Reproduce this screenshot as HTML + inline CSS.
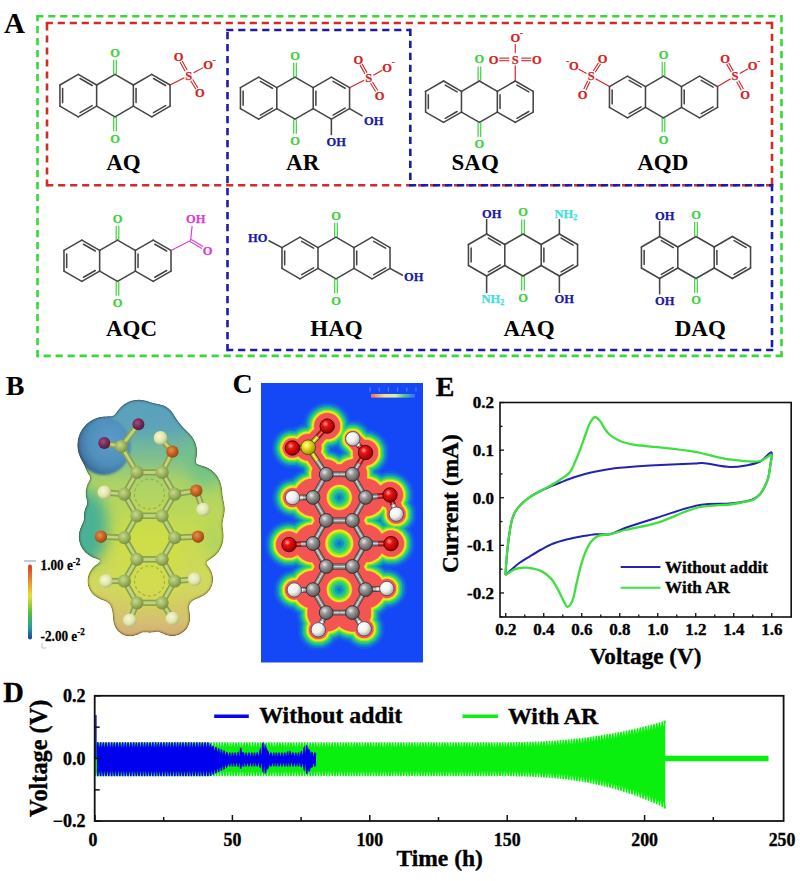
<!DOCTYPE html>
<html><head><meta charset="utf-8"><style>
html,body{margin:0;padding:0;background:#fff;width:800px;height:881px;overflow:hidden}
svg{display:block}
</style></head><body>
<svg width="800" height="881" viewBox="0 0 800 881">
<rect width="800" height="881" fill="#fff"/>
<g fill="none" stroke="#38d838" stroke-width="2.6" stroke-dasharray="7.2 4.8">
<path d="M36.20 16.30 L781.50 16.30"/>
<path d="M781.50 15.00 L781.50 355.90"/>
<path d="M782.80 355.90 L37.50 355.90"/>
<path d="M37.50 357.20 L37.50 16.30"/>
</g>
<g fill="none" stroke="#d42a2a" stroke-width="2.6" stroke-dasharray="7.2 4.8">
<path d="M45.70 23.00 L772.00 23.00"/>
<path d="M772.00 21.70 L772.00 185.30"/>
<path d="M773.30 185.30 L47.00 185.30"/>
<path d="M47.00 186.60 L47.00 23.00"/>
</g>
<g fill="none" stroke="#1c1ca8" stroke-width="2.6" stroke-dasharray="7.2 4.8">
<path d="M226.20 30.00 L410.30 30.00"/>
<path d="M410.30 28.70 L410.30 185.30"/>
<path d="M409.00 185.30 L772.00 185.30"/>
<path d="M772.00 184.00 L772.00 350.00"/>
<path d="M773.30 350.00 L227.50 350.00"/>
<path d="M227.50 351.30 L227.50 30.00"/>
</g>
<text transform="translate(14.50,32.80) scale(1,1.05)" font-family="Liberation Serif" font-weight="bold" font-size="29" fill="#000" stroke="#000" stroke-width="0" text-anchor="middle" >A</text>
<g stroke-linecap="round">
<line x1="78.28" y1="74.40" x2="96.64" y2="85.00" stroke="#454545" stroke-width="1.55"/>
<line x1="96.64" y1="85.00" x2="96.64" y2="106.20" stroke="#454545" stroke-width="1.55"/>
<line x1="96.64" y1="106.20" x2="78.28" y2="116.80" stroke="#454545" stroke-width="1.55"/>
<line x1="78.28" y1="116.80" x2="59.92" y2="106.20" stroke="#454545" stroke-width="1.55"/>
<line x1="59.92" y1="106.20" x2="59.92" y2="85.00" stroke="#454545" stroke-width="1.55"/>
<line x1="59.92" y1="85.00" x2="78.28" y2="74.40" stroke="#454545" stroke-width="1.55"/>
<line x1="115.00" y1="74.40" x2="133.36" y2="85.00" stroke="#454545" stroke-width="1.55"/>
<line x1="133.36" y1="85.00" x2="133.36" y2="106.20" stroke="#454545" stroke-width="1.55"/>
<line x1="133.36" y1="106.20" x2="115.00" y2="116.80" stroke="#454545" stroke-width="1.55"/>
<line x1="115.00" y1="116.80" x2="96.64" y2="106.20" stroke="#454545" stroke-width="1.55"/>
<line x1="96.64" y1="85.00" x2="115.00" y2="74.40" stroke="#454545" stroke-width="1.55"/>
<line x1="151.72" y1="74.40" x2="170.08" y2="85.00" stroke="#454545" stroke-width="1.55"/>
<line x1="170.08" y1="85.00" x2="170.08" y2="106.20" stroke="#454545" stroke-width="1.55"/>
<line x1="170.08" y1="106.20" x2="151.72" y2="116.80" stroke="#454545" stroke-width="1.55"/>
<line x1="151.72" y1="116.80" x2="133.36" y2="106.20" stroke="#454545" stroke-width="1.55"/>
<line x1="133.36" y1="85.00" x2="151.72" y2="74.40" stroke="#454545" stroke-width="1.55"/>
<line x1="80.05" y1="78.54" x2="92.17" y2="85.54" stroke="#454545" stroke-width="1.55"/>
<line x1="92.17" y1="105.66" x2="80.05" y2="112.66" stroke="#454545" stroke-width="1.55"/>
<line x1="62.62" y1="102.60" x2="62.62" y2="88.60" stroke="#454545" stroke-width="1.55"/>
<line x1="153.49" y1="78.54" x2="165.61" y2="85.54" stroke="#454545" stroke-width="1.55"/>
<line x1="165.61" y1="105.66" x2="153.49" y2="112.66" stroke="#454545" stroke-width="1.55"/>
<line x1="136.06" y1="102.60" x2="136.06" y2="88.60" stroke="#454545" stroke-width="1.55"/>
</g>
<line x1="116.30" y1="74.40" x2="116.30" y2="59.90" stroke="#3fd23f" stroke-width="1.2"/>
<line x1="113.70" y1="74.40" x2="113.70" y2="59.90" stroke="#3fd23f" stroke-width="1.2"/>
<line x1="113.70" y1="116.80" x2="113.70" y2="131.30" stroke="#3fd23f" stroke-width="1.2"/>
<line x1="116.30" y1="116.80" x2="116.30" y2="131.30" stroke="#3fd23f" stroke-width="1.2"/>
<text transform="translate(115.00,56.82) scale(1,1.0)" font-family="Liberation Serif" font-weight="bold" font-size="12.5" fill="#3fd23f" stroke="#3fd23f" stroke-width="0.25" text-anchor="middle" >O</text>
<text transform="translate(115.00,142.62) scale(1,1.0)" font-family="Liberation Serif" font-weight="bold" font-size="12.5" fill="#3fd23f" stroke="#3fd23f" stroke-width="0.25" text-anchor="middle" >O</text>
<line x1="170.08" y1="85.00" x2="184.35" y2="77.68" stroke="#d42424" stroke-width="1.2"/>
<line x1="187.19" y1="70.01" x2="182.21" y2="61.03" stroke="#d42424" stroke-width="1.1"/>
<line x1="185.09" y1="71.17" x2="180.11" y2="62.19" stroke="#d42424" stroke-width="1.1"/>
<line x1="190.66" y1="80.71" x2="195.90" y2="89.24" stroke="#d42424" stroke-width="1.1"/>
<line x1="192.70" y1="79.46" x2="197.94" y2="87.99" stroke="#d42424" stroke-width="1.1"/>
<line x1="193.64" y1="72.78" x2="203.16" y2="67.62" stroke="#d42424" stroke-width="1.1"/>
<text transform="translate(188.80,79.53) scale(1,1.0)" font-family="Liberation Serif" font-weight="bold" font-size="12.5" fill="#d42424" stroke="#d42424" stroke-width="0.25" text-anchor="middle" >S</text>
<text transform="translate(178.50,60.92) scale(1,1.0)" font-family="Liberation Serif" font-weight="bold" font-size="12.5" fill="#d42424" stroke="#d42424" stroke-width="0.25" text-anchor="middle" >O</text>
<text transform="translate(199.80,97.42) scale(1,1.0)" font-family="Liberation Serif" font-weight="bold" font-size="12.5" fill="#d42424" stroke="#d42424" stroke-width="0.25" text-anchor="middle" >O</text>
<text transform="translate(208.00,69.12) scale(1,1.0)" font-family="Liberation Serif" font-weight="bold" font-size="12.5" fill="#d42424" stroke="#d42424" stroke-width="0.25" text-anchor="middle" >O</text>
<text transform="translate(214.30,62.80) scale(1,1.0)" font-family="Liberation Serif" font-weight="bold" font-size="9" fill="#d42424" stroke="#d42424" stroke-width="0.25" text-anchor="middle" >-</text>
<text transform="translate(123.50,170.00) scale(1,1.03)" font-family="Liberation Serif" font-weight="bold" font-size="23" fill="#000" stroke="#000" stroke-width="0" text-anchor="middle" >AQ</text>
<g stroke-linecap="round">
<line x1="258.63" y1="77.20" x2="276.81" y2="87.70" stroke="#454545" stroke-width="1.55"/>
<line x1="276.81" y1="87.70" x2="276.81" y2="108.70" stroke="#454545" stroke-width="1.55"/>
<line x1="276.81" y1="108.70" x2="258.63" y2="119.20" stroke="#454545" stroke-width="1.55"/>
<line x1="258.63" y1="119.20" x2="240.44" y2="108.70" stroke="#454545" stroke-width="1.55"/>
<line x1="240.44" y1="108.70" x2="240.44" y2="87.70" stroke="#454545" stroke-width="1.55"/>
<line x1="240.44" y1="87.70" x2="258.63" y2="77.20" stroke="#454545" stroke-width="1.55"/>
<line x1="295.00" y1="77.20" x2="313.19" y2="87.70" stroke="#454545" stroke-width="1.55"/>
<line x1="313.19" y1="87.70" x2="313.19" y2="108.70" stroke="#454545" stroke-width="1.55"/>
<line x1="313.19" y1="108.70" x2="295.00" y2="119.20" stroke="#454545" stroke-width="1.55"/>
<line x1="295.00" y1="119.20" x2="276.81" y2="108.70" stroke="#454545" stroke-width="1.55"/>
<line x1="276.81" y1="87.70" x2="295.00" y2="77.20" stroke="#454545" stroke-width="1.55"/>
<line x1="331.37" y1="77.20" x2="349.56" y2="87.70" stroke="#454545" stroke-width="1.55"/>
<line x1="349.56" y1="87.70" x2="349.56" y2="108.70" stroke="#454545" stroke-width="1.55"/>
<line x1="349.56" y1="108.70" x2="331.37" y2="119.20" stroke="#454545" stroke-width="1.55"/>
<line x1="331.37" y1="119.20" x2="313.19" y2="108.70" stroke="#454545" stroke-width="1.55"/>
<line x1="313.19" y1="87.70" x2="331.37" y2="77.20" stroke="#454545" stroke-width="1.55"/>
<line x1="260.37" y1="81.32" x2="272.37" y2="88.25" stroke="#454545" stroke-width="1.55"/>
<line x1="272.37" y1="108.15" x2="260.37" y2="115.08" stroke="#454545" stroke-width="1.55"/>
<line x1="243.14" y1="105.13" x2="243.14" y2="91.27" stroke="#454545" stroke-width="1.55"/>
<line x1="333.11" y1="81.32" x2="345.12" y2="88.25" stroke="#454545" stroke-width="1.55"/>
<line x1="345.12" y1="108.15" x2="333.11" y2="115.08" stroke="#454545" stroke-width="1.55"/>
<line x1="315.89" y1="105.13" x2="315.89" y2="91.27" stroke="#454545" stroke-width="1.55"/>
</g>
<line x1="296.30" y1="77.20" x2="296.30" y2="62.70" stroke="#3fd23f" stroke-width="1.2"/>
<line x1="293.70" y1="77.20" x2="293.70" y2="62.70" stroke="#3fd23f" stroke-width="1.2"/>
<line x1="293.70" y1="119.20" x2="293.70" y2="133.70" stroke="#3fd23f" stroke-width="1.2"/>
<line x1="296.30" y1="119.20" x2="296.30" y2="133.70" stroke="#3fd23f" stroke-width="1.2"/>
<text transform="translate(295.00,59.62) scale(1,1.0)" font-family="Liberation Serif" font-weight="bold" font-size="12.5" fill="#3fd23f" stroke="#3fd23f" stroke-width="0.25" text-anchor="middle" >O</text>
<text transform="translate(295.00,145.03) scale(1,1.0)" font-family="Liberation Serif" font-weight="bold" font-size="12.5" fill="#3fd23f" stroke="#3fd23f" stroke-width="0.25" text-anchor="middle" >O</text>
<line x1="349.56" y1="87.70" x2="364.14" y2="80.27" stroke="#d42424" stroke-width="1.2"/>
<line x1="366.97" y1="72.61" x2="362.02" y2="63.72" stroke="#d42424" stroke-width="1.1"/>
<line x1="364.88" y1="73.78" x2="359.93" y2="64.89" stroke="#d42424" stroke-width="1.1"/>
<line x1="370.50" y1="83.30" x2="375.67" y2="91.57" stroke="#d42424" stroke-width="1.1"/>
<line x1="372.53" y1="82.03" x2="377.70" y2="90.30" stroke="#d42424" stroke-width="1.1"/>
<line x1="373.39" y1="75.29" x2="382.21" y2="70.31" stroke="#d42424" stroke-width="1.1"/>
<text transform="translate(368.60,82.12) scale(1,1.0)" font-family="Liberation Serif" font-weight="bold" font-size="12.5" fill="#d42424" stroke="#d42424" stroke-width="0.25" text-anchor="middle" >S</text>
<text transform="translate(358.30,63.62) scale(1,1.0)" font-family="Liberation Serif" font-weight="bold" font-size="12.5" fill="#d42424" stroke="#d42424" stroke-width="0.25" text-anchor="middle" >O</text>
<text transform="translate(379.60,99.72) scale(1,1.0)" font-family="Liberation Serif" font-weight="bold" font-size="12.5" fill="#d42424" stroke="#d42424" stroke-width="0.25" text-anchor="middle" >O</text>
<text transform="translate(387.00,71.72) scale(1,1.0)" font-family="Liberation Serif" font-weight="bold" font-size="12.5" fill="#d42424" stroke="#d42424" stroke-width="0.25" text-anchor="middle" >O</text>
<text transform="translate(393.30,65.40) scale(1,1.0)" font-family="Liberation Serif" font-weight="bold" font-size="9" fill="#d42424" stroke="#d42424" stroke-width="0.25" text-anchor="middle" >-</text>
<line x1="349.56" y1="108.70" x2="362.56" y2="116.20" stroke="#454545" stroke-width="1.55"/>
<text transform="translate(364.00,124.60) scale(1,1.0)" font-family="Liberation Serif" font-weight="bold" font-size="12.5" fill="#1a1aa6" stroke="#1a1aa6" stroke-width="0.25" text-anchor="start" >OH</text>
<line x1="331.37" y1="119.20" x2="331.37" y2="135.20" stroke="#454545" stroke-width="1.55"/>
<text transform="translate(326.57,146.20) scale(1,1.0)" font-family="Liberation Serif" font-weight="bold" font-size="12.5" fill="#1a1aa6" stroke="#1a1aa6" stroke-width="0.25" text-anchor="start" >OH</text>
<text transform="translate(302.70,170.00) scale(1,1.03)" font-family="Liberation Serif" font-weight="bold" font-size="23" fill="#000" stroke="#000" stroke-width="0" text-anchor="middle" >AR</text>
<g stroke-linecap="round">
<line x1="443.55" y1="81.00" x2="461.47" y2="91.35" stroke="#454545" stroke-width="1.55"/>
<line x1="461.47" y1="91.35" x2="461.47" y2="112.05" stroke="#454545" stroke-width="1.55"/>
<line x1="461.47" y1="112.05" x2="443.55" y2="122.40" stroke="#454545" stroke-width="1.55"/>
<line x1="443.55" y1="122.40" x2="425.62" y2="112.05" stroke="#454545" stroke-width="1.55"/>
<line x1="425.62" y1="112.05" x2="425.62" y2="91.35" stroke="#454545" stroke-width="1.55"/>
<line x1="425.62" y1="91.35" x2="443.55" y2="81.00" stroke="#454545" stroke-width="1.55"/>
<line x1="479.40" y1="81.00" x2="497.33" y2="91.35" stroke="#454545" stroke-width="1.55"/>
<line x1="497.33" y1="91.35" x2="497.33" y2="112.05" stroke="#454545" stroke-width="1.55"/>
<line x1="497.33" y1="112.05" x2="479.40" y2="122.40" stroke="#454545" stroke-width="1.55"/>
<line x1="479.40" y1="122.40" x2="461.47" y2="112.05" stroke="#454545" stroke-width="1.55"/>
<line x1="461.47" y1="91.35" x2="479.40" y2="81.00" stroke="#454545" stroke-width="1.55"/>
<line x1="515.25" y1="81.00" x2="533.18" y2="91.35" stroke="#454545" stroke-width="1.55"/>
<line x1="533.18" y1="91.35" x2="533.18" y2="112.05" stroke="#454545" stroke-width="1.55"/>
<line x1="533.18" y1="112.05" x2="515.25" y2="122.40" stroke="#454545" stroke-width="1.55"/>
<line x1="515.25" y1="122.40" x2="497.33" y2="112.05" stroke="#454545" stroke-width="1.55"/>
<line x1="497.33" y1="91.35" x2="515.25" y2="81.00" stroke="#454545" stroke-width="1.55"/>
<line x1="445.24" y1="85.10" x2="457.08" y2="91.93" stroke="#454545" stroke-width="1.55"/>
<line x1="457.08" y1="111.47" x2="445.24" y2="118.30" stroke="#454545" stroke-width="1.55"/>
<line x1="428.32" y1="108.53" x2="428.32" y2="94.87" stroke="#454545" stroke-width="1.55"/>
<line x1="516.95" y1="85.10" x2="528.78" y2="91.93" stroke="#454545" stroke-width="1.55"/>
<line x1="528.78" y1="111.47" x2="516.95" y2="118.30" stroke="#454545" stroke-width="1.55"/>
<line x1="500.03" y1="108.53" x2="500.03" y2="94.87" stroke="#454545" stroke-width="1.55"/>
</g>
<line x1="480.70" y1="81.00" x2="480.70" y2="66.50" stroke="#3fd23f" stroke-width="1.2"/>
<line x1="478.10" y1="81.00" x2="478.10" y2="66.50" stroke="#3fd23f" stroke-width="1.2"/>
<line x1="478.10" y1="122.40" x2="478.10" y2="136.90" stroke="#3fd23f" stroke-width="1.2"/>
<line x1="480.70" y1="122.40" x2="480.70" y2="136.90" stroke="#3fd23f" stroke-width="1.2"/>
<text transform="translate(479.40,63.42) scale(1,1.0)" font-family="Liberation Serif" font-weight="bold" font-size="12.5" fill="#3fd23f" stroke="#3fd23f" stroke-width="0.25" text-anchor="middle" >O</text>
<text transform="translate(479.40,148.22) scale(1,1.0)" font-family="Liberation Serif" font-weight="bold" font-size="12.5" fill="#3fd23f" stroke="#3fd23f" stroke-width="0.25" text-anchor="middle" >O</text>
<line x1="515.25" y1="81.00" x2="515.25" y2="65.40" stroke="#d42424" stroke-width="1.2"/>
<line x1="509.25" y1="58.10" x2="499.25" y2="58.10" stroke="#d42424" stroke-width="1.1"/>
<line x1="509.25" y1="60.70" x2="499.25" y2="60.70" stroke="#d42424" stroke-width="1.1"/>
<line x1="521.25" y1="60.70" x2="531.25" y2="60.70" stroke="#d42424" stroke-width="1.1"/>
<line x1="521.25" y1="58.10" x2="531.25" y2="58.10" stroke="#d42424" stroke-width="1.1"/>
<line x1="515.25" y1="52.90" x2="515.25" y2="43.90" stroke="#d42424" stroke-width="1.1"/>
<text transform="translate(515.25,63.52) scale(1,1.0)" font-family="Liberation Serif" font-weight="bold" font-size="12.5" fill="#d42424" stroke="#d42424" stroke-width="0.25" text-anchor="middle" >S</text>
<text transform="translate(493.65,63.52) scale(1,1.0)" font-family="Liberation Serif" font-weight="bold" font-size="12.5" fill="#d42424" stroke="#d42424" stroke-width="0.25" text-anchor="middle" >O</text>
<text transform="translate(536.85,63.52) scale(1,1.0)" font-family="Liberation Serif" font-weight="bold" font-size="12.5" fill="#d42424" stroke="#d42424" stroke-width="0.25" text-anchor="middle" >O</text>
<text transform="translate(515.25,41.92) scale(1,1.0)" font-family="Liberation Serif" font-weight="bold" font-size="12.5" fill="#d42424" stroke="#d42424" stroke-width="0.25" text-anchor="middle" >O</text>
<text transform="translate(521.45,35.50) scale(1,1.0)" font-family="Liberation Serif" font-weight="bold" font-size="9" fill="#d42424" stroke="#d42424" stroke-width="0.25" text-anchor="middle" >-</text>
<text transform="translate(475.20,170.00) scale(1,1.03)" font-family="Liberation Serif" font-weight="bold" font-size="23" fill="#000" stroke="#000" stroke-width="0" text-anchor="middle" >SAQ</text>
<g stroke-linecap="round">
<line x1="627.47" y1="76.20" x2="645.49" y2="86.60" stroke="#454545" stroke-width="1.55"/>
<line x1="645.49" y1="86.60" x2="645.49" y2="107.40" stroke="#454545" stroke-width="1.55"/>
<line x1="645.49" y1="107.40" x2="627.47" y2="117.80" stroke="#454545" stroke-width="1.55"/>
<line x1="627.47" y1="117.80" x2="609.46" y2="107.40" stroke="#454545" stroke-width="1.55"/>
<line x1="609.46" y1="107.40" x2="609.46" y2="86.60" stroke="#454545" stroke-width="1.55"/>
<line x1="609.46" y1="86.60" x2="627.47" y2="76.20" stroke="#454545" stroke-width="1.55"/>
<line x1="663.50" y1="76.20" x2="681.51" y2="86.60" stroke="#454545" stroke-width="1.55"/>
<line x1="681.51" y1="86.60" x2="681.51" y2="107.40" stroke="#454545" stroke-width="1.55"/>
<line x1="681.51" y1="107.40" x2="663.50" y2="117.80" stroke="#454545" stroke-width="1.55"/>
<line x1="663.50" y1="117.80" x2="645.49" y2="107.40" stroke="#454545" stroke-width="1.55"/>
<line x1="645.49" y1="86.60" x2="663.50" y2="76.20" stroke="#454545" stroke-width="1.55"/>
<line x1="699.53" y1="76.20" x2="717.54" y2="86.60" stroke="#454545" stroke-width="1.55"/>
<line x1="717.54" y1="86.60" x2="717.54" y2="107.40" stroke="#454545" stroke-width="1.55"/>
<line x1="717.54" y1="107.40" x2="699.53" y2="117.80" stroke="#454545" stroke-width="1.55"/>
<line x1="699.53" y1="117.80" x2="681.51" y2="107.40" stroke="#454545" stroke-width="1.55"/>
<line x1="681.51" y1="86.60" x2="699.53" y2="76.20" stroke="#454545" stroke-width="1.55"/>
<line x1="629.19" y1="80.31" x2="641.07" y2="87.17" stroke="#454545" stroke-width="1.55"/>
<line x1="641.07" y1="106.83" x2="629.19" y2="113.69" stroke="#454545" stroke-width="1.55"/>
<line x1="612.16" y1="103.86" x2="612.16" y2="90.14" stroke="#454545" stroke-width="1.55"/>
<line x1="701.24" y1="80.31" x2="713.13" y2="87.17" stroke="#454545" stroke-width="1.55"/>
<line x1="713.13" y1="106.83" x2="701.24" y2="113.69" stroke="#454545" stroke-width="1.55"/>
<line x1="684.21" y1="103.86" x2="684.21" y2="90.14" stroke="#454545" stroke-width="1.55"/>
</g>
<line x1="664.80" y1="76.20" x2="664.80" y2="61.70" stroke="#3fd23f" stroke-width="1.2"/>
<line x1="662.20" y1="76.20" x2="662.20" y2="61.70" stroke="#3fd23f" stroke-width="1.2"/>
<line x1="662.20" y1="117.80" x2="662.20" y2="132.30" stroke="#3fd23f" stroke-width="1.2"/>
<line x1="664.80" y1="117.80" x2="664.80" y2="132.30" stroke="#3fd23f" stroke-width="1.2"/>
<text transform="translate(663.50,58.62) scale(1,1.0)" font-family="Liberation Serif" font-weight="bold" font-size="12.5" fill="#3fd23f" stroke="#3fd23f" stroke-width="0.25" text-anchor="middle" >O</text>
<text transform="translate(663.50,143.62) scale(1,1.0)" font-family="Liberation Serif" font-weight="bold" font-size="12.5" fill="#3fd23f" stroke="#3fd23f" stroke-width="0.25" text-anchor="middle" >O</text>
<line x1="609.46" y1="86.60" x2="595.60" y2="78.72" stroke="#d42424" stroke-width="1.2"/>
<line x1="595.23" y1="72.27" x2="600.54" y2="64.03" stroke="#d42424" stroke-width="1.1"/>
<line x1="593.21" y1="70.97" x2="598.52" y2="62.73" stroke="#d42424" stroke-width="1.1"/>
<line x1="587.79" y1="80.69" x2="583.80" y2="89.02" stroke="#d42424" stroke-width="1.1"/>
<line x1="589.95" y1="81.73" x2="585.96" y2="90.06" stroke="#d42424" stroke-width="1.1"/>
<line x1="586.47" y1="73.52" x2="578.53" y2="68.98" stroke="#d42424" stroke-width="1.1"/>
<text transform="translate(591.25,80.38) scale(1,1.0)" font-family="Liberation Serif" font-weight="bold" font-size="12.5" fill="#d42424" stroke="#d42424" stroke-width="0.25" text-anchor="middle" >S</text>
<text transform="translate(602.50,62.88) scale(1,1.0)" font-family="Liberation Serif" font-weight="bold" font-size="12.5" fill="#d42424" stroke="#d42424" stroke-width="0.25" text-anchor="middle" >O</text>
<text transform="translate(582.50,98.62) scale(1,1.0)" font-family="Liberation Serif" font-weight="bold" font-size="12.5" fill="#d42424" stroke="#d42424" stroke-width="0.25" text-anchor="middle" >O</text>
<text transform="translate(573.75,70.38) scale(1,1.0)" font-family="Liberation Serif" font-weight="bold" font-size="12.5" fill="#d42424" stroke="#d42424" stroke-width="0.25" text-anchor="middle" >O</text>
<text transform="translate(567.45,64.05) scale(1,1.0)" font-family="Liberation Serif" font-weight="bold" font-size="9" fill="#d42424" stroke="#d42424" stroke-width="0.25" text-anchor="middle" >-</text>
<line x1="717.54" y1="86.60" x2="730.70" y2="78.80" stroke="#d42424" stroke-width="1.2"/>
<line x1="733.31" y1="70.88" x2="728.77" y2="62.93" stroke="#d42424" stroke-width="1.1"/>
<line x1="731.23" y1="72.07" x2="726.69" y2="64.12" stroke="#d42424" stroke-width="1.1"/>
<line x1="736.59" y1="81.65" x2="741.30" y2="90.25" stroke="#d42424" stroke-width="1.1"/>
<line x1="738.70" y1="80.50" x2="743.41" y2="89.10" stroke="#d42424" stroke-width="1.1"/>
<line x1="739.78" y1="73.52" x2="747.72" y2="68.98" stroke="#d42424" stroke-width="1.1"/>
<text transform="translate(735.00,80.38) scale(1,1.0)" font-family="Liberation Serif" font-weight="bold" font-size="12.5" fill="#d42424" stroke="#d42424" stroke-width="0.25" text-anchor="middle" >S</text>
<text transform="translate(725.00,62.88) scale(1,1.0)" font-family="Liberation Serif" font-weight="bold" font-size="12.5" fill="#d42424" stroke="#d42424" stroke-width="0.25" text-anchor="middle" >O</text>
<text transform="translate(745.00,98.62) scale(1,1.0)" font-family="Liberation Serif" font-weight="bold" font-size="12.5" fill="#d42424" stroke="#d42424" stroke-width="0.25" text-anchor="middle" >O</text>
<text transform="translate(752.50,70.38) scale(1,1.0)" font-family="Liberation Serif" font-weight="bold" font-size="12.5" fill="#d42424" stroke="#d42424" stroke-width="0.25" text-anchor="middle" >O</text>
<text transform="translate(758.80,64.05) scale(1,1.0)" font-family="Liberation Serif" font-weight="bold" font-size="9" fill="#d42424" stroke="#d42424" stroke-width="0.25" text-anchor="middle" >-</text>
<text transform="translate(662.70,170.00) scale(1,1.03)" font-family="Liberation Serif" font-weight="bold" font-size="23" fill="#000" stroke="#000" stroke-width="0" text-anchor="middle" >AQD</text>
<g stroke-linecap="round">
<line x1="81.82" y1="240.15" x2="99.66" y2="250.45" stroke="#454545" stroke-width="1.55"/>
<line x1="99.66" y1="250.45" x2="99.66" y2="271.05" stroke="#454545" stroke-width="1.55"/>
<line x1="99.66" y1="271.05" x2="81.82" y2="281.35" stroke="#454545" stroke-width="1.55"/>
<line x1="81.82" y1="281.35" x2="63.98" y2="271.05" stroke="#454545" stroke-width="1.55"/>
<line x1="63.98" y1="271.05" x2="63.98" y2="250.45" stroke="#454545" stroke-width="1.55"/>
<line x1="63.98" y1="250.45" x2="81.82" y2="240.15" stroke="#454545" stroke-width="1.55"/>
<line x1="117.50" y1="240.15" x2="135.34" y2="250.45" stroke="#454545" stroke-width="1.55"/>
<line x1="135.34" y1="250.45" x2="135.34" y2="271.05" stroke="#454545" stroke-width="1.55"/>
<line x1="135.34" y1="271.05" x2="117.50" y2="281.35" stroke="#454545" stroke-width="1.55"/>
<line x1="117.50" y1="281.35" x2="99.66" y2="271.05" stroke="#454545" stroke-width="1.55"/>
<line x1="99.66" y1="250.45" x2="117.50" y2="240.15" stroke="#454545" stroke-width="1.55"/>
<line x1="153.18" y1="240.15" x2="171.02" y2="250.45" stroke="#454545" stroke-width="1.55"/>
<line x1="171.02" y1="250.45" x2="171.02" y2="271.05" stroke="#454545" stroke-width="1.55"/>
<line x1="171.02" y1="271.05" x2="153.18" y2="281.35" stroke="#454545" stroke-width="1.55"/>
<line x1="153.18" y1="281.35" x2="135.34" y2="271.05" stroke="#454545" stroke-width="1.55"/>
<line x1="135.34" y1="250.45" x2="153.18" y2="240.15" stroke="#454545" stroke-width="1.55"/>
<line x1="83.50" y1="244.24" x2="95.28" y2="251.04" stroke="#454545" stroke-width="1.55"/>
<line x1="95.28" y1="270.46" x2="83.50" y2="277.26" stroke="#454545" stroke-width="1.55"/>
<line x1="66.68" y1="267.55" x2="66.68" y2="253.95" stroke="#454545" stroke-width="1.55"/>
<line x1="154.86" y1="244.24" x2="166.64" y2="251.04" stroke="#454545" stroke-width="1.55"/>
<line x1="166.64" y1="270.46" x2="154.86" y2="277.26" stroke="#454545" stroke-width="1.55"/>
<line x1="138.04" y1="267.55" x2="138.04" y2="253.95" stroke="#454545" stroke-width="1.55"/>
</g>
<line x1="118.80" y1="240.15" x2="118.80" y2="225.65" stroke="#3fd23f" stroke-width="1.2"/>
<line x1="116.20" y1="240.15" x2="116.20" y2="225.65" stroke="#3fd23f" stroke-width="1.2"/>
<line x1="116.20" y1="281.35" x2="116.20" y2="295.85" stroke="#3fd23f" stroke-width="1.2"/>
<line x1="118.80" y1="281.35" x2="118.80" y2="295.85" stroke="#3fd23f" stroke-width="1.2"/>
<text transform="translate(117.50,222.58) scale(1,1.0)" font-family="Liberation Serif" font-weight="bold" font-size="12.5" fill="#3fd23f" stroke="#3fd23f" stroke-width="0.25" text-anchor="middle" >O</text>
<text transform="translate(117.50,307.18) scale(1,1.0)" font-family="Liberation Serif" font-weight="bold" font-size="12.5" fill="#3fd23f" stroke="#3fd23f" stroke-width="0.25" text-anchor="middle" >O</text>
<line x1="171.02" y1="250.45" x2="190.60" y2="240.50" stroke="#d83fd8" stroke-width="1.2"/>
<line x1="190.60" y1="240.50" x2="192.10" y2="226.00" stroke="#d83fd8" stroke-width="1.2"/>
<line x1="189.99" y1="241.53" x2="201.89" y2="248.53" stroke="#d83fd8" stroke-width="1.1"/>
<line x1="191.21" y1="239.47" x2="203.11" y2="246.47" stroke="#d83fd8" stroke-width="1.1"/>
<text transform="translate(186.00,223.20) scale(1,1.0)" font-family="Liberation Serif" font-weight="bold" font-size="12.5" fill="#d83fd8" stroke="#d83fd8" stroke-width="0.25" text-anchor="start" >OH</text>
<text transform="translate(207.50,254.72) scale(1,1.0)" font-family="Liberation Serif" font-weight="bold" font-size="12.5" fill="#d83fd8" stroke="#d83fd8" stroke-width="0.25" text-anchor="middle" >O</text>
<text transform="translate(131.50,335.60) scale(1,1.03)" font-family="Liberation Serif" font-weight="bold" font-size="23" fill="#000" stroke="#000" stroke-width="0" text-anchor="middle" >AQC</text>
<g stroke-linecap="round">
<line x1="299.97" y1="237.20" x2="317.99" y2="247.60" stroke="#454545" stroke-width="1.55"/>
<line x1="317.99" y1="247.60" x2="317.99" y2="268.40" stroke="#454545" stroke-width="1.55"/>
<line x1="317.99" y1="268.40" x2="299.97" y2="278.80" stroke="#454545" stroke-width="1.55"/>
<line x1="299.97" y1="278.80" x2="281.96" y2="268.40" stroke="#454545" stroke-width="1.55"/>
<line x1="281.96" y1="268.40" x2="281.96" y2="247.60" stroke="#454545" stroke-width="1.55"/>
<line x1="281.96" y1="247.60" x2="299.97" y2="237.20" stroke="#454545" stroke-width="1.55"/>
<line x1="336.00" y1="237.20" x2="354.01" y2="247.60" stroke="#454545" stroke-width="1.55"/>
<line x1="354.01" y1="247.60" x2="354.01" y2="268.40" stroke="#454545" stroke-width="1.55"/>
<line x1="354.01" y1="268.40" x2="336.00" y2="278.80" stroke="#454545" stroke-width="1.55"/>
<line x1="336.00" y1="278.80" x2="317.99" y2="268.40" stroke="#454545" stroke-width="1.55"/>
<line x1="317.99" y1="247.60" x2="336.00" y2="237.20" stroke="#454545" stroke-width="1.55"/>
<line x1="372.03" y1="237.20" x2="390.04" y2="247.60" stroke="#454545" stroke-width="1.55"/>
<line x1="390.04" y1="247.60" x2="390.04" y2="268.40" stroke="#454545" stroke-width="1.55"/>
<line x1="390.04" y1="268.40" x2="372.03" y2="278.80" stroke="#454545" stroke-width="1.55"/>
<line x1="372.03" y1="278.80" x2="354.01" y2="268.40" stroke="#454545" stroke-width="1.55"/>
<line x1="354.01" y1="247.60" x2="372.03" y2="237.20" stroke="#454545" stroke-width="1.55"/>
<line x1="301.69" y1="241.31" x2="313.57" y2="248.17" stroke="#454545" stroke-width="1.55"/>
<line x1="313.57" y1="267.83" x2="301.69" y2="274.69" stroke="#454545" stroke-width="1.55"/>
<line x1="284.66" y1="264.86" x2="284.66" y2="251.14" stroke="#454545" stroke-width="1.55"/>
<line x1="373.74" y1="241.31" x2="385.63" y2="248.17" stroke="#454545" stroke-width="1.55"/>
<line x1="385.63" y1="267.83" x2="373.74" y2="274.69" stroke="#454545" stroke-width="1.55"/>
<line x1="356.71" y1="264.86" x2="356.71" y2="251.14" stroke="#454545" stroke-width="1.55"/>
</g>
<line x1="337.30" y1="237.20" x2="337.30" y2="222.70" stroke="#3fd23f" stroke-width="1.2"/>
<line x1="334.70" y1="237.20" x2="334.70" y2="222.70" stroke="#3fd23f" stroke-width="1.2"/>
<line x1="334.70" y1="278.80" x2="334.70" y2="293.30" stroke="#3fd23f" stroke-width="1.2"/>
<line x1="337.30" y1="278.80" x2="337.30" y2="293.30" stroke="#3fd23f" stroke-width="1.2"/>
<text transform="translate(336.00,219.62) scale(1,1.0)" font-family="Liberation Serif" font-weight="bold" font-size="12.5" fill="#3fd23f" stroke="#3fd23f" stroke-width="0.25" text-anchor="middle" >O</text>
<text transform="translate(336.00,304.62) scale(1,1.0)" font-family="Liberation Serif" font-weight="bold" font-size="12.5" fill="#3fd23f" stroke="#3fd23f" stroke-width="0.25" text-anchor="middle" >O</text>
<line x1="281.96" y1="247.60" x2="268.50" y2="240.50" stroke="#454545" stroke-width="1.55"/>
<text transform="translate(267.50,242.40) scale(1,1.0)" font-family="Liberation Serif" font-weight="bold" font-size="12.5" fill="#1a1aa6" stroke="#1a1aa6" stroke-width="0.25" text-anchor="end" >HO</text>
<line x1="390.04" y1="268.40" x2="403.00" y2="275.50" stroke="#454545" stroke-width="1.55"/>
<text transform="translate(404.00,281.20) scale(1,1.0)" font-family="Liberation Serif" font-weight="bold" font-size="12.5" fill="#1a1aa6" stroke="#1a1aa6" stroke-width="0.25" text-anchor="start" >OH</text>
<text transform="translate(336.50,335.60) scale(1,1.03)" font-family="Liberation Serif" font-weight="bold" font-size="23" fill="#000" stroke="#000" stroke-width="0" text-anchor="middle" >HAQ</text>
<g stroke-linecap="round">
<line x1="486.63" y1="234.00" x2="504.81" y2="244.50" stroke="#454545" stroke-width="1.55"/>
<line x1="504.81" y1="244.50" x2="504.81" y2="265.50" stroke="#454545" stroke-width="1.55"/>
<line x1="504.81" y1="265.50" x2="486.63" y2="276.00" stroke="#454545" stroke-width="1.55"/>
<line x1="486.63" y1="276.00" x2="468.44" y2="265.50" stroke="#454545" stroke-width="1.55"/>
<line x1="468.44" y1="265.50" x2="468.44" y2="244.50" stroke="#454545" stroke-width="1.55"/>
<line x1="468.44" y1="244.50" x2="486.63" y2="234.00" stroke="#454545" stroke-width="1.55"/>
<line x1="523.00" y1="234.00" x2="541.19" y2="244.50" stroke="#454545" stroke-width="1.55"/>
<line x1="541.19" y1="244.50" x2="541.19" y2="265.50" stroke="#454545" stroke-width="1.55"/>
<line x1="541.19" y1="265.50" x2="523.00" y2="276.00" stroke="#454545" stroke-width="1.55"/>
<line x1="523.00" y1="276.00" x2="504.81" y2="265.50" stroke="#454545" stroke-width="1.55"/>
<line x1="504.81" y1="244.50" x2="523.00" y2="234.00" stroke="#454545" stroke-width="1.55"/>
<line x1="559.37" y1="234.00" x2="577.56" y2="244.50" stroke="#454545" stroke-width="1.55"/>
<line x1="577.56" y1="244.50" x2="577.56" y2="265.50" stroke="#454545" stroke-width="1.55"/>
<line x1="577.56" y1="265.50" x2="559.37" y2="276.00" stroke="#454545" stroke-width="1.55"/>
<line x1="559.37" y1="276.00" x2="541.19" y2="265.50" stroke="#454545" stroke-width="1.55"/>
<line x1="541.19" y1="244.50" x2="559.37" y2="234.00" stroke="#454545" stroke-width="1.55"/>
<line x1="488.37" y1="238.12" x2="500.37" y2="245.05" stroke="#454545" stroke-width="1.55"/>
<line x1="500.37" y1="264.95" x2="488.37" y2="271.88" stroke="#454545" stroke-width="1.55"/>
<line x1="471.14" y1="261.93" x2="471.14" y2="248.07" stroke="#454545" stroke-width="1.55"/>
<line x1="561.11" y1="238.12" x2="573.12" y2="245.05" stroke="#454545" stroke-width="1.55"/>
<line x1="573.12" y1="264.95" x2="561.11" y2="271.88" stroke="#454545" stroke-width="1.55"/>
<line x1="543.89" y1="261.93" x2="543.89" y2="248.07" stroke="#454545" stroke-width="1.55"/>
</g>
<line x1="524.30" y1="234.00" x2="524.30" y2="219.50" stroke="#3fd23f" stroke-width="1.2"/>
<line x1="521.70" y1="234.00" x2="521.70" y2="219.50" stroke="#3fd23f" stroke-width="1.2"/>
<line x1="521.70" y1="276.00" x2="521.70" y2="290.50" stroke="#3fd23f" stroke-width="1.2"/>
<line x1="524.30" y1="276.00" x2="524.30" y2="290.50" stroke="#3fd23f" stroke-width="1.2"/>
<text transform="translate(523.00,216.43) scale(1,1.0)" font-family="Liberation Serif" font-weight="bold" font-size="12.5" fill="#3fd23f" stroke="#3fd23f" stroke-width="0.25" text-anchor="middle" >O</text>
<text transform="translate(523.00,301.82) scale(1,1.0)" font-family="Liberation Serif" font-weight="bold" font-size="12.5" fill="#3fd23f" stroke="#3fd23f" stroke-width="0.25" text-anchor="middle" >O</text>
<line x1="486.63" y1="234.00" x2="486.63" y2="219.00" stroke="#454545" stroke-width="1.55"/>
<text transform="translate(482.03,217.60) scale(1,1.0)" font-family="Liberation Serif" font-weight="bold" font-size="12.5" fill="#1a1aa6" stroke="#1a1aa6" stroke-width="0.25" text-anchor="start" >OH</text>
<line x1="559.37" y1="234.00" x2="559.37" y2="219.00" stroke="#454545" stroke-width="1.55"/>
<text transform="translate(554.57,217.60) scale(1,1.0)" font-family="Liberation Serif" font-weight="bold" font-size="12.5" fill="#3fdede" stroke="#3fdede" stroke-width="0.25" text-anchor="start" >NH<tspan font-size="8" dy="2.5">2</tspan></text>
<line x1="486.63" y1="276.00" x2="486.63" y2="293.00" stroke="#454545" stroke-width="1.55"/>
<text transform="translate(481.43,302.90) scale(1,1.0)" font-family="Liberation Serif" font-weight="bold" font-size="12.5" fill="#3fdede" stroke="#3fdede" stroke-width="0.25" text-anchor="start" >NH<tspan font-size="8" dy="2.5">2</tspan></text>
<line x1="559.37" y1="276.00" x2="559.37" y2="293.00" stroke="#454545" stroke-width="1.55"/>
<text transform="translate(554.57,302.90) scale(1,1.0)" font-family="Liberation Serif" font-weight="bold" font-size="12.5" fill="#1a1aa6" stroke="#1a1aa6" stroke-width="0.25" text-anchor="start" >OH</text>
<text transform="translate(529.00,335.60) scale(1,1.03)" font-family="Liberation Serif" font-weight="bold" font-size="23" fill="#000" stroke="#000" stroke-width="0" text-anchor="middle" >AAQ</text>
<g stroke-linecap="round">
<line x1="659.63" y1="236.50" x2="677.81" y2="247.00" stroke="#454545" stroke-width="1.55"/>
<line x1="677.81" y1="247.00" x2="677.81" y2="268.00" stroke="#454545" stroke-width="1.55"/>
<line x1="677.81" y1="268.00" x2="659.63" y2="278.50" stroke="#454545" stroke-width="1.55"/>
<line x1="659.63" y1="278.50" x2="641.44" y2="268.00" stroke="#454545" stroke-width="1.55"/>
<line x1="641.44" y1="268.00" x2="641.44" y2="247.00" stroke="#454545" stroke-width="1.55"/>
<line x1="641.44" y1="247.00" x2="659.63" y2="236.50" stroke="#454545" stroke-width="1.55"/>
<line x1="696.00" y1="236.50" x2="714.19" y2="247.00" stroke="#454545" stroke-width="1.55"/>
<line x1="714.19" y1="247.00" x2="714.19" y2="268.00" stroke="#454545" stroke-width="1.55"/>
<line x1="714.19" y1="268.00" x2="696.00" y2="278.50" stroke="#454545" stroke-width="1.55"/>
<line x1="696.00" y1="278.50" x2="677.81" y2="268.00" stroke="#454545" stroke-width="1.55"/>
<line x1="677.81" y1="247.00" x2="696.00" y2="236.50" stroke="#454545" stroke-width="1.55"/>
<line x1="732.37" y1="236.50" x2="750.56" y2="247.00" stroke="#454545" stroke-width="1.55"/>
<line x1="750.56" y1="247.00" x2="750.56" y2="268.00" stroke="#454545" stroke-width="1.55"/>
<line x1="750.56" y1="268.00" x2="732.37" y2="278.50" stroke="#454545" stroke-width="1.55"/>
<line x1="732.37" y1="278.50" x2="714.19" y2="268.00" stroke="#454545" stroke-width="1.55"/>
<line x1="714.19" y1="247.00" x2="732.37" y2="236.50" stroke="#454545" stroke-width="1.55"/>
<line x1="661.37" y1="240.62" x2="673.37" y2="247.55" stroke="#454545" stroke-width="1.55"/>
<line x1="673.37" y1="267.45" x2="661.37" y2="274.38" stroke="#454545" stroke-width="1.55"/>
<line x1="644.14" y1="264.43" x2="644.14" y2="250.57" stroke="#454545" stroke-width="1.55"/>
<line x1="734.11" y1="240.62" x2="746.12" y2="247.55" stroke="#454545" stroke-width="1.55"/>
<line x1="746.12" y1="267.45" x2="734.11" y2="274.38" stroke="#454545" stroke-width="1.55"/>
<line x1="716.89" y1="264.43" x2="716.89" y2="250.57" stroke="#454545" stroke-width="1.55"/>
</g>
<line x1="697.30" y1="236.50" x2="697.30" y2="222.00" stroke="#3fd23f" stroke-width="1.2"/>
<line x1="694.70" y1="236.50" x2="694.70" y2="222.00" stroke="#3fd23f" stroke-width="1.2"/>
<line x1="694.70" y1="278.50" x2="694.70" y2="293.00" stroke="#3fd23f" stroke-width="1.2"/>
<line x1="697.30" y1="278.50" x2="697.30" y2="293.00" stroke="#3fd23f" stroke-width="1.2"/>
<text transform="translate(696.00,218.93) scale(1,1.0)" font-family="Liberation Serif" font-weight="bold" font-size="12.5" fill="#3fd23f" stroke="#3fd23f" stroke-width="0.25" text-anchor="middle" >O</text>
<text transform="translate(696.00,304.32) scale(1,1.0)" font-family="Liberation Serif" font-weight="bold" font-size="12.5" fill="#3fd23f" stroke="#3fd23f" stroke-width="0.25" text-anchor="middle" >O</text>
<line x1="659.63" y1="236.50" x2="659.63" y2="221.00" stroke="#454545" stroke-width="1.55"/>
<text transform="translate(655.03,219.50) scale(1,1.0)" font-family="Liberation Serif" font-weight="bold" font-size="12.5" fill="#1a1aa6" stroke="#1a1aa6" stroke-width="0.25" text-anchor="start" >OH</text>
<line x1="659.63" y1="278.50" x2="659.63" y2="294.50" stroke="#454545" stroke-width="1.55"/>
<text transform="translate(655.03,304.80) scale(1,1.0)" font-family="Liberation Serif" font-weight="bold" font-size="12.5" fill="#1a1aa6" stroke="#1a1aa6" stroke-width="0.25" text-anchor="start" >OH</text>
<text transform="translate(700.30,335.60) scale(1,1.03)" font-family="Liberation Serif" font-weight="bold" font-size="23" fill="#000" stroke="#000" stroke-width="0" text-anchor="middle" >DAQ</text>
<text x="15.00" y="394.50" font-family="Liberation Serif" font-weight="bold" font-size="28" fill="#000" text-anchor="middle" >B</text>
<defs><clipPath id="bclip"><path d="M174.0 636.0 L175.0 635.9 L176.5 635.6 L177.5 635.3 L178.5 635.0 L179.6 634.5 L180.6 634.0 L181.5 633.5 L182.5 632.8 L183.5 632.1 L184.2 631.5 L185.0 630.7 L185.7 630.0 L186.5 629.0 L187.0 628.3 L187.5 627.5 L188.0 626.5 L188.5 625.5 L189.0 624.3 L189.4 623.0 L189.7 622.0 L190.0 620.5 L190.1 619.5 L190.1 618.0 L190.1 616.5 L190.0 615.0 L189.9 614.0 L189.7 612.5 L189.5 611.4 L189.3 610.0 L189.1 608.5 L189.1 607.0 L189.3 605.5 L189.7 604.5 L190.1 603.5 L190.9 602.5 L191.5 601.8 L192.5 601.0 L193.3 600.5 L194.1 600.0 L195.1 599.5 L196.3 599.0 L197.5 598.5 L198.5 598.1 L199.5 597.7 L200.5 597.3 L201.5 596.8 L202.5 596.3 L203.5 595.8 L204.5 595.1 L205.4 594.5 L206.0 594.0 L207.0 593.2 L207.7 592.5 L208.5 591.6 L209.0 591.0 L209.8 590.0 L210.4 589.0 L211.0 588.0 L211.5 587.0 L211.9 586.0 L212.2 585.0 L212.5 584.0 L212.8 582.5 L213.0 581.4 L213.1 580.0 L213.1 578.5 L213.0 577.2 L212.8 576.0 L212.5 574.5 L212.2 573.5 L211.9 572.5 L211.4 571.5 L211.0 570.5 L210.4 569.5 L209.8 568.5 L209.2 567.5 L208.5 566.5 L208.0 565.8 L207.4 565.0 L206.9 564.0 L206.7 562.5 L207.4 561.5 L208.0 560.9 L209.0 560.2 L210.0 559.5 L210.8 559.0 L211.5 558.5 L212.5 557.8 L213.5 557.0 L214.1 556.5 L215.0 555.8 L215.8 555.0 L216.5 554.3 L217.2 553.5 L218.0 552.5 L218.5 551.9 L219.1 551.0 L219.8 550.0 L220.3 549.0 L220.9 548.0 L221.3 547.0 L221.8 546.0 L222.1 545.0 L222.5 543.8 L222.9 542.5 L223.1 541.5 L223.3 540.0 L223.5 538.6 L223.6 537.5 L223.6 536.0 L223.6 534.5 L223.5 533.2 L223.4 532.0 L223.2 530.5 L223.0 529.0 L222.9 528.0 L222.7 526.5 L222.6 525.0 L222.7 523.5 L222.8 522.0 L223.0 520.7 L223.3 519.5 L223.5 518.4 L223.8 517.0 L224.1 516.0 L224.3 514.5 L224.5 513.5 L224.7 512.0 L224.8 510.5 L224.8 509.0 L224.8 507.5 L224.6 506.0 L224.5 505.0 L224.2 503.5 L224.0 502.2 L223.7 501.0 L223.5 499.8 L223.2 498.5 L223.0 497.2 L222.8 496.0 L222.6 494.5 L222.5 493.3 L222.4 492.0 L222.2 490.5 L222.0 489.0 L221.9 488.0 L221.6 486.5 L221.4 485.5 L221.0 484.0 L220.7 483.0 L220.3 482.0 L219.9 481.0 L219.5 480.0 L219.0 479.0 L218.4 478.0 L217.8 477.0 L217.2 476.0 L216.5 475.1 L216.0 474.5 L215.1 473.5 L214.5 472.8 L213.6 472.0 L213.0 471.4 L212.0 470.6 L211.2 470.0 L210.5 469.5 L209.5 468.9 L208.5 468.3 L207.5 467.8 L206.5 467.3 L205.5 466.9 L204.5 466.5 L203.1 466.0 L202.0 465.7 L201.0 465.4 L199.6 465.0 L198.5 464.6 L197.5 464.2 L196.5 463.5 L196.0 462.6 L195.9 461.5 L196.0 460.0 L196.2 459.0 L196.4 457.5 L196.6 456.5 L196.8 455.0 L196.9 453.5 L196.9 452.0 L196.9 450.5 L196.8 449.0 L196.6 447.5 L196.4 446.5 L196.0 445.0 L195.7 444.0 L195.4 443.0 L195.0 442.0 L194.5 440.9 L194.0 439.9 L193.5 439.0 L192.9 438.0 L192.2 437.0 L191.5 436.0 L191.0 435.4 L190.3 434.5 L189.5 433.6 L188.9 433.0 L188.0 432.1 L187.4 431.5 L186.5 430.6 L185.8 430.0 L185.0 429.2 L184.3 428.5 L183.5 427.7 L182.8 427.0 L182.0 426.1 L181.5 425.5 L180.6 424.5 L180.0 423.8 L179.4 423.0 L178.6 422.0 L178.0 421.2 L177.5 420.5 L176.8 419.5 L176.1 418.5 L175.5 417.6 L175.0 416.8 L174.5 415.9 L173.9 415.0 L173.3 414.0 L172.6 413.0 L172.0 412.2 L171.5 411.5 L170.6 410.5 L170.0 409.9 L169.1 409.0 L168.5 408.5 L167.5 407.8 L166.5 407.1 L165.5 406.5 L164.5 406.0 L163.5 405.6 L162.5 405.2 L161.5 404.9 L160.0 404.5 L159.0 404.3 L157.7 404.0 L156.5 403.8 L155.2 403.5 L154.0 403.2 L153.0 403.0 L151.5 402.5 L150.5 402.2 L149.5 401.9 L148.4 401.5 L147.0 401.1 L146.0 400.8 L144.8 400.5 L143.5 400.2 L142.0 400.0 L141.0 399.9 L139.5 399.8 L138.0 399.8 L136.5 399.9 L135.2 400.0 L134.0 400.2 L132.6 400.5 L131.5 400.8 L130.5 401.1 L129.4 401.5 L128.2 402.0 L127.2 402.5 L126.3 403.0 L125.4 403.5 L124.5 404.1 L123.5 404.8 L122.7 405.5 L122.0 406.1 L121.0 407.0 L120.5 407.5 L119.6 408.5 L119.0 409.2 L118.3 410.0 L117.6 411.0 L117.0 411.8 L116.5 412.5 L115.7 413.5 L115.0 414.3 L114.2 415.0 L113.5 415.5 L112.2 416.0 L111.0 416.2 L109.5 416.3 L108.0 416.3 L106.5 416.4 L105.0 416.4 L104.0 416.5 L102.5 416.7 L101.0 416.9 L100.0 417.1 L98.5 417.5 L97.5 417.8 L96.5 418.1 L95.5 418.5 L94.3 419.0 L93.3 419.5 L92.3 420.0 L91.4 420.5 L90.5 421.1 L89.5 421.8 L88.5 422.5 L87.9 423.0 L87.0 423.8 L86.2 424.5 L85.5 425.2 L84.8 426.0 L84.0 426.9 L83.5 427.5 L82.8 428.5 L82.1 429.5 L81.5 430.4 L81.0 431.3 L80.5 432.3 L80.0 433.3 L79.5 434.5 L79.1 435.5 L78.8 436.5 L78.5 437.5 L78.1 439.0 L77.9 440.0 L77.7 441.5 L77.6 443.0 L77.5 444.5 L77.5 445.2 L77.5 446.5 L77.7 448.0 L77.9 449.5 L78.0 450.5 L78.4 452.0 L78.6 453.0 L79.0 454.2 L79.5 455.5 L79.9 456.5 L80.3 457.5 L80.8 458.5 L81.3 459.5 L81.8 460.5 L82.4 461.5 L82.9 462.5 L83.5 463.5 L84.0 464.5 L84.4 465.5 L84.8 466.5 L85.2 467.5 L85.6 468.5 L86.0 469.6 L86.5 470.8 L87.0 471.9 L87.5 472.8 L88.0 473.7 L88.5 474.5 L89.2 475.5 L89.8 476.5 L90.1 477.5 L90.0 478.9 L89.6 480.0 L89.1 481.0 L88.6 482.0 L88.1 483.0 L87.6 484.0 L87.2 485.0 L86.9 486.0 L86.5 487.1 L86.2 488.5 L86.0 489.5 L85.8 491.0 L85.7 492.5 L85.8 494.0 L85.9 495.5 L86.1 496.5 L86.4 498.0 L86.6 499.0 L86.9 500.5 L87.1 501.5 L87.1 503.0 L87.0 504.0 L86.6 505.5 L86.2 506.5 L85.7 507.5 L85.3 508.5 L85.0 509.5 L84.6 511.0 L84.4 512.0 L84.2 513.5 L84.1 515.0 L84.0 516.5 L84.0 518.0 L84.0 519.0 L83.7 520.5 L83.4 521.5 L83.0 522.6 L82.5 523.7 L82.0 524.8 L81.5 525.8 L81.0 527.0 L80.6 528.0 L80.2 529.0 L79.9 530.0 L79.5 531.4 L79.3 532.5 L79.0 534.0 L79.0 535.0 L78.9 536.5 L78.9 538.0 L79.0 539.0 L79.2 540.5 L79.5 541.8 L79.8 543.0 L80.1 544.0 L80.5 545.0 L81.0 546.1 L81.5 547.1 L82.0 548.0 L82.7 549.0 L83.4 550.0 L84.0 550.8 L84.6 551.5 L85.5 552.4 L86.1 553.0 L87.0 553.8 L87.9 554.5 L88.6 555.0 L89.5 555.6 L90.5 556.2 L91.5 556.7 L92.5 557.2 L93.5 557.7 L94.5 558.1 L95.6 558.5 L96.9 559.0 L98.0 559.4 L99.0 559.9 L99.7 560.5 L99.5 561.9 L98.9 562.5 L98.0 563.3 L97.1 564.0 L96.4 564.5 L95.5 565.2 L94.6 566.0 L94.0 566.6 L93.1 567.5 L92.5 568.1 L91.7 569.0 L91.0 570.0 L90.5 570.7 L90.0 571.6 L89.5 572.5 L89.0 573.6 L88.5 574.9 L88.1 576.0 L87.9 577.0 L87.6 578.5 L87.5 579.8 L87.5 581.0 L87.5 582.2 L87.6 583.5 L87.9 585.0 L88.1 586.0 L88.5 587.1 L89.0 588.4 L89.5 589.5 L90.0 590.4 L90.5 591.2 L91.0 592.0 L91.8 593.0 L92.5 593.8 L93.2 594.5 L94.0 595.3 L94.9 596.0 L95.6 596.5 L96.5 597.1 L97.5 597.7 L98.5 598.3 L99.5 598.8 L100.5 599.2 L101.5 599.7 L102.5 600.1 L103.6 600.5 L104.8 601.0 L105.9 601.5 L106.8 602.0 L107.6 602.5 L108.5 603.2 L109.3 604.0 L110.0 604.9 L110.5 605.8 L111.0 606.9 L111.4 608.0 L111.7 609.0 L112.0 610.2 L112.3 611.5 L112.5 613.0 L112.6 614.0 L112.8 615.5 L112.9 617.0 L113.0 618.5 L113.1 619.5 L113.3 621.0 L113.5 622.2 L113.8 623.5 L114.1 624.5 L114.5 625.6 L115.0 626.8 L115.5 627.7 L116.0 628.6 L116.6 629.5 L117.4 630.5 L118.0 631.2 L118.9 632.0 L119.5 632.6 L120.5 633.3 L121.5 634.0 L122.4 634.5 L123.5 635.0 L124.5 635.4 L125.5 635.7 L126.8 636.0 L128.0 636.2 L129.5 636.3 L131.0 636.3 L132.5 636.1 L133.5 636.0 L135.0 635.6 L136.0 635.3 L137.0 634.9 L138.0 634.5 L139.0 634.0 L140.1 633.5 L141.3 633.0 L142.5 632.6 L143.5 632.4 L145.0 632.4 L146.5 632.5 L147.5 632.6 L149.0 632.7 L150.5 632.7 L152.0 632.6 L153.0 632.4 L154.5 632.1 L155.5 631.9 L157.0 631.8 L158.5 632.0 L159.5 632.3 L160.5 632.7 L161.5 633.2 L162.5 633.6 L163.5 634.1 L164.5 634.5 L165.8 635.0 L167.0 635.4 L168.0 635.6 L169.5 635.9 L170.5 636.0 L172.0 636.1 L173.5 636.0Z"/></clipPath><linearGradient id="bgrad" gradientUnits="userSpaceOnUse" x1="0" y1="398" x2="0" y2="638"><stop offset="0" stop-color="#5a9cc0"/><stop offset="0.13" stop-color="#64acb0"/><stop offset="0.24" stop-color="#7cbe92"/><stop offset="0.35" stop-color="#acd268"/><stop offset="0.58" stop-color="#c8dc50"/><stop offset="0.8" stop-color="#d2d860"/><stop offset="0.93" stop-color="#d6c070"/><stop offset="1" stop-color="#d2aa78"/></linearGradient><radialGradient id="bsph" cx="0.6" cy="0.42" r="0.62" fx="0.62" fy="0.4"><stop offset="0" stop-color="#5a9cc8"/><stop offset="0.65" stop-color="#4f8fbc"/><stop offset="0.88" stop-color="#4278a6"/><stop offset="1" stop-color="#345f86"/></radialGradient><filter id="bb6" x="-50%" y="-50%" width="200%" height="200%"><feGaussianBlur stdDeviation="7"/></filter><filter id="bb3" x="-50%" y="-50%" width="200%" height="200%"><feGaussianBlur stdDeviation="1.2"/></filter><filter id="rim" x="-5%" y="-5%" width="110%" height="110%"><feGaussianBlur in="SourceAlpha" stdDeviation="1.8" result="b"/><feComposite in="SourceAlpha" in2="b" operator="arithmetic" k2="2.2" k3="-2.2" result="e"/><feFlood flood-color="#3c3c20" flood-opacity="0.85"/><feComposite in2="e" operator="in" result="sh"/><feMerge><feMergeNode in="SourceGraphic"/><feMergeNode in="sh"/></feMerge><feGaussianBlur stdDeviation="0.5"/></filter><radialGradient id="gball" cx="0.4" cy="0.38" r="0.65"><stop offset="0" stop-color="#c8d890"/><stop offset="0.5" stop-color="#a0b860"/><stop offset="1" stop-color="#788c46"/></radialGradient><radialGradient id="hgball" cx="0.4" cy="0.38" r="0.65"><stop offset="0" stop-color="#f6f8d8"/><stop offset="0.6" stop-color="#e0e6a8"/><stop offset="1" stop-color="#b0b480"/></radialGradient><radialGradient id="ogball" cx="0.4" cy="0.38" r="0.65"><stop offset="0" stop-color="#e89050"/><stop offset="0.5" stop-color="#c86420"/><stop offset="1" stop-color="#8a4818"/></radialGradient><radialGradient id="pball" cx="0.4" cy="0.38" r="0.65"><stop offset="0" stop-color="#a05080"/><stop offset="0.5" stop-color="#7a2c5a"/><stop offset="1" stop-color="#4a1c3c"/></radialGradient><linearGradient id="cb" x1="0" y1="0" x2="0" y2="1"><stop offset="0" stop-color="#d83a28"/><stop offset="0.25" stop-color="#e89a30"/><stop offset="0.42" stop-color="#e8e030"/><stop offset="0.65" stop-color="#50c040"/><stop offset="0.85" stop-color="#2898a0"/><stop offset="1" stop-color="#1a3cb0"/></linearGradient></defs>
<g filter="url(#rim)"><g clip-path="url(#bclip)">
<rect x="60" y="390" width="180" height="260" fill="url(#bgrad)"/>
<ellipse cx="86" cy="528" rx="22" ry="38" fill="#44ae98" filter="url(#bb6)" opacity="0.95"/>
<ellipse cx="206" cy="458" rx="20" ry="30" fill="#6cc28a" filter="url(#bb6)" opacity="0.8"/>
<ellipse cx="214" cy="540" rx="10" ry="16" fill="#98cc70" filter="url(#bb6)" opacity="0.5"/>
<ellipse cx="150" cy="416" rx="40" ry="18" fill="#5aa2bc" filter="url(#bb6)" opacity="0.85"/>
<ellipse cx="150" cy="560" rx="34" ry="48" fill="#d4e040" filter="url(#bb6)" opacity="0.45"/>
<ellipse cx="100" cy="612" rx="14" ry="16" fill="#d0c468" filter="url(#bb6)" opacity="0.6"/>
<ellipse cx="200" cy="612" rx="14" ry="16" fill="#d0c468" filter="url(#bb6)" opacity="0.6"/>
<ellipse cx="104" cy="446" rx="27" ry="29" fill="url(#bsph)" filter="url(#bb3)"/>
</g></g>
<circle cx="149.5" cy="494.1" r="15" fill="none" stroke="#90a850" stroke-width="1.1" stroke-dasharray="3 2.5" opacity="0.85"/>
<circle cx="149.5" cy="581.0" r="15" fill="none" stroke="#90a850" stroke-width="1.1" stroke-dasharray="3 2.5" opacity="0.85"/>
<line x1="136.9" y1="472.4" x2="162.1" y2="472.4" stroke="#8aa250" stroke-width="6.2"/>
<line x1="162.1" y1="472.4" x2="174.6" y2="494.1" stroke="#8aa250" stroke-width="6.2"/>
<line x1="174.6" y1="494.1" x2="162.1" y2="515.8" stroke="#8aa250" stroke-width="6.2"/>
<line x1="162.1" y1="515.8" x2="136.9" y2="515.8" stroke="#8aa250" stroke-width="6.2"/>
<line x1="136.9" y1="515.8" x2="124.4" y2="494.1" stroke="#8aa250" stroke-width="6.2"/>
<line x1="124.4" y1="494.1" x2="136.9" y2="472.4" stroke="#8aa250" stroke-width="6.2"/>
<line x1="136.9" y1="515.8" x2="162.1" y2="515.8" stroke="#8aa250" stroke-width="6.2"/>
<line x1="162.1" y1="515.8" x2="174.6" y2="537.6" stroke="#8aa250" stroke-width="6.2"/>
<line x1="174.6" y1="537.6" x2="162.1" y2="559.3" stroke="#8aa250" stroke-width="6.2"/>
<line x1="162.1" y1="559.3" x2="136.9" y2="559.3" stroke="#8aa250" stroke-width="6.2"/>
<line x1="136.9" y1="559.3" x2="124.4" y2="537.6" stroke="#8aa250" stroke-width="6.2"/>
<line x1="124.4" y1="537.6" x2="136.9" y2="515.8" stroke="#8aa250" stroke-width="6.2"/>
<line x1="136.9" y1="559.3" x2="162.1" y2="559.3" stroke="#8aa250" stroke-width="6.2"/>
<line x1="162.1" y1="559.3" x2="174.6" y2="581.0" stroke="#8aa250" stroke-width="6.2"/>
<line x1="174.6" y1="581.0" x2="162.1" y2="602.8" stroke="#8aa250" stroke-width="6.2"/>
<line x1="162.1" y1="602.8" x2="136.9" y2="602.8" stroke="#8aa250" stroke-width="6.2"/>
<line x1="136.9" y1="602.8" x2="124.4" y2="581.0" stroke="#8aa250" stroke-width="6.2"/>
<line x1="124.4" y1="581.0" x2="136.9" y2="559.3" stroke="#8aa250" stroke-width="6.2"/>
<line x1="136.9" y1="472.4" x2="121.3" y2="446.4" stroke="#8aa250" stroke-width="6.2"/>
<line x1="121.3" y1="446.4" x2="138.4" y2="424.3" stroke="#8aa250" stroke-width="6.2"/>
<line x1="121.3" y1="446.4" x2="104.3" y2="443.0" stroke="#8aa250" stroke-width="6.2"/>
<line x1="162.1" y1="472.4" x2="172.4" y2="451.6" stroke="#8aa250" stroke-width="6.2"/>
<line x1="172.4" y1="451.6" x2="160.5" y2="437.9" stroke="#8aa250" stroke-width="6.2"/>
<line x1="174.6" y1="494.1" x2="196.3" y2="490.7" stroke="#8aa250" stroke-width="6.2"/>
<line x1="196.3" y1="490.7" x2="203.1" y2="509.5" stroke="#8aa250" stroke-width="6.2"/>
<line x1="124.4" y1="494.1" x2="104.3" y2="492.4" stroke="#8aa250" stroke-width="6.2"/>
<line x1="124.4" y1="537.6" x2="100.9" y2="536.7" stroke="#8aa250" stroke-width="6.2"/>
<line x1="174.6" y1="537.6" x2="198.0" y2="536.7" stroke="#8aa250" stroke-width="6.2"/>
<line x1="124.4" y1="581.0" x2="106.0" y2="581.0" stroke="#8aa250" stroke-width="6.2"/>
<line x1="174.6" y1="581.0" x2="194.6" y2="579.3" stroke="#8aa250" stroke-width="6.2"/>
<line x1="136.9" y1="602.8" x2="129.8" y2="620.2" stroke="#8aa250" stroke-width="6.2"/>
<line x1="162.1" y1="602.8" x2="172.4" y2="618.5" stroke="#8aa250" stroke-width="6.2"/>
<line x1="136.9" y1="472.4" x2="162.1" y2="472.4" stroke="#c0d480" stroke-width="2.8"/>
<line x1="162.1" y1="472.4" x2="174.6" y2="494.1" stroke="#c0d480" stroke-width="2.8"/>
<line x1="174.6" y1="494.1" x2="162.1" y2="515.8" stroke="#c0d480" stroke-width="2.8"/>
<line x1="162.1" y1="515.8" x2="136.9" y2="515.8" stroke="#c0d480" stroke-width="2.8"/>
<line x1="136.9" y1="515.8" x2="124.4" y2="494.1" stroke="#c0d480" stroke-width="2.8"/>
<line x1="124.4" y1="494.1" x2="136.9" y2="472.4" stroke="#c0d480" stroke-width="2.8"/>
<line x1="136.9" y1="515.8" x2="162.1" y2="515.8" stroke="#c0d480" stroke-width="2.8"/>
<line x1="162.1" y1="515.8" x2="174.6" y2="537.6" stroke="#c0d480" stroke-width="2.8"/>
<line x1="174.6" y1="537.6" x2="162.1" y2="559.3" stroke="#c0d480" stroke-width="2.8"/>
<line x1="162.1" y1="559.3" x2="136.9" y2="559.3" stroke="#c0d480" stroke-width="2.8"/>
<line x1="136.9" y1="559.3" x2="124.4" y2="537.6" stroke="#c0d480" stroke-width="2.8"/>
<line x1="124.4" y1="537.6" x2="136.9" y2="515.8" stroke="#c0d480" stroke-width="2.8"/>
<line x1="136.9" y1="559.3" x2="162.1" y2="559.3" stroke="#c0d480" stroke-width="2.8"/>
<line x1="162.1" y1="559.3" x2="174.6" y2="581.0" stroke="#c0d480" stroke-width="2.8"/>
<line x1="174.6" y1="581.0" x2="162.1" y2="602.8" stroke="#c0d480" stroke-width="2.8"/>
<line x1="162.1" y1="602.8" x2="136.9" y2="602.8" stroke="#c0d480" stroke-width="2.8"/>
<line x1="136.9" y1="602.8" x2="124.4" y2="581.0" stroke="#c0d480" stroke-width="2.8"/>
<line x1="124.4" y1="581.0" x2="136.9" y2="559.3" stroke="#c0d480" stroke-width="2.8"/>
<line x1="136.9" y1="472.4" x2="121.3" y2="446.4" stroke="#c0d480" stroke-width="2.8"/>
<line x1="121.3" y1="446.4" x2="138.4" y2="424.3" stroke="#c0d480" stroke-width="2.8"/>
<line x1="121.3" y1="446.4" x2="104.3" y2="443.0" stroke="#c0d480" stroke-width="2.8"/>
<line x1="162.1" y1="472.4" x2="172.4" y2="451.6" stroke="#c0d480" stroke-width="2.8"/>
<line x1="172.4" y1="451.6" x2="160.5" y2="437.9" stroke="#c0d480" stroke-width="2.8"/>
<line x1="174.6" y1="494.1" x2="196.3" y2="490.7" stroke="#c0d480" stroke-width="2.8"/>
<line x1="196.3" y1="490.7" x2="203.1" y2="509.5" stroke="#c0d480" stroke-width="2.8"/>
<line x1="124.4" y1="494.1" x2="104.3" y2="492.4" stroke="#c0d480" stroke-width="2.8"/>
<line x1="124.4" y1="537.6" x2="100.9" y2="536.7" stroke="#c0d480" stroke-width="2.8"/>
<line x1="174.6" y1="537.6" x2="198.0" y2="536.7" stroke="#c0d480" stroke-width="2.8"/>
<line x1="124.4" y1="581.0" x2="106.0" y2="581.0" stroke="#c0d480" stroke-width="2.8"/>
<line x1="174.6" y1="581.0" x2="194.6" y2="579.3" stroke="#c0d480" stroke-width="2.8"/>
<line x1="136.9" y1="602.8" x2="129.8" y2="620.2" stroke="#c0d480" stroke-width="2.8"/>
<line x1="162.1" y1="602.8" x2="172.4" y2="618.5" stroke="#c0d480" stroke-width="2.8"/>
<circle cx="136.9" cy="472.4" r="6.6" fill="url(#gball)"/>
<circle cx="162.1" cy="472.4" r="6.6" fill="url(#gball)"/>
<circle cx="174.6" cy="494.1" r="6.6" fill="url(#gball)"/>
<circle cx="162.1" cy="515.8" r="6.6" fill="url(#gball)"/>
<circle cx="136.9" cy="515.8" r="6.6" fill="url(#gball)"/>
<circle cx="124.4" cy="494.1" r="6.6" fill="url(#gball)"/>
<circle cx="174.6" cy="537.6" r="6.6" fill="url(#gball)"/>
<circle cx="162.1" cy="559.3" r="6.6" fill="url(#gball)"/>
<circle cx="136.9" cy="559.3" r="6.6" fill="url(#gball)"/>
<circle cx="124.4" cy="537.6" r="6.6" fill="url(#gball)"/>
<circle cx="174.6" cy="581.0" r="6.6" fill="url(#gball)"/>
<circle cx="162.1" cy="602.8" r="6.6" fill="url(#gball)"/>
<circle cx="136.9" cy="602.8" r="6.6" fill="url(#gball)"/>
<circle cx="124.4" cy="581.0" r="6.6" fill="url(#gball)"/>
<circle cx="172.4" cy="451.6" r="6.2" fill="url(#ogball)"/>
<circle cx="196.3" cy="490.7" r="6.2" fill="url(#ogball)"/>
<circle cx="100.9" cy="536.7" r="6.2" fill="url(#ogball)"/>
<circle cx="198.0" cy="536.7" r="6.2" fill="url(#ogball)"/>
<circle cx="138.4" cy="424.3" r="6" fill="url(#pball)"/>
<circle cx="104.3" cy="443.0" r="6" fill="url(#pball)"/>
<circle cx="160.5" cy="437.9" r="6.8" fill="url(#hgball)"/>
<circle cx="203.1" cy="509.5" r="6.8" fill="url(#hgball)"/>
<circle cx="104.3" cy="492.4" r="6.8" fill="url(#hgball)"/>
<circle cx="106.0" cy="581.0" r="6.8" fill="url(#hgball)"/>
<circle cx="194.6" cy="579.3" r="6.8" fill="url(#hgball)"/>
<circle cx="129.8" cy="620.2" r="6.8" fill="url(#hgball)"/>
<circle cx="172.4" cy="618.5" r="6.8" fill="url(#hgball)"/>
<circle cx="121.3" cy="446.4" r="6.4" fill="url(#gball)"/>
<rect x="28" y="564.4" width="4" height="75" rx="2" fill="url(#cb)"/>
<rect x="24" y="560.3" width="12" height="1.4" fill="#6080c0" opacity="0.6"/>
<text transform="translate(40.6,570.2) scale(1,1.07)" font-family="Liberation Serif" font-weight="bold" font-size="13.2" stroke="#000" stroke-width="0.25">1.00 e<tspan font-size="9" dy="-5">-2</tspan></text>
<text transform="translate(40.6,640.6) scale(1,1.07)" font-family="Liberation Serif" font-weight="bold" font-size="13.2" stroke="#000" stroke-width="0.25">-2.00 e<tspan font-size="9" dy="-5">-2</tspan></text>
<path d="M42 643 V648 H46" stroke="#aaa" stroke-width="0.7" fill="none"/>
<text x="242.50" y="392.50" font-family="Liberation Serif" font-weight="bold" font-size="28" fill="#000" text-anchor="middle" >C</text>
<rect x="261" y="383" width="162" height="279.5" fill="#1448f6"/>
<defs><clipPath id="cclip"><rect x="261" y="383" width="162" height="279.5"/></clipPath><filter id="hb" x="0" y="0" width="100%" height="100%"><feGaussianBlur stdDeviation="0.7"/></filter></defs>
<g clip-path="url(#cclip)"><g filter="url(#hb)">
<path d="M321.0 650.0 L322.0 650.0 L323.0 649.8 L324.0 649.6 L324.5 649.5 L325.5 649.1 L326.0 648.9 L326.7 648.5 L327.5 648.1 L328.0 647.9 L328.7 647.5 L329.5 647.1 L330.0 646.8 L330.5 646.5 L331.2 646.0 L331.7 645.5 L332.3 645.0 L332.8 644.5 L333.3 644.0 L333.8 643.5 L334.2 643.0 L334.6 642.5 L335.0 642.0 L335.5 641.2 L336.0 641.0 L337.0 640.6 L337.5 640.4 L338.2 640.0 L339.0 639.6 L340.0 639.9 L340.5 640.1 L341.5 640.5 L342.0 640.6 L343.0 641.0 L343.5 641.1 L344.5 641.5 L345.0 641.6 L346.0 641.8 L347.0 642.0 L347.5 642.1 L348.5 642.3 L349.0 642.8 L349.5 643.3 L350.0 643.8 L350.5 644.3 L351.0 644.7 L351.5 645.1 L352.0 645.5 L352.8 646.0 L353.5 646.4 L354.0 646.6 L354.8 647.0 L355.5 647.4 L356.0 647.6 L356.8 648.0 L357.5 648.3 L358.2 648.5 L359.0 648.7 L360.0 648.9 L361.0 649.0 L362.0 649.0 L363.0 649.0 L364.0 649.0 L365.0 649.0 L366.0 649.0 L367.0 649.0 L368.0 649.0 L369.0 648.8 L370.0 648.6 L370.5 648.5 L371.5 648.1 L372.0 647.9 L372.7 647.5 L373.5 647.1 L374.0 646.9 L374.7 646.5 L375.5 646.0 L376.0 645.6 L376.5 645.3 L377.0 645.0 L377.7 644.5 L378.2 644.0 L378.8 643.5 L379.2 643.0 L379.6 642.5 L380.0 642.0 L380.5 641.3 L381.0 640.7 L381.5 640.0 L381.8 639.5 L382.1 639.0 L382.5 638.2 L382.9 637.5 L383.1 637.0 L383.5 636.0 L383.6 635.5 L384.0 634.5 L384.1 634.0 L384.3 633.0 L384.5 632.0 L384.5 631.0 L384.5 630.0 L384.5 629.0 L384.5 628.0 L384.5 627.0 L384.5 626.0 L384.4 625.0 L384.2 624.0 L384.0 623.2 L383.8 622.5 L383.5 621.7 L383.3 621.0 L383.0 620.3 L382.6 619.5 L382.4 619.0 L382.0 618.3 L382.0 617.5 L382.0 616.5 L382.0 615.5 L382.2 614.5 L383.0 614.0 L383.5 613.6 L384.0 613.2 L384.5 612.8 L385.0 612.3 L385.5 611.8 L386.0 611.3 L386.5 610.8 L387.0 610.3 L387.5 609.8 L388.0 609.3 L389.0 609.0 L390.0 608.9 L391.0 608.7 L391.8 608.5 L392.5 608.3 L393.3 608.0 L394.0 607.8 L394.7 607.5 L395.5 607.1 L396.0 606.9 L396.7 606.5 L397.5 606.1 L398.0 605.8 L398.5 605.5 L399.2 605.0 L399.7 604.5 L400.3 604.0 L400.8 603.5 L401.3 603.0 L401.8 602.5 L402.3 602.0 L402.7 601.5 L403.1 601.0 L403.5 600.5 L404.0 599.7 L404.5 599.0 L404.8 598.5 L405.1 598.0 L405.5 597.2 L405.8 596.5 L406.0 595.8 L406.3 595.0 L406.5 594.3 L406.7 593.5 L406.9 592.5 L407.0 591.5 L407.0 590.5 L407.0 589.5 L407.0 588.5 L407.0 587.5 L407.0 586.5 L407.0 585.5 L406.9 584.5 L406.7 583.5 L406.5 582.7 L406.3 582.0 L406.0 581.2 L405.8 580.5 L405.5 579.8 L405.1 579.0 L404.8 578.5 L404.5 578.0 L404.0 577.3 L403.5 576.5 L403.1 576.0 L402.7 575.5 L402.3 575.0 L401.8 574.5 L401.3 574.0 L400.8 573.5 L400.3 573.0 L399.7 572.5 L399.2 572.0 L398.5 571.5 L398.0 571.2 L397.5 570.9 L396.7 570.5 L396.0 570.1 L395.5 569.9 L394.7 569.5 L394.0 569.2 L393.3 569.0 L392.5 568.7 L391.8 568.5 L391.0 568.3 L390.0 568.1 L389.0 568.0 L389.0 567.5 L390.0 567.5 L391.0 567.5 L392.0 567.5 L393.0 567.5 L394.0 567.5 L395.0 567.5 L396.0 567.3 L397.0 567.1 L397.5 567.0 L398.5 566.6 L399.0 566.5 L400.0 566.1 L400.5 565.9 L401.2 565.5 L402.0 565.1 L402.5 564.9 L403.2 564.5 L404.0 564.0 L404.5 563.6 L405.0 563.3 L405.5 563.0 L406.2 562.5 L406.7 562.0 L407.3 561.5 L407.8 561.0 L408.3 560.5 L408.8 560.0 L409.3 559.5 L409.7 559.0 L410.1 558.5 L410.5 558.0 L411.0 557.2 L411.5 556.5 L411.8 556.0 L412.1 555.5 L412.5 554.7 L412.9 554.0 L413.1 553.5 L413.5 552.7 L413.8 552.0 L414.0 551.3 L414.2 550.5 L414.5 549.5 L414.6 549.0 L414.8 548.0 L415.0 547.0 L415.0 546.0 L415.0 545.0 L415.0 544.0 L415.0 543.0 L415.0 542.0 L415.0 541.0 L415.0 540.0 L414.8 539.0 L414.6 538.0 L414.5 537.5 L414.1 536.5 L414.0 536.0 L413.6 535.0 L413.5 534.5 L413.1 533.5 L412.9 533.0 L412.5 532.3 L412.0 531.5 L411.6 531.0 L411.3 530.5 L411.0 530.0 L410.7 529.0 L411.3 528.5 L411.7 528.0 L412.1 527.5 L412.5 527.0 L413.0 526.2 L413.5 525.5 L413.8 525.0 L414.1 524.5 L414.5 523.7 L414.9 523.0 L415.1 522.5 L415.5 521.7 L415.8 521.0 L416.0 520.3 L416.2 519.5 L416.4 518.5 L416.5 517.5 L416.5 516.5 L416.5 515.5 L416.5 514.5 L416.5 513.5 L416.5 512.5 L416.5 511.5 L416.5 510.5 L416.3 509.5 L416.1 508.5 L416.0 508.0 L415.6 507.0 L415.4 506.5 L415.0 505.8 L414.6 505.0 L414.4 504.5 L414.0 503.8 L413.6 503.0 L413.3 502.5 L413.3 501.5 L413.5 500.8 L413.7 500.0 L413.9 499.0 L414.0 498.0 L414.0 497.0 L414.0 496.0 L414.0 495.0 L414.0 494.0 L414.0 493.0 L414.0 492.0 L413.9 491.0 L413.7 490.0 L413.5 489.2 L413.3 488.5 L413.0 487.7 L412.8 487.0 L412.5 486.2 L412.3 485.5 L412.0 484.8 L411.6 484.0 L411.4 483.5 L411.0 482.8 L410.5 482.0 L410.1 481.5 L409.7 481.0 L409.3 480.5 L409.0 480.0 L408.5 479.3 L408.0 478.8 L407.5 478.2 L407.0 477.7 L406.5 477.2 L406.0 476.8 L405.5 476.4 L405.0 476.0 L404.3 475.5 L403.7 475.0 L403.0 474.5 L402.5 474.2 L402.0 473.9 L401.2 473.5 L400.5 473.1 L400.0 472.9 L399.0 472.5 L398.5 472.4 L397.5 472.0 L397.0 471.9 L396.0 471.5 L395.5 471.4 L394.5 471.2 L393.5 471.0 L392.5 471.0 L391.5 471.0 L390.5 471.0 L389.5 471.0 L388.5 471.0 L387.5 471.0 L386.5 471.0 L385.5 471.2 L384.5 471.4 L384.0 471.5 L383.0 471.9 L382.5 472.0 L381.5 472.0 L381.0 471.7 L380.7 471.0 L381.3 470.5 L381.8 470.0 L382.3 469.5 L382.8 469.0 L383.3 468.5 L383.8 468.0 L384.2 467.5 L384.6 467.0 L385.0 466.5 L385.5 465.7 L386.0 465.0 L386.3 464.5 L386.6 464.0 L387.0 463.2 L387.3 462.5 L387.5 461.8 L387.9 461.0 L388.1 460.5 L388.5 459.5 L388.6 459.0 L388.8 458.0 L389.0 457.0 L389.0 456.0 L389.0 455.0 L389.0 454.0 L389.0 453.0 L389.0 452.0 L389.0 451.0 L389.0 450.0 L389.0 449.0 L388.9 448.0 L388.7 447.0 L388.5 446.2 L388.3 445.5 L388.0 444.7 L387.8 444.0 L387.5 443.3 L387.1 442.5 L386.9 442.0 L386.5 441.3 L386.1 440.5 L385.8 440.0 L385.5 439.5 L385.0 438.8 L384.5 438.0 L384.1 437.5 L383.7 437.0 L383.3 436.5 L382.8 436.0 L382.3 435.5 L381.8 435.0 L381.2 434.5 L380.7 434.0 L380.0 433.5 L379.5 433.2 L379.0 432.9 L378.5 432.5 L377.7 432.0 L377.0 431.6 L376.5 431.4 L375.7 431.0 L375.0 430.6 L374.5 430.4 L373.5 430.0 L373.0 429.9 L372.0 429.5 L371.5 429.4 L370.5 429.2 L369.5 429.0 L369.0 428.7 L368.5 428.0 L368.1 427.5 L367.7 427.0 L367.3 426.5 L366.8 426.0 L366.3 425.5 L365.8 425.0 L365.2 424.5 L364.7 424.0 L364.0 423.5 L363.5 423.2 L363.0 422.9 L362.5 422.5 L361.7 422.0 L361.0 421.6 L360.5 421.4 L359.5 421.0 L359.0 420.9 L358.0 420.5 L357.5 420.4 L356.5 420.2 L355.5 420.0 L354.5 420.0 L353.5 420.0 L352.5 420.0 L351.5 420.0 L350.5 419.7 L350.3 419.0 L350.0 418.2 L349.8 417.5 L349.5 416.8 L349.1 416.0 L348.9 415.5 L348.5 414.8 L348.1 414.0 L347.8 413.5 L347.5 413.0 L347.0 412.3 L346.5 411.5 L346.1 411.0 L345.7 410.5 L345.3 410.0 L344.8 409.5 L344.3 409.0 L343.8 408.5 L343.3 408.0 L342.7 407.5 L342.2 407.0 L341.5 406.5 L341.0 406.2 L340.5 405.9 L340.0 405.5 L339.2 405.0 L338.5 404.6 L338.0 404.4 L337.2 404.0 L336.5 403.7 L335.8 403.5 L335.0 403.2 L334.3 403.0 L333.5 402.8 L332.5 402.5 L332.0 402.4 L331.0 402.2 L330.0 402.0 L329.0 402.0 L328.0 402.0 L327.0 402.0 L326.0 402.0 L325.0 402.0 L324.0 402.0 L323.0 402.2 L322.0 402.4 L321.5 402.5 L320.5 402.9 L320.0 403.0 L319.0 403.4 L318.5 403.5 L317.5 403.9 L317.0 404.1 L316.3 404.5 L315.5 404.9 L315.0 405.2 L314.5 405.5 L313.8 406.0 L313.0 406.5 L312.5 406.9 L312.0 407.3 L311.5 407.7 L311.0 408.2 L310.5 408.7 L310.0 409.2 L309.5 409.7 L309.0 410.2 L308.5 410.8 L308.0 411.3 L307.5 412.0 L307.2 412.5 L306.9 413.0 L306.5 413.5 L306.0 414.3 L305.6 415.0 L305.4 415.5 L305.0 416.3 L304.7 417.0 L304.5 417.7 L304.2 418.5 L304.0 419.2 L303.8 420.0 L303.6 421.0 L303.5 421.7 L303.3 422.5 L303.0 423.3 L302.5 423.5 L301.5 423.8 L300.7 424.0 L300.0 424.2 L299.3 424.5 L298.5 424.9 L298.0 425.1 L297.3 425.5 L296.5 425.9 L296.0 426.1 L295.3 426.5 L294.5 427.0 L294.0 427.4 L293.0 427.5 L292.0 427.5 L291.0 427.5 L290.0 427.5 L289.0 427.5 L288.0 427.6 L287.0 427.8 L286.2 428.0 L285.5 428.2 L284.8 428.5 L284.0 428.9 L283.5 429.1 L282.8 429.5 L282.0 429.9 L281.5 430.2 L281.0 430.5 L280.3 431.0 L279.5 431.5 L279.0 431.9 L278.5 432.3 L278.0 432.7 L277.5 433.2 L277.0 433.8 L276.5 434.3 L276.0 435.0 L275.7 435.5 L275.4 436.0 L275.0 436.5 L274.5 437.3 L274.1 438.0 L273.9 438.5 L273.5 439.3 L273.1 440.0 L272.9 440.5 L272.5 441.5 L272.4 442.0 L272.2 443.0 L272.0 443.7 L271.8 444.5 L271.6 445.5 L271.5 446.5 L271.5 447.5 L271.5 448.5 L271.5 449.5 L271.6 450.5 L271.8 451.5 L272.0 452.3 L272.2 453.0 L272.4 454.0 L272.5 454.5 L272.9 455.5 L273.1 456.0 L273.5 456.7 L273.9 457.5 L274.1 458.0 L274.5 458.7 L275.0 459.5 L275.4 460.0 L275.7 460.5 L276.0 461.0 L276.5 461.7 L277.0 462.2 L277.5 462.8 L278.0 463.3 L278.5 463.7 L279.0 464.1 L279.5 464.5 L280.3 465.0 L281.0 465.5 L281.5 465.8 L282.0 466.1 L282.8 466.5 L283.5 466.9 L284.0 467.1 L284.8 467.5 L285.5 467.8 L286.2 468.0 L287.0 468.2 L288.0 468.4 L289.0 468.5 L290.0 468.5 L291.0 468.5 L292.0 468.5 L293.0 468.5 L294.0 468.5 L295.0 468.5 L296.0 468.5 L296.5 468.6 L297.3 469.0 L298.0 469.4 L298.5 469.6 L299.3 470.0 L299.8 470.5 L299.0 470.9 L298.5 471.2 L298.0 471.5 L297.3 472.0 L296.5 472.5 L296.0 472.9 L295.5 473.2 L295.0 473.5 L294.3 474.0 L293.8 474.5 L293.2 475.0 L292.7 475.5 L292.2 476.0 L291.7 476.5 L291.0 477.0 L290.5 477.0 L289.5 477.2 L288.5 477.4 L288.0 477.5 L287.0 477.8 L286.2 478.0 L285.5 478.2 L284.8 478.5 L284.0 478.9 L283.5 479.1 L282.8 479.5 L282.0 479.9 L281.5 480.2 L281.0 480.5 L280.3 481.0 L279.8 481.5 L279.2 482.0 L278.7 482.5 L278.2 483.0 L277.7 483.5 L277.2 484.0 L276.7 484.5 L276.3 485.0 L275.9 485.5 L275.5 486.0 L275.0 486.8 L274.6 487.5 L274.4 488.0 L274.0 488.8 L273.6 489.5 L273.4 490.0 L273.0 491.0 L272.9 491.5 L272.7 492.5 L272.5 493.2 L272.3 494.0 L272.1 495.0 L272.0 496.0 L272.0 497.0 L272.0 498.0 L272.0 499.0 L272.1 500.0 L272.3 501.0 L272.5 501.8 L272.7 502.5 L272.9 503.5 L273.0 504.0 L273.4 505.0 L273.6 505.5 L274.0 506.2 L274.4 507.0 L274.6 507.5 L275.0 508.2 L275.5 509.0 L275.9 509.5 L276.2 510.0 L276.5 510.5 L277.0 511.2 L277.5 511.7 L278.0 512.3 L278.5 512.7 L279.0 513.1 L279.5 513.5 L280.2 514.0 L280.8 514.5 L281.5 515.0 L282.0 515.3 L282.5 515.6 L283.3 516.0 L284.0 516.4 L284.5 516.6 L285.5 517.0 L286.0 517.1 L287.0 517.5 L287.5 517.6 L288.5 517.8 L289.5 518.0 L290.5 518.0 L291.5 518.3 L292.0 518.8 L292.5 519.3 L293.0 519.7 L293.5 520.2 L293.5 520.7 L292.5 520.6 L291.5 520.5 L290.5 520.5 L289.5 520.5 L288.5 520.5 L287.5 520.5 L286.5 520.5 L285.5 520.6 L284.5 520.8 L283.7 521.0 L283.0 521.2 L282.0 521.4 L281.5 521.5 L280.5 521.9 L280.0 522.1 L279.3 522.5 L278.5 522.9 L278.0 523.1 L277.3 523.5 L276.5 523.9 L276.0 524.2 L275.5 524.5 L274.8 525.0 L274.2 525.5 L273.5 526.0 L273.0 526.4 L272.5 526.8 L272.0 527.2 L271.5 527.8 L271.0 528.3 L270.5 529.0 L270.2 529.5 L269.8 530.0 L269.4 530.5 L269.0 531.0 L268.5 531.8 L268.0 532.5 L267.7 533.0 L267.4 533.5 L267.0 534.3 L266.7 535.0 L266.5 535.7 L266.2 536.5 L266.0 537.2 L265.7 538.0 L265.5 538.7 L265.3 539.5 L265.1 540.5 L265.0 541.5 L265.0 542.5 L265.0 543.5 L265.0 544.5 L265.0 545.5 L265.0 546.5 L265.0 547.5 L265.1 548.5 L265.3 549.5 L265.5 550.3 L265.7 551.0 L265.9 552.0 L266.0 552.5 L266.4 553.5 L266.6 554.0 L267.0 554.7 L267.4 555.5 L267.6 556.0 L268.0 556.7 L268.5 557.5 L268.9 558.0 L269.2 558.5 L269.5 559.0 L270.0 559.7 L270.5 560.2 L271.0 560.8 L271.5 561.3 L272.0 561.8 L272.5 562.3 L273.0 562.8 L273.5 563.2 L274.0 563.6 L274.5 564.0 L275.3 564.5 L276.0 565.0 L276.5 565.3 L277.0 565.6 L277.8 566.0 L278.5 566.4 L279.0 566.6 L279.8 567.0 L280.5 567.3 L281.2 567.5 L282.0 567.8 L282.7 568.0 L283.5 568.2 L284.5 568.4 L285.5 568.5 L286.5 568.5 L287.5 568.5 L288.5 568.5 L289.5 568.5 L290.5 568.5 L291.2 569.0 L290.8 569.5 L290.0 569.8 L289.2 570.0 L288.5 570.2 L287.7 570.5 L287.0 570.7 L286.3 571.0 L285.5 571.4 L285.0 571.6 L284.3 572.0 L283.5 572.4 L283.0 572.7 L282.5 573.0 L281.8 573.5 L281.3 574.0 L280.7 574.5 L280.2 575.0 L279.7 575.5 L279.2 576.0 L278.7 576.5 L278.3 577.0 L277.9 577.5 L277.5 578.0 L277.0 578.8 L276.6 579.5 L276.4 580.0 L276.0 580.8 L275.6 581.5 L275.4 582.0 L275.0 582.8 L274.7 583.5 L274.5 584.2 L274.3 585.0 L274.1 586.0 L274.0 587.0 L274.0 588.0 L274.0 589.0 L274.0 590.0 L274.0 591.0 L274.0 592.0 L274.0 593.0 L274.1 594.0 L274.3 595.0 L274.5 595.8 L274.7 596.5 L275.0 597.2 L275.4 598.0 L275.6 598.5 L276.0 599.2 L276.4 600.0 L276.6 600.5 L277.0 601.2 L277.5 602.0 L277.9 602.5 L278.3 603.0 L278.7 603.5 L279.2 604.0 L279.7 604.5 L280.2 605.0 L280.7 605.5 L281.3 606.0 L281.8 606.5 L282.5 607.0 L283.0 607.3 L283.5 607.6 L284.3 608.0 L285.0 608.4 L285.5 608.6 L286.3 609.0 L287.0 609.3 L287.7 609.5 L288.5 609.8 L289.2 610.0 L290.0 610.2 L291.0 610.4 L291.6 610.5 L292.2 611.0 L292.7 611.5 L293.2 612.0 L293.8 612.5 L294.3 613.0 L295.0 613.5 L295.5 613.8 L296.0 614.1 L296.5 615.0 L296.5 616.0 L296.5 617.0 L296.7 618.0 L296.9 619.0 L297.0 619.5 L297.3 620.5 L297.5 621.3 L297.7 622.0 L298.0 622.8 L298.2 623.5 L298.4 624.5 L298.2 625.5 L298.0 626.5 L298.0 627.5 L298.0 628.5 L298.0 629.5 L298.0 630.5 L298.0 631.5 L298.0 632.5 L298.1 633.5 L298.3 634.5 L298.5 635.3 L298.7 636.0 L299.0 636.8 L299.2 637.5 L299.5 638.2 L299.9 639.0 L300.1 639.5 L300.5 640.2 L301.0 641.0 L301.4 641.5 L301.8 642.0 L302.2 642.5 L302.5 643.0 L303.0 643.7 L303.5 644.2 L304.0 644.8 L304.5 645.2 L305.0 645.6 L305.5 646.0 L306.3 646.5 L307.0 647.0 L307.5 647.3 L308.0 647.6 L308.8 648.0 L309.5 648.4 L310.0 648.6 L310.8 649.0 L311.5 649.3 L312.2 649.5 L313.0 649.7 L314.0 649.9 L315.0 650.0 L316.0 650.0 L317.0 650.0 L318.0 650.0 L319.0 650.0 L320.0 650.0 L321.0 650.0Z M338.0 451.4 L337.2 451.0 L336.5 450.6 L336.0 450.4 L335.0 450.0 L334.5 449.9 L333.5 449.5 L333.5 449.5 L334.5 449.1 L335.0 449.0 L336.0 448.6 L336.5 448.5 L336.9 449.0 L337.2 449.5 L337.5 450.0 L338.0 450.7 L338.0 451.4Z M338.5 451.6 L338.5 451.3 L338.5 451.6Z M387.5 568.0 L386.5 568.0 L385.8 567.5 L386.5 567.4 L387.5 567.5 L387.5 568.0Z" fill="#1656ee" fill-rule="evenodd"/>
<path d="M322.4 648.0 L323.0 647.9 L324.0 647.6 L324.5 647.4 L325.5 647.0 L326.0 646.7 L326.5 646.5 L327.5 646.0 L328.0 645.7 L328.5 645.5 L329.3 645.0 L330.0 644.5 L330.5 644.1 L331.0 643.6 L331.5 643.1 L332.0 642.6 L332.5 642.1 L333.0 641.5 L333.4 641.0 L333.7 640.5 L334.0 640.0 L334.5 639.4 L335.5 639.1 L336.0 638.9 L337.0 638.5 L337.5 638.2 L338.0 638.0 L339.0 637.5 L339.5 637.5 L340.0 637.7 L340.5 638.0 L341.5 638.4 L342.0 638.6 L343.0 638.9 L343.5 639.1 L344.5 639.4 L345.0 639.6 L346.0 639.9 L346.6 640.0 L347.5 640.1 L348.5 640.4 L349.1 640.5 L349.9 641.0 L350.4 641.5 L350.9 642.0 L351.4 642.5 L351.9 643.0 L352.5 643.5 L353.0 643.9 L353.5 644.2 L354.0 644.5 L355.0 645.0 L355.5 645.2 L356.0 645.5 L357.0 646.0 L357.5 646.2 L358.2 646.5 L359.0 646.8 L360.0 647.0 L360.5 647.0 L361.5 647.1 L362.5 647.1 L363.5 647.1 L364.5 647.1 L365.5 647.1 L366.5 647.1 L367.5 647.1 L368.4 647.0 L369.0 646.9 L370.0 646.6 L370.5 646.4 L371.5 646.0 L372.0 645.7 L372.5 645.5 L373.5 645.0 L374.0 644.7 L374.5 644.4 L375.0 644.0 L375.8 643.5 L376.5 643.0 L377.0 642.6 L377.5 642.1 L378.0 641.5 L378.4 641.0 L378.7 640.5 L379.1 640.0 L379.5 639.5 L380.0 638.8 L380.5 638.0 L380.7 637.5 L381.0 637.0 L381.4 636.0 L381.6 635.5 L381.9 634.5 L382.1 634.0 L382.4 633.0 L382.5 632.4 L382.6 631.5 L382.6 630.5 L382.6 629.5 L382.6 628.5 L382.6 627.5 L382.6 626.5 L382.5 625.5 L382.5 625.0 L382.3 624.0 L382.0 623.2 L381.8 622.5 L381.5 621.7 L381.2 621.0 L381.0 620.5 L380.5 619.5 L380.2 619.0 L379.9 618.5 L380.0 617.9 L380.1 617.0 L380.1 616.0 L380.1 615.0 L380.1 614.0 L380.5 613.4 L381.0 613.0 L381.8 612.5 L382.5 612.0 L383.0 611.6 L383.5 611.1 L384.0 610.6 L384.5 610.1 L385.0 609.6 L385.5 609.1 L386.0 608.6 L386.5 608.1 L387.0 607.6 L387.5 607.1 L388.5 607.1 L389.5 607.0 L390.0 607.0 L391.0 606.8 L391.8 606.5 L392.5 606.3 L393.3 606.0 L394.0 605.7 L394.5 605.5 L395.5 605.0 L396.0 604.7 L396.5 604.5 L397.3 604.0 L398.0 603.5 L398.5 603.1 L399.0 602.6 L399.5 602.1 L400.0 601.6 L400.5 601.1 L401.0 600.6 L401.5 600.0 L401.9 599.5 L402.2 599.0 L402.5 598.5 L403.0 597.8 L403.5 597.0 L403.7 596.5 L404.0 595.8 L404.3 595.0 L404.5 594.3 L404.8 593.5 L405.0 592.5 L405.0 592.0 L405.1 591.0 L405.1 590.0 L405.1 589.0 L405.1 588.0 L405.1 587.0 L405.1 586.0 L405.0 585.0 L405.0 584.5 L404.8 583.5 L404.5 582.7 L404.3 582.0 L404.0 581.2 L403.7 580.5 L403.5 580.0 L403.0 579.2 L402.5 578.5 L402.2 578.0 L401.9 577.5 L401.5 577.0 L401.0 576.4 L400.5 575.9 L400.0 575.4 L399.5 574.9 L399.0 574.4 L398.5 573.9 L398.0 573.5 L397.3 573.0 L396.5 572.5 L396.0 572.3 L395.5 572.0 L394.5 571.5 L394.0 571.3 L393.3 571.0 L392.5 570.7 L391.8 570.5 L391.0 570.2 L390.0 570.0 L389.5 570.0 L388.5 569.9 L387.5 569.9 L386.5 569.9 L385.5 569.9 L385.0 569.4 L384.5 568.9 L384.0 568.4 L383.5 568.0 L382.8 567.5 L382.1 567.0 L381.5 566.5 L381.5 566.5 L382.3 566.0 L383.0 565.5 L383.5 565.1 L384.0 564.8 L384.7 565.0 L385.5 565.3 L386.5 565.5 L387.0 565.5 L388.0 565.6 L389.0 565.6 L390.0 565.6 L391.0 565.6 L392.0 565.6 L393.0 565.6 L394.0 565.6 L395.0 565.5 L395.5 565.5 L396.5 565.3 L397.3 565.0 L398.0 564.8 L398.8 564.5 L399.5 564.2 L400.0 564.0 L401.0 563.5 L401.5 563.2 L402.0 563.0 L402.8 562.5 L403.5 562.0 L404.0 561.7 L404.5 561.4 L405.0 561.0 L405.6 560.5 L406.1 560.0 L406.6 559.5 L407.1 559.0 L407.6 558.5 L408.1 558.0 L408.5 557.5 L409.0 556.8 L409.5 556.0 L409.9 555.5 L410.2 555.0 L410.5 554.5 L411.0 553.5 L411.2 553.0 L411.5 552.5 L411.9 551.5 L412.1 551.0 L412.4 550.0 L412.5 549.4 L412.8 548.5 L413.0 547.5 L413.0 547.0 L413.1 546.0 L413.1 545.0 L413.1 544.0 L413.1 543.0 L413.1 542.0 L413.1 541.0 L413.0 540.0 L413.0 539.5 L412.8 538.5 L412.5 537.7 L412.3 537.0 L412.0 536.2 L411.8 535.5 L411.5 534.7 L411.2 534.0 L411.0 533.5 L410.5 532.7 L410.0 532.0 L409.7 531.5 L409.4 531.0 L409.0 530.5 L408.5 529.9 L408.0 529.2 L408.0 528.8 L408.5 528.4 L409.0 528.0 L409.6 527.5 L410.1 527.0 L410.5 526.5 L411.0 525.8 L411.5 525.0 L411.9 524.5 L412.2 524.0 L412.5 523.5 L413.0 522.5 L413.2 522.0 L413.5 521.5 L413.9 520.5 L414.1 520.0 L414.4 519.0 L414.5 518.4 L414.6 517.5 L414.6 516.5 L414.6 515.5 L414.6 514.5 L414.6 513.5 L414.6 512.5 L414.6 511.5 L414.5 510.5 L414.5 510.0 L414.3 509.0 L414.0 508.2 L413.7 507.5 L413.5 507.0 L413.0 506.0 L412.7 505.5 L412.5 505.0 L412.0 504.0 L411.7 503.5 L411.4 503.0 L411.0 502.5 L411.1 502.0 L411.4 501.0 L411.6 500.5 L411.9 499.5 L412.0 498.9 L412.1 498.0 L412.1 497.0 L412.1 496.0 L412.1 495.0 L412.1 494.0 L412.1 493.0 L412.1 492.0 L412.0 491.1 L411.9 490.5 L411.6 489.5 L411.4 489.0 L411.1 488.0 L410.9 487.5 L410.6 486.5 L410.4 486.0 L410.0 485.0 L409.7 484.5 L409.5 484.0 L409.0 483.2 L408.5 482.5 L408.1 482.0 L407.7 481.5 L407.4 481.0 L407.0 480.5 L406.5 479.9 L406.0 479.4 L405.5 478.9 L405.0 478.4 L404.5 478.0 L403.8 477.5 L403.1 477.0 L402.5 476.5 L402.0 476.1 L401.5 475.8 L401.0 475.5 L400.0 475.0 L399.5 474.8 L398.8 474.5 L398.0 474.2 L397.3 474.0 L396.5 473.7 L395.8 473.5 L395.0 473.2 L394.0 473.0 L393.5 473.0 L392.5 472.9 L391.5 472.9 L390.5 472.9 L389.5 472.9 L388.5 472.9 L387.5 472.9 L386.5 473.0 L386.0 473.0 L385.0 473.2 L384.2 473.5 L383.5 473.7 L382.7 474.0 L382.0 474.2 L381.0 474.0 L380.5 473.6 L380.0 473.3 L379.5 473.0 L378.5 472.5 L378.0 472.3 L377.5 472.0 L376.8 471.5 L377.5 471.0 L378.0 470.7 L378.5 470.4 L379.0 470.0 L379.6 469.5 L380.1 469.0 L380.6 468.5 L381.1 468.0 L381.6 467.5 L382.1 467.0 L382.6 466.5 L383.0 466.0 L383.5 465.3 L384.0 464.5 L384.4 464.0 L384.7 463.5 L385.0 463.0 L385.4 462.0 L385.6 461.5 L386.0 460.5 L386.2 460.0 L386.5 459.3 L386.8 458.5 L387.0 457.5 L387.0 457.0 L387.1 456.0 L387.1 455.0 L387.1 454.0 L387.1 453.0 L387.1 452.0 L387.1 451.0 L387.1 450.0 L387.1 449.0 L387.0 448.1 L386.9 447.5 L386.6 446.5 L386.4 446.0 L386.1 445.0 L385.9 444.5 L385.5 443.5 L385.2 443.0 L385.0 442.5 L384.5 441.5 L384.2 441.0 L383.9 440.5 L383.5 440.0 L383.0 439.2 L382.5 438.5 L382.1 438.0 L381.6 437.5 L381.1 437.0 L380.6 436.5 L380.1 436.0 L379.5 435.5 L379.0 435.1 L378.5 434.8 L378.0 434.5 L377.3 434.0 L376.5 433.5 L376.0 433.3 L375.5 433.0 L374.5 432.5 L374.0 432.3 L373.3 432.0 L372.5 431.7 L371.8 431.5 L371.0 431.2 L370.0 431.0 L369.5 431.0 L368.5 430.9 L368.0 430.4 L367.5 429.9 L367.0 429.2 L366.5 428.5 L366.1 428.0 L365.6 427.5 L365.1 427.0 L364.6 426.5 L364.1 426.0 L363.5 425.5 L363.0 425.1 L362.5 424.8 L362.0 424.5 L361.3 424.0 L360.5 423.5 L360.0 423.3 L359.3 423.0 L358.5 422.7 L357.8 422.5 L357.0 422.2 L356.0 422.0 L355.5 422.0 L354.5 421.9 L353.5 421.9 L352.5 421.9 L351.5 421.9 L350.5 421.9 L349.6 422.0 L349.4 422.0 L349.0 421.5 L348.8 420.5 L348.5 419.7 L348.3 419.0 L348.0 418.2 L347.7 417.5 L347.5 417.0 L347.0 416.0 L346.7 415.5 L346.5 415.0 L346.0 414.2 L345.5 413.5 L345.2 413.0 L344.9 412.5 L344.5 412.0 L344.0 411.4 L343.5 410.9 L343.0 410.4 L342.5 409.9 L342.0 409.4 L341.5 408.9 L341.0 408.5 L340.3 408.0 L339.5 407.5 L339.0 407.1 L338.5 406.8 L338.0 406.5 L337.0 406.0 L336.5 405.8 L335.8 405.5 L335.0 405.2 L334.3 405.0 L333.5 404.7 L332.5 404.5 L332.0 404.4 L331.0 404.1 L330.4 404.0 L329.5 403.9 L328.5 403.9 L327.5 403.9 L326.5 403.9 L325.5 403.9 L324.5 403.9 L323.6 404.0 L323.0 404.1 L322.0 404.4 L321.5 404.6 L320.5 404.9 L320.0 405.1 L319.0 405.4 L318.5 405.6 L317.5 406.0 L317.0 406.3 L316.5 406.5 L315.7 407.0 L315.0 407.5 L314.5 407.8 L314.0 408.1 L313.5 408.5 L312.9 409.0 L312.4 409.5 L311.9 410.0 L311.4 410.5 L310.9 411.0 L310.4 411.5 L309.9 412.0 L309.5 412.5 L309.0 413.2 L308.5 414.0 L308.1 414.5 L307.8 415.0 L307.5 415.5 L307.0 416.5 L306.8 417.0 L306.5 417.7 L306.2 418.5 L306.0 419.2 L305.7 420.0 L305.5 421.0 L305.5 421.5 L305.2 422.5 L305.0 423.5 L305.0 424.0 L304.6 425.0 L304.0 425.1 L303.0 425.4 L302.5 425.5 L301.5 425.7 L300.7 426.0 L300.0 426.3 L299.5 426.5 L298.5 427.0 L298.0 427.3 L297.5 427.5 L296.5 428.0 L296.0 428.3 L295.5 428.6 L295.0 429.0 L294.0 429.4 L293.0 429.4 L292.0 429.4 L291.0 429.4 L290.0 429.4 L289.0 429.4 L288.1 429.5 L287.5 429.6 L286.5 429.9 L286.0 430.1 L285.0 430.5 L284.5 430.8 L284.0 431.0 L283.0 431.5 L282.5 431.8 L282.0 432.1 L281.5 432.5 L280.7 433.0 L280.0 433.5 L279.5 433.9 L279.0 434.4 L278.5 434.9 L278.0 435.5 L277.6 436.0 L277.3 436.5 L277.0 437.0 L276.5 437.7 L276.0 438.5 L275.8 439.0 L275.5 439.5 L275.0 440.5 L274.8 441.0 L274.5 441.7 L274.2 442.5 L274.0 443.5 L273.9 444.0 L273.6 445.0 L273.5 445.6 L273.4 446.5 L273.4 447.5 L273.4 448.5 L273.4 449.5 L273.5 450.4 L273.6 451.0 L273.9 452.0 L274.0 452.5 L274.2 453.5 L274.5 454.3 L274.8 455.0 L275.0 455.5 L275.5 456.5 L275.8 457.0 L276.0 457.5 L276.5 458.3 L277.0 459.0 L277.3 459.5 L277.6 460.0 L278.0 460.5 L278.5 461.1 L279.0 461.6 L279.5 462.1 L280.0 462.5 L280.7 463.0 L281.5 463.5 L282.0 463.9 L282.5 464.2 L283.0 464.5 L284.0 465.0 L284.5 465.2 L285.0 465.5 L286.0 465.9 L286.5 466.1 L287.5 466.4 L288.1 466.5 L289.0 466.6 L290.0 466.6 L291.0 466.6 L292.0 466.6 L293.0 466.6 L294.0 466.6 L295.0 466.6 L296.0 466.5 L296.5 466.5 L297.0 466.7 L297.5 467.0 L298.5 467.5 L299.0 467.7 L299.5 468.0 L300.5 468.4 L301.0 468.6 L302.0 468.9 L302.5 469.5 L302.5 470.0 L302.5 470.5 L302.2 471.5 L301.5 471.8 L301.0 472.0 L300.0 472.5 L299.5 472.8 L299.0 473.1 L298.5 473.5 L297.7 474.0 L297.0 474.5 L296.5 474.8 L296.0 475.1 L295.5 475.5 L294.9 476.0 L294.4 476.5 L293.9 477.0 L293.4 477.5 L292.9 478.0 L292.4 478.5 L291.5 478.9 L290.5 479.0 L290.0 479.0 L289.0 479.2 L288.1 479.5 L287.5 479.6 L286.5 479.9 L286.0 480.1 L285.0 480.5 L284.5 480.8 L284.0 481.0 L283.0 481.5 L282.5 481.8 L282.0 482.1 L281.5 482.5 L280.9 483.0 L280.4 483.5 L279.9 484.0 L279.4 484.5 L278.9 485.0 L278.4 485.5 L277.9 486.0 L277.5 486.5 L277.0 487.2 L276.5 488.0 L276.3 488.5 L276.0 489.0 L275.5 490.0 L275.3 490.5 L275.0 491.2 L274.7 492.0 L274.5 493.0 L274.4 493.5 L274.1 494.5 L274.0 495.1 L273.9 496.0 L273.9 497.0 L273.9 498.0 L273.9 499.0 L274.0 499.9 L274.1 500.5 L274.4 501.5 L274.5 502.0 L274.7 503.0 L275.0 503.8 L275.3 504.5 L275.5 505.0 L276.0 506.0 L276.3 506.5 L276.5 507.0 L277.0 507.8 L277.5 508.5 L277.8 509.0 L278.1 509.5 L278.5 510.0 L279.0 510.6 L279.5 511.1 L280.0 511.5 L280.7 512.0 L281.4 512.5 L282.0 513.0 L282.5 513.4 L283.0 513.7 L283.5 514.0 L284.5 514.5 L285.0 514.7 L285.7 515.0 L286.5 515.3 L287.2 515.5 L288.0 515.8 L289.0 516.0 L289.5 516.0 L290.5 516.1 L291.5 516.1 L292.4 516.5 L292.9 517.0 L293.4 517.5 L293.9 518.0 L294.5 518.5 L295.0 518.9 L295.5 519.2 L296.0 519.6 L296.5 520.0 L297.0 520.5 L296.5 520.9 L296.0 521.3 L295.5 521.6 L295.0 522.0 L294.4 522.5 L293.5 522.7 L292.5 522.5 L292.0 522.5 L291.0 522.4 L290.0 522.4 L289.0 522.4 L288.0 522.4 L287.0 522.4 L286.0 522.5 L285.5 522.5 L284.5 522.7 L283.6 523.0 L283.0 523.1 L282.0 523.4 L281.5 523.6 L280.5 524.0 L280.0 524.3 L279.5 524.5 L278.5 525.0 L278.0 525.3 L277.5 525.5 L276.7 526.0 L276.0 526.5 L275.5 526.9 L275.0 527.3 L274.5 527.6 L274.0 528.0 L273.4 528.5 L272.9 529.0 L272.5 529.5 L272.0 530.2 L271.5 530.9 L271.0 531.5 L270.6 532.0 L270.3 532.5 L270.0 533.0 L269.5 533.7 L269.0 534.5 L268.8 535.0 L268.5 535.7 L268.2 536.5 L268.0 537.2 L267.7 538.0 L267.5 538.7 L267.2 539.5 L267.0 540.5 L267.0 541.0 L266.9 542.0 L266.9 543.0 L266.9 544.0 L266.9 545.0 L266.9 546.0 L266.9 547.0 L267.0 548.0 L267.0 548.5 L267.2 549.5 L267.5 550.4 L267.6 551.0 L267.9 552.0 L268.1 552.5 L268.5 553.5 L268.8 554.0 L269.0 554.5 L269.5 555.5 L269.8 556.0 L270.1 556.5 L270.5 557.0 L271.0 557.8 L271.5 558.5 L271.9 559.0 L272.4 559.5 L272.9 560.0 L273.4 560.5 L273.9 561.0 L274.4 561.5 L275.0 562.0 L275.5 562.4 L276.0 562.7 L276.5 563.0 L277.2 563.5 L278.0 564.0 L278.5 564.2 L279.0 564.5 L280.0 565.0 L280.5 565.2 L281.2 565.5 L282.0 565.8 L282.7 566.0 L283.5 566.3 L284.5 566.5 L285.0 566.5 L286.0 566.6 L287.0 566.6 L288.0 566.6 L289.0 566.6 L290.0 566.6 L291.0 566.6 L292.0 566.6 L293.0 566.5 L293.5 566.5 L294.5 566.3 L295.3 566.0 L296.0 565.8 L296.5 566.1 L297.0 566.5 L296.5 567.0 L296.0 567.4 L295.5 567.8 L295.0 568.1 L294.5 568.5 L293.9 569.0 L293.4 569.5 L292.9 570.0 L292.4 570.5 L292.0 571.0 L291.1 571.5 L290.5 571.6 L289.5 571.9 L289.0 572.1 L288.0 572.4 L287.5 572.6 L286.5 573.0 L286.0 573.3 L285.5 573.5 L284.5 574.0 L284.0 574.3 L283.5 574.6 L283.0 575.0 L282.4 575.5 L281.9 576.0 L281.4 576.5 L280.9 577.0 L280.4 577.5 L279.9 578.0 L279.5 578.5 L279.0 579.2 L278.5 580.0 L278.3 580.5 L278.0 581.0 L277.5 582.0 L277.3 582.5 L277.0 583.0 L276.6 584.0 L276.4 584.5 L276.1 585.5 L276.0 586.1 L275.9 587.0 L275.9 588.0 L275.9 589.0 L275.9 590.0 L275.9 591.0 L275.9 592.0 L275.9 593.0 L276.0 593.9 L276.1 594.5 L276.4 595.5 L276.6 596.0 L277.0 597.0 L277.3 597.5 L277.5 598.0 L278.0 599.0 L278.3 599.5 L278.5 600.0 L279.0 600.8 L279.5 601.5 L279.9 602.0 L280.4 602.5 L280.9 603.0 L281.4 603.5 L281.9 604.0 L282.4 604.5 L283.0 605.0 L283.5 605.4 L284.0 605.7 L284.5 606.0 L285.5 606.5 L286.0 606.7 L286.5 607.0 L287.5 607.4 L288.0 607.6 L289.0 607.9 L289.5 608.1 L290.5 608.4 L291.1 608.5 L292.0 608.6 L292.9 609.0 L293.4 609.5 L293.9 610.0 L294.4 610.5 L294.9 611.0 L295.5 611.5 L296.0 611.9 L296.5 612.2 L297.0 612.5 L297.7 613.0 L298.4 613.5 L298.4 614.5 L298.4 615.5 L298.4 616.5 L298.5 617.4 L298.6 618.0 L298.9 619.0 L299.0 619.5 L299.2 620.5 L299.5 621.3 L299.7 622.0 L300.0 622.8 L300.3 623.5 L300.5 624.0 L300.4 624.5 L300.1 625.5 L300.0 626.1 L299.9 627.0 L299.9 628.0 L299.9 629.0 L299.9 630.0 L299.9 631.0 L299.9 632.0 L300.0 633.0 L300.0 633.5 L300.2 634.5 L300.5 635.3 L300.7 636.0 L301.0 636.8 L301.3 637.5 L301.5 638.0 L302.0 639.0 L302.3 639.5 L302.6 640.0 L303.0 640.5 L303.5 641.1 L304.0 641.8 L304.5 642.5 L304.9 643.0 L305.4 643.5 L306.0 644.0 L306.5 644.4 L307.0 644.7 L307.5 645.0 L308.2 645.5 L309.0 646.0 L309.5 646.2 L310.0 646.5 L311.0 647.0 L311.5 647.2 L312.2 647.5 L313.0 647.8 L314.0 648.0 L314.5 648.0 L315.5 648.1 L316.5 648.1 L317.5 648.1 L318.5 648.1 L319.5 648.1 L320.5 648.1 L321.5 648.1 L322.4 648.0Z M339.5 454.1 L339.0 454.0 L338.0 453.5 L337.5 453.3 L337.0 453.0 L336.0 452.5 L335.5 452.3 L334.8 452.0 L334.0 451.7 L333.3 451.5 L332.5 451.2 L331.5 451.0 L331.0 450.8 L330.6 450.0 L330.6 449.0 L331.0 448.1 L331.5 448.0 L332.5 447.8 L333.3 447.5 L334.0 447.3 L334.8 447.0 L335.5 446.8 L336.3 446.5 L337.0 446.2 L337.5 446.5 L338.0 447.3 L338.5 448.0 L338.8 448.5 L339.1 449.0 L339.5 449.5 L340.0 450.1 L340.5 450.6 L341.0 451.1 L341.5 451.6 L342.0 452.1 L342.0 452.8 L341.5 453.0 L340.5 453.5 L340.0 453.8 L339.5 454.1Z" fill="#1472d8" fill-rule="evenodd"/>
<path d="M323.5 646.0 L324.0 645.8 L324.7 645.5 L325.5 645.1 L326.0 644.8 L326.7 644.5 L327.5 644.1 L328.0 643.8 L328.5 643.5 L329.1 643.0 L329.7 642.5 L330.2 642.0 L330.7 641.5 L331.2 641.0 L331.6 640.5 L332.0 640.0 L332.5 639.2 L332.8 638.5 L333.5 638.0 L334.0 637.8 L335.0 637.5 L335.5 637.3 L336.2 637.0 L337.0 636.6 L337.5 636.3 L338.2 636.0 L339.0 635.6 L340.0 635.8 L340.5 636.1 L341.3 636.5 L342.0 636.8 L342.5 637.0 L343.5 637.3 L344.0 637.5 L345.0 637.8 L345.5 638.0 L346.5 638.3 L347.5 638.4 L348.0 638.5 L349.0 638.8 L350.0 638.9 L350.5 639.0 L351.0 639.6 L351.5 640.2 L352.0 640.7 L352.5 641.2 L353.0 641.7 L353.5 642.1 L354.0 642.5 L354.8 643.0 L355.5 643.3 L356.0 643.6 L356.8 644.0 L357.5 644.3 L358.0 644.6 L359.0 645.0 L359.5 645.1 L360.5 645.3 L361.5 645.4 L362.5 645.4 L363.5 645.4 L364.5 645.4 L365.5 645.4 L366.5 645.4 L367.5 645.4 L368.5 645.3 L369.5 645.0 L370.0 644.8 L370.7 644.5 L371.5 644.1 L372.0 643.8 L372.7 643.5 L373.5 643.0 L374.0 642.6 L374.5 642.3 L375.0 642.0 L375.6 641.5 L376.2 641.0 L376.6 640.5 L377.0 640.0 L377.5 639.2 L378.0 638.6 L378.5 638.0 L378.8 637.5 L379.1 637.0 L379.5 636.2 L379.8 635.5 L380.0 635.0 L380.3 634.0 L380.5 633.5 L380.8 632.5 L380.9 631.5 L380.9 630.5 L380.9 629.5 L380.9 628.5 L380.9 627.5 L380.9 626.5 L380.8 625.5 L380.6 624.5 L380.5 624.0 L380.1 623.0 L380.0 622.5 L379.6 621.5 L379.3 621.0 L379.0 620.3 L378.5 619.5 L378.1 619.0 L378.3 618.0 L378.4 617.0 L378.4 616.0 L378.4 615.0 L378.4 614.0 L378.4 613.0 L378.7 612.5 L379.5 612.0 L380.0 611.6 L380.5 611.3 L381.0 611.0 L381.6 610.5 L382.2 610.0 L382.7 609.5 L383.2 609.0 L383.7 608.5 L384.2 608.0 L384.7 607.5 L385.2 607.0 L385.7 606.5 L386.2 606.0 L386.7 605.5 L387.5 605.4 L388.5 605.4 L389.5 605.3 L390.5 605.1 L391.0 605.0 L392.0 604.6 L392.5 604.5 L393.5 604.1 L394.0 603.8 L394.7 603.5 L395.5 603.1 L396.0 602.8 L396.5 602.5 L397.1 602.0 L397.7 601.5 L398.2 601.0 L398.7 600.5 L399.2 600.0 L399.7 599.5 L400.1 599.0 L400.5 598.5 L401.0 597.7 L401.5 597.0 L401.8 596.5 L402.1 596.0 L402.5 595.0 L402.6 594.5 L403.0 593.5 L403.1 593.0 L403.3 592.0 L403.4 591.0 L403.4 590.0 L403.4 589.0 L403.4 588.0 L403.4 587.0 L403.4 586.0 L403.3 585.0 L403.1 584.0 L403.0 583.5 L402.6 582.5 L402.5 582.0 L402.1 581.0 L401.8 580.5 L401.5 580.0 L401.0 579.3 L400.5 578.5 L400.1 578.0 L399.7 577.5 L399.2 577.0 L398.7 576.5 L398.2 576.0 L397.7 575.5 L397.1 575.0 L396.5 574.5 L396.0 574.2 L395.5 573.9 L394.7 573.5 L394.0 573.2 L393.5 572.9 L392.5 572.5 L392.0 572.4 L391.0 572.0 L390.5 571.9 L389.5 571.7 L388.5 571.6 L387.5 571.6 L386.5 571.6 L385.5 571.6 L384.8 571.5 L384.2 571.0 L383.7 570.5 L383.2 570.0 L382.6 569.5 L382.0 569.0 L381.5 568.7 L381.0 568.3 L380.5 567.9 L380.0 567.5 L379.2 567.0 L378.5 566.7 L378.5 566.3 L379.2 566.0 L380.0 565.5 L380.5 565.1 L381.0 564.8 L381.5 564.5 L382.1 564.0 L382.7 563.5 L383.2 563.0 L384.0 563.0 L384.5 563.1 L385.5 563.5 L386.0 563.6 L387.0 563.8 L388.0 563.9 L389.0 563.9 L390.0 563.9 L391.0 563.9 L392.0 563.9 L393.0 563.9 L394.0 563.9 L395.0 563.8 L396.0 563.6 L396.5 563.5 L397.5 563.1 L398.0 563.0 L399.0 562.6 L399.5 562.3 L400.2 562.0 L401.0 561.6 L401.5 561.3 L402.0 561.0 L402.7 560.5 L403.5 560.0 L404.0 559.6 L404.5 559.2 L405.0 558.7 L405.5 558.2 L406.0 557.7 L406.5 557.2 L407.0 556.6 L407.5 556.0 L407.8 555.5 L408.1 555.0 L408.5 554.5 L409.0 553.7 L409.3 553.0 L409.6 552.5 L410.0 551.7 L410.3 551.0 L410.5 550.5 L410.8 549.5 L411.0 548.5 L411.1 548.0 L411.3 547.0 L411.4 546.0 L411.4 545.0 L411.4 544.0 L411.4 543.0 L411.4 542.0 L411.4 541.0 L411.3 540.0 L411.1 539.0 L411.0 538.5 L410.6 537.5 L410.5 537.0 L410.1 536.0 L410.0 535.5 L409.6 534.5 L409.3 534.0 L409.0 533.5 L408.5 532.8 L408.0 532.0 L407.6 531.5 L407.2 531.0 L406.8 530.5 L406.5 530.0 L406.0 529.4 L405.5 528.5 L405.5 528.5 L406.1 528.0 L406.7 527.5 L407.5 527.0 L408.0 526.6 L408.5 526.2 L409.0 525.6 L409.5 525.0 L409.8 524.5 L410.1 524.0 L410.5 523.5 L411.0 522.7 L411.3 522.0 L411.6 521.5 L412.0 520.7 L412.3 520.0 L412.5 519.5 L412.8 518.5 L412.9 517.5 L412.9 516.5 L412.9 515.5 L412.9 514.5 L412.9 513.5 L412.9 512.5 L412.9 511.5 L412.8 510.5 L412.6 509.5 L412.5 509.0 L412.1 508.0 L411.8 507.5 L411.5 506.8 L411.1 506.0 L410.8 505.5 L410.5 504.8 L410.0 504.0 L409.6 503.5 L409.2 503.0 L409.3 502.0 L409.5 501.5 L409.8 500.5 L410.0 500.0 L410.3 499.0 L410.4 498.0 L410.4 497.0 L410.4 496.0 L410.4 495.0 L410.4 494.0 L410.4 493.0 L410.4 492.0 L410.3 491.0 L410.0 490.0 L409.8 489.5 L409.5 488.5 L409.3 488.0 L409.0 487.0 L408.8 486.5 L408.5 485.8 L408.1 485.0 L407.8 484.5 L407.5 484.0 L407.0 483.4 L406.5 482.8 L406.0 482.0 L405.6 481.5 L405.2 481.0 L404.7 480.5 L404.2 480.0 L403.6 479.5 L403.0 479.0 L402.5 478.7 L402.0 478.3 L401.5 477.9 L401.0 477.5 L400.2 477.0 L399.5 476.7 L399.0 476.4 L398.0 476.0 L397.5 475.9 L396.5 475.5 L396.0 475.4 L395.0 475.0 L394.5 474.9 L393.5 474.7 L392.5 474.6 L391.5 474.6 L390.5 474.6 L389.5 474.6 L388.5 474.6 L387.5 474.6 L386.5 474.7 L385.5 474.9 L385.0 475.0 L384.0 475.4 L383.5 475.5 L382.5 475.9 L382.0 476.0 L381.0 476.0 L380.5 475.7 L380.0 475.4 L379.5 475.0 L378.7 474.5 L378.0 474.2 L377.5 473.9 L376.7 473.5 L376.0 473.2 L375.5 473.0 L374.5 472.6 L374.4 472.0 L374.4 471.0 L375.0 470.6 L375.5 470.3 L376.0 470.0 L376.7 469.5 L377.5 469.0 L378.0 468.6 L378.5 468.2 L379.0 467.7 L379.5 467.2 L380.0 466.7 L380.5 466.2 L381.0 465.7 L381.5 465.1 L382.0 464.5 L382.3 464.0 L382.6 463.5 L383.0 463.0 L383.5 462.2 L383.8 461.5 L384.0 461.0 L384.3 460.0 L384.6 459.5 L385.0 458.5 L385.1 458.0 L385.3 457.0 L385.4 456.0 L385.4 455.0 L385.4 454.0 L385.4 453.0 L385.4 452.0 L385.4 451.0 L385.4 450.0 L385.4 449.0 L385.3 448.0 L385.0 447.0 L384.8 446.5 L384.5 445.5 L384.3 445.0 L384.0 444.3 L383.6 443.5 L383.3 443.0 L383.0 442.3 L382.5 441.5 L382.1 441.0 L381.8 440.5 L381.5 440.0 L381.0 439.4 L380.5 438.8 L380.0 438.3 L379.5 437.8 L379.0 437.3 L378.5 436.9 L378.0 436.5 L377.2 436.0 L376.5 435.5 L376.0 435.2 L375.5 434.9 L374.7 434.5 L374.0 434.2 L373.5 433.9 L372.5 433.5 L372.0 433.4 L371.0 433.0 L370.5 432.9 L369.5 432.7 L368.5 432.6 L367.8 432.5 L367.2 432.0 L366.7 431.5 L366.2 431.0 L365.8 430.5 L365.5 430.0 L365.0 429.4 L364.5 428.8 L364.0 428.3 L363.5 427.8 L363.0 427.3 L362.5 426.9 L362.0 426.5 L361.2 426.0 L360.5 425.5 L360.0 425.2 L359.5 424.9 L358.5 424.5 L358.0 424.4 L357.0 424.0 L356.5 423.9 L355.5 423.7 L354.5 423.6 L353.5 423.6 L352.5 423.6 L351.5 423.6 L350.5 423.6 L349.5 423.7 L348.5 424.0 L348.0 424.2 L347.4 424.0 L347.4 423.0 L347.3 422.0 L347.1 421.0 L347.0 420.5 L346.6 419.5 L346.5 419.0 L346.1 418.0 L345.8 417.5 L345.5 416.8 L345.1 416.0 L344.8 415.5 L344.5 415.0 L344.0 414.3 L343.5 413.5 L343.1 413.0 L342.7 412.5 L342.2 412.0 L341.7 411.5 L341.2 411.0 L340.7 410.5 L340.1 410.0 L339.5 409.5 L339.0 409.2 L338.5 408.9 L338.0 408.5 L337.2 408.0 L336.5 407.7 L336.0 407.4 L335.0 407.0 L334.5 406.9 L333.5 406.5 L333.0 406.4 L332.0 406.2 L331.5 406.0 L330.5 405.7 L329.5 405.6 L328.5 405.6 L327.5 405.6 L326.5 405.6 L325.5 405.6 L324.5 405.6 L323.5 405.7 L322.5 406.0 L322.0 406.2 L321.0 406.5 L320.5 406.7 L319.5 407.0 L319.0 407.2 L318.3 407.5 L317.5 407.9 L317.0 408.2 L316.5 408.5 L315.8 409.0 L315.0 409.5 L314.5 409.9 L314.0 410.3 L313.5 410.8 L313.0 411.3 L312.5 411.8 L312.0 412.3 L311.5 412.8 L311.0 413.4 L310.5 414.0 L310.2 414.5 L309.9 415.0 L309.5 415.5 L309.0 416.3 L308.7 417.0 L308.4 417.5 L308.0 418.5 L307.9 419.0 L307.5 420.0 L307.4 420.5 L307.2 421.5 L307.0 422.5 L306.9 423.0 L306.7 424.0 L306.6 425.0 L306.6 426.0 L306.2 426.5 L305.5 426.6 L304.5 426.7 L303.5 427.0 L303.0 427.2 L302.0 427.4 L301.5 427.5 L300.5 427.9 L300.0 428.2 L299.3 428.5 L298.5 428.9 L298.0 429.2 L297.3 429.5 L296.5 430.0 L296.0 430.4 L295.5 430.8 L295.0 431.1 L294.0 431.1 L293.0 431.1 L292.0 431.1 L291.0 431.1 L290.0 431.1 L289.0 431.1 L288.0 431.2 L287.0 431.5 L286.5 431.7 L285.8 432.0 L285.0 432.4 L284.5 432.7 L283.8 433.0 L283.0 433.5 L282.5 433.9 L282.0 434.2 L281.5 434.5 L280.9 435.0 L280.3 435.5 L279.8 436.0 L279.4 436.5 L279.0 437.0 L278.5 437.8 L278.0 438.5 L277.7 439.0 L277.4 439.5 L277.0 440.3 L276.7 441.0 L276.4 441.5 L276.0 442.5 L275.9 443.0 L275.7 444.0 L275.5 444.5 L275.2 445.5 L275.1 446.5 L275.1 447.5 L275.1 448.5 L275.1 449.5 L275.2 450.5 L275.5 451.5 L275.7 452.0 L275.9 453.0 L276.0 453.5 L276.4 454.5 L276.7 455.0 L277.0 455.7 L277.4 456.5 L277.7 457.0 L278.0 457.5 L278.5 458.2 L279.0 459.0 L279.4 459.5 L279.8 460.0 L280.3 460.5 L280.9 461.0 L281.5 461.5 L282.0 461.8 L282.5 462.1 L283.0 462.5 L283.8 463.0 L284.5 463.3 L285.0 463.6 L285.8 464.0 L286.5 464.3 L287.0 464.5 L288.0 464.8 L289.0 464.9 L290.0 464.9 L291.0 464.9 L292.0 464.9 L293.0 464.9 L294.0 464.9 L295.0 464.9 L296.0 464.8 L297.0 464.8 L297.5 465.1 L298.3 465.5 L299.0 465.8 L299.5 466.1 L300.3 466.5 L301.0 466.8 L301.5 467.0 L302.5 467.3 L303.0 467.5 L303.5 468.0 L304.0 468.7 L304.4 469.5 L304.2 470.5 L304.1 471.5 L304.1 472.5 L303.5 472.9 L303.0 473.0 L302.0 473.4 L301.5 473.7 L300.8 474.0 L300.0 474.5 L299.5 474.9 L299.0 475.2 L298.5 475.5 L297.8 476.0 L297.0 476.5 L296.5 476.9 L296.0 477.3 L295.5 477.8 L295.0 478.3 L294.5 478.8 L294.0 479.3 L293.5 479.8 L293.0 480.3 L292.5 480.6 L291.5 480.6 L290.5 480.7 L289.5 480.9 L289.0 481.0 L288.0 481.2 L287.0 481.5 L286.5 481.7 L285.8 482.0 L285.0 482.4 L284.5 482.7 L283.8 483.0 L283.0 483.5 L282.5 483.9 L282.0 484.3 L281.5 484.8 L281.0 485.3 L280.5 485.8 L280.0 486.3 L279.5 486.8 L279.0 487.4 L278.5 488.0 L278.2 488.5 L277.9 489.0 L277.5 489.8 L277.2 490.5 L276.9 491.0 L276.5 492.0 L276.4 492.5 L276.2 493.5 L276.0 494.0 L275.7 495.0 L275.6 496.0 L275.6 497.0 L275.6 498.0 L275.6 499.0 L275.7 500.0 L276.0 501.0 L276.2 501.5 L276.4 502.5 L276.5 503.0 L276.9 504.0 L277.2 504.5 L277.5 505.2 L277.9 506.0 L278.2 506.5 L278.5 507.0 L279.0 507.7 L279.5 508.5 L279.9 509.0 L280.3 509.5 L280.9 510.0 L281.5 510.5 L282.0 510.8 L282.5 511.2 L283.0 511.6 L283.5 512.0 L284.3 512.5 L285.0 512.8 L285.5 513.1 L286.5 513.5 L287.0 513.6 L288.0 514.0 L288.5 514.1 L289.5 514.3 L290.5 514.4 L291.5 514.4 L292.5 514.4 L293.0 514.5 L293.5 515.1 L294.0 515.7 L294.5 516.2 L295.0 516.7 L295.5 517.1 L296.0 517.5 L296.8 518.0 L297.4 518.5 L298.0 519.0 L298.5 519.3 L299.0 519.6 L299.5 520.0 L300.3 520.5 L299.5 520.9 L299.0 521.2 L298.5 521.5 L297.9 522.0 L297.3 522.5 L296.5 523.0 L296.0 523.4 L295.5 523.8 L295.0 524.3 L294.5 524.7 L293.5 524.5 L293.0 524.4 L292.0 524.2 L291.0 524.1 L290.0 524.1 L289.0 524.1 L288.0 524.1 L287.0 524.1 L286.0 524.2 L285.0 524.4 L284.5 524.5 L283.5 524.7 L282.5 525.0 L282.0 525.2 L281.3 525.5 L280.5 525.9 L280.0 526.2 L279.3 526.5 L278.5 526.9 L278.0 527.2 L277.5 527.5 L276.9 528.0 L276.3 528.5 L275.5 529.0 L275.0 529.4 L274.5 529.8 L274.0 530.4 L273.5 531.0 L273.2 531.5 L272.8 532.0 L272.4 532.5 L272.0 533.0 L271.5 533.8 L271.0 534.5 L270.7 535.0 L270.4 535.5 L270.0 536.5 L269.9 537.0 L269.5 538.0 L269.4 538.5 L269.0 539.5 L268.9 540.0 L268.7 541.0 L268.6 542.0 L268.6 543.0 L268.6 544.0 L268.6 545.0 L268.6 546.0 L268.6 547.0 L268.7 548.0 L268.9 549.0 L269.0 549.5 L269.2 550.5 L269.5 551.5 L269.7 552.0 L270.0 552.7 L270.4 553.5 L270.7 554.0 L271.0 554.7 L271.5 555.5 L271.9 556.0 L272.2 556.5 L272.5 557.0 L273.0 557.6 L273.5 558.2 L274.0 558.7 L274.5 559.2 L275.0 559.7 L275.5 560.2 L276.0 560.6 L276.5 561.0 L277.3 561.5 L278.0 562.0 L278.5 562.3 L279.0 562.6 L279.8 563.0 L280.5 563.3 L281.0 563.6 L282.0 564.0 L282.5 564.1 L283.5 564.5 L284.0 564.6 L285.0 564.8 L286.0 564.9 L287.0 564.9 L288.0 564.9 L289.0 564.9 L290.0 564.9 L291.0 564.9 L292.0 564.9 L293.0 564.8 L294.0 564.6 L294.5 564.5 L295.5 564.1 L296.0 564.0 L296.5 564.0 L297.3 564.5 L297.9 565.0 L298.5 565.5 L299.0 565.8 L299.5 566.1 L300.3 566.5 L299.5 567.0 L299.0 567.4 L298.5 567.7 L298.0 568.0 L297.4 568.5 L296.8 569.0 L296.0 569.5 L295.5 569.9 L295.0 570.3 L294.5 570.8 L294.0 571.3 L293.5 571.9 L293.0 572.5 L292.6 573.0 L292.0 573.1 L291.0 573.2 L290.0 573.5 L289.5 573.7 L288.5 574.0 L288.0 574.2 L287.3 574.5 L286.5 574.9 L286.0 575.2 L285.3 575.5 L284.5 576.0 L284.0 576.4 L283.5 576.8 L283.0 577.3 L282.5 577.8 L282.0 578.3 L281.5 578.8 L281.0 579.4 L280.5 580.0 L280.2 580.5 L279.9 581.0 L279.5 581.8 L279.2 582.5 L278.9 583.0 L278.5 583.8 L278.2 584.5 L278.0 585.0 L277.7 586.0 L277.6 587.0 L277.6 588.0 L277.6 589.0 L277.6 590.0 L277.6 591.0 L277.6 592.0 L277.6 593.0 L277.7 594.0 L278.0 595.0 L278.2 595.5 L278.5 596.2 L278.9 597.0 L279.2 597.5 L279.5 598.2 L279.9 599.0 L280.2 599.5 L280.5 600.0 L281.0 600.6 L281.5 601.2 L282.0 601.7 L282.5 602.2 L283.0 602.7 L283.5 603.2 L284.0 603.6 L284.5 604.0 L285.3 604.5 L286.0 604.8 L286.5 605.1 L287.3 605.5 L288.0 605.8 L288.5 606.0 L289.5 606.3 L290.0 606.5 L291.0 606.8 L292.0 606.9 L293.0 606.9 L293.5 607.2 L294.0 607.7 L294.5 608.2 L295.0 608.7 L295.5 609.2 L296.0 609.7 L296.5 610.1 L297.0 610.5 L297.8 611.0 L298.5 611.5 L299.0 611.8 L299.5 612.1 L300.0 612.5 L300.1 613.5 L300.1 614.5 L300.1 615.5 L300.1 616.5 L300.2 617.5 L300.5 618.5 L300.7 619.0 L300.9 620.0 L301.0 620.5 L301.4 621.5 L301.5 622.0 L301.9 623.0 L302.2 623.5 L302.2 624.5 L302.0 625.0 L301.7 626.0 L301.6 627.0 L301.6 628.0 L301.6 629.0 L301.6 630.0 L301.6 631.0 L301.6 632.0 L301.7 633.0 L301.9 634.0 L302.0 634.5 L302.4 635.5 L302.5 636.0 L302.9 637.0 L303.2 637.5 L303.5 638.2 L304.0 639.0 L304.4 639.5 L304.8 640.0 L305.2 640.5 L305.5 641.0 L306.0 641.6 L306.5 642.2 L307.0 642.6 L307.5 643.0 L308.3 643.5 L309.0 644.0 L309.5 644.3 L310.0 644.6 L310.8 645.0 L311.5 645.3 L312.0 645.6 L313.0 646.0 L313.5 646.1 L314.5 646.3 L315.5 646.4 L316.5 646.4 L317.5 646.4 L318.5 646.4 L319.5 646.4 L320.5 646.4 L321.5 646.4 L322.5 646.3 L323.5 646.0Z M339.5 456.2 L339.0 456.0 L338.2 455.5 L337.5 455.2 L337.0 454.9 L336.2 454.5 L335.5 454.2 L335.0 453.9 L334.0 453.5 L333.5 453.4 L332.5 453.0 L332.0 452.9 L331.0 452.7 L330.5 452.5 L329.6 452.0 L329.3 451.5 L329.0 451.0 L328.9 450.0 L328.9 449.0 L328.9 448.0 L329.0 447.2 L329.5 446.5 L330.0 446.4 L331.0 446.3 L332.0 446.1 L332.5 446.0 L333.5 445.6 L334.0 445.5 L335.0 445.1 L335.5 445.0 L336.5 444.6 L337.0 444.3 L337.5 444.0 L338.3 444.0 L338.5 444.5 L338.9 445.5 L339.2 446.0 L339.5 446.5 L340.0 447.2 L340.5 448.0 L340.9 448.5 L341.3 449.0 L341.8 449.5 L342.3 450.0 L342.8 450.5 L343.3 451.0 L343.8 451.5 L344.3 452.0 L344.8 452.5 L345.2 453.0 L344.5 453.5 L344.0 453.7 L343.3 454.0 L342.5 454.4 L342.0 454.7 L341.3 455.0 L340.5 455.5 L340.0 455.9 L339.5 456.2Z M340.5 499.0 L339.5 499.4 L338.5 499.3 L338.0 498.9 L337.5 498.3 L337.3 497.5 L337.5 496.5 L337.8 496.0 L338.5 495.5 L339.0 495.4 L340.0 495.5 L340.5 495.8 L341.0 496.3 L341.3 497.0 L341.2 498.0 L341.0 498.5 L340.5 499.0Z M380.5 521.9 L380.0 521.5 L379.2 521.0 L378.5 520.7 L378.5 520.3 L379.2 520.0 L380.0 519.5 L380.0 519.5 L380.5 520.5 L380.7 521.0 L380.5 521.9Z M381.0 522.2 L381.0 521.7 L381.0 522.2Z M340.0 545.6 L339.0 545.7 L338.3 545.5 L337.6 545.0 L337.3 544.5 L337.1 543.5 L337.3 542.5 L337.6 542.0 L338.3 541.5 L339.0 541.3 L340.0 541.4 L340.5 541.6 L341.0 542.0 L341.5 543.0 L341.6 543.5 L341.5 544.0 L341.0 545.0 L340.5 545.4 L340.0 545.6Z M340.0 591.5 L339.0 591.6 L338.5 591.5 L337.8 591.0 L337.5 590.5 L337.3 589.5 L337.5 588.7 L338.0 588.1 L338.5 587.7 L339.5 587.6 L340.5 588.0 L341.0 588.5 L341.2 589.0 L341.3 590.0 L341.0 590.7 L340.5 591.2 L340.0 591.5Z" fill="#109cb8" fill-rule="evenodd"/>
<path d="M323.2 644.5 L324.0 644.2 L324.5 643.9 L325.3 643.5 L326.0 643.2 L326.5 642.9 L327.3 642.5 L328.0 642.0 L328.5 641.5 L329.0 641.0 L329.5 640.5 L330.0 640.0 L330.5 639.5 L330.9 639.0 L331.2 638.5 L331.5 637.8 L331.9 637.0 L332.5 636.7 L333.2 636.5 L334.0 636.2 L334.7 636.0 L335.5 635.7 L336.0 635.4 L336.8 635.0 L337.5 634.7 L338.0 634.4 L338.8 634.0 L339.5 633.9 L340.0 634.2 L340.7 634.5 L341.5 634.9 L342.0 635.2 L342.8 635.5 L343.5 635.7 L344.3 636.0 L345.0 636.2 L345.8 636.5 L346.5 636.7 L347.5 636.9 L348.3 637.0 L349.0 637.2 L350.0 637.4 L351.0 637.4 L351.5 637.8 L352.0 638.5 L352.5 639.0 L353.0 639.5 L353.5 640.0 L354.0 640.5 L354.5 641.0 L355.0 641.4 L355.5 641.7 L356.2 642.0 L357.0 642.4 L357.5 642.7 L358.2 643.0 L359.0 643.4 L359.5 643.6 L360.5 643.8 L361.5 643.9 L362.5 643.9 L363.5 643.9 L364.5 643.9 L365.5 643.9 L366.5 643.9 L367.5 643.9 L368.5 643.7 L369.2 643.5 L370.0 643.2 L370.5 642.9 L371.3 642.5 L372.0 642.2 L372.5 641.9 L373.0 641.5 L373.8 641.0 L374.5 640.5 L375.0 640.0 L375.5 639.5 L375.9 639.0 L376.2 638.5 L376.5 638.0 L377.0 637.5 L377.5 636.8 L377.9 636.0 L378.2 635.5 L378.5 634.7 L378.7 634.0 L379.0 633.2 L379.2 632.5 L379.4 631.5 L379.4 630.5 L379.4 629.5 L379.4 628.5 L379.4 627.5 L379.4 626.5 L379.3 625.5 L379.1 624.5 L378.9 624.0 L378.6 623.0 L378.4 622.5 L378.0 621.7 L377.7 621.0 L377.4 620.5 L377.0 620.0 L376.5 619.4 L376.5 618.7 L376.7 618.0 L376.9 617.0 L376.9 616.0 L376.9 615.0 L376.9 614.0 L376.9 613.0 L376.9 612.0 L377.3 611.5 L378.0 611.2 L378.5 610.9 L379.0 610.5 L379.8 610.0 L380.5 609.5 L381.0 609.0 L381.5 608.5 L382.0 608.0 L382.5 607.5 L383.0 607.0 L383.5 606.5 L384.0 606.0 L384.5 605.5 L385.0 605.0 L385.5 604.5 L385.9 604.0 L386.5 603.9 L387.5 603.9 L388.5 603.9 L389.5 603.8 L390.5 603.6 L391.0 603.4 L392.0 603.1 L392.5 602.9 L393.3 602.5 L394.0 602.2 L394.5 601.9 L395.3 601.5 L396.0 601.0 L396.5 600.5 L397.0 600.0 L397.5 599.5 L398.0 599.0 L398.5 598.5 L399.0 598.0 L399.4 597.5 L399.7 597.0 L400.0 596.5 L400.5 595.8 L400.9 595.0 L401.1 594.5 L401.4 593.5 L401.6 593.0 L401.8 592.0 L401.9 591.0 L401.9 590.0 L401.9 589.0 L401.9 588.0 L401.9 587.0 L401.9 586.0 L401.8 585.0 L401.6 584.0 L401.4 583.5 L401.1 582.5 L400.9 582.0 L400.5 581.2 L400.0 580.5 L399.7 580.0 L399.4 579.5 L399.0 579.0 L398.5 578.5 L398.0 578.0 L397.5 577.5 L397.0 577.0 L396.5 576.5 L396.0 576.0 L395.3 575.5 L394.5 575.1 L394.0 574.8 L393.3 574.5 L392.5 574.1 L392.0 573.9 L391.0 573.6 L390.5 573.4 L389.5 573.2 L388.5 573.1 L387.5 573.1 L386.5 573.1 L385.5 573.1 L384.5 573.1 L384.0 573.0 L383.5 572.5 L383.0 572.0 L382.5 571.5 L382.0 571.0 L381.5 570.5 L380.8 570.0 L380.1 569.5 L379.5 569.0 L379.0 568.6 L378.5 568.3 L377.8 568.0 L377.0 567.6 L376.5 567.3 L375.8 567.0 L375.0 566.6 L375.0 566.4 L375.8 566.0 L376.5 565.7 L377.0 565.4 L377.8 565.0 L378.5 564.7 L379.0 564.4 L379.5 564.0 L380.3 563.5 L381.0 563.0 L381.5 562.5 L382.0 562.0 L382.5 561.5 L383.0 561.0 L384.0 561.4 L384.5 561.6 L385.5 561.9 L386.0 562.1 L387.0 562.3 L388.0 562.4 L389.0 562.4 L390.0 562.4 L391.0 562.4 L392.0 562.4 L393.0 562.4 L394.0 562.4 L395.0 562.3 L396.0 562.1 L396.5 561.9 L397.5 561.6 L398.0 561.4 L398.8 561.0 L399.5 560.7 L400.0 560.4 L400.8 560.0 L401.5 559.5 L402.0 559.2 L402.5 558.9 L403.0 558.5 L403.5 558.0 L404.0 557.5 L404.5 557.0 L405.0 556.5 L405.5 556.0 L406.0 555.5 L406.5 554.8 L407.0 554.0 L407.4 553.5 L407.7 553.0 L408.0 552.3 L408.4 551.5 L408.7 551.0 L409.0 550.2 L409.2 549.5 L409.4 548.5 L409.6 548.0 L409.8 547.0 L409.9 546.0 L409.9 545.0 L409.9 544.0 L409.9 543.0 L409.9 542.0 L409.9 541.0 L409.8 540.0 L409.6 539.0 L409.4 538.5 L409.1 537.5 L408.9 537.0 L408.6 536.0 L408.4 535.5 L408.0 534.7 L407.5 534.0 L407.2 533.5 L406.9 533.0 L406.5 532.5 L406.0 531.9 L405.5 531.2 L405.0 530.5 L404.5 530.0 L404.0 529.5 L403.5 529.1 L403.0 528.8 L403.0 528.2 L403.5 527.9 L404.3 527.5 L405.0 527.0 L405.5 526.5 L406.0 526.2 L406.5 525.9 L407.0 525.5 L407.5 525.0 L408.0 524.5 L408.5 523.8 L409.0 523.0 L409.4 522.5 L409.7 522.0 L410.0 521.3 L410.4 520.5 L410.7 520.0 L411.0 519.2 L411.2 518.5 L411.4 517.5 L411.4 516.5 L411.4 515.5 L411.4 514.5 L411.4 513.5 L411.4 512.5 L411.4 511.5 L411.3 510.5 L411.1 509.5 L410.9 509.0 L410.5 508.2 L410.2 507.5 L409.9 507.0 L409.5 506.2 L409.2 505.5 L408.9 505.0 L408.5 504.5 L408.0 504.0 L407.5 503.4 L407.5 502.7 L407.7 502.0 L408.0 501.2 L408.2 500.5 L408.5 499.7 L408.7 499.0 L408.9 498.0 L408.9 497.0 L408.9 496.0 L408.9 495.0 L408.9 494.0 L408.9 493.0 L408.9 492.0 L408.7 491.0 L408.5 490.3 L408.2 489.5 L408.0 488.8 L407.7 488.0 L407.5 487.3 L407.2 486.5 L406.9 486.0 L406.5 485.2 L406.0 484.5 L405.5 484.0 L405.2 483.5 L404.9 483.0 L404.5 482.5 L404.0 482.0 L403.5 481.5 L403.0 481.0 L402.5 480.5 L401.8 480.0 L401.1 479.5 L400.5 479.0 L400.0 478.6 L399.5 478.3 L398.8 478.0 L398.0 477.6 L397.5 477.4 L396.5 477.1 L396.0 476.9 L395.0 476.6 L394.5 476.4 L393.5 476.2 L392.5 476.1 L391.5 476.1 L390.5 476.1 L389.5 476.1 L388.5 476.1 L387.5 476.1 L386.5 476.2 L385.5 476.4 L385.0 476.6 L384.0 476.9 L383.5 477.1 L382.5 477.4 L382.0 477.6 L381.0 478.0 L380.5 477.5 L379.8 477.0 L379.0 476.5 L378.5 476.1 L378.0 475.8 L377.3 475.5 L376.5 475.1 L376.0 474.8 L375.2 474.5 L374.5 474.3 L373.7 474.0 L373.0 473.7 L372.9 473.0 L372.9 472.0 L372.9 471.0 L372.9 470.0 L373.5 469.7 L374.0 469.4 L374.8 469.0 L375.5 468.5 L376.0 468.2 L376.5 467.9 L377.0 467.5 L377.5 467.0 L378.0 466.5 L378.5 466.0 L379.0 465.5 L379.5 465.0 L380.0 464.5 L380.5 464.0 L381.0 463.3 L381.5 462.5 L381.9 462.0 L382.2 461.5 L382.5 460.7 L382.7 460.0 L383.0 459.3 L383.4 458.5 L383.6 458.0 L383.8 457.0 L383.9 456.0 L383.9 455.0 L383.9 454.0 L383.9 453.0 L383.9 452.0 L383.9 451.0 L383.9 450.0 L383.9 449.0 L383.7 448.0 L383.5 447.3 L383.2 446.5 L383.0 445.8 L382.7 445.0 L382.4 444.5 L382.0 443.7 L381.7 443.0 L381.4 442.5 L381.0 442.0 L380.5 441.2 L380.0 440.5 L379.5 440.0 L379.0 439.5 L378.5 439.0 L378.0 438.5 L377.5 438.0 L377.0 437.6 L376.5 437.3 L376.0 437.0 L375.3 436.5 L374.5 436.1 L374.0 435.8 L373.3 435.5 L372.5 435.1 L372.0 434.9 L371.0 434.6 L370.5 434.4 L369.5 434.2 L368.5 434.1 L367.5 434.1 L367.0 434.0 L366.5 433.5 L366.0 433.0 L365.5 432.5 L365.0 431.9 L364.5 431.2 L364.0 430.5 L363.5 430.0 L363.0 429.5 L362.5 429.0 L362.0 428.5 L361.5 428.0 L361.0 427.6 L360.5 427.3 L360.0 427.0 L359.3 426.5 L358.5 426.1 L358.0 425.9 L357.0 425.6 L356.5 425.4 L355.5 425.2 L354.5 425.1 L353.5 425.1 L352.5 425.1 L351.5 425.1 L350.5 425.1 L349.5 425.3 L348.8 425.5 L348.0 425.8 L347.3 426.0 L346.5 426.3 L346.0 426.6 L345.9 426.0 L345.9 425.0 L345.9 424.0 L345.9 423.0 L345.8 422.0 L345.6 421.0 L345.4 420.5 L345.1 419.5 L344.9 419.0 L344.5 418.2 L344.2 417.5 L343.9 417.0 L343.5 416.2 L343.0 415.5 L342.7 415.0 L342.4 414.5 L342.0 414.0 L341.5 413.5 L341.0 413.0 L340.5 412.5 L340.0 412.0 L339.5 411.5 L339.0 411.0 L338.3 410.5 L337.5 410.0 L337.0 409.6 L336.5 409.3 L335.8 409.0 L335.0 408.6 L334.5 408.4 L333.5 408.1 L333.0 407.9 L332.0 407.7 L331.2 407.5 L330.5 407.3 L329.5 407.1 L328.5 407.1 L327.5 407.1 L326.5 407.1 L325.5 407.1 L324.5 407.1 L323.5 407.3 L322.8 407.5 L322.0 407.8 L321.3 408.0 L320.5 408.3 L319.8 408.5 L319.0 408.8 L318.5 409.1 L317.7 409.5 L317.0 410.0 L316.5 410.3 L316.0 410.6 L315.5 411.0 L315.0 411.5 L314.5 412.0 L314.0 412.5 L313.5 413.0 L313.0 413.5 L312.5 414.0 L312.0 414.5 L311.5 415.2 L311.0 416.0 L310.6 416.5 L310.3 417.0 L310.0 417.7 L309.6 418.5 L309.4 419.0 L309.1 420.0 L308.9 420.5 L308.7 421.5 L308.6 422.5 L308.4 423.0 L308.2 424.0 L308.1 425.0 L308.1 426.0 L308.0 426.9 L307.5 427.5 L307.0 428.0 L306.5 428.1 L305.5 428.1 L304.5 428.3 L303.8 428.5 L303.0 428.7 L302.0 428.9 L301.5 429.1 L300.7 429.5 L300.0 429.8 L299.5 430.1 L298.7 430.5 L298.0 430.8 L297.5 431.1 L297.0 431.5 L296.5 432.0 L295.9 432.5 L295.0 432.6 L294.0 432.6 L293.0 432.6 L292.0 432.6 L291.0 432.6 L290.0 432.6 L289.0 432.6 L288.0 432.8 L287.3 433.0 L286.5 433.3 L286.0 433.6 L285.2 434.0 L284.5 434.3 L284.0 434.6 L283.5 435.0 L282.7 435.5 L282.0 436.0 L281.5 436.5 L281.0 437.0 L280.5 437.5 L280.1 438.0 L279.8 438.5 L279.5 439.0 L279.0 439.7 L278.6 440.5 L278.3 441.0 L278.0 441.7 L277.6 442.5 L277.4 443.0 L277.2 444.0 L277.0 444.8 L276.8 445.5 L276.6 446.5 L276.6 447.5 L276.6 448.5 L276.6 449.5 L276.8 450.5 L277.0 451.2 L277.2 452.0 L277.4 453.0 L277.6 453.5 L278.0 454.3 L278.3 455.0 L278.6 455.5 L279.0 456.3 L279.5 457.0 L279.8 457.5 L280.1 458.0 L280.5 458.5 L281.0 459.0 L281.5 459.5 L282.0 460.0 L282.7 460.5 L283.5 461.0 L284.0 461.4 L284.5 461.7 L285.2 462.0 L286.0 462.4 L286.5 462.7 L287.3 463.0 L288.0 463.2 L289.0 463.4 L290.0 463.4 L291.0 463.4 L292.0 463.4 L293.0 463.4 L294.0 463.4 L295.0 463.4 L296.0 463.3 L297.0 463.1 L297.7 463.5 L298.5 463.9 L299.0 464.2 L299.7 464.5 L300.5 464.9 L301.0 465.2 L301.8 465.5 L302.5 465.7 L303.3 466.0 L304.0 466.2 L304.5 466.8 L305.0 467.5 L305.3 468.0 L305.6 468.5 L306.0 469.0 L305.9 469.5 L305.7 470.5 L305.6 471.5 L305.6 472.5 L305.6 473.5 L305.0 473.9 L304.5 474.1 L303.5 474.4 L303.0 474.6 L302.2 475.0 L301.5 475.3 L301.0 475.6 L300.5 476.0 L299.7 476.5 L299.0 477.0 L298.5 477.3 L298.0 477.6 L297.5 478.0 L297.0 478.5 L296.5 479.0 L296.0 479.5 L295.5 480.0 L295.0 480.5 L294.5 481.0 L294.0 481.5 L293.5 482.0 L292.5 482.1 L291.5 482.1 L290.5 482.2 L289.5 482.4 L289.0 482.6 L288.0 482.8 L287.3 483.0 L286.5 483.3 L286.0 483.6 L285.2 484.0 L284.5 484.3 L284.0 484.6 L283.5 485.0 L283.0 485.5 L282.5 486.0 L282.0 486.5 L281.5 487.0 L281.0 487.5 L280.5 488.0 L280.0 488.5 L279.5 489.2 L279.1 490.0 L278.8 490.5 L278.5 491.2 L278.1 492.0 L277.9 492.5 L277.7 493.5 L277.5 494.3 L277.3 495.0 L277.1 496.0 L277.1 497.0 L277.1 498.0 L277.1 499.0 L277.3 500.0 L277.5 500.7 L277.7 501.5 L277.9 502.5 L278.1 503.0 L278.5 503.8 L278.8 504.5 L279.1 505.0 L279.5 505.8 L280.0 506.5 L280.3 507.0 L280.6 507.5 L281.0 508.0 L281.5 508.5 L282.0 509.0 L282.7 509.5 L283.4 510.0 L284.0 510.5 L284.5 510.9 L285.0 511.2 L285.7 511.5 L286.5 511.9 L287.0 512.1 L288.0 512.4 L288.5 512.6 L289.5 512.8 L290.5 512.9 L291.5 512.9 L292.5 512.9 L293.5 512.9 L294.0 513.3 L294.5 514.0 L295.0 514.5 L295.5 515.0 L296.0 515.5 L296.5 516.0 L297.0 516.4 L297.5 516.7 L298.0 517.0 L298.5 517.5 L299.2 518.0 L300.0 518.5 L300.5 518.9 L301.0 519.2 L301.7 519.5 L302.5 519.9 L303.0 520.2 L303.7 520.5 L303.0 520.8 L302.5 521.1 L301.7 521.5 L301.0 521.8 L300.5 522.1 L299.7 522.5 L299.0 523.0 L298.5 523.5 L298.0 523.8 L297.5 524.1 L297.0 524.5 L296.5 525.0 L296.0 525.5 L295.5 526.0 L294.5 526.3 L293.5 526.1 L293.0 525.9 L292.0 525.7 L291.0 525.6 L290.0 525.6 L289.0 525.6 L288.0 525.6 L287.0 525.6 L286.0 525.7 L285.0 525.9 L284.5 526.1 L283.5 526.3 L282.8 526.5 L282.0 526.8 L281.5 527.1 L280.7 527.5 L280.0 527.8 L279.5 528.1 L278.7 528.5 L278.0 529.0 L277.5 529.5 L277.0 529.8 L276.5 530.1 L276.0 530.5 L275.5 531.0 L275.0 531.5 L274.5 532.2 L274.0 532.9 L273.5 533.5 L273.1 534.0 L272.8 534.5 L272.5 535.0 L272.0 535.7 L271.6 536.5 L271.4 537.0 L271.1 538.0 L270.9 538.5 L270.6 539.5 L270.4 540.0 L270.2 541.0 L270.1 542.0 L270.1 543.0 L270.1 544.0 L270.1 545.0 L270.1 546.0 L270.1 547.0 L270.2 548.0 L270.4 549.0 L270.6 549.5 L270.8 550.5 L271.0 551.2 L271.3 552.0 L271.6 552.5 L272.0 553.3 L272.3 554.0 L272.6 554.5 L273.0 555.0 L273.5 555.8 L274.0 556.5 L274.5 557.0 L275.0 557.5 L275.5 558.0 L276.0 558.5 L276.5 559.0 L277.0 559.5 L277.5 559.9 L278.0 560.2 L278.5 560.5 L279.2 561.0 L280.0 561.4 L280.5 561.7 L281.2 562.0 L282.0 562.4 L282.5 562.6 L283.5 562.9 L284.0 563.1 L285.0 563.3 L286.0 563.4 L287.0 563.4 L288.0 563.4 L289.0 563.4 L290.0 563.4 L291.0 563.4 L292.0 563.4 L293.0 563.3 L294.0 563.1 L294.5 562.9 L295.5 562.6 L296.0 562.4 L297.0 562.5 L297.5 562.9 L298.0 563.2 L298.5 563.5 L299.0 564.0 L299.7 564.5 L300.5 564.9 L301.0 565.2 L301.7 565.5 L302.5 565.9 L303.0 566.2 L303.7 566.5 L303.0 566.8 L302.5 567.1 L301.7 567.5 L301.0 567.8 L300.5 568.1 L300.0 568.5 L299.2 569.0 L298.5 569.5 L298.0 570.0 L297.5 570.3 L297.0 570.6 L296.5 571.0 L296.0 571.5 L295.5 572.0 L295.0 572.5 L294.5 573.0 L294.0 573.7 L293.5 574.4 L293.0 574.6 L292.0 574.6 L291.0 574.8 L290.3 575.0 L289.5 575.3 L288.8 575.5 L288.0 575.8 L287.5 576.1 L286.7 576.5 L286.0 576.8 L285.5 577.1 L285.0 577.5 L284.5 578.0 L284.0 578.5 L283.5 579.0 L283.0 579.5 L282.5 580.0 L282.0 580.5 L281.5 581.2 L281.1 582.0 L280.8 582.5 L280.5 583.2 L280.1 584.0 L279.8 584.5 L279.5 585.3 L279.3 586.0 L279.1 587.0 L279.1 588.0 L279.1 589.0 L279.1 590.0 L279.1 591.0 L279.1 592.0 L279.1 593.0 L279.3 594.0 L279.5 594.7 L279.8 595.5 L280.1 596.0 L280.5 596.8 L280.8 597.5 L281.1 598.0 L281.5 598.8 L282.0 599.5 L282.5 600.0 L283.0 600.5 L283.5 601.0 L284.0 601.5 L284.5 602.0 L285.0 602.5 L285.5 602.9 L286.0 603.2 L286.7 603.5 L287.5 603.9 L288.0 604.2 L288.8 604.5 L289.5 604.7 L290.3 605.0 L291.0 605.2 L292.0 605.4 L293.0 605.4 L293.9 605.5 L294.5 606.0 L295.0 606.5 L295.5 607.0 L296.0 607.5 L296.5 608.0 L297.0 608.5 L297.5 609.0 L298.0 609.4 L298.5 609.7 L299.0 610.0 L299.7 610.5 L300.5 611.0 L301.0 611.4 L301.5 611.8 L301.6 612.5 L301.6 613.5 L301.6 614.5 L301.6 615.5 L301.6 616.5 L301.8 617.5 L302.0 618.2 L302.2 619.0 L302.4 620.0 L302.6 620.5 L302.9 621.5 L303.1 622.0 L303.5 622.8 L303.8 623.5 L303.8 624.5 L303.5 625.3 L303.3 626.0 L303.1 627.0 L303.1 628.0 L303.1 629.0 L303.1 630.0 L303.1 631.0 L303.1 632.0 L303.2 633.0 L303.4 634.0 L303.6 634.5 L303.9 635.5 L304.1 636.0 L304.5 636.8 L304.8 637.5 L305.1 638.0 L305.5 638.5 L306.0 639.1 L306.5 639.8 L307.0 640.5 L307.5 641.0 L308.0 641.5 L308.5 641.9 L309.0 642.2 L309.5 642.5 L310.2 643.0 L311.0 643.4 L311.5 643.7 L312.2 644.0 L313.0 644.4 L313.5 644.6 L314.5 644.8 L315.5 644.9 L316.5 644.9 L317.5 644.9 L318.5 644.9 L319.5 644.9 L320.5 644.9 L321.5 644.9 L322.5 644.7 L323.2 644.5Z M339.5 458.0 L339.0 458.0 L338.5 457.5 L337.8 457.0 L337.0 456.6 L336.5 456.3 L335.8 456.0 L335.0 455.6 L334.5 455.3 L333.7 455.0 L333.0 454.8 L332.2 454.5 L331.5 454.3 L330.5 454.1 L330.0 453.9 L329.0 453.6 L328.5 453.0 L328.2 452.5 L327.9 452.0 L327.5 451.5 L327.3 450.5 L327.4 449.5 L327.4 448.5 L327.4 447.5 L327.5 446.6 L328.0 446.0 L328.4 445.5 L328.8 445.0 L329.5 444.9 L330.5 444.9 L331.5 444.7 L332.2 444.5 L333.0 444.2 L333.7 444.0 L334.5 443.7 L335.2 443.5 L336.0 443.2 L336.5 442.9 L337.0 442.5 L337.8 442.0 L338.5 441.5 L339.0 441.1 L339.3 442.0 L339.5 442.7 L339.8 443.5 L340.0 444.2 L340.3 445.0 L340.6 445.5 L341.0 446.0 L341.5 446.8 L342.0 447.5 L342.5 448.0 L343.0 448.5 L343.5 449.0 L344.0 449.5 L344.5 450.0 L345.0 450.5 L345.5 451.0 L346.0 451.5 L346.3 452.0 L346.6 452.5 L347.0 453.0 L347.1 454.0 L346.5 454.4 L346.0 454.6 L345.0 454.9 L344.5 455.1 L343.7 455.5 L343.0 455.8 L342.5 456.1 L341.7 456.5 L341.0 457.0 L340.5 457.3 L340.0 457.6 L339.5 458.0Z M340.5 501.7 L339.5 501.8 L338.5 501.7 L337.7 501.5 L337.0 501.2 L336.5 500.8 L336.0 500.3 L335.5 499.6 L335.2 499.0 L335.0 498.4 L334.9 497.5 L335.0 496.5 L335.1 496.0 L335.5 495.2 L336.0 494.5 L336.5 494.0 L337.0 493.6 L337.5 493.4 L338.5 493.1 L339.0 493.0 L339.6 493.0 L340.5 493.1 L341.4 493.5 L342.0 493.9 L342.5 494.4 L343.0 495.0 L343.3 495.5 L343.5 496.0 L343.7 497.0 L343.7 498.0 L343.5 498.8 L343.2 499.5 L342.9 500.0 L342.4 500.5 L341.9 501.0 L341.0 501.5 L340.5 501.7Z M383.5 526.1 L383.0 526.0 L382.5 525.5 L382.0 525.0 L381.5 524.5 L381.0 524.0 L380.3 523.5 L379.5 523.0 L379.0 522.6 L378.5 522.3 L377.8 522.0 L377.0 521.6 L376.5 521.3 L375.8 521.0 L375.0 520.6 L375.0 520.4 L375.8 520.0 L376.5 519.7 L377.0 519.4 L377.8 519.0 L378.5 518.7 L379.0 518.4 L379.5 518.0 L380.1 517.5 L380.8 517.0 L381.1 517.0 L381.3 518.0 L381.5 518.7 L381.8 519.5 L382.0 520.2 L382.3 521.0 L382.6 521.5 L383.0 522.3 L383.5 523.0 L384.0 523.5 L384.5 524.0 L385.0 524.5 L385.5 525.0 L384.8 525.5 L384.0 525.8 L383.5 526.1Z M341.0 548.1 L340.0 548.4 L339.0 548.4 L338.0 548.2 L337.3 548.0 L336.5 547.5 L336.0 547.1 L335.5 546.6 L335.1 546.0 L334.8 545.5 L334.5 544.5 L334.4 544.0 L334.4 543.0 L334.5 542.5 L334.8 541.5 L335.1 541.0 L335.5 540.4 L336.0 539.9 L336.5 539.5 L337.3 539.0 L338.0 538.8 L339.0 538.6 L340.0 538.6 L341.0 538.9 L341.5 539.1 L342.1 539.5 L342.7 540.0 L343.2 540.5 L343.5 541.0 L344.0 542.0 L344.1 542.5 L344.2 543.5 L344.1 544.5 L344.0 545.0 L343.5 546.0 L343.2 546.5 L342.7 547.0 L342.1 547.5 L341.5 547.9 L341.0 548.1Z M339.5 594.0 L338.9 594.0 L338.0 593.8 L337.2 593.5 L336.5 593.0 L336.0 592.5 L335.6 592.0 L335.3 591.5 L335.0 590.6 L334.9 590.0 L334.9 589.0 L335.0 588.5 L335.4 587.5 L335.7 587.0 L336.2 586.5 L336.7 586.0 L337.5 585.6 L338.0 585.4 L339.0 585.2 L340.0 585.2 L340.9 585.5 L341.5 585.8 L342.0 586.1 L342.5 586.6 L343.0 587.2 L343.4 588.0 L343.6 588.5 L343.7 589.5 L343.6 590.5 L343.5 591.0 L343.0 592.0 L342.6 592.5 L342.1 593.0 L341.5 593.4 L341.0 593.7 L340.0 594.0 L339.5 594.0Z" fill="#20bc98" fill-rule="evenodd"/>
<path d="M321.0 643.5 L322.0 643.4 L323.0 643.1 L323.5 642.8 L324.2 642.5 L325.0 642.1 L325.5 641.8 L326.2 641.5 L327.0 641.0 L327.6 640.5 L328.1 640.0 L328.6 639.5 L329.1 639.0 L329.8 638.0 L330.1 637.5 L330.5 636.7 L330.8 636.0 L331.4 635.5 L332.0 635.4 L333.0 635.1 L333.5 634.9 L334.5 634.6 L335.0 634.3 L335.7 634.0 L336.5 633.6 L337.0 633.3 L337.7 633.0 L338.5 632.5 L339.5 632.1 L340.5 632.8 L341.0 633.1 L341.8 633.5 L342.5 633.8 L343.0 634.1 L344.0 634.4 L344.5 634.6 L345.5 634.9 L346.0 635.1 L347.0 635.4 L348.0 635.5 L349.0 635.8 L350.0 636.0 L351.0 636.0 L352.0 636.0 L352.5 636.7 L353.0 637.5 L353.5 638.1 L354.0 638.6 L354.5 639.1 L355.0 639.6 L356.0 640.3 L356.5 640.6 L357.3 641.0 L358.0 641.3 L358.5 641.6 L359.3 642.0 L360.0 642.3 L361.0 642.5 L362.0 642.5 L363.0 642.5 L364.0 642.5 L365.0 642.5 L366.0 642.5 L367.0 642.5 L368.0 642.4 L369.0 642.1 L369.5 641.8 L370.2 641.5 L371.0 641.1 L371.5 640.8 L372.5 640.1 L373.0 639.8 L374.0 639.1 L374.5 638.5 L375.0 637.7 L375.5 637.1 L376.0 636.5 L376.5 635.7 L376.8 635.0 L377.1 634.5 L377.4 633.5 L377.6 633.0 L377.9 632.0 L378.0 631.0 L378.0 630.0 L378.0 629.0 L378.0 628.0 L378.0 627.0 L378.0 626.0 L377.8 625.0 L377.5 624.3 L377.3 623.5 L377.0 622.8 L376.6 622.0 L376.3 621.5 L375.6 620.5 L375.1 620.0 L374.9 619.5 L375.0 618.9 L375.3 618.0 L375.5 617.0 L375.5 616.0 L375.5 615.0 L375.5 614.0 L375.5 613.0 L375.5 612.0 L375.5 611.0 L376.2 610.5 L377.0 610.1 L377.5 609.8 L378.5 609.1 L379.0 608.8 L380.0 608.1 L380.5 607.6 L381.0 607.1 L381.5 606.6 L382.0 606.1 L382.5 605.6 L383.0 605.1 L383.5 604.6 L384.0 604.1 L384.5 603.5 L385.0 602.7 L386.0 602.5 L387.0 602.5 L388.0 602.5 L389.0 602.5 L390.0 602.3 L390.7 602.0 L391.5 601.8 L392.2 601.5 L393.0 601.1 L393.5 600.8 L394.2 600.5 L395.0 600.0 L395.6 599.5 L396.1 599.0 L396.6 598.5 L397.1 598.0 L397.6 597.5 L398.3 596.5 L398.6 596.0 L399.3 595.0 L399.6 594.5 L399.9 593.5 L400.1 593.0 L400.4 592.0 L400.5 591.0 L400.5 590.0 L400.5 589.0 L400.5 588.0 L400.5 587.0 L400.5 586.0 L400.4 585.0 L400.1 584.0 L399.9 583.5 L399.6 582.5 L399.3 582.0 L398.6 581.0 L398.3 580.5 L397.6 579.5 L397.1 579.0 L396.6 578.5 L396.1 578.0 L395.6 577.5 L395.0 577.0 L394.2 576.5 L393.5 576.2 L393.0 575.9 L392.2 575.5 L391.5 575.2 L390.7 575.0 L390.0 574.7 L389.0 574.5 L388.0 574.5 L387.0 574.5 L386.0 574.5 L385.0 574.5 L384.0 574.6 L383.5 574.4 L383.0 573.9 L382.5 573.4 L382.0 572.9 L381.5 572.4 L381.0 571.9 L380.0 571.2 L379.5 570.9 L379.0 570.4 L378.0 569.7 L377.5 569.4 L376.7 569.0 L376.0 568.7 L375.5 568.4 L374.7 568.0 L374.0 567.7 L373.2 567.5 L372.5 567.2 L371.5 567.0 L371.0 566.9 L370.0 566.5 L370.0 566.5 L371.0 566.3 L371.9 566.0 L372.5 565.9 L373.5 565.6 L374.0 565.3 L374.7 565.0 L375.5 564.6 L376.0 564.3 L376.7 564.0 L377.5 563.6 L378.0 563.3 L379.0 562.6 L379.5 562.3 L380.5 561.6 L381.0 561.1 L381.5 560.6 L382.0 560.1 L382.5 559.6 L383.0 559.3 L383.5 559.6 L384.3 560.0 L385.0 560.3 L385.8 560.5 L386.5 560.8 L387.5 561.0 L388.5 561.0 L389.5 561.0 L390.5 561.0 L391.5 561.0 L392.5 561.0 L393.5 561.0 L394.5 561.0 L395.5 560.8 L396.2 560.5 L397.0 560.3 L397.7 560.0 L398.5 559.6 L399.0 559.3 L399.7 559.0 L400.5 558.5 L401.2 558.0 L402.0 557.5 L402.6 557.0 L403.1 556.5 L403.6 556.0 L404.1 555.5 L404.6 555.0 L405.3 554.0 L405.6 553.5 L406.3 552.5 L406.6 552.0 L407.0 551.2 L407.3 550.5 L407.6 550.0 L407.9 549.0 L408.0 548.4 L408.3 547.5 L408.5 546.5 L408.5 545.5 L408.5 544.5 L408.5 543.5 L408.5 542.5 L408.5 541.5 L408.5 540.5 L408.3 539.5 L408.0 538.8 L407.8 538.0 L407.5 537.3 L407.3 536.5 L407.0 535.8 L406.5 535.0 L406.0 534.3 L405.5 533.5 L405.0 532.9 L404.5 532.3 L404.0 531.5 L403.5 530.9 L402.5 530.2 L402.0 529.9 L401.5 529.4 L400.5 528.7 L400.0 528.4 L399.2 528.0 L400.0 527.8 L400.7 527.5 L401.5 527.3 L402.2 527.0 L403.0 526.6 L403.5 526.3 L404.5 525.6 L405.0 525.1 L405.5 524.8 L406.5 524.1 L407.0 523.5 L407.5 522.7 L408.0 522.0 L408.5 521.2 L408.8 520.5 L409.1 520.0 L409.5 519.2 L409.8 518.5 L410.0 517.5 L410.0 516.5 L410.0 515.5 L410.0 514.5 L410.0 513.5 L410.0 512.5 L410.0 511.5 L409.9 510.5 L409.6 509.5 L409.3 509.0 L409.0 508.3 L408.6 507.5 L408.3 507.0 L408.0 506.3 L407.5 505.5 L407.0 504.9 L406.5 504.4 L406.0 503.8 L405.8 503.0 L406.1 502.5 L406.4 501.5 L406.6 501.0 L406.9 500.0 L407.1 499.5 L407.4 498.5 L407.5 497.5 L407.5 496.5 L407.5 495.5 L407.5 494.5 L407.5 493.5 L407.5 492.5 L407.4 491.5 L407.1 490.5 L406.9 490.0 L406.6 489.0 L406.4 488.5 L406.1 487.5 L405.8 487.0 L405.5 486.3 L405.0 485.5 L404.5 484.9 L404.0 484.3 L403.5 483.5 L403.0 482.9 L402.5 482.4 L402.0 481.9 L401.0 481.2 L400.5 480.9 L400.0 480.4 L399.0 479.7 L398.5 479.4 L397.7 479.0 L397.0 478.7 L396.2 478.5 L395.5 478.2 L394.7 478.0 L394.0 477.7 L393.0 477.5 L392.0 477.5 L391.0 477.5 L390.0 477.5 L389.0 477.5 L388.0 477.5 L387.0 477.5 L386.0 477.7 L385.3 478.0 L384.5 478.2 L383.8 478.5 L383.0 478.7 L382.3 479.0 L381.5 479.4 L381.0 479.7 L380.5 479.4 L380.0 478.9 L379.0 478.2 L378.5 477.9 L377.5 477.2 L377.0 476.9 L376.2 476.5 L375.5 476.2 L375.0 475.9 L374.0 475.6 L373.5 475.4 L372.5 475.1 L372.0 474.9 L371.5 474.0 L371.5 473.0 L371.5 472.0 L371.5 471.0 L371.4 470.0 L371.2 469.0 L372.0 468.8 L372.7 468.5 L373.5 468.1 L374.0 467.8 L375.0 467.1 L375.5 466.8 L376.5 466.1 L377.0 465.6 L377.5 465.1 L378.0 464.6 L378.5 464.1 L379.0 463.6 L379.5 463.0 L380.0 462.2 L380.5 461.5 L381.0 460.7 L381.3 460.0 L381.5 459.2 L381.8 458.5 L382.1 458.0 L382.4 457.0 L382.5 456.0 L382.5 455.0 L382.5 454.0 L382.5 453.0 L382.5 452.0 L382.5 451.0 L382.5 450.0 L382.5 449.0 L382.3 448.0 L382.0 447.3 L381.8 446.5 L381.5 445.8 L381.1 445.0 L380.8 444.5 L380.5 443.8 L380.0 443.0 L379.5 442.3 L379.0 441.5 L378.5 440.9 L378.0 440.4 L377.5 439.9 L377.0 439.4 L376.0 438.7 L375.5 438.4 L374.5 437.7 L374.0 437.4 L373.2 437.0 L372.5 436.7 L372.0 436.4 L371.0 436.1 L370.5 435.9 L369.5 435.6 L368.5 435.5 L367.5 435.5 L366.5 435.4 L366.0 434.9 L365.5 434.4 L365.0 433.9 L364.5 433.4 L364.0 432.9 L363.5 432.3 L363.0 431.5 L362.5 430.9 L362.0 430.4 L361.5 429.9 L361.0 429.4 L360.0 428.7 L359.5 428.4 L358.5 427.7 L358.0 427.4 L357.0 427.1 L356.5 426.9 L355.5 426.6 L354.5 426.5 L353.5 426.5 L352.5 426.5 L351.5 426.5 L350.5 426.5 L349.5 426.7 L348.8 427.0 L348.0 427.2 L347.3 427.5 L346.5 428.0 L345.8 428.5 L345.0 429.0 L344.5 428.0 L344.5 427.0 L344.5 426.0 L344.5 425.0 L344.5 424.0 L344.5 423.0 L344.4 422.0 L344.1 421.0 L343.9 420.5 L343.6 419.5 L343.3 419.0 L343.0 418.3 L342.6 417.5 L342.3 417.0 L341.6 416.0 L341.3 415.5 L340.6 414.5 L340.1 414.0 L339.6 413.5 L339.1 413.0 L338.6 412.5 L338.0 412.0 L337.2 411.5 L336.5 411.0 L335.7 410.5 L335.0 410.2 L334.5 409.9 L333.5 409.6 L333.0 409.4 L332.0 409.1 L331.4 409.0 L330.5 408.7 L329.5 408.5 L328.5 408.5 L327.5 408.5 L326.5 408.5 L325.5 408.5 L324.5 408.5 L323.5 408.7 L322.8 409.0 L322.0 409.2 L321.3 409.5 L320.5 409.7 L319.8 410.0 L319.0 410.4 L318.5 410.7 L317.5 411.4 L317.0 411.7 L316.0 412.4 L315.5 412.9 L315.0 413.4 L314.5 413.9 L314.0 414.4 L313.5 414.9 L313.0 415.5 L312.5 416.3 L312.0 417.0 L311.5 417.8 L311.2 418.5 L310.9 419.0 L310.6 420.0 L310.4 420.5 L310.1 421.5 L310.0 422.5 L309.7 423.5 L309.5 424.5 L309.5 425.5 L309.5 426.5 L309.4 427.5 L308.9 428.0 L308.4 428.5 L307.9 429.0 L307.0 429.5 L306.0 429.5 L305.0 429.6 L304.0 429.9 L303.5 430.0 L302.5 430.2 L301.8 430.5 L301.0 430.9 L300.5 431.2 L299.8 431.5 L299.0 431.9 L298.5 432.2 L297.5 432.9 L297.0 433.4 L296.5 433.9 L296.0 434.1 L295.0 434.0 L294.0 434.0 L293.0 434.0 L292.0 434.0 L291.0 434.0 L290.0 434.0 L289.0 434.0 L288.0 434.2 L287.3 434.5 L286.5 434.9 L286.0 435.2 L285.3 435.5 L284.5 436.0 L283.8 436.5 L283.0 437.0 L282.4 437.5 L281.9 438.0 L281.2 439.0 L280.9 439.5 L280.2 440.5 L279.9 441.0 L279.5 441.8 L279.2 442.5 L278.9 443.0 L278.6 444.0 L278.5 444.6 L278.2 445.5 L278.0 446.5 L278.0 447.5 L278.0 448.5 L278.0 449.5 L278.2 450.5 L278.5 451.4 L278.6 452.0 L278.9 453.0 L279.2 453.5 L279.5 454.2 L279.9 455.0 L280.2 455.5 L280.9 456.5 L281.2 457.0 L281.9 458.0 L282.4 458.5 L283.0 459.0 L283.8 459.5 L284.5 460.0 L285.3 460.5 L286.0 460.8 L286.5 461.1 L287.3 461.5 L288.0 461.8 L289.0 462.0 L290.0 462.0 L291.0 462.0 L292.0 462.0 L293.0 462.0 L294.0 462.0 L295.0 462.0 L296.0 461.9 L297.0 461.6 L298.0 462.0 L298.8 462.5 L299.5 462.8 L300.0 463.1 L300.8 463.5 L301.5 463.8 L302.0 464.1 L303.0 464.4 L303.5 464.6 L304.5 464.9 L305.4 465.5 L305.7 466.0 L306.4 467.0 L306.7 467.5 L307.4 468.5 L307.5 469.0 L307.4 469.5 L307.1 470.5 L307.0 471.5 L307.0 472.5 L307.0 473.5 L307.0 474.5 L306.3 475.0 L305.5 475.2 L304.8 475.5 L304.0 475.7 L303.3 476.0 L302.5 476.4 L302.0 476.7 L301.0 477.4 L300.5 477.7 L299.5 478.4 L299.0 478.7 L298.0 479.4 L297.5 479.9 L297.0 480.4 L296.5 480.9 L296.0 481.4 L295.5 481.9 L295.0 482.4 L294.5 483.0 L294.0 483.5 L293.0 483.5 L292.0 483.5 L291.0 483.5 L290.0 483.7 L289.1 484.0 L288.5 484.1 L287.5 484.4 L287.0 484.7 L286.3 485.0 L285.5 485.4 L285.0 485.7 L284.0 486.4 L283.5 486.9 L283.0 487.4 L282.5 487.9 L282.0 488.4 L281.5 488.9 L281.0 489.5 L280.5 490.3 L280.2 491.0 L279.9 491.5 L279.5 492.3 L279.2 493.0 L279.0 494.0 L278.9 494.5 L278.6 495.5 L278.5 496.5 L278.5 497.5 L278.5 498.5 L278.6 499.5 L278.9 500.5 L279.0 501.0 L279.2 502.0 L279.5 502.7 L279.9 503.5 L280.2 504.0 L280.5 504.7 L281.0 505.5 L281.5 506.2 L282.0 507.0 L282.5 507.6 L283.5 508.3 L284.0 508.6 L284.5 509.1 L285.5 509.8 L286.0 510.1 L286.8 510.5 L287.5 510.8 L288.3 511.0 L289.0 511.3 L290.0 511.5 L291.0 511.5 L292.0 511.5 L293.0 511.5 L294.0 511.5 L294.9 512.0 L295.2 512.5 L295.9 513.5 L296.4 514.0 L296.9 514.5 L297.5 515.0 L298.3 515.5 L298.9 516.0 L299.5 516.5 L300.3 517.0 L301.0 517.5 L301.8 518.0 L302.5 518.3 L303.0 518.6 L303.8 519.0 L304.5 519.3 L305.3 519.5 L306.0 519.8 L307.0 520.0 L307.5 520.1 L308.5 520.5 L308.5 520.5 L307.5 520.7 L306.6 521.0 L306.0 521.1 L305.0 521.4 L304.5 521.7 L303.8 522.0 L303.0 522.4 L302.5 522.7 L301.8 523.0 L301.0 523.4 L300.5 523.7 L299.5 524.4 L299.0 524.9 L298.5 525.2 L297.5 525.9 L297.0 526.4 L296.5 526.9 L296.0 527.4 L295.5 527.9 L294.5 527.7 L293.5 527.5 L293.0 527.4 L292.0 527.1 L291.0 527.0 L290.0 527.0 L289.0 527.0 L288.0 527.0 L287.0 527.0 L286.0 527.1 L285.0 527.4 L284.5 527.5 L283.5 527.7 L282.8 528.0 L282.0 528.4 L281.5 528.7 L280.8 529.0 L280.0 529.4 L279.5 529.7 L278.5 530.4 L278.0 530.9 L277.5 531.2 L276.5 531.9 L276.0 532.5 L275.5 533.3 L275.0 533.9 L274.5 534.5 L274.0 535.3 L273.5 536.0 L273.0 536.8 L272.7 537.5 L272.5 538.3 L272.2 539.0 L272.0 539.8 L271.7 540.5 L271.5 541.5 L271.5 542.5 L271.5 543.5 L271.5 544.5 L271.5 545.5 L271.5 546.5 L271.5 547.5 L271.7 548.5 L272.0 549.4 L272.1 550.0 L272.4 551.0 L272.7 551.5 L273.0 552.2 L273.4 553.0 L273.7 553.5 L274.4 554.5 L274.7 555.0 L275.4 556.0 L275.9 556.5 L276.4 557.0 L276.9 557.5 L277.4 558.0 L278.0 558.5 L278.8 559.0 L279.5 559.5 L280.3 560.0 L281.0 560.3 L281.5 560.6 L282.3 561.0 L283.0 561.3 L283.8 561.5 L284.5 561.8 L285.5 562.0 L286.5 562.0 L287.5 562.0 L288.5 562.0 L289.5 562.0 L290.5 562.0 L291.5 562.0 L292.5 562.0 L293.5 561.8 L294.2 561.5 L295.0 561.3 L295.7 561.0 L296.5 560.6 L297.4 561.0 L298.0 561.5 L298.8 562.0 L299.4 562.5 L300.0 563.0 L300.8 563.5 L301.5 563.8 L302.0 564.1 L302.8 564.5 L303.5 564.8 L304.0 565.1 L304.8 565.5 L305.5 565.8 L306.5 566.0 L307.0 566.1 L308.0 566.4 L309.0 566.5 L308.0 566.6 L307.1 567.0 L306.5 567.1 L305.5 567.4 L305.0 567.6 L304.0 567.9 L303.5 568.2 L302.8 568.5 L302.0 568.9 L301.5 569.2 L300.5 569.9 L300.0 570.2 L299.0 570.9 L298.5 571.4 L298.0 571.7 L297.0 572.4 L296.5 572.9 L296.0 573.4 L295.5 574.0 L295.0 574.8 L294.5 575.4 L294.0 576.0 L293.0 576.0 L292.0 576.0 L291.0 576.2 L290.3 576.5 L289.5 576.7 L288.8 577.0 L288.0 577.4 L287.5 577.7 L286.8 578.0 L286.0 578.5 L285.4 579.0 L284.9 579.5 L284.4 580.0 L283.9 580.5 L283.4 581.0 L282.7 582.0 L282.4 582.5 L282.0 583.3 L281.7 584.0 L281.4 584.5 L281.0 585.3 L280.7 586.0 L280.5 587.0 L280.5 588.0 L280.5 589.0 L280.5 590.0 L280.5 591.0 L280.5 592.0 L280.5 593.0 L280.7 594.0 L281.0 594.7 L281.4 595.5 L281.7 596.0 L282.0 596.7 L282.4 597.5 L282.7 598.0 L283.4 599.0 L283.9 599.5 L284.4 600.0 L284.9 600.5 L285.4 601.0 L286.0 601.5 L286.8 602.0 L287.5 602.3 L288.0 602.6 L288.8 603.0 L289.5 603.3 L290.3 603.5 L291.0 603.8 L292.0 604.0 L293.0 604.0 L294.0 604.0 L294.9 604.5 L295.4 605.0 L295.9 605.5 L296.4 606.0 L296.9 606.5 L297.4 607.0 L297.9 607.5 L298.5 608.0 L299.3 608.5 L300.0 609.0 L300.8 609.5 L301.5 610.0 L302.3 610.5 L303.0 611.0 L303.0 612.0 L303.0 613.0 L303.0 614.0 L303.0 615.0 L303.0 616.0 L303.1 617.0 L303.4 618.0 L303.5 618.5 L303.7 619.5 L304.0 620.2 L304.2 621.0 L304.5 621.7 L304.9 622.5 L305.2 623.0 L305.4 624.0 L305.1 625.0 L304.9 625.5 L304.6 626.5 L304.5 627.5 L304.5 628.5 L304.5 629.5 L304.5 630.5 L304.5 631.5 L304.5 632.5 L304.7 633.5 L305.0 634.2 L305.2 635.0 L305.5 635.7 L305.9 636.5 L306.2 637.0 L306.9 638.0 L307.4 638.5 L307.7 639.0 L308.4 640.0 L309.0 640.5 L309.8 641.0 L310.5 641.5 L311.3 642.0 L312.0 642.3 L312.5 642.6 L313.3 643.0 L314.0 643.3 L315.0 643.5 L316.0 643.5 L317.0 643.5 L318.0 643.5 L319.0 643.5 L320.0 643.5 L321.0 643.5Z M339.5 459.9 L338.6 459.5 L338.1 459.0 L337.5 458.5 L336.7 458.0 L336.0 457.7 L335.5 457.4 L334.7 457.0 L334.0 456.7 L333.5 456.4 L332.5 456.1 L332.0 455.9 L331.0 455.6 L330.4 455.5 L329.5 455.2 L328.5 455.0 L328.0 454.8 L327.5 454.0 L327.0 453.3 L326.5 452.5 L326.0 451.8 L325.8 451.0 L326.0 450.0 L326.0 449.0 L326.0 448.0 L326.0 447.0 L326.1 446.0 L326.6 445.5 L327.3 444.5 L327.6 444.0 L328.5 443.5 L329.5 443.5 L330.5 443.5 L331.5 443.3 L332.2 443.0 L333.0 442.8 L333.7 442.5 L334.5 442.3 L335.2 442.0 L336.0 441.5 L336.7 441.0 L337.5 440.5 L338.1 440.0 L338.6 439.5 L339.1 439.0 L339.6 438.5 L340.5 438.5 L340.5 439.5 L340.5 440.5 L340.6 441.5 L340.9 442.5 L341.1 443.0 L341.4 444.0 L341.7 444.5 L342.4 445.5 L342.7 446.0 L343.4 447.0 L343.9 447.5 L344.4 448.0 L344.9 448.5 L345.4 449.0 L345.9 449.5 L346.4 450.0 L346.9 450.5 L347.4 451.0 L347.7 451.5 L348.4 452.5 L348.5 453.5 L348.5 454.5 L348.1 455.5 L347.5 455.6 L346.5 455.9 L346.0 456.1 L345.0 456.4 L344.5 456.7 L343.8 457.0 L343.0 457.4 L342.5 457.7 L341.5 458.4 L341.0 458.7 L340.0 459.4 L339.5 459.9Z M341.5 503.6 L340.5 503.8 L339.5 503.9 L338.5 503.9 L337.5 503.7 L336.9 503.5 L336.0 503.1 L335.5 502.7 L335.0 502.3 L334.5 501.9 L334.0 501.2 L333.5 500.5 L333.3 500.0 L333.0 499.2 L332.8 498.5 L332.8 497.5 L332.8 496.5 L333.0 495.6 L333.2 495.0 L333.5 494.4 L334.0 493.6 L334.4 493.0 L335.0 492.5 L335.5 492.1 L336.0 491.7 L336.5 491.5 L337.5 491.1 L338.0 491.0 L339.0 490.9 L340.0 490.9 L340.7 491.0 L341.5 491.2 L342.1 491.5 L343.0 492.0 L343.5 492.4 L344.0 492.8 L344.5 493.4 L344.9 494.0 L345.2 494.5 L345.5 495.3 L345.7 496.0 L345.8 497.0 L345.8 498.0 L345.7 499.0 L345.5 499.5 L345.1 500.5 L344.8 501.0 L344.4 501.5 L344.0 502.0 L343.4 502.5 L342.7 503.0 L342.0 503.4 L341.5 503.6Z M383.5 527.7 L382.6 527.5 L382.1 527.0 L381.6 526.5 L381.1 526.0 L380.6 525.5 L380.0 525.0 L379.2 524.5 L378.5 524.0 L377.7 523.5 L377.0 523.2 L376.5 522.9 L375.7 522.5 L375.0 522.2 L374.5 521.9 L373.7 521.5 L373.0 521.2 L372.0 521.0 L371.5 520.9 L370.5 520.6 L369.5 520.5 L370.5 520.4 L371.4 520.0 L372.0 519.9 L373.0 519.6 L373.5 519.4 L374.5 519.1 L375.0 518.8 L375.7 518.5 L376.5 518.1 L377.0 517.8 L377.7 517.5 L378.5 517.0 L379.1 516.5 L379.7 516.0 L380.5 515.5 L381.1 515.0 L381.6 514.5 L382.5 514.5 L382.5 515.5 L382.5 516.5 L382.6 517.5 L382.9 518.5 L383.1 519.0 L383.4 520.0 L383.7 520.5 L384.0 521.2 L384.5 522.0 L385.0 522.6 L385.5 523.1 L386.0 523.6 L386.5 524.1 L387.0 524.6 L387.5 525.1 L388.0 525.7 L388.0 526.1 L387.0 526.4 L386.5 526.5 L385.5 526.7 L384.8 527.0 L384.0 527.4 L383.5 527.7Z M341.0 550.6 L340.0 550.7 L339.0 550.8 L338.0 550.7 L337.3 550.5 L336.5 550.2 L336.0 550.0 L335.2 549.5 L334.5 549.0 L334.0 548.5 L333.6 548.0 L333.2 547.5 L332.9 547.0 L332.5 546.1 L332.3 545.5 L332.1 544.5 L332.0 543.5 L332.1 542.5 L332.3 541.5 L332.5 540.9 L332.9 540.0 L333.2 539.5 L333.6 539.0 L334.0 538.5 L334.5 538.0 L335.2 537.5 L336.0 537.0 L336.5 536.8 L337.3 536.5 L338.0 536.3 L339.0 536.2 L340.0 536.3 L341.0 536.4 L341.5 536.6 L342.5 537.0 L343.0 537.2 L343.5 537.6 L344.1 538.0 L344.6 538.5 L345.0 539.0 L345.5 539.7 L345.9 540.5 L346.1 541.0 L346.4 542.0 L346.5 542.5 L346.6 543.5 L346.5 544.5 L346.4 545.0 L346.1 546.0 L345.9 546.5 L345.5 547.3 L345.0 548.0 L344.6 548.5 L344.1 549.0 L343.5 549.4 L343.0 549.8 L342.5 550.0 L341.5 550.4 L341.0 550.6Z M340.5 596.0 L339.5 596.1 L338.5 596.1 L337.9 596.0 L337.0 595.7 L336.5 595.5 L335.6 595.0 L335.0 594.5 L334.5 594.1 L334.0 593.5 L333.7 593.0 L333.4 592.5 L333.0 591.5 L332.9 591.0 L332.8 590.0 L332.8 589.0 L332.9 588.0 L333.1 587.5 L333.5 586.6 L333.8 586.0 L334.2 585.5 L334.6 585.0 L335.2 584.5 L335.9 584.0 L336.5 583.7 L337.0 583.5 L338.0 583.2 L339.0 583.1 L340.0 583.1 L341.0 583.3 L341.7 583.5 L342.5 583.9 L343.0 584.2 L343.5 584.6 L344.0 585.0 L344.5 585.6 L345.0 586.4 L345.3 587.0 L345.5 587.5 L345.8 588.5 L345.8 589.5 L345.8 590.5 L345.6 591.5 L345.4 592.0 L345.0 592.8 L344.6 593.5 L344.1 594.0 L343.6 594.5 L343.0 595.0 L342.5 595.3 L342.0 595.6 L341.0 595.9 L340.5 596.0Z" fill="#3cd460" fill-rule="evenodd"/>
<path d="M322.5 642.0 L323.0 641.7 L323.5 641.5 L324.5 641.0 L325.0 640.7 L325.5 640.5 L326.3 640.0 L326.9 639.5 L327.4 639.0 L327.9 638.5 L328.4 638.0 L328.7 637.5 L329.0 637.0 L329.5 636.0 L329.7 635.5 L330.0 635.0 L330.5 634.3 L331.5 634.3 L332.5 634.0 L333.0 633.8 L334.0 633.5 L334.5 633.2 L335.0 633.0 L336.0 632.5 L336.5 632.2 L337.0 632.0 L337.8 631.5 L338.5 631.0 L339.0 630.7 L340.0 631.0 L340.5 631.4 L341.0 631.7 L341.5 632.0 L342.5 632.5 L343.0 632.7 L343.5 633.0 L344.5 633.3 L345.0 633.5 L346.0 633.8 L346.5 634.0 L347.5 634.3 L348.5 634.3 L349.0 634.5 L350.0 634.8 L351.0 634.8 L352.0 634.8 L353.0 635.0 L353.3 635.5 L353.5 636.0 L354.0 636.8 L354.5 637.4 L355.0 637.9 L355.5 638.4 L356.0 638.9 L356.5 639.2 L357.0 639.5 L358.0 640.0 L358.5 640.2 L359.0 640.5 L360.0 641.0 L360.5 641.2 L361.5 641.3 L362.5 641.3 L363.5 641.3 L364.5 641.3 L365.5 641.3 L366.5 641.3 L367.5 641.3 L368.5 641.0 L369.0 640.7 L369.5 640.5 L370.5 640.0 L371.0 639.7 L371.5 639.4 L372.0 639.0 L372.8 638.5 L373.4 638.0 L373.7 637.5 L374.0 637.0 L374.5 636.4 L375.0 635.8 L375.5 635.0 L375.7 634.5 L376.0 634.0 L376.3 633.0 L376.5 632.5 L376.8 631.5 L376.8 630.5 L376.8 629.5 L376.8 628.5 L376.8 627.5 L376.8 626.5 L376.7 625.5 L376.5 625.0 L376.2 624.0 L376.0 623.5 L375.5 622.5 L375.2 622.0 L374.9 621.5 L374.4 621.0 L373.9 620.5 L373.5 620.0 L373.7 619.5 L373.8 618.5 L374.0 618.0 L374.3 617.0 L374.3 616.0 L374.3 615.0 L374.3 614.0 L374.3 613.0 L374.3 612.0 L374.3 611.0 L374.5 610.0 L375.0 609.7 L375.5 609.5 L376.5 609.0 L377.0 608.7 L377.5 608.4 L378.0 608.0 L378.8 607.5 L379.4 607.0 L379.9 606.5 L380.4 606.0 L380.9 605.5 L381.4 605.0 L381.9 604.5 L382.4 604.0 L382.9 603.5 L383.4 603.0 L383.7 602.5 L384.0 602.0 L384.5 601.4 L385.5 601.3 L386.5 601.3 L387.5 601.3 L388.5 601.3 L389.5 601.2 L390.0 601.0 L391.0 600.7 L391.5 600.5 L392.5 600.0 L393.0 599.7 L393.5 599.5 L394.3 599.0 L394.9 598.5 L395.4 598.0 L395.9 597.5 L396.4 597.0 L396.9 596.5 L397.2 596.0 L397.5 595.5 L398.0 594.8 L398.5 594.0 L398.7 593.5 L399.0 592.5 L399.2 592.0 L399.3 591.0 L399.3 590.0 L399.3 589.0 L399.3 588.0 L399.3 587.0 L399.3 586.0 L399.2 585.0 L399.0 584.5 L398.7 583.5 L398.5 583.0 L398.0 582.2 L397.5 581.5 L397.2 581.0 L396.9 580.5 L396.4 580.0 L395.9 579.5 L395.4 579.0 L394.9 578.5 L394.3 578.0 L393.5 577.5 L393.0 577.3 L392.5 577.0 L391.5 576.5 L391.0 576.3 L390.0 576.0 L389.5 575.8 L388.5 575.7 L387.5 575.7 L386.5 575.7 L385.5 575.7 L384.5 575.7 L383.5 576.0 L383.5 576.0 L382.9 575.5 L382.4 575.0 L381.9 574.5 L381.4 574.0 L380.9 573.5 L380.4 573.0 L379.8 572.5 L379.0 572.0 L378.5 571.6 L378.0 571.1 L377.5 570.8 L377.0 570.5 L376.0 570.0 L375.5 569.8 L375.0 569.5 L374.0 569.0 L373.5 568.8 L372.5 568.5 L372.0 568.3 L371.0 568.2 L370.5 568.0 L369.5 567.7 L368.5 567.7 L368.0 567.2 L367.7 566.5 L368.0 566.0 L368.5 565.3 L369.5 565.3 L370.5 565.2 L371.0 565.0 L372.0 564.8 L373.0 564.5 L373.5 564.2 L374.0 564.0 L375.0 563.5 L375.5 563.2 L376.0 563.0 L377.0 562.5 L377.5 562.2 L378.0 561.9 L378.5 561.5 L379.3 561.0 L379.9 560.5 L380.4 560.0 L380.9 559.5 L381.4 559.0 L381.9 558.5 L382.4 558.0 L383.0 558.0 L383.5 558.2 L384.0 558.5 L385.0 559.0 L385.5 559.2 L386.5 559.5 L387.0 559.7 L388.0 559.8 L389.0 559.8 L390.0 559.8 L391.0 559.8 L392.0 559.8 L393.0 559.8 L394.0 559.8 L395.0 559.7 L395.5 559.5 L396.5 559.2 L397.0 559.0 L398.0 558.5 L398.5 558.2 L399.0 558.0 L399.8 557.5 L400.5 557.0 L401.0 556.7 L401.5 556.4 L402.0 555.9 L402.5 555.4 L403.0 554.9 L403.5 554.4 L404.0 553.8 L404.5 553.0 L404.9 552.5 L405.2 552.0 L405.5 551.5 L406.0 550.5 L406.2 550.0 L406.5 549.5 L406.8 548.5 L407.0 547.5 L407.2 547.0 L407.3 546.0 L407.3 545.0 L407.3 544.0 L407.3 543.0 L407.3 542.0 L407.3 541.0 L407.2 540.0 L407.0 539.5 L406.7 538.5 L406.5 538.0 L406.2 537.0 L406.0 536.5 L405.5 535.7 L405.0 535.0 L404.7 534.5 L404.4 534.0 L403.9 533.5 L403.5 533.0 L403.0 532.2 L402.5 531.6 L402.0 531.3 L401.5 531.0 L400.9 530.5 L400.3 530.0 L399.5 529.5 L399.0 529.3 L398.5 529.0 L397.5 528.5 L397.0 528.3 L396.5 528.0 L395.5 527.7 L394.5 527.5 L394.0 527.3 L393.0 527.2 L392.0 527.2 L391.0 527.2 L390.0 527.2 L389.0 527.2 L388.0 527.3 L387.5 527.5 L386.5 527.7 L385.5 528.0 L385.0 528.3 L384.5 528.5 L383.5 529.0 L383.0 529.3 L382.4 529.0 L381.9 528.5 L381.4 528.0 L380.9 527.5 L380.4 527.0 L379.9 526.5 L379.3 526.0 L378.5 525.5 L378.0 525.1 L377.5 524.8 L377.0 524.5 L376.0 524.0 L375.5 523.8 L375.0 523.5 L374.0 523.0 L373.5 522.8 L373.0 522.5 L372.0 522.2 L371.0 522.0 L370.5 521.8 L369.5 521.7 L368.5 521.7 L368.0 521.0 L367.7 520.5 L368.0 519.8 L368.5 519.3 L369.5 519.3 L370.5 519.0 L371.0 518.8 L372.0 518.7 L372.5 518.5 L373.5 518.2 L374.0 518.0 L375.0 517.5 L375.5 517.2 L376.0 517.0 L377.0 516.5 L377.5 516.2 L378.0 515.9 L378.5 515.4 L379.0 515.0 L379.8 514.5 L380.4 514.0 L380.9 513.5 L381.4 513.0 L381.9 512.5 L382.4 512.0 L382.9 511.5 L383.5 511.0 L383.5 511.0 L383.7 512.0 L383.7 513.0 L383.7 514.0 L383.7 515.0 L383.7 516.0 L383.7 517.0 L384.0 518.0 L384.2 518.5 L384.5 519.5 L384.8 520.0 L385.0 520.5 L385.5 521.3 L386.0 521.9 L386.5 522.4 L387.0 522.9 L387.5 523.4 L388.0 523.9 L388.5 524.4 L389.0 524.9 L389.5 525.2 L390.0 525.5 L391.0 526.0 L391.5 526.2 L392.5 526.5 L393.0 526.7 L394.0 526.8 L395.0 526.8 L396.0 526.8 L397.0 526.8 L398.0 526.8 L399.0 526.8 L400.0 526.5 L400.5 526.3 L401.5 526.0 L402.0 525.7 L402.5 525.5 L403.3 525.0 L403.9 524.5 L404.5 524.0 L405.0 523.7 L405.5 523.4 L406.0 522.8 L406.5 522.0 L406.9 521.5 L407.2 521.0 L407.5 520.5 L408.0 519.5 L408.2 519.0 L408.5 518.5 L408.8 517.5 L408.8 516.5 L408.8 515.5 L408.8 514.5 L408.8 513.5 L408.8 512.5 L408.8 511.5 L408.7 510.5 L408.5 510.0 L408.0 509.0 L407.7 508.5 L407.5 508.0 L407.0 507.0 L406.7 506.5 L406.4 506.0 L405.9 505.5 L405.4 505.0 L405.0 504.5 L404.7 503.5 L404.5 503.0 L404.7 502.5 L405.0 502.0 L405.3 501.0 L405.5 500.5 L405.8 499.5 L406.0 499.0 L406.3 498.0 L406.3 497.0 L406.3 496.0 L406.3 495.0 L406.3 494.0 L406.3 493.0 L406.3 492.0 L406.0 491.0 L405.8 490.5 L405.5 489.5 L405.3 489.0 L405.0 488.0 L404.7 487.5 L404.5 487.0 L404.0 486.2 L403.5 485.6 L403.0 485.0 L402.7 484.5 L402.4 484.0 L401.9 483.5 L401.4 483.0 L400.8 482.5 L400.0 482.0 L399.5 481.6 L399.0 481.1 L398.5 480.8 L398.0 480.5 L397.0 480.0 L396.5 479.8 L395.5 479.5 L395.0 479.3 L394.0 479.0 L393.5 478.8 L392.5 478.7 L391.5 478.7 L390.5 478.7 L389.5 478.7 L388.5 478.7 L387.5 478.7 L386.5 478.8 L386.0 479.0 L385.0 479.3 L384.5 479.5 L383.5 479.8 L383.0 480.0 L382.0 480.5 L381.5 480.8 L381.0 481.1 L380.4 481.0 L379.9 480.5 L379.4 480.0 L378.8 479.5 L378.0 479.0 L377.5 478.6 L377.0 478.3 L376.5 478.0 L375.5 477.5 L375.0 477.3 L374.5 477.0 L373.5 476.7 L373.0 476.5 L372.0 476.2 L371.5 476.0 L370.5 475.7 L370.3 475.0 L370.3 474.0 L370.3 473.0 L370.3 472.0 L370.3 471.0 L370.2 470.0 L370.0 469.5 L369.7 468.5 L370.5 468.0 L371.0 467.8 L372.0 467.5 L372.5 467.2 L373.0 467.0 L373.8 466.5 L374.5 466.0 L375.0 465.7 L375.5 465.4 L376.0 464.9 L376.5 464.4 L377.0 463.9 L377.5 463.4 L378.0 462.9 L378.5 462.3 L379.0 461.5 L379.4 461.0 L379.7 460.5 L380.0 460.0 L380.3 459.0 L380.5 458.5 L381.0 457.5 L381.2 457.0 L381.3 456.0 L381.3 455.0 L381.3 454.0 L381.3 453.0 L381.3 452.0 L381.3 451.0 L381.3 450.0 L381.3 449.0 L381.0 448.0 L380.8 447.5 L380.5 446.5 L380.2 446.0 L380.0 445.5 L379.5 444.5 L379.2 444.0 L378.9 443.5 L378.5 443.0 L378.0 442.2 L377.5 441.6 L377.0 441.1 L376.5 440.6 L376.0 440.1 L375.5 439.8 L375.0 439.5 L374.3 439.0 L373.5 438.5 L373.0 438.3 L372.5 438.0 L371.5 437.5 L371.0 437.3 L370.0 437.0 L369.5 436.8 L368.5 436.7 L367.5 436.7 L366.5 436.7 L365.9 436.5 L365.4 436.0 L364.9 435.5 L364.4 435.0 L363.9 434.5 L363.4 434.0 L362.9 433.5 L362.5 433.0 L362.0 432.2 L361.5 431.6 L361.0 431.1 L360.5 430.6 L360.0 430.1 L359.5 429.8 L359.0 429.5 L358.3 429.0 L357.5 428.5 L357.0 428.3 L356.0 428.0 L355.5 427.8 L354.5 427.7 L353.5 427.7 L352.5 427.7 L351.5 427.7 L350.5 427.7 L349.5 428.0 L349.0 428.2 L348.0 428.5 L347.5 428.8 L347.0 429.1 L346.5 429.5 L345.7 430.0 L345.1 430.5 L344.6 431.0 L344.1 431.5 L343.8 432.0 L343.5 432.5 L343.0 433.2 L342.5 434.0 L342.3 434.5 L342.0 435.5 L341.8 436.0 L341.7 437.0 L341.7 438.0 L341.7 439.0 L341.7 440.0 L341.7 441.0 L342.0 442.0 L342.2 442.5 L342.5 443.5 L342.8 444.0 L343.1 444.5 L343.5 445.0 L344.0 445.8 L344.5 446.4 L345.0 446.9 L345.5 447.4 L346.0 447.9 L346.5 448.4 L347.0 448.9 L347.5 449.4 L348.0 449.9 L348.5 450.5 L348.8 451.0 L349.1 451.5 L349.6 452.0 L349.7 453.0 L349.7 454.0 L349.7 455.0 L349.7 456.0 L349.0 456.5 L348.5 456.7 L347.5 456.8 L347.0 457.0 L346.0 457.3 L345.5 457.5 L344.5 458.0 L344.0 458.3 L343.5 458.5 L342.7 459.0 L342.0 459.5 L341.5 459.8 L341.0 460.1 L340.5 460.6 L340.0 461.1 L339.0 461.2 L338.4 461.0 L337.9 460.5 L337.4 460.0 L336.8 459.5 L336.0 459.0 L335.5 458.8 L335.0 458.5 L334.0 458.0 L333.5 457.8 L333.0 457.5 L332.0 457.2 L331.5 457.0 L330.5 456.7 L329.5 456.5 L329.0 456.3 L328.0 456.2 L327.4 456.0 L327.0 455.5 L326.5 454.7 L326.0 454.0 L325.7 453.5 L325.4 453.0 L325.0 452.5 L324.5 451.7 L324.5 451.0 L324.7 450.5 L324.8 449.5 L324.8 448.5 L324.8 447.5 L324.8 446.5 L324.9 445.5 L325.4 445.0 L325.9 444.5 L326.2 444.0 L326.5 443.5 L327.0 442.9 L327.5 442.4 L328.5 442.3 L329.5 442.3 L330.5 442.3 L331.5 442.0 L332.0 441.8 L333.0 441.5 L333.5 441.3 L334.5 441.0 L335.0 440.7 L335.5 440.4 L336.0 440.0 L336.8 439.5 L337.4 439.0 L337.9 438.5 L338.4 438.0 L338.9 437.5 L339.4 437.0 L339.9 436.5 L340.4 436.0 L340.7 435.5 L341.0 435.0 L341.5 434.3 L342.0 433.5 L342.2 433.0 L342.5 432.5 L342.8 431.5 L343.0 431.0 L343.3 430.0 L343.3 429.0 L343.3 428.0 L343.3 427.0 L343.3 426.0 L343.3 425.0 L343.3 424.0 L343.3 423.0 L343.2 422.0 L343.0 421.5 L342.7 420.5 L342.5 420.0 L342.0 419.0 L341.7 418.5 L341.5 418.0 L341.0 417.2 L340.5 416.5 L340.2 416.0 L339.9 415.5 L339.4 415.0 L338.9 414.5 L338.4 414.0 L337.9 413.5 L337.3 413.0 L336.5 412.5 L336.0 412.1 L335.5 411.8 L335.0 411.5 L334.0 411.0 L333.5 410.8 L332.5 410.5 L332.0 410.3 L331.0 410.2 L330.5 410.0 L329.5 409.7 L328.5 409.7 L327.5 409.7 L326.5 409.7 L325.5 409.7 L324.5 409.7 L323.5 410.0 L323.0 410.2 L322.0 410.5 L321.5 410.7 L320.5 411.0 L320.0 411.3 L319.5 411.5 L318.7 412.0 L318.0 412.5 L317.5 412.8 L317.0 413.1 L316.5 413.6 L316.0 414.1 L315.5 414.6 L315.0 415.1 L314.5 415.6 L314.0 416.2 L313.5 417.0 L313.1 417.5 L312.8 418.0 L312.5 418.5 L312.0 419.5 L311.8 420.0 L311.5 421.0 L311.3 421.5 L311.2 422.5 L311.0 423.5 L310.8 424.0 L310.7 425.0 L310.7 426.0 L310.7 427.0 L310.6 428.0 L310.1 428.5 L309.6 429.0 L309.1 429.5 L308.6 430.0 L308.1 430.5 L307.5 430.7 L306.5 430.7 L305.5 430.7 L304.5 431.0 L304.0 431.2 L303.0 431.3 L302.5 431.5 L301.5 432.0 L301.0 432.3 L300.5 432.5 L299.5 433.0 L299.0 433.3 L298.5 433.6 L298.0 434.1 L297.5 434.6 L297.0 435.1 L296.5 435.5 L296.0 435.3 L295.0 435.2 L294.0 435.2 L293.0 435.2 L292.0 435.2 L291.0 435.2 L290.0 435.2 L289.0 435.2 L288.0 435.5 L287.5 435.8 L287.0 436.0 L286.0 436.5 L285.5 436.8 L285.0 437.1 L284.5 437.5 L283.7 438.0 L283.1 438.5 L282.6 439.0 L282.3 439.5 L282.0 440.0 L281.5 440.7 L281.0 441.5 L280.8 442.0 L280.5 442.5 L280.0 443.5 L279.8 444.0 L279.7 445.0 L279.5 445.5 L279.2 446.5 L279.2 447.5 L279.2 448.5 L279.2 449.5 L279.5 450.5 L279.7 451.0 L279.8 452.0 L280.0 452.5 L280.5 453.5 L280.8 454.0 L281.0 454.5 L281.5 455.3 L282.0 456.0 L282.3 456.5 L282.6 457.0 L283.1 457.5 L283.7 458.0 L284.5 458.5 L285.0 458.9 L285.5 459.2 L286.0 459.5 L287.0 460.0 L287.5 460.2 L288.0 460.5 L289.0 460.8 L290.0 460.8 L291.0 460.8 L292.0 460.8 L293.0 460.8 L294.0 460.8 L295.0 460.8 L296.0 460.7 L296.5 460.5 L297.5 460.2 L298.1 460.5 L298.7 461.0 L299.5 461.5 L300.0 461.7 L300.5 462.0 L301.5 462.5 L302.0 462.7 L302.5 463.0 L303.5 463.3 L304.0 463.5 L305.0 463.8 L305.8 464.0 L306.1 464.5 L306.5 465.0 L307.0 465.8 L307.5 466.5 L307.8 467.0 L308.1 467.5 L308.5 468.0 L308.7 469.0 L308.5 470.0 L308.3 470.5 L308.2 471.5 L308.2 472.5 L308.2 473.5 L308.2 474.5 L308.2 475.5 L307.5 475.8 L307.0 476.0 L306.0 476.3 L305.5 476.5 L304.5 476.8 L304.0 477.0 L303.0 477.5 L302.5 477.8 L302.0 478.1 L301.5 478.5 L300.7 479.0 L300.0 479.5 L299.5 479.8 L299.0 480.1 L298.5 480.6 L298.0 481.1 L297.5 481.6 L297.0 482.1 L296.5 482.6 L296.0 483.1 L295.5 483.7 L295.0 484.5 L294.5 484.8 L293.5 484.7 L292.5 484.7 L291.5 484.7 L290.5 484.8 L290.0 485.0 L289.0 485.2 L288.0 485.5 L287.5 485.8 L287.0 486.0 L286.0 486.5 L285.5 486.8 L285.0 487.1 L284.5 487.6 L284.0 488.1 L283.5 488.6 L283.0 489.1 L282.5 489.6 L282.0 490.2 L281.5 491.0 L281.3 491.5 L281.0 492.0 L280.5 493.0 L280.3 493.5 L280.2 494.5 L280.0 495.0 L279.7 496.0 L279.7 497.0 L279.7 498.0 L279.7 499.0 L280.0 500.0 L280.2 500.5 L280.3 501.5 L280.5 502.0 L281.0 503.0 L281.3 503.5 L281.5 504.0 L282.0 504.8 L282.5 505.5 L282.8 506.0 L283.1 506.5 L283.7 507.0 L284.5 507.5 L285.0 507.9 L285.5 508.4 L286.0 508.7 L286.5 509.0 L287.5 509.5 L288.0 509.7 L289.0 510.0 L289.5 510.2 L290.5 510.3 L291.5 510.3 L292.5 510.3 L293.5 510.3 L294.5 510.3 L295.1 510.5 L295.6 511.0 L296.0 511.5 L296.5 512.3 L297.0 512.9 L297.5 513.4 L298.0 513.9 L298.5 514.2 L299.0 514.5 L299.6 515.0 L300.2 515.5 L301.0 516.0 L301.5 516.4 L302.0 516.7 L302.5 517.0 L303.5 517.5 L304.0 517.7 L304.5 518.0 L305.5 518.3 L306.0 518.5 L307.0 518.8 L308.0 519.0 L308.5 519.2 L309.5 519.3 L310.5 519.5 L310.8 520.0 L311.0 520.5 L310.6 521.0 L310.3 521.5 L309.5 521.7 L308.5 521.7 L307.5 522.0 L307.0 522.2 L306.0 522.3 L305.5 522.5 L304.5 523.0 L304.0 523.3 L303.5 523.5 L302.5 524.0 L302.0 524.3 L301.5 524.5 L300.7 525.0 L300.1 525.5 L299.5 526.0 L299.0 526.3 L298.5 526.6 L298.0 527.1 L297.5 527.6 L297.0 528.1 L296.5 528.6 L296.0 529.2 L295.5 529.5 L295.0 529.3 L294.5 529.0 L293.5 528.7 L292.5 528.5 L292.0 528.3 L291.0 528.2 L290.0 528.2 L289.0 528.2 L288.0 528.2 L287.0 528.2 L286.0 528.3 L285.5 528.5 L284.5 528.7 L283.5 529.0 L283.0 529.3 L282.5 529.5 L281.5 530.0 L281.0 530.3 L280.5 530.5 L279.7 531.0 L279.1 531.5 L278.5 532.0 L278.0 532.3 L277.5 532.6 L277.0 533.2 L276.5 534.0 L276.1 534.5 L275.6 535.0 L275.3 535.5 L275.0 536.0 L274.5 536.7 L274.0 537.5 L273.8 538.0 L273.5 539.0 L273.3 539.5 L273.0 540.5 L272.8 541.0 L272.7 542.0 L272.7 543.0 L272.7 544.0 L272.7 545.0 L272.7 546.0 L272.7 547.0 L272.8 548.0 L273.0 548.5 L273.2 549.5 L273.5 550.5 L273.8 551.0 L274.0 551.5 L274.5 552.5 L274.8 553.0 L275.1 553.5 L275.5 554.0 L276.0 554.8 L276.5 555.4 L277.0 555.9 L277.5 556.4 L278.0 556.9 L278.5 557.4 L279.0 557.7 L279.5 558.0 L280.2 558.5 L281.0 559.0 L281.5 559.2 L282.0 559.5 L283.0 560.0 L283.5 560.2 L284.5 560.5 L285.0 560.7 L286.0 560.8 L287.0 560.8 L288.0 560.8 L289.0 560.8 L290.0 560.8 L291.0 560.8 L292.0 560.8 L293.0 560.7 L293.5 560.5 L294.5 560.2 L295.0 560.0 L296.0 559.5 L296.5 559.2 L297.0 559.0 L297.5 559.4 L298.0 559.9 L298.5 560.4 L299.0 560.7 L299.5 561.0 L300.1 561.5 L300.7 562.0 L301.5 562.5 L302.0 562.7 L302.5 563.0 L303.5 563.5 L304.0 563.7 L304.5 564.0 L305.5 564.5 L306.0 564.7 L307.0 564.8 L307.5 565.0 L308.5 565.3 L309.5 565.3 L310.3 565.5 L310.6 566.0 L311.0 566.5 L310.8 567.0 L310.5 567.5 L309.5 567.7 L308.5 567.8 L308.0 568.0 L307.0 568.2 L306.0 568.5 L305.5 568.7 L304.5 569.0 L304.0 569.3 L303.5 569.5 L302.5 570.0 L302.0 570.3 L301.5 570.6 L301.0 571.0 L300.2 571.5 L299.6 572.0 L299.0 572.5 L298.5 572.8 L298.0 573.1 L297.5 573.6 L297.0 574.1 L296.5 574.7 L296.0 575.5 L295.6 576.0 L295.1 576.5 L294.8 577.0 L294.0 577.2 L293.0 577.2 L292.0 577.2 L291.0 577.5 L290.5 577.7 L289.5 578.0 L289.0 578.3 L288.5 578.5 L287.5 579.0 L287.0 579.3 L286.5 579.6 L286.0 580.1 L285.5 580.6 L285.0 581.1 L284.5 581.6 L284.0 582.2 L283.5 583.0 L283.3 583.5 L283.0 584.0 L282.5 585.0 L282.3 585.5 L282.0 586.0 L281.7 587.0 L281.7 588.0 L281.7 589.0 L281.7 590.0 L281.7 591.0 L281.7 592.0 L281.7 593.0 L282.0 594.0 L282.3 594.5 L282.5 595.0 L283.0 596.0 L283.3 596.5 L283.5 597.0 L284.0 597.8 L284.5 598.4 L285.0 598.9 L285.5 599.4 L286.0 599.9 L286.5 600.4 L287.0 600.7 L287.5 601.0 L288.5 601.5 L289.0 601.7 L289.5 602.0 L290.5 602.3 L291.0 602.5 L292.0 602.8 L293.0 602.8 L294.0 602.8 L295.0 602.8 L295.5 603.3 L296.0 603.9 L296.5 604.4 L297.0 604.9 L297.5 605.4 L298.0 605.9 L298.5 606.4 L299.0 606.9 L299.5 607.2 L300.0 607.5 L300.7 608.0 L301.5 608.5 L302.0 608.9 L302.5 609.2 L303.0 609.5 L304.0 610.0 L304.2 610.5 L304.2 611.5 L304.2 612.5 L304.2 613.5 L304.2 614.5 L304.2 615.5 L304.2 616.5 L304.5 617.5 L304.7 618.0 L304.8 619.0 L305.0 619.5 L305.3 620.5 L305.5 621.0 L306.0 622.0 L306.3 622.5 L306.5 623.0 L306.8 624.0 L306.5 624.5 L306.2 625.5 L306.0 626.0 L305.7 627.0 L305.7 628.0 L305.7 629.0 L305.7 630.0 L305.7 631.0 L305.7 632.0 L305.8 633.0 L306.0 633.5 L306.3 634.5 L306.5 635.0 L307.0 636.0 L307.3 636.5 L307.6 637.0 L308.1 637.5 L308.5 638.0 L309.0 638.8 L309.5 639.4 L310.0 639.7 L310.5 640.0 L311.2 640.5 L312.0 641.0 L312.5 641.2 L313.0 641.5 L314.0 642.0 L314.5 642.2 L315.5 642.3 L316.5 642.3 L317.5 642.3 L318.5 642.3 L319.5 642.3 L320.5 642.3 L321.5 642.3 L322.5 642.0Z M340.0 506.0 L339.0 506.0 L338.4 506.0 L337.5 505.9 L336.5 505.6 L336.0 505.4 L335.2 505.0 L334.5 504.6 L334.0 504.2 L333.5 503.8 L333.0 503.3 L332.5 502.7 L332.0 502.0 L331.7 501.5 L331.4 501.0 L331.1 500.0 L330.9 499.5 L330.7 498.5 L330.7 497.5 L330.7 496.5 L330.9 495.5 L331.0 495.0 L331.3 494.0 L331.6 493.5 L332.0 492.8 L332.5 492.1 L333.0 491.5 L333.5 491.0 L334.0 490.6 L334.5 490.2 L335.0 489.9 L335.8 489.5 L336.5 489.2 L337.2 489.0 L338.0 488.8 L339.0 488.8 L340.0 488.8 L341.0 488.9 L341.5 489.0 L342.5 489.4 L343.0 489.6 L343.8 490.0 L344.5 490.5 L345.0 490.9 L345.5 491.4 L346.0 491.9 L346.4 492.5 L346.7 493.0 L347.0 493.5 L347.4 494.5 L347.6 495.0 L347.8 496.0 L347.9 497.0 L347.9 498.0 L347.8 499.0 L347.5 500.0 L347.4 500.5 L347.0 501.3 L346.6 502.0 L346.3 502.5 L345.9 503.0 L345.4 503.5 L344.9 504.0 L344.2 504.5 L343.5 505.0 L343.0 505.2 L342.3 505.5 L341.5 505.8 L340.5 506.0 L340.0 506.0Z M340.5 553.0 L339.5 553.1 L338.5 553.1 L337.9 553.0 L337.0 552.8 L336.0 552.5 L335.5 552.3 L334.8 552.0 L334.0 551.5 L333.5 551.2 L333.0 550.8 L332.5 550.3 L332.0 549.7 L331.5 549.1 L331.1 548.5 L330.8 548.0 L330.5 547.4 L330.2 546.5 L330.0 545.9 L329.8 545.0 L329.7 544.0 L329.7 543.0 L329.8 542.0 L330.0 541.1 L330.2 540.5 L330.5 539.6 L330.8 539.0 L331.1 538.5 L331.5 537.9 L332.0 537.3 L332.5 536.7 L333.0 536.2 L333.5 535.8 L334.0 535.5 L334.8 535.0 L335.5 534.7 L336.0 534.5 L337.0 534.2 L337.9 534.0 L338.5 533.9 L339.5 533.9 L340.5 534.0 L341.0 534.0 L342.0 534.3 L342.7 534.5 L343.5 534.9 L344.0 535.1 L344.6 535.5 L345.3 536.0 L345.9 536.5 L346.4 537.0 L346.8 537.5 L347.2 538.0 L347.5 538.5 L348.0 539.4 L348.3 540.0 L348.5 540.7 L348.7 541.5 L348.9 542.5 L348.9 543.5 L348.9 544.5 L348.7 545.5 L348.5 546.3 L348.3 547.0 L348.0 547.6 L347.5 548.5 L347.2 549.0 L346.8 549.5 L346.4 550.0 L345.9 550.5 L345.3 551.0 L344.6 551.5 L344.0 551.9 L343.5 552.1 L342.7 552.5 L342.0 552.7 L341.0 553.0 L340.5 553.0Z M341.0 598.1 L340.0 598.2 L339.0 598.2 L338.0 598.2 L337.2 598.0 L336.5 597.8 L335.8 597.5 L335.0 597.1 L334.5 596.8 L334.0 596.4 L333.5 596.0 L333.0 595.5 L332.5 594.9 L332.0 594.2 L331.6 593.5 L331.3 593.0 L331.0 592.0 L330.9 591.5 L330.7 590.5 L330.7 589.5 L330.7 588.5 L330.9 587.5 L331.1 587.0 L331.4 586.0 L331.7 585.5 L332.0 585.0 L332.5 584.3 L333.0 583.7 L333.5 583.2 L334.0 582.8 L334.5 582.4 L335.2 582.0 L336.0 581.6 L336.5 581.4 L337.5 581.1 L338.4 581.0 L339.0 581.0 L340.0 581.0 L340.5 581.0 L341.5 581.2 L342.3 581.5 L343.0 581.8 L343.5 582.0 L344.2 582.5 L344.9 583.0 L345.4 583.5 L345.9 584.0 L346.3 584.5 L346.6 585.0 L347.0 585.7 L347.4 586.5 L347.5 587.0 L347.8 588.0 L347.9 589.0 L347.9 590.0 L347.8 591.0 L347.6 592.0 L347.4 592.5 L347.0 593.5 L346.7 594.0 L346.4 594.5 L346.0 595.1 L345.5 595.6 L345.0 596.1 L344.5 596.5 L343.8 597.0 L343.0 597.4 L342.5 597.6 L341.5 598.0 L341.0 598.1Z" fill="#7ee430" fill-rule="evenodd"/>
<path d="M322.0 641.0 L323.0 640.5 L323.5 640.2 L324.0 640.0 L325.0 639.5 L325.5 639.2 L326.0 638.8 L326.5 638.3 L327.0 637.8 L327.5 637.3 L328.0 636.5 L328.2 636.0 L328.5 635.5 L329.0 634.5 L329.2 634.0 L329.5 633.5 L330.5 633.2 L331.5 633.2 L332.0 633.0 L333.0 632.7 L333.5 632.5 L334.5 632.0 L335.0 631.7 L335.5 631.5 L336.5 631.0 L337.0 630.7 L337.5 630.3 L338.0 630.0 L338.8 629.5 L339.5 629.3 L340.0 629.7 L340.5 630.0 L341.2 630.5 L342.0 631.0 L342.5 631.2 L343.0 631.5 L344.0 632.0 L344.5 632.2 L345.5 632.5 L346.0 632.7 L347.0 633.0 L347.5 633.2 L348.5 633.2 L349.5 633.5 L350.0 633.7 L351.0 633.7 L352.0 633.7 L353.0 633.7 L353.8 634.0 L354.0 634.5 L354.5 635.5 L354.8 636.0 L355.2 636.5 L355.7 637.0 L356.2 637.5 L356.7 638.0 L357.5 638.5 L358.0 638.7 L358.5 639.0 L359.5 639.5 L360.0 639.7 L360.5 640.0 L361.5 640.2 L362.5 640.2 L363.5 640.2 L364.5 640.2 L365.5 640.2 L366.5 640.2 L367.5 640.2 L368.0 640.0 L369.0 639.5 L369.5 639.2 L370.0 639.0 L370.8 638.5 L371.5 638.0 L372.0 637.7 L372.5 637.3 L373.0 636.5 L373.3 636.0 L373.8 635.5 L374.2 635.0 L374.5 634.5 L375.0 633.5 L375.2 633.0 L375.5 632.0 L375.7 631.5 L375.7 630.5 L375.7 629.5 L375.7 628.5 L375.7 627.5 L375.7 626.5 L375.5 625.5 L375.2 625.0 L375.0 624.0 L374.7 623.5 L374.5 623.0 L374.0 622.2 L373.5 621.7 L373.0 621.2 L372.5 620.7 L372.2 620.0 L372.5 619.5 L372.7 618.5 L373.0 617.5 L373.2 617.0 L373.2 616.0 L373.2 615.0 L373.2 614.0 L373.2 613.0 L373.2 612.0 L373.2 611.0 L373.2 610.0 L373.5 609.2 L374.0 609.0 L375.0 608.5 L375.5 608.2 L376.0 608.0 L376.8 607.5 L377.5 607.0 L378.0 606.7 L378.5 606.3 L379.0 605.8 L379.5 605.3 L380.0 604.8 L380.5 604.3 L381.0 603.8 L381.5 603.3 L382.0 602.8 L382.5 602.3 L383.0 601.5 L383.3 601.0 L383.7 600.5 L384.5 600.2 L385.5 600.2 L386.5 600.2 L387.5 600.2 L388.5 600.2 L389.5 600.0 L390.0 599.7 L391.0 599.5 L391.5 599.2 L392.0 599.0 L393.0 598.5 L393.5 598.2 L394.0 597.8 L394.5 597.3 L395.0 596.8 L395.5 596.3 L396.0 595.8 L396.5 595.0 L396.8 594.5 L397.2 594.0 L397.5 593.5 L397.7 592.5 L398.0 592.0 L398.2 591.0 L398.2 590.0 L398.2 589.0 L398.2 588.0 L398.2 587.0 L398.2 586.0 L398.0 585.0 L397.7 584.5 L397.5 583.5 L397.2 583.0 L396.8 582.5 L396.5 582.0 L396.0 581.2 L395.5 580.7 L395.0 580.2 L394.5 579.7 L394.0 579.2 L393.5 578.8 L393.0 578.5 L392.0 578.0 L391.5 577.8 L391.0 577.5 L390.0 577.3 L389.5 577.0 L388.5 576.8 L387.5 576.8 L386.5 576.8 L385.5 576.8 L384.5 576.8 L384.0 577.0 L383.0 577.3 L382.5 577.0 L382.0 576.2 L381.5 575.7 L381.0 575.2 L380.5 574.7 L380.0 574.2 L379.5 573.7 L379.0 573.3 L378.5 573.0 L377.8 572.5 L377.3 572.0 L376.5 571.5 L376.0 571.3 L375.5 571.0 L374.5 570.5 L374.0 570.3 L373.5 570.0 L372.5 569.8 L372.0 569.5 L371.0 569.3 L370.0 569.0 L369.5 568.8 L368.5 568.8 L367.5 568.5 L367.2 568.0 L366.8 567.5 L366.5 567.0 L366.5 566.3 L367.0 565.5 L367.2 565.0 L367.5 564.5 L368.5 564.2 L369.5 564.2 L370.5 564.0 L371.0 563.7 L372.0 563.7 L372.5 563.5 L373.5 563.0 L374.0 562.7 L374.5 562.5 L375.5 562.0 L376.0 561.7 L376.5 561.5 L377.3 561.0 L378.0 560.5 L378.5 560.2 L379.0 559.8 L379.5 559.3 L380.0 558.8 L380.5 558.3 L381.0 557.8 L381.5 557.3 L382.0 556.8 L382.5 556.3 L383.0 556.7 L383.5 557.0 L384.5 557.5 L385.0 557.7 L385.5 558.0 L386.5 558.2 L387.0 558.5 L388.0 558.7 L389.0 558.7 L390.0 558.7 L391.0 558.7 L392.0 558.7 L393.0 558.7 L394.0 558.7 L395.0 558.5 L395.5 558.2 L396.5 558.0 L397.0 557.7 L397.5 557.5 L398.5 557.0 L399.0 556.7 L399.5 556.3 L400.0 556.0 L400.8 555.5 L401.3 555.0 L401.8 554.5 L402.3 554.0 L402.8 553.5 L403.2 553.0 L403.5 552.5 L404.0 551.8 L404.5 551.0 L404.7 550.5 L405.0 550.0 L405.5 549.0 L405.7 548.5 L405.7 547.5 L406.0 547.0 L406.2 546.0 L406.2 545.0 L406.2 544.0 L406.2 543.0 L406.2 542.0 L406.2 541.0 L406.0 540.0 L405.7 539.5 L405.5 538.5 L405.2 538.0 L405.0 537.0 L404.7 536.5 L404.3 536.0 L404.0 535.5 L403.5 534.7 L403.0 534.2 L402.5 533.5 L402.2 533.0 L401.8 532.5 L401.0 532.0 L400.5 531.7 L400.0 531.2 L399.5 530.8 L399.0 530.5 L398.0 530.0 L397.5 529.8 L397.0 529.5 L396.0 529.0 L395.5 528.8 L394.5 528.8 L394.0 528.5 L393.0 528.3 L392.0 528.3 L391.0 528.3 L390.0 528.3 L389.0 528.3 L388.0 528.5 L387.5 528.8 L386.5 528.8 L386.0 529.0 L385.0 529.5 L384.5 529.8 L384.0 530.0 L383.0 530.5 L382.5 530.8 L382.0 530.2 L381.5 529.7 L381.0 529.2 L380.5 528.7 L380.0 528.2 L379.5 527.7 L379.0 527.2 L378.5 526.8 L378.0 526.5 L377.3 526.0 L376.5 525.5 L376.0 525.3 L375.5 525.0 L374.5 524.5 L374.0 524.3 L373.5 524.0 L372.5 523.5 L372.0 523.3 L371.0 523.3 L370.5 523.0 L369.5 522.8 L368.5 522.8 L367.5 522.5 L367.2 522.0 L367.0 521.5 L366.5 520.7 L366.5 520.0 L366.8 519.5 L367.2 519.0 L367.5 518.5 L368.5 518.2 L369.5 518.2 L370.0 518.0 L371.0 517.7 L372.0 517.5 L372.5 517.2 L373.5 517.0 L374.0 516.7 L374.5 516.5 L375.5 516.0 L376.0 515.7 L376.5 515.5 L377.3 515.0 L377.8 514.5 L378.5 514.0 L379.0 513.7 L379.5 513.3 L380.0 512.8 L380.5 512.3 L381.0 511.8 L381.5 511.3 L382.0 510.8 L382.5 510.0 L382.8 509.5 L383.5 509.0 L384.3 509.5 L384.5 510.5 L384.8 511.0 L384.8 512.0 L384.8 513.0 L384.8 514.0 L384.8 515.0 L384.8 516.0 L384.8 517.0 L385.0 517.5 L385.3 518.5 L385.5 519.0 L386.0 520.0 L386.3 520.5 L386.7 521.0 L387.2 521.5 L387.7 522.0 L388.2 522.5 L388.7 523.0 L389.2 523.5 L389.7 524.0 L390.5 524.5 L391.0 524.7 L391.5 525.0 L392.5 525.2 L393.0 525.5 L394.0 525.7 L395.0 525.7 L396.0 525.7 L397.0 525.7 L398.0 525.7 L399.0 525.7 L399.5 525.5 L400.5 525.2 L401.0 525.0 L402.0 524.5 L402.5 524.2 L403.0 523.8 L403.5 523.3 L404.0 523.0 L404.8 522.5 L405.2 522.0 L405.5 521.5 L406.0 520.8 L406.5 520.0 L406.7 519.5 L407.0 519.0 L407.5 518.0 L407.7 517.5 L407.7 516.5 L407.7 515.5 L407.7 514.5 L407.7 513.5 L407.7 512.5 L407.7 511.5 L407.5 510.5 L407.2 510.0 L407.0 509.5 L406.5 508.5 L406.2 508.0 L406.0 507.5 L405.5 506.7 L405.0 506.2 L404.5 505.7 L404.0 505.0 L403.7 504.5 L403.5 503.5 L403.2 503.0 L403.5 502.5 L404.0 501.5 L404.2 501.0 L404.5 500.0 L404.7 499.5 L405.0 498.5 L405.2 498.0 L405.2 497.0 L405.2 496.0 L405.2 495.0 L405.2 494.0 L405.2 493.0 L405.2 492.0 L405.0 491.5 L404.7 490.5 L404.5 490.0 L404.2 489.0 L404.0 488.5 L403.5 487.5 L403.2 487.0 L402.8 486.5 L402.3 486.0 L402.0 485.5 L401.5 484.7 L401.0 484.2 L400.5 483.7 L400.0 483.3 L399.5 483.0 L398.8 482.5 L398.3 482.0 L397.5 481.5 L397.0 481.3 L396.5 481.0 L395.5 480.8 L395.0 480.5 L394.0 480.3 L393.5 480.0 L392.5 479.8 L391.5 479.8 L390.5 479.8 L389.5 479.8 L388.5 479.8 L387.5 479.8 L386.5 480.0 L386.0 480.3 L385.0 480.5 L384.5 480.8 L383.5 481.0 L383.0 481.3 L382.5 481.5 L381.7 482.0 L381.2 482.5 L380.5 482.7 L380.0 482.2 L379.5 481.7 L379.0 481.2 L378.5 480.7 L378.0 480.3 L377.5 480.0 L376.8 479.5 L376.0 479.0 L375.5 478.8 L375.0 478.5 L374.0 478.0 L373.5 477.8 L372.5 477.5 L372.0 477.3 L371.0 477.0 L370.5 476.8 L369.5 476.8 L369.2 476.0 L369.2 475.0 L369.2 474.0 L369.2 473.0 L369.2 472.0 L369.2 471.0 L369.0 470.0 L368.7 469.5 L368.5 468.5 L368.2 468.0 L368.5 467.3 L369.5 467.2 L370.0 467.0 L371.0 466.7 L371.5 466.5 L372.5 466.0 L373.0 465.7 L373.5 465.3 L374.0 465.0 L374.8 464.5 L375.3 464.0 L375.8 463.5 L376.3 463.0 L376.8 462.5 L377.3 462.0 L377.7 461.5 L378.0 461.0 L378.5 460.3 L379.0 459.5 L379.2 459.0 L379.5 458.0 L379.7 457.5 L380.0 457.0 L380.2 456.0 L380.2 455.0 L380.2 454.0 L380.2 453.0 L380.2 452.0 L380.2 451.0 L380.2 450.0 L380.2 449.0 L380.0 448.5 L379.7 447.5 L379.5 447.0 L379.0 446.0 L378.7 445.5 L378.5 445.0 L378.0 444.2 L377.5 443.5 L377.2 443.0 L376.8 442.5 L376.3 442.0 L375.8 441.5 L375.3 441.0 L374.5 440.5 L374.0 440.2 L373.5 439.8 L373.0 439.5 L372.0 439.0 L371.5 438.8 L371.0 438.5 L370.0 438.3 L369.5 438.0 L368.5 437.8 L367.5 437.8 L366.5 437.8 L365.5 437.7 L365.0 437.2 L364.5 436.7 L364.0 436.2 L363.5 435.7 L363.0 435.2 L362.5 434.7 L362.0 434.2 L361.5 433.5 L361.2 433.0 L360.8 432.5 L360.3 432.0 L359.8 431.5 L359.3 431.0 L358.5 430.5 L358.0 430.2 L357.5 429.8 L357.0 429.5 L356.0 429.3 L355.5 429.0 L354.5 428.8 L353.5 428.8 L352.5 428.8 L351.5 428.8 L350.5 428.8 L350.0 429.0 L349.0 429.3 L348.5 429.5 L347.7 430.0 L347.0 430.5 L346.5 430.8 L346.0 431.2 L345.5 431.7 L345.0 432.2 L344.5 433.0 L344.2 433.5 L343.8 434.0 L343.5 434.5 L343.3 435.5 L343.0 436.0 L342.8 437.0 L342.8 438.0 L342.8 439.0 L342.8 440.0 L342.8 441.0 L343.0 441.5 L343.3 442.5 L343.5 443.0 L344.0 443.8 L344.5 444.5 L344.8 445.0 L345.2 445.5 L345.7 446.0 L346.2 446.5 L346.7 447.0 L347.2 447.5 L347.7 448.0 L348.2 448.5 L348.7 449.0 L349.2 449.5 L349.5 450.0 L350.0 450.8 L350.5 451.3 L350.8 452.0 L350.8 453.0 L350.8 454.0 L350.8 455.0 L350.8 456.0 L351.0 457.0 L350.0 457.3 L349.5 457.5 L348.5 457.8 L347.5 458.0 L347.0 458.3 L346.0 458.5 L345.5 458.8 L345.0 459.0 L344.0 459.5 L343.5 459.8 L343.0 460.2 L342.5 460.5 L341.7 461.0 L341.2 461.5 L340.7 462.0 L340.0 462.3 L339.0 462.3 L338.0 462.2 L337.5 461.7 L337.0 461.2 L336.5 460.7 L336.0 460.3 L335.5 460.0 L334.5 459.5 L334.0 459.3 L333.5 459.0 L332.5 458.5 L332.0 458.3 L331.0 458.0 L330.5 457.8 L329.5 457.8 L329.0 457.5 L328.0 457.3 L327.0 457.3 L326.5 456.7 L326.0 456.0 L325.7 455.5 L325.3 455.0 L325.0 454.5 L324.5 453.7 L324.0 453.0 L323.7 452.5 L323.3 452.0 L323.2 451.0 L323.5 450.5 L323.7 449.5 L323.7 448.5 L323.7 447.5 L323.7 446.5 L323.7 445.5 L324.0 444.8 L324.5 444.3 L325.0 443.8 L325.5 443.0 L325.8 442.5 L326.3 442.0 L326.8 441.5 L327.5 441.2 L328.5 441.2 L329.5 441.2 L330.5 441.2 L331.0 441.0 L332.0 440.7 L332.5 440.5 L333.5 440.2 L334.0 440.0 L334.8 439.5 L335.5 439.0 L336.0 438.7 L336.5 438.3 L337.0 437.8 L337.5 437.3 L338.0 436.8 L338.5 436.3 L339.0 435.8 L339.5 435.3 L340.0 434.5 L340.3 434.0 L340.7 433.5 L341.0 433.0 L341.5 432.0 L341.7 431.5 L342.0 430.5 L342.2 430.0 L342.2 429.0 L342.2 428.0 L342.2 427.0 L342.2 426.0 L342.2 425.0 L342.2 424.0 L342.2 423.0 L342.0 422.0 L341.7 421.5 L341.5 420.5 L341.2 420.0 L341.0 419.5 L340.5 418.5 L340.2 418.0 L339.8 417.5 L339.5 417.0 L339.0 416.2 L338.5 415.7 L338.0 415.2 L337.5 414.7 L337.0 414.2 L336.5 413.8 L336.0 413.5 L335.3 413.0 L334.5 412.5 L334.0 412.3 L333.5 412.0 L332.5 411.8 L332.0 411.5 L331.0 411.3 L330.0 411.0 L329.5 410.8 L328.5 410.8 L327.5 410.8 L326.5 410.8 L325.5 410.8 L324.5 410.8 L324.0 411.0 L323.0 411.3 L322.5 411.5 L321.5 411.8 L321.0 412.0 L320.0 412.5 L319.5 412.8 L319.0 413.2 L318.5 413.5 L317.7 414.0 L317.2 414.5 L316.7 415.0 L316.2 415.5 L315.7 416.0 L315.2 416.5 L314.8 417.0 L314.5 417.5 L314.0 418.2 L313.5 419.0 L313.3 419.5 L313.0 420.0 L312.8 421.0 L312.5 421.5 L312.3 422.5 L312.3 423.5 L312.0 424.0 L311.8 425.0 L311.8 426.0 L311.8 427.0 L311.8 428.0 L311.5 428.7 L311.0 429.2 L310.5 429.7 L310.0 430.2 L309.5 430.7 L309.0 431.2 L308.5 431.7 L307.5 431.8 L306.5 431.8 L305.5 431.8 L305.0 432.0 L304.0 432.3 L303.0 432.5 L302.5 432.8 L302.0 433.0 L301.0 433.5 L300.5 433.8 L300.0 434.0 L299.2 434.5 L298.7 435.0 L298.2 435.5 L297.7 436.0 L297.2 436.5 L296.5 436.8 L296.0 436.5 L295.0 436.3 L294.0 436.3 L293.0 436.3 L292.0 436.3 L291.0 436.3 L290.0 436.3 L289.0 436.3 L288.5 436.5 L287.5 437.0 L287.0 437.3 L286.5 437.5 L285.7 438.0 L285.0 438.5 L284.5 438.8 L284.0 439.2 L283.5 439.7 L283.0 440.5 L282.7 441.0 L282.3 441.5 L282.0 442.0 L281.5 443.0 L281.3 443.5 L281.0 444.0 L280.8 445.0 L280.5 446.0 L280.3 446.5 L280.3 447.5 L280.3 448.5 L280.3 449.5 L280.5 450.0 L280.8 451.0 L281.0 452.0 L281.3 452.5 L281.5 453.0 L282.0 454.0 L282.3 454.5 L282.7 455.0 L283.0 455.5 L283.5 456.3 L284.0 456.8 L284.5 457.2 L285.0 457.5 L285.7 458.0 L286.5 458.5 L287.0 458.7 L287.5 459.0 L288.5 459.5 L289.0 459.7 L290.0 459.7 L291.0 459.7 L292.0 459.7 L293.0 459.7 L294.0 459.7 L295.0 459.7 L296.0 459.5 L296.5 459.2 L297.5 459.0 L298.0 458.8 L298.5 459.3 L299.0 459.8 L299.5 460.2 L300.0 460.5 L301.0 461.0 L301.5 461.2 L302.0 461.5 L303.0 462.0 L303.5 462.2 L304.5 462.5 L305.0 462.7 L306.0 462.7 L306.5 463.0 L307.0 463.8 L307.5 464.5 L307.8 465.0 L308.2 465.5 L308.5 466.0 L309.0 466.8 L309.5 467.5 L309.8 468.0 L309.8 469.0 L309.8 470.0 L309.5 470.5 L309.3 471.5 L309.3 472.5 L309.3 473.5 L309.3 474.5 L309.3 475.5 L309.3 476.5 L308.5 476.8 L307.5 477.0 L307.0 477.3 L306.0 477.5 L305.5 477.8 L304.5 478.0 L304.0 478.3 L303.5 478.5 L302.7 479.0 L302.0 479.5 L301.5 479.8 L301.0 480.2 L300.5 480.5 L299.7 481.0 L299.2 481.5 L298.7 482.0 L298.2 482.5 L297.7 483.0 L297.2 483.5 L296.7 484.0 L296.3 484.5 L296.0 485.0 L295.5 485.7 L295.0 486.3 L294.5 486.0 L293.5 485.8 L292.5 485.8 L291.5 485.8 L290.5 486.0 L290.0 486.3 L289.0 486.3 L288.5 486.5 L287.5 487.0 L287.0 487.3 L286.5 487.5 L285.7 488.0 L285.2 488.5 L284.7 489.0 L284.2 489.5 L283.7 490.0 L283.2 490.5 L282.8 491.0 L282.5 491.5 L282.0 492.5 L281.8 493.0 L281.5 493.5 L281.3 494.5 L281.0 495.5 L280.8 496.0 L280.8 497.0 L280.8 498.0 L280.8 499.0 L281.0 499.5 L281.3 500.5 L281.5 501.5 L281.8 502.0 L282.0 502.5 L282.5 503.5 L282.8 504.0 L283.2 504.5 L283.5 505.0 L284.0 505.8 L284.5 506.2 L285.0 506.5 L285.7 507.0 L286.2 507.5 L287.0 508.0 L287.5 508.2 L288.0 508.5 L289.0 508.7 L289.5 509.0 L290.5 509.2 L291.5 509.2 L292.5 509.2 L293.5 509.2 L294.5 509.2 L295.5 509.0 L296.0 509.8 L296.5 510.3 L297.0 511.0 L297.3 511.5 L297.7 512.0 L298.2 512.5 L298.7 513.0 L299.5 513.5 L300.0 513.8 L300.5 514.3 L301.0 514.7 L301.5 515.0 L302.2 515.5 L303.0 516.0 L303.5 516.2 L304.0 516.5 L305.0 517.0 L305.5 517.2 L306.5 517.5 L307.0 517.7 L308.0 517.7 L308.5 518.0 L309.5 518.2 L310.5 518.2 L311.2 518.5 L311.5 519.0 L312.0 520.0 L312.3 520.5 L312.0 521.0 L311.5 521.7 L311.0 522.5 L310.5 522.8 L309.5 522.8 L308.5 522.8 L308.0 523.0 L307.0 523.3 L306.0 523.5 L305.5 523.8 L305.0 524.0 L304.0 524.5 L303.5 524.8 L303.0 525.0 L302.0 525.5 L301.5 525.8 L301.0 526.2 L300.5 526.7 L300.0 527.0 L299.2 527.5 L298.7 528.0 L298.2 528.5 L297.7 529.0 L297.2 529.5 L296.8 530.0 L296.5 530.5 L295.5 530.8 L295.0 530.5 L294.0 530.0 L293.5 529.8 L292.5 529.8 L292.0 529.5 L291.0 529.3 L290.0 529.3 L289.0 529.3 L288.0 529.3 L287.0 529.3 L286.0 529.5 L285.5 529.8 L284.5 529.8 L284.0 530.0 L283.0 530.5 L282.5 530.8 L282.0 531.0 L281.0 531.5 L280.5 531.8 L280.0 532.2 L279.5 532.7 L279.0 533.0 L278.2 533.5 L277.8 534.0 L277.5 534.5 L277.0 535.2 L276.5 535.7 L276.0 536.5 L275.7 537.0 L275.3 537.5 L275.0 538.0 L274.8 539.0 L274.5 539.5 L274.3 540.5 L274.0 541.0 L273.8 542.0 L273.8 543.0 L273.8 544.0 L273.8 545.0 L273.8 546.0 L273.8 547.0 L274.0 548.0 L274.3 548.5 L274.3 549.5 L274.5 550.0 L275.0 551.0 L275.3 551.5 L275.5 552.0 L276.0 552.8 L276.5 553.5 L276.8 554.0 L277.2 554.5 L277.7 555.0 L278.2 555.5 L278.7 556.0 L279.2 556.5 L280.0 557.0 L280.5 557.3 L281.0 557.7 L281.5 558.0 L282.5 558.5 L283.0 558.7 L283.5 559.0 L284.5 559.2 L285.0 559.5 L286.0 559.7 L287.0 559.7 L288.0 559.7 L289.0 559.7 L290.0 559.7 L291.0 559.7 L292.0 559.7 L293.0 559.5 L293.5 559.2 L294.5 559.0 L295.0 558.7 L295.5 558.5 L296.5 558.0 L297.0 557.7 L297.7 558.0 L298.2 558.5 L298.7 559.0 L299.2 559.5 L300.0 560.0 L300.5 560.3 L301.0 560.8 L301.5 561.2 L302.0 561.5 L303.0 562.0 L303.5 562.2 L304.0 562.5 L305.0 563.0 L305.5 563.2 L306.0 563.5 L307.0 563.7 L308.0 564.0 L308.5 564.2 L309.5 564.2 L310.5 564.2 L311.0 564.5 L311.5 565.3 L312.0 566.0 L312.3 566.5 L312.0 567.0 L311.5 568.0 L311.2 568.5 L310.5 568.8 L309.5 568.8 L308.5 569.0 L308.0 569.3 L307.0 569.3 L306.5 569.5 L305.5 569.8 L305.0 570.0 L304.0 570.5 L303.5 570.8 L303.0 571.0 L302.2 571.5 L301.5 572.0 L301.0 572.3 L300.5 572.7 L300.0 573.2 L299.5 573.5 L298.7 574.0 L298.2 574.5 L297.7 575.0 L297.3 575.5 L297.0 576.0 L296.5 576.7 L296.0 577.2 L295.5 578.0 L295.0 578.3 L294.0 578.3 L293.0 578.3 L292.0 578.3 L291.5 578.5 L290.5 578.8 L290.0 579.0 L289.0 579.5 L288.5 579.8 L288.0 580.0 L287.2 580.5 L286.7 581.0 L286.2 581.5 L285.7 582.0 L285.2 582.5 L284.8 583.0 L284.5 583.5 L284.0 584.5 L283.8 585.0 L283.5 585.5 L283.0 586.5 L282.8 587.0 L282.8 588.0 L282.8 589.0 L282.8 590.0 L282.8 591.0 L282.8 592.0 L282.8 593.0 L283.0 593.5 L283.5 594.5 L283.8 595.0 L284.0 595.5 L284.5 596.5 L284.8 597.0 L285.2 597.5 L285.7 598.0 L286.2 598.5 L286.7 599.0 L287.2 599.5 L288.0 600.0 L288.5 600.2 L289.0 600.5 L290.0 601.0 L290.5 601.2 L291.5 601.5 L292.0 601.7 L293.0 601.7 L294.0 601.7 L295.0 601.7 L296.0 602.0 L296.3 602.5 L296.7 603.0 L297.2 603.5 L297.7 604.0 L298.2 604.5 L298.7 605.0 L299.2 605.5 L299.7 606.0 L300.5 606.5 L301.0 606.8 L301.5 607.2 L302.0 607.5 L302.7 608.0 L303.5 608.5 L304.0 608.7 L304.5 609.0 L305.3 609.5 L305.3 610.5 L305.3 611.5 L305.3 612.5 L305.3 613.5 L305.3 614.5 L305.3 615.5 L305.3 616.5 L305.5 617.0 L305.8 618.0 L306.0 619.0 L306.3 619.5 L306.5 620.5 L306.8 621.0 L307.0 621.5 L307.5 622.5 L307.8 623.0 L308.0 624.0 L307.5 625.0 L307.3 625.5 L307.0 626.5 L306.8 627.0 L306.8 628.0 L306.8 629.0 L306.8 630.0 L306.8 631.0 L306.8 632.0 L307.0 633.0 L307.3 633.5 L307.5 634.5 L307.8 635.0 L308.0 635.5 L308.5 636.3 L309.0 636.8 L309.5 637.5 L309.8 638.0 L310.2 638.5 L311.0 639.0 L311.5 639.3 L312.0 639.7 L312.5 640.0 L313.5 640.5 L314.0 640.7 L314.5 641.0 L315.5 641.2 L316.5 641.2 L317.5 641.2 L318.5 641.2 L319.5 641.2 L320.5 641.2 L321.5 641.2 L322.0 641.0Z M341.0 507.6 L340.0 507.7 L339.0 507.7 L338.0 507.7 L337.1 507.5 L336.5 507.3 L335.5 507.0 L335.0 506.8 L334.4 506.5 L333.6 506.0 L333.0 505.6 L332.5 505.2 L332.0 504.7 L331.5 504.2 L331.0 503.6 L330.6 503.0 L330.3 502.5 L330.0 501.9 L329.6 501.0 L329.4 500.5 L329.2 499.5 L329.0 498.5 L329.0 498.0 L329.0 497.0 L329.0 496.5 L329.1 495.5 L329.4 494.5 L329.5 494.0 L329.9 493.0 L330.2 492.5 L330.5 492.0 L331.0 491.2 L331.5 490.6 L332.0 490.1 L332.5 489.6 L333.0 489.2 L333.5 488.8 L334.0 488.5 L335.0 488.0 L335.5 487.8 L336.3 487.5 L337.0 487.3 L338.0 487.1 L339.0 487.1 L340.0 487.1 L341.0 487.2 L342.0 487.4 L342.5 487.6 L343.5 488.0 L344.0 488.2 L344.6 488.5 L345.3 489.0 L346.0 489.5 L346.5 490.0 L347.0 490.5 L347.4 491.0 L347.8 491.5 L348.1 492.0 L348.5 492.7 L348.9 493.5 L349.1 494.0 L349.4 495.0 L349.5 495.8 L349.6 496.5 L349.6 497.5 L349.6 498.5 L349.5 499.1 L349.3 500.0 L349.0 501.0 L348.8 501.5 L348.5 502.1 L348.0 503.0 L347.6 503.5 L347.3 504.0 L346.8 504.5 L346.3 505.0 L345.7 505.5 L345.0 506.0 L344.5 506.3 L344.0 506.6 L343.1 507.0 L342.5 507.2 L341.5 507.5 L341.0 507.6Z M342.5 554.5 L341.5 554.8 L340.5 554.9 L339.5 555.0 L338.5 555.0 L337.5 554.8 L336.5 554.6 L336.0 554.5 L335.0 554.1 L334.5 553.9 L333.7 553.5 L333.0 553.1 L332.5 552.8 L332.0 552.4 L331.5 551.9 L331.0 551.4 L330.5 550.9 L330.0 550.2 L329.5 549.5 L329.2 549.0 L329.0 548.5 L328.5 547.5 L328.4 547.0 L328.1 546.0 L328.0 545.5 L327.9 544.5 L327.8 543.5 L327.9 542.5 L328.0 541.5 L328.1 541.0 L328.4 540.0 L328.5 539.5 L329.0 538.5 L329.2 538.0 L329.5 537.5 L330.0 536.8 L330.5 536.1 L331.0 535.6 L331.5 535.1 L332.0 534.6 L332.5 534.2 L333.0 533.9 L333.7 533.5 L334.5 533.1 L335.0 532.9 L336.0 532.5 L336.5 532.4 L337.5 532.2 L338.5 532.0 L339.5 532.0 L340.5 532.1 L341.5 532.2 L342.5 532.5 L343.0 532.6 L343.9 533.0 L344.5 533.3 L345.0 533.5 L345.7 534.0 L346.4 534.5 L347.0 535.0 L347.5 535.5 L348.0 536.0 L348.4 536.5 L348.8 537.0 L349.1 537.5 L349.5 538.2 L349.9 539.0 L350.1 539.5 L350.4 540.5 L350.5 541.0 L350.7 542.0 L350.8 543.0 L350.8 544.0 L350.7 545.0 L350.5 546.0 L350.4 546.5 L350.1 547.5 L349.9 548.0 L349.5 548.8 L349.1 549.5 L348.8 550.0 L348.4 550.5 L348.0 551.0 L347.5 551.5 L347.0 552.0 L346.4 552.5 L345.7 553.0 L345.0 553.5 L344.5 553.7 L343.9 554.0 L343.0 554.4 L342.5 554.5Z M342.0 599.6 L341.0 599.8 L340.0 599.9 L339.0 599.9 L338.0 599.9 L337.0 599.7 L336.3 599.5 L335.5 599.2 L335.0 599.0 L334.0 598.5 L333.5 598.2 L333.0 597.8 L332.5 597.4 L332.0 596.9 L331.5 596.4 L331.0 595.8 L330.5 595.0 L330.2 594.5 L329.9 594.0 L329.5 593.0 L329.4 592.5 L329.1 591.5 L329.0 590.5 L329.0 590.0 L329.0 589.0 L329.0 588.5 L329.2 587.5 L329.4 586.5 L329.6 586.0 L330.0 585.1 L330.3 584.5 L330.6 584.0 L331.0 583.4 L331.5 582.8 L332.0 582.3 L332.5 581.8 L333.0 581.4 L333.6 581.0 L334.4 580.5 L335.0 580.2 L335.5 580.0 L336.5 579.7 L337.1 579.5 L338.0 579.3 L339.0 579.3 L340.0 579.3 L341.0 579.4 L341.5 579.5 L342.5 579.8 L343.1 580.0 L344.0 580.4 L344.5 580.7 L345.0 581.0 L345.7 581.5 L346.3 582.0 L346.8 582.5 L347.3 583.0 L347.6 583.5 L348.0 584.0 L348.5 584.9 L348.8 585.5 L349.0 586.0 L349.3 587.0 L349.5 587.9 L349.6 588.5 L349.6 589.5 L349.6 590.5 L349.5 591.2 L349.4 592.0 L349.1 593.0 L348.9 593.5 L348.5 594.3 L348.1 595.0 L347.8 595.5 L347.4 596.0 L347.0 596.5 L346.5 597.0 L346.0 597.5 L345.3 598.0 L344.6 598.5 L344.0 598.8 L343.5 599.0 L342.5 599.4 L342.0 599.6Z" fill="#d8ee1c" fill-rule="evenodd"/>
<path d="M321.8 640.0 L322.5 639.6 L323.0 639.4 L323.8 639.0 L324.5 638.6 L325.0 638.4 L325.5 637.9 L326.0 637.4 L326.5 636.9 L327.0 636.3 L327.4 635.5 L327.6 635.0 L328.0 634.3 L328.4 633.5 L328.6 633.0 L329.3 632.5 L330.0 632.2 L331.0 632.2 L331.8 632.0 L332.5 631.7 L333.3 631.5 L334.0 631.1 L334.5 630.9 L335.3 630.5 L336.0 630.1 L336.5 629.9 L337.0 629.4 L337.8 629.0 L338.4 628.5 L338.9 628.0 L339.5 627.9 L340.0 628.4 L340.5 628.9 L341.0 629.1 L341.6 629.5 L342.2 630.0 L343.0 630.4 L343.5 630.6 L344.2 631.0 L345.0 631.2 L345.7 631.5 L346.5 631.7 L347.2 632.0 L348.0 632.2 L349.0 632.2 L349.7 632.5 L350.5 632.7 L351.5 632.7 L352.5 632.7 L353.5 632.7 L354.4 633.0 L354.6 633.5 L355.0 634.3 L355.4 635.0 L355.6 635.5 L356.1 636.0 L356.6 636.5 L357.1 637.0 L357.7 637.5 L358.5 637.9 L359.0 638.1 L359.7 638.5 L360.5 638.9 L361.0 639.1 L362.0 639.2 L363.0 639.2 L364.0 639.2 L365.0 639.2 L366.0 639.2 L367.0 639.2 L367.8 639.0 L368.5 638.6 L369.0 638.4 L369.8 638.0 L370.4 637.5 L371.0 637.1 L371.5 636.9 L372.0 636.3 L372.4 635.5 L372.9 635.0 L373.4 634.5 L373.6 634.0 L374.0 633.3 L374.2 632.5 L374.5 631.8 L374.7 631.0 L374.7 630.0 L374.7 629.0 L374.7 628.0 L374.7 627.0 L374.6 626.0 L374.4 625.5 L374.1 624.5 L373.9 624.0 L373.5 623.2 L373.0 622.6 L372.5 622.1 L372.0 621.6 L371.5 621.1 L371.0 620.6 L371.0 620.3 L371.4 619.5 L371.6 619.0 L371.7 618.0 L372.0 617.3 L372.2 616.5 L372.2 615.5 L372.2 614.5 L372.2 613.5 L372.2 612.5 L372.2 611.5 L372.2 610.5 L372.2 609.5 L372.3 608.5 L373.0 608.2 L373.8 608.0 L374.5 607.6 L375.0 607.4 L375.8 607.0 L376.4 606.5 L377.0 606.1 L377.5 605.9 L378.0 605.4 L378.5 604.9 L379.0 604.4 L379.5 603.9 L380.0 603.4 L380.5 602.9 L381.0 602.4 L381.5 601.9 L382.0 601.3 L382.4 600.5 L382.9 600.0 L383.1 599.5 L383.5 598.8 L384.2 599.0 L385.0 599.2 L386.0 599.2 L387.0 599.2 L388.0 599.2 L389.0 599.1 L389.5 598.9 L390.5 598.6 L391.0 598.4 L391.8 598.0 L392.5 597.6 L393.0 597.4 L393.5 596.9 L394.0 596.4 L394.5 595.9 L395.0 595.4 L395.5 594.8 L395.9 594.0 L396.4 593.5 L396.6 593.0 L396.9 592.0 L397.1 591.5 L397.2 590.5 L397.2 589.5 L397.2 588.5 L397.2 587.5 L397.2 586.5 L397.1 585.5 L396.9 585.0 L396.6 584.0 L396.4 583.5 L395.9 583.0 L395.5 582.2 L395.0 581.6 L394.5 581.1 L394.0 580.6 L393.5 580.1 L393.0 579.6 L392.5 579.4 L391.8 579.0 L391.0 578.6 L390.5 578.4 L389.5 578.1 L389.0 577.9 L388.0 577.8 L387.0 577.8 L386.0 577.8 L385.0 577.8 L384.2 578.0 L383.5 578.3 L382.7 578.5 L382.4 578.5 L381.9 578.0 L381.5 577.2 L381.0 576.6 L380.5 576.1 L380.0 575.6 L379.5 575.1 L379.0 574.6 L378.5 574.1 L378.0 573.9 L377.4 573.5 L376.9 573.0 L376.3 572.5 L375.5 572.1 L375.0 571.9 L374.3 571.5 L373.5 571.1 L373.0 570.9 L372.0 570.6 L371.5 570.4 L370.5 570.3 L369.8 570.0 L369.0 569.8 L368.0 569.8 L367.0 569.7 L366.6 569.0 L366.4 568.5 L365.9 568.0 L365.5 567.2 L365.1 566.5 L365.5 565.9 L366.0 565.3 L366.4 564.5 L366.6 564.0 L367.0 563.3 L368.0 563.2 L369.0 563.2 L370.0 563.1 L370.5 562.9 L371.5 562.7 L372.3 562.5 L373.0 562.1 L373.5 561.9 L374.3 561.5 L375.0 561.1 L375.5 560.9 L376.3 560.5 L376.9 560.0 L377.5 559.6 L378.0 559.4 L378.5 558.9 L379.0 558.4 L379.5 557.9 L380.0 557.4 L380.5 556.9 L381.0 556.4 L381.5 555.8 L381.9 555.0 L382.2 555.0 L383.0 555.4 L383.5 555.9 L384.0 556.1 L384.7 556.5 L385.5 556.9 L386.0 557.1 L387.0 557.4 L387.5 557.6 L388.5 557.7 L389.5 557.7 L390.5 557.7 L391.5 557.7 L392.5 557.7 L393.5 557.7 L394.5 557.6 L395.0 557.4 L396.0 557.1 L396.5 556.9 L397.3 556.5 L398.0 556.1 L398.5 555.9 L399.0 555.4 L399.8 555.0 L400.4 554.5 L400.9 554.0 L401.4 553.5 L401.9 553.0 L402.4 552.5 L402.6 552.0 L403.0 551.4 L403.5 550.8 L403.9 550.0 L404.1 549.5 L404.5 548.8 L404.7 548.0 L404.9 547.0 L405.1 546.5 L405.2 545.5 L405.2 544.5 L405.2 543.5 L405.2 542.5 L405.2 541.5 L405.1 540.5 L404.9 540.0 L404.6 539.0 L404.4 538.5 L404.1 537.5 L403.9 537.0 L403.4 536.5 L403.0 535.7 L402.5 535.1 L402.0 534.6 L401.6 534.0 L401.4 533.5 L400.8 533.0 L400.0 532.6 L399.5 532.1 L399.0 531.6 L398.5 531.4 L397.8 531.0 L397.0 530.6 L396.5 530.4 L395.8 530.0 L395.0 529.8 L394.0 529.6 L393.5 529.4 L392.5 529.3 L391.5 529.3 L390.5 529.3 L389.5 529.3 L388.5 529.4 L388.0 529.6 L387.0 529.8 L386.2 530.0 L385.5 530.4 L385.0 530.6 L384.2 531.0 L383.5 531.4 L383.0 531.6 L382.5 532.1 L381.9 532.0 L381.5 531.2 L381.0 530.6 L380.5 530.1 L380.0 529.6 L379.5 529.1 L379.0 528.6 L378.5 528.1 L378.0 527.6 L377.5 527.4 L376.9 527.0 L376.3 526.5 L375.5 526.1 L375.0 525.9 L374.3 525.5 L373.5 525.1 L373.0 524.9 L372.3 524.5 L371.5 524.3 L370.5 524.1 L370.0 523.9 L369.0 523.8 L368.0 523.8 L367.0 523.7 L366.6 523.0 L366.4 522.5 L366.0 521.7 L365.5 521.1 L365.1 520.5 L365.5 519.8 L365.9 519.0 L366.4 518.5 L366.6 518.0 L367.0 517.3 L368.0 517.2 L369.0 517.2 L369.8 517.0 L370.5 516.7 L371.5 516.6 L372.0 516.4 L373.0 516.1 L373.5 515.9 L374.3 515.5 L375.0 515.1 L375.5 514.9 L376.3 514.5 L376.9 514.0 L377.4 513.5 L378.0 513.1 L378.5 512.9 L379.0 512.4 L379.5 511.9 L380.0 511.4 L380.5 510.9 L381.0 510.4 L381.5 509.8 L381.9 509.0 L382.4 508.5 L382.6 508.0 L383.5 507.9 L384.0 508.1 L384.9 508.5 L385.1 509.0 L385.4 510.0 L385.6 510.5 L385.9 511.5 L385.8 512.5 L385.8 513.5 L385.8 514.5 L385.8 515.5 L385.8 516.5 L386.0 517.3 L386.3 518.0 L386.5 518.8 L386.9 519.5 L387.1 520.0 L387.6 520.5 L388.1 521.0 L388.6 521.5 L389.1 522.0 L389.6 522.5 L390.1 523.0 L390.7 523.5 L391.5 523.9 L392.0 524.1 L393.0 524.4 L393.5 524.6 L394.5 524.7 L395.5 524.7 L396.5 524.7 L397.5 524.7 L398.5 524.7 L399.3 524.5 L400.0 524.2 L400.8 524.0 L401.5 523.6 L402.0 523.4 L402.5 522.9 L403.0 522.4 L403.8 522.0 L404.4 521.5 L404.6 521.0 L405.0 520.4 L405.5 519.8 L405.9 519.0 L406.1 518.5 L406.5 517.8 L406.7 517.0 L406.7 516.0 L406.7 515.0 L406.7 514.0 L406.7 513.0 L406.7 512.0 L406.6 511.0 L406.4 510.5 L406.0 509.7 L405.6 509.0 L405.4 508.5 L405.0 507.7 L404.5 507.1 L404.0 506.6 L403.5 506.1 L403.1 505.5 L402.9 505.0 L402.6 504.0 L402.4 503.5 L402.4 502.5 L402.6 502.0 L403.0 501.3 L403.2 500.5 L403.5 499.8 L403.7 499.0 L404.0 498.3 L404.2 497.5 L404.2 496.5 L404.2 495.5 L404.2 494.5 L404.2 493.5 L404.2 492.5 L404.0 491.7 L403.7 491.0 L403.5 490.2 L403.2 489.5 L403.0 488.7 L402.6 488.0 L402.4 487.5 L401.9 487.0 L401.4 486.5 L401.0 485.7 L400.5 485.1 L400.0 484.6 L399.5 484.1 L399.0 483.9 L398.4 483.5 L397.9 483.0 L397.3 482.5 L396.5 482.1 L396.0 481.9 L395.0 481.6 L394.5 481.4 L393.5 481.1 L393.0 480.9 L392.0 480.8 L391.0 480.8 L390.0 480.8 L389.0 480.8 L388.0 480.8 L387.0 480.9 L386.5 481.1 L385.5 481.4 L385.0 481.6 L384.0 481.9 L383.5 482.1 L382.7 482.5 L382.1 483.0 L381.6 483.5 L381.0 483.9 L380.5 484.1 L380.0 483.6 L379.5 483.1 L379.0 482.6 L378.5 482.1 L378.0 481.6 L377.5 481.1 L377.0 480.9 L376.4 480.5 L375.8 480.0 L375.0 479.6 L374.5 479.4 L373.8 479.0 L373.0 478.8 L372.3 478.5 L371.5 478.3 L370.8 478.0 L370.0 477.8 L369.0 477.8 L368.3 477.5 L368.2 476.5 L368.2 475.5 L368.2 474.5 L368.2 473.5 L368.2 472.5 L368.2 471.5 L368.1 470.5 L367.9 470.0 L367.6 469.0 L367.4 468.5 L367.1 467.5 L367.5 466.9 L368.0 466.4 L369.0 466.2 L369.8 466.0 L370.5 465.7 L371.3 465.5 L372.0 465.1 L372.5 464.9 L373.0 464.4 L373.8 464.0 L374.4 463.5 L374.9 463.0 L375.4 462.5 L375.9 462.0 L376.4 461.5 L376.9 461.0 L377.1 460.5 L377.5 459.9 L378.0 459.3 L378.2 458.5 L378.5 457.8 L378.9 457.0 L379.1 456.5 L379.2 455.5 L379.2 454.5 L379.2 453.5 L379.2 452.5 L379.2 451.5 L379.2 450.5 L379.2 449.5 L379.0 448.7 L378.7 448.0 L378.5 447.2 L378.1 446.5 L377.9 446.0 L377.5 445.2 L377.0 444.6 L376.6 444.0 L376.4 443.5 L375.9 443.0 L375.4 442.5 L374.9 442.0 L374.3 441.5 L373.5 441.1 L373.0 440.6 L372.5 440.4 L371.8 440.0 L371.0 439.6 L370.5 439.4 L369.5 439.1 L369.0 438.9 L368.0 438.8 L367.0 438.8 L366.0 438.8 L365.0 438.6 L364.5 438.1 L364.0 437.6 L363.5 437.1 L363.0 436.6 L362.5 436.1 L362.0 435.6 L361.5 435.1 L361.0 434.6 L360.6 434.0 L360.4 433.5 L359.9 433.0 L359.4 432.5 L358.9 432.0 L358.3 431.5 L357.5 431.1 L357.0 430.6 L356.5 430.4 L355.5 430.1 L355.0 429.9 L354.0 429.8 L353.0 429.8 L352.0 429.8 L351.0 429.8 L350.2 430.0 L349.5 430.3 L348.7 430.5 L348.1 431.0 L347.5 431.4 L347.0 431.6 L346.5 432.1 L346.0 432.6 L345.5 433.2 L345.1 434.0 L344.6 434.5 L344.4 435.0 L344.1 436.0 L343.9 436.5 L343.8 437.5 L343.8 438.5 L343.8 439.5 L343.8 440.5 L344.0 441.3 L344.3 442.0 L344.5 442.8 L345.0 443.4 L345.4 444.0 L345.6 444.5 L346.1 445.0 L346.6 445.5 L347.1 446.0 L347.6 446.5 L348.1 447.0 L348.6 447.5 L349.1 448.0 L349.6 448.5 L350.1 449.0 L350.5 449.8 L351.0 450.4 L351.5 450.9 L351.8 451.5 L351.8 452.5 L351.8 453.5 L351.8 454.5 L351.8 455.5 L351.9 456.5 L352.1 457.0 L352.0 457.6 L351.5 458.2 L350.5 458.3 L349.7 458.5 L349.0 458.8 L348.0 458.9 L347.5 459.1 L346.5 459.4 L346.0 459.6 L345.2 460.0 L344.5 460.4 L344.0 460.6 L343.5 461.1 L342.7 461.5 L342.1 462.0 L341.6 462.5 L341.1 463.0 L340.5 463.3 L339.5 463.3 L338.5 463.3 L337.5 463.1 L337.0 462.6 L336.5 462.1 L336.0 461.6 L335.5 461.1 L335.0 460.9 L334.3 460.5 L333.5 460.1 L333.0 459.9 L332.3 459.5 L331.5 459.3 L330.8 459.0 L330.0 458.8 L329.0 458.6 L328.5 458.4 L327.5 458.3 L326.5 458.3 L326.0 457.7 L325.5 457.1 L325.1 456.5 L324.9 456.0 L324.4 455.5 L324.0 454.7 L323.5 454.1 L323.1 453.5 L322.9 453.0 L322.4 452.5 L322.2 451.5 L322.4 450.5 L322.6 450.0 L322.7 449.0 L322.7 448.0 L322.7 447.0 L322.7 446.0 L322.6 445.0 L323.0 444.4 L323.5 443.9 L324.0 443.4 L324.5 442.8 L324.9 442.0 L325.4 441.5 L325.9 441.0 L326.4 440.5 L327.0 440.2 L328.0 440.2 L329.0 440.2 L330.0 440.2 L330.8 440.0 L331.5 439.7 L332.3 439.5 L333.0 439.2 L333.8 439.0 L334.4 438.5 L335.0 438.1 L335.5 437.9 L336.0 437.4 L336.5 436.9 L337.0 436.4 L337.5 435.9 L338.0 435.4 L338.5 434.9 L339.0 434.3 L339.4 433.5 L339.9 433.0 L340.1 432.5 L340.5 431.8 L340.7 431.0 L341.0 430.3 L341.2 429.5 L341.2 428.5 L341.2 427.5 L341.2 426.5 L341.2 425.5 L341.2 424.5 L341.2 423.5 L341.1 422.5 L340.9 422.0 L340.6 421.0 L340.4 420.5 L340.0 419.7 L339.6 419.0 L339.4 418.5 L338.9 418.0 L338.5 417.2 L338.0 416.6 L337.5 416.1 L337.0 415.6 L336.5 415.1 L336.0 414.6 L335.5 414.4 L334.9 414.0 L334.3 413.5 L333.5 413.1 L333.0 412.9 L332.0 412.6 L331.5 412.4 L330.5 412.3 L329.8 412.0 L329.0 411.8 L328.0 411.8 L327.0 411.8 L326.0 411.8 L325.0 411.8 L324.2 412.0 L323.5 412.3 L322.7 412.5 L322.0 412.8 L321.2 413.0 L320.5 413.4 L320.0 413.6 L319.5 414.1 L318.7 414.5 L318.1 415.0 L317.6 415.5 L317.1 416.0 L316.6 416.5 L316.1 417.0 L315.6 417.5 L315.4 418.0 L315.0 418.6 L314.5 419.2 L314.1 420.0 L313.9 420.5 L313.6 421.5 L313.4 422.0 L313.3 423.0 L313.1 424.0 L312.9 424.5 L312.8 425.5 L312.8 426.5 L312.8 427.5 L313.0 428.3 L313.0 428.6 L312.5 429.1 L312.0 429.6 L311.5 430.1 L311.0 430.6 L310.5 431.1 L310.0 431.6 L309.5 432.1 L309.0 432.7 L308.0 432.8 L307.0 432.8 L306.0 432.8 L305.2 433.0 L304.5 433.3 L303.5 433.4 L303.0 433.6 L302.2 434.0 L301.5 434.4 L301.0 434.6 L300.2 435.0 L299.6 435.5 L299.1 436.0 L298.6 436.5 L298.1 437.0 L297.6 437.5 L297.0 437.9 L296.0 437.6 L295.5 437.4 L294.5 437.3 L293.5 437.3 L292.5 437.3 L291.5 437.3 L290.5 437.3 L289.5 437.3 L288.7 437.5 L288.0 437.9 L287.5 438.1 L286.7 438.5 L286.1 439.0 L285.5 439.4 L285.0 439.6 L284.5 440.1 L284.0 440.7 L283.6 441.5 L283.1 442.0 L282.9 442.5 L282.5 443.2 L282.1 444.0 L281.9 444.5 L281.8 445.5 L281.5 446.2 L281.3 447.0 L281.3 448.0 L281.3 449.0 L281.5 449.8 L281.8 450.5 L281.9 451.5 L282.1 452.0 L282.5 452.8 L282.9 453.5 L283.1 454.0 L283.6 454.5 L284.0 455.3 L284.5 455.9 L285.0 456.4 L285.5 456.6 L286.1 457.0 L286.7 457.5 L287.5 457.9 L288.0 458.1 L288.7 458.5 L289.5 458.7 L290.5 458.7 L291.5 458.7 L292.5 458.7 L293.5 458.7 L294.5 458.7 L295.5 458.6 L296.0 458.4 L297.0 458.1 L297.5 457.9 L298.5 457.9 L299.0 458.4 L299.5 458.9 L300.0 459.4 L300.5 459.6 L301.2 460.0 L302.0 460.4 L302.5 460.6 L303.2 461.0 L304.0 461.2 L304.7 461.5 L305.5 461.7 L306.5 461.7 L307.1 462.0 L307.5 462.8 L308.0 463.4 L308.4 464.0 L308.6 464.5 L309.1 465.0 L309.5 465.8 L310.0 466.4 L310.4 467.0 L310.6 467.5 L311.1 468.0 L311.0 468.7 L310.8 469.5 L310.6 470.5 L310.4 471.0 L310.3 472.0 L310.3 473.0 L310.3 474.0 L310.3 475.0 L310.3 476.0 L310.3 477.0 L310.0 477.8 L309.0 477.8 L308.0 477.9 L307.5 478.1 L306.5 478.4 L306.0 478.6 L305.0 478.9 L304.5 479.1 L303.7 479.5 L303.1 480.0 L302.5 480.4 L302.0 480.6 L301.5 481.1 L300.7 481.5 L300.1 482.0 L299.6 482.5 L299.1 483.0 L298.6 483.5 L298.1 484.0 L297.6 484.5 L297.1 485.0 L296.9 485.5 L296.5 486.1 L296.0 486.7 L295.5 487.3 L294.5 487.1 L294.0 486.9 L293.0 486.8 L292.0 486.8 L291.0 486.9 L290.5 487.1 L289.5 487.3 L288.7 487.5 L288.0 487.9 L287.5 488.1 L286.7 488.5 L286.1 489.0 L285.6 489.5 L285.1 490.0 L284.6 490.5 L284.1 491.0 L283.6 491.5 L283.4 492.0 L283.0 492.7 L282.6 493.5 L282.4 494.0 L282.3 495.0 L282.0 495.7 L281.8 496.5 L281.8 497.5 L281.8 498.5 L282.0 499.3 L282.3 500.0 L282.4 501.0 L282.6 501.5 L283.0 502.3 L283.4 503.0 L283.6 503.5 L284.1 504.0 L284.5 504.8 L285.0 505.4 L285.5 505.6 L286.1 506.0 L286.6 506.5 L287.2 507.0 L288.0 507.4 L288.5 507.6 L289.5 507.9 L290.0 508.1 L291.0 508.2 L292.0 508.2 L293.0 508.2 L294.0 508.2 L295.0 508.1 L295.5 507.9 L296.1 508.0 L296.5 508.8 L297.0 509.4 L297.5 509.9 L297.9 510.5 L298.1 511.0 L298.6 511.5 L299.1 512.0 L299.7 512.5 L300.5 512.9 L301.0 513.4 L301.5 513.9 L302.0 514.1 L302.6 514.5 L303.2 515.0 L304.0 515.4 L304.5 515.6 L305.2 516.0 L306.0 516.2 L306.7 516.5 L307.5 516.7 L308.5 516.9 L309.0 517.1 L310.0 517.2 L311.0 517.2 L311.6 517.5 L312.1 518.0 L312.5 518.8 L312.9 519.5 L313.1 520.0 L313.1 521.0 L312.9 521.5 L312.5 522.1 L312.0 522.7 L311.6 523.5 L311.0 523.8 L310.0 523.8 L309.0 523.8 L308.2 524.0 L307.5 524.3 L306.5 524.4 L306.0 524.6 L305.2 525.0 L304.5 525.4 L304.0 525.6 L303.2 526.0 L302.5 526.4 L302.0 526.6 L301.5 527.1 L301.0 527.6 L300.2 528.0 L299.6 528.5 L299.1 529.0 L298.6 529.5 L298.1 530.0 L297.6 530.5 L297.4 531.0 L297.0 531.6 L296.5 532.1 L295.8 532.0 L295.0 531.6 L294.5 531.4 L293.8 531.0 L293.0 530.8 L292.0 530.6 L291.5 530.4 L290.5 530.3 L289.5 530.3 L288.5 530.3 L287.5 530.3 L286.5 530.4 L286.0 530.6 L285.0 530.8 L284.2 531.0 L283.5 531.4 L283.0 531.6 L282.2 532.0 L281.5 532.4 L281.0 532.6 L280.5 533.1 L280.0 533.6 L279.2 534.0 L278.6 534.5 L278.4 535.0 L278.0 535.6 L277.5 536.1 L277.0 536.7 L276.6 537.5 L276.1 538.0 L275.9 538.5 L275.6 539.5 L275.4 540.0 L275.1 541.0 L274.9 541.5 L274.8 542.5 L274.8 543.5 L274.8 544.5 L274.8 545.5 L274.8 546.5 L274.9 547.5 L275.1 548.0 L275.3 549.0 L275.5 549.8 L275.9 550.5 L276.1 551.0 L276.5 551.8 L277.0 552.4 L277.4 553.0 L277.6 553.5 L278.1 554.0 L278.6 554.5 L279.1 555.0 L279.6 555.5 L280.2 556.0 L281.0 556.4 L281.5 556.9 L282.0 557.1 L282.7 557.5 L283.5 557.9 L284.0 558.1 L285.0 558.4 L285.5 558.6 L286.5 558.7 L287.5 558.7 L288.5 558.7 L289.5 558.7 L290.5 558.7 L291.5 558.7 L292.5 558.6 L293.0 558.4 L294.0 558.1 L294.5 557.9 L295.3 557.5 L296.0 557.1 L296.5 556.9 L297.0 556.4 L297.6 556.5 L298.1 557.0 L298.6 557.5 L299.1 558.0 L299.6 558.5 L300.2 559.0 L301.0 559.4 L301.5 559.9 L302.0 560.4 L302.5 560.6 L303.2 561.0 L304.0 561.4 L304.5 561.6 L305.2 562.0 L306.0 562.4 L306.5 562.6 L307.5 562.7 L308.2 563.0 L309.0 563.2 L310.0 563.2 L311.0 563.2 L311.6 563.5 L312.0 564.3 L312.5 564.9 L312.9 565.5 L313.1 566.0 L313.1 567.0 L312.9 567.5 L312.5 568.2 L312.1 569.0 L311.6 569.5 L311.0 569.8 L310.0 569.8 L309.0 569.9 L308.5 570.1 L307.5 570.3 L306.7 570.5 L306.0 570.8 L305.2 571.0 L304.5 571.4 L304.0 571.6 L303.2 572.0 L302.6 572.5 L302.0 572.9 L301.5 573.1 L301.0 573.6 L300.5 574.1 L299.7 574.5 L299.1 575.0 L298.6 575.5 L298.1 576.0 L297.9 576.5 L297.5 577.1 L297.0 577.6 L296.5 578.2 L296.1 579.0 L295.5 579.3 L294.5 579.3 L293.5 579.3 L292.5 579.3 L291.7 579.5 L291.0 579.8 L290.2 580.0 L289.5 580.4 L289.0 580.6 L288.2 581.0 L287.6 581.5 L287.1 582.0 L286.6 582.5 L286.1 583.0 L285.6 583.5 L285.4 584.0 L285.0 584.7 L284.6 585.5 L284.4 586.0 L284.0 586.7 L283.8 587.5 L283.8 588.5 L283.8 589.5 L283.8 590.5 L283.8 591.5 L283.8 592.5 L284.0 593.3 L284.4 594.0 L284.6 594.5 L285.0 595.3 L285.4 596.0 L285.6 596.5 L286.1 597.0 L286.6 597.5 L287.1 598.0 L287.6 598.5 L288.2 599.0 L289.0 599.4 L289.5 599.6 L290.2 600.0 L291.0 600.2 L291.7 600.5 L292.5 600.7 L293.5 600.7 L294.5 600.7 L295.5 600.7 L296.5 600.9 L296.9 601.5 L297.1 602.0 L297.6 602.5 L298.1 603.0 L298.6 603.5 L299.1 604.0 L299.6 604.5 L300.1 605.0 L300.7 605.5 L301.5 605.9 L302.0 606.4 L302.5 606.6 L303.1 607.0 L303.7 607.5 L304.5 607.9 L305.0 608.1 L306.0 608.4 L306.4 609.0 L306.3 610.0 L306.3 611.0 L306.3 612.0 L306.3 613.0 L306.3 614.0 L306.3 615.0 L306.3 616.0 L306.5 616.8 L306.8 617.5 L306.9 618.5 L307.1 619.0 L307.4 620.0 L307.6 620.5 L308.0 621.3 L308.4 622.0 L308.6 622.5 L309.0 623.3 L309.1 624.0 L308.9 624.5 L308.5 625.2 L308.3 626.0 L308.0 626.7 L307.8 627.5 L307.8 628.5 L307.8 629.5 L307.8 630.5 L307.8 631.5 L307.9 632.5 L308.1 633.0 L308.4 634.0 L308.6 634.5 L309.0 635.3 L309.5 635.9 L310.0 636.4 L310.4 637.0 L310.6 637.5 L311.2 638.0 L312.0 638.4 L312.5 638.9 L313.0 639.1 L313.7 639.5 L314.5 639.9 L315.0 640.1 L316.0 640.2 L317.0 640.2 L318.0 640.2 L319.0 640.2 L320.0 640.2 L321.0 640.2 L321.8 640.0Z M340.5 509.0 L339.5 509.1 L338.5 509.1 L337.8 509.0 L337.0 508.8 L336.0 508.6 L335.5 508.5 L334.5 508.1 L334.0 507.8 L333.4 507.5 L332.6 507.0 L332.0 506.5 L331.5 506.1 L331.0 505.6 L330.5 505.1 L330.0 504.5 L329.7 504.0 L329.3 503.5 L329.0 502.9 L328.6 502.0 L328.3 501.5 L328.0 500.5 L327.9 500.0 L327.7 499.0 L327.6 498.0 L327.6 497.0 L327.7 496.0 L327.8 495.0 L328.0 494.4 L328.3 493.5 L328.5 492.9 L328.9 492.0 L329.2 491.5 L329.5 491.0 L330.0 490.3 L330.5 489.7 L331.0 489.2 L331.5 488.7 L332.0 488.3 L332.5 487.9 L333.1 487.5 L333.9 487.0 L334.5 486.7 L335.1 486.5 L336.0 486.2 L336.7 486.0 L337.5 485.8 L338.5 485.7 L339.5 485.7 L340.5 485.8 L341.5 485.9 L342.0 486.0 L343.0 486.3 L343.5 486.5 L344.5 486.9 L345.0 487.2 L345.5 487.5 L346.3 488.0 L346.9 488.5 L347.4 489.0 L347.9 489.5 L348.3 490.0 L348.7 490.5 L349.1 491.0 L349.5 491.7 L349.9 492.5 L350.1 493.0 L350.5 494.0 L350.6 494.5 L350.8 495.5 L351.0 496.5 L351.0 497.5 L350.9 498.5 L350.8 499.5 L350.6 500.5 L350.4 501.0 L350.1 502.0 L349.8 502.5 L349.5 503.1 L349.0 503.9 L348.6 504.5 L348.2 505.0 L347.7 505.5 L347.2 506.0 L346.7 506.5 L346.0 507.0 L345.5 507.3 L345.0 507.6 L344.2 508.0 L343.5 508.3 L343.0 508.5 L342.0 508.8 L341.0 509.0 L340.5 509.0Z M342.5 556.1 L341.5 556.3 L340.5 556.4 L339.5 556.5 L338.5 556.5 L337.5 556.4 L336.5 556.2 L335.7 556.0 L335.0 555.8 L334.3 555.5 L333.5 555.1 L333.0 554.9 L332.4 554.5 L331.6 554.0 L331.0 553.5 L330.5 553.1 L330.0 552.6 L329.5 552.0 L329.1 551.5 L328.7 551.0 L328.3 550.5 L328.0 549.9 L327.5 549.0 L327.3 548.5 L327.0 547.7 L326.8 547.0 L326.6 546.0 L326.5 545.5 L326.3 544.5 L326.3 543.5 L326.3 542.5 L326.5 541.5 L326.6 541.0 L326.8 540.0 L327.0 539.3 L327.3 538.5 L327.5 538.0 L328.0 537.1 L328.3 536.5 L328.7 536.0 L329.1 535.5 L329.5 535.0 L330.0 534.4 L330.5 533.9 L331.0 533.5 L331.6 533.0 L332.4 532.5 L333.0 532.1 L333.5 531.9 L334.3 531.5 L335.0 531.2 L335.7 531.0 L336.5 530.8 L337.5 530.6 L338.5 530.5 L339.5 530.5 L340.5 530.6 L341.5 530.7 L342.5 530.9 L343.0 531.0 L344.0 531.4 L344.5 531.6 L345.4 532.0 L346.0 532.4 L346.5 532.7 L347.0 533.0 L347.6 533.5 L348.2 534.0 L348.7 534.5 L349.1 535.0 L349.5 535.5 L350.0 536.1 L350.5 536.9 L350.8 537.5 L351.1 538.0 L351.5 539.0 L351.7 539.5 L351.9 540.5 L352.1 541.0 L352.2 542.0 L352.3 543.0 L352.3 544.0 L352.2 545.0 L352.1 546.0 L351.9 546.5 L351.7 547.5 L351.5 548.0 L351.1 549.0 L350.8 549.5 L350.5 550.1 L350.0 550.9 L349.5 551.5 L349.1 552.0 L348.7 552.5 L348.2 553.0 L347.6 553.5 L347.0 554.0 L346.5 554.3 L346.0 554.6 L345.4 555.0 L344.5 555.4 L344.0 555.6 L343.0 556.0 L342.5 556.1Z M341.5 601.1 L340.5 601.2 L339.5 601.3 L338.5 601.3 L337.5 601.2 L336.7 601.0 L336.0 600.8 L335.1 600.5 L334.5 600.3 L333.9 600.0 L333.1 599.5 L332.5 599.1 L332.0 598.7 L331.5 598.3 L331.0 597.8 L330.5 597.3 L330.0 596.7 L329.5 596.0 L329.2 595.5 L328.9 595.0 L328.5 594.1 L328.3 593.5 L328.0 592.6 L327.8 592.0 L327.7 591.0 L327.6 590.0 L327.6 589.0 L327.7 588.0 L327.9 587.0 L328.0 586.5 L328.3 585.5 L328.6 585.0 L329.0 584.1 L329.3 583.5 L329.7 583.0 L330.0 582.5 L330.5 581.9 L331.0 581.4 L331.5 580.9 L332.0 580.5 L332.6 580.0 L333.4 579.5 L334.0 579.2 L334.5 578.9 L335.5 578.5 L336.0 578.4 L337.0 578.2 L337.8 578.0 L338.5 577.9 L339.5 577.9 L340.5 578.0 L341.0 578.0 L342.0 578.2 L343.0 578.5 L343.5 578.7 L344.2 579.0 L345.0 579.4 L345.5 579.7 L346.0 580.0 L346.7 580.5 L347.2 581.0 L347.7 581.5 L348.2 582.0 L348.6 582.5 L349.0 583.1 L349.5 583.9 L349.8 584.5 L350.1 585.0 L350.4 586.0 L350.6 586.5 L350.8 587.5 L350.9 588.5 L351.0 589.5 L351.0 590.5 L350.8 591.5 L350.6 592.5 L350.5 593.0 L350.1 594.0 L349.9 594.5 L349.5 595.3 L349.1 596.0 L348.7 596.5 L348.3 597.0 L347.9 597.5 L347.4 598.0 L346.9 598.5 L346.3 599.0 L345.5 599.5 L345.0 599.8 L344.5 600.1 L343.5 600.5 L343.0 600.7 L342.0 601.0 L341.5 601.1Z" fill="#f6e420" fill-rule="evenodd"/>
<path d="M321.8 639.0 L322.5 638.7 L323.0 638.4 L323.8 638.0 L324.5 637.7 L325.0 637.2 L325.5 636.7 L326.0 636.2 L326.4 635.5 L326.7 635.0 L327.0 634.3 L327.4 633.5 L327.7 633.0 L327.9 632.0 L328.5 631.9 L329.3 631.5 L330.0 631.4 L331.0 631.4 L331.8 631.0 L332.5 630.9 L333.3 630.5 L334.0 630.2 L334.5 629.9 L335.3 629.5 L336.0 629.2 L336.5 628.7 L337.0 628.4 L337.7 628.0 L338.2 627.5 L338.7 627.0 L339.5 626.7 L340.0 627.2 L340.5 627.7 L341.0 628.2 L341.7 628.5 L342.3 629.0 L343.0 629.4 L343.5 629.7 L344.2 630.0 L345.0 630.4 L345.7 630.5 L346.5 630.9 L347.2 631.0 L348.0 631.4 L349.0 631.4 L349.7 631.5 L350.5 631.9 L351.5 631.9 L352.5 631.9 L353.5 631.9 L354.5 631.9 L355.0 632.3 L355.3 633.0 L355.6 633.5 L356.0 634.3 L356.3 635.0 L356.8 635.5 L357.3 636.0 L357.8 636.5 L358.5 636.9 L359.0 637.2 L359.7 637.5 L360.5 637.9 L361.0 638.2 L362.0 638.4 L363.0 638.4 L364.0 638.4 L365.0 638.4 L366.0 638.4 L367.0 638.4 L367.8 638.0 L368.5 637.7 L369.0 637.4 L369.7 637.0 L370.3 636.5 L371.0 636.2 L371.4 635.5 L371.7 635.0 L372.2 634.5 L372.7 634.0 L373.0 633.3 L373.4 632.5 L373.5 631.8 L373.9 631.0 L373.9 630.0 L373.9 629.0 L373.9 628.0 L373.9 627.0 L373.7 626.0 L373.4 625.5 L373.2 624.5 L372.9 624.0 L372.5 623.3 L372.0 622.8 L371.5 622.3 L371.0 621.8 L370.5 621.3 L370.0 620.7 L370.0 620.3 L370.4 619.5 L370.7 619.0 L370.9 618.0 L371.0 617.3 L371.4 616.5 L371.4 615.5 L371.4 614.5 L371.4 613.5 L371.4 612.5 L371.4 611.5 L371.4 610.5 L371.4 609.5 L371.2 608.5 L370.9 608.0 L371.5 607.9 L372.3 607.5 L373.0 607.4 L373.8 607.0 L374.5 606.7 L375.0 606.4 L375.7 606.0 L376.3 605.5 L377.0 605.2 L377.5 604.7 L378.0 604.2 L378.5 603.7 L379.0 603.2 L379.5 602.7 L380.0 602.2 L380.5 601.7 L381.0 601.2 L381.4 600.5 L381.7 600.0 L382.2 599.5 L382.5 598.8 L382.9 598.0 L383.5 597.9 L384.2 598.0 L385.0 598.4 L386.0 598.4 L387.0 598.4 L388.0 598.4 L389.0 598.2 L389.5 597.9 L390.5 597.7 L391.0 597.4 L391.8 597.0 L392.5 596.7 L393.0 596.2 L393.5 595.7 L394.0 595.2 L394.5 594.7 L394.9 594.0 L395.2 593.5 L395.7 593.0 L395.9 592.0 L396.2 591.5 L396.4 590.5 L396.4 589.5 L396.4 588.5 L396.4 587.5 L396.4 586.5 L396.2 585.5 L395.9 585.0 L395.7 584.0 L395.2 583.5 L394.9 583.0 L394.5 582.3 L394.0 581.8 L393.5 581.3 L393.0 580.8 L392.5 580.3 L391.8 580.0 L391.0 579.6 L390.5 579.3 L389.5 579.1 L389.0 578.8 L388.0 578.6 L387.0 578.6 L386.0 578.6 L385.0 578.6 L384.2 579.0 L383.5 579.1 L382.7 579.5 L382.0 579.7 L381.7 579.0 L381.2 578.5 L380.9 578.0 L380.5 577.3 L380.0 576.8 L379.5 576.3 L379.0 575.8 L378.5 575.3 L378.0 574.8 L377.3 574.5 L376.7 574.0 L376.2 573.5 L375.5 573.1 L375.0 572.8 L374.3 572.5 L373.5 572.1 L373.0 571.8 L372.0 571.6 L371.5 571.3 L370.5 571.1 L369.8 571.0 L369.0 570.6 L368.0 570.6 L367.0 570.6 L366.4 570.5 L366.0 569.7 L365.7 569.0 L365.2 568.5 L364.9 568.0 L364.5 567.2 L364.2 566.5 L364.5 565.8 L365.0 565.2 L365.4 564.5 L365.7 564.0 L366.0 563.3 L366.4 562.5 L367.0 562.4 L368.0 562.4 L369.0 562.4 L370.0 562.2 L370.5 561.9 L371.5 561.9 L372.3 561.5 L373.0 561.2 L373.5 560.9 L374.3 560.5 L375.0 560.2 L375.5 559.9 L376.2 559.5 L376.8 559.0 L377.5 558.7 L378.0 558.2 L378.5 557.7 L379.0 557.2 L379.5 556.7 L380.0 556.2 L380.5 555.7 L380.9 555.0 L381.2 554.5 L381.7 554.0 L382.3 554.0 L383.0 554.4 L383.5 554.7 L384.0 555.2 L384.7 555.5 L385.5 555.9 L386.0 556.2 L387.0 556.4 L387.5 556.7 L388.5 556.9 L389.5 556.9 L390.5 556.9 L391.5 556.9 L392.5 556.9 L393.5 556.9 L394.5 556.7 L395.0 556.4 L396.0 556.2 L396.5 555.9 L397.3 555.5 L398.0 555.2 L398.5 554.7 L399.0 554.4 L399.7 554.0 L400.2 553.5 L400.7 553.0 L401.2 552.5 L401.7 552.0 L402.0 551.3 L402.5 550.7 L402.9 550.0 L403.2 549.5 L403.5 548.8 L403.9 548.0 L403.9 547.0 L404.2 546.5 L404.4 545.5 L404.4 544.5 L404.4 543.5 L404.4 542.5 L404.4 541.5 L404.2 540.5 L403.9 540.0 L403.7 539.0 L403.4 538.5 L403.2 537.5 L402.7 537.0 L402.4 536.5 L402.0 535.8 L401.5 535.3 L401.0 534.7 L400.7 534.0 L400.0 533.6 L399.5 533.3 L399.0 532.8 L398.5 532.3 L397.8 532.0 L397.0 531.6 L396.5 531.3 L395.8 531.0 L395.0 530.6 L394.0 530.6 L393.5 530.3 L392.5 530.1 L391.5 530.1 L390.5 530.1 L389.5 530.1 L388.5 530.3 L388.0 530.6 L387.0 530.6 L386.2 531.0 L385.5 531.3 L385.0 531.6 L384.2 532.0 L383.5 532.3 L383.0 532.8 L382.5 533.3 L382.0 533.6 L381.7 533.0 L381.2 532.5 L380.9 532.0 L380.5 531.3 L380.0 530.8 L379.5 530.3 L379.0 529.8 L378.5 529.3 L378.0 528.8 L377.5 528.3 L376.8 528.0 L376.2 527.5 L375.5 527.1 L375.0 526.8 L374.3 526.5 L373.5 526.1 L373.0 525.8 L372.3 525.5 L371.5 525.1 L370.5 525.1 L370.0 524.8 L369.0 524.6 L368.0 524.6 L367.0 524.6 L366.4 524.5 L366.0 523.7 L365.7 523.0 L365.4 522.5 L365.0 521.8 L364.5 521.2 L364.2 520.5 L364.5 519.8 L364.9 519.0 L365.2 518.5 L365.7 518.0 L366.0 517.3 L366.4 516.5 L367.0 516.4 L368.0 516.4 L369.0 516.4 L369.8 516.0 L370.5 515.9 L371.5 515.7 L372.0 515.4 L373.0 515.2 L373.5 514.9 L374.3 514.5 L375.0 514.2 L375.5 513.9 L376.2 513.5 L376.7 513.0 L377.3 512.5 L378.0 512.2 L378.5 511.7 L379.0 511.2 L379.5 510.7 L380.0 510.2 L380.5 509.7 L380.9 509.0 L381.2 508.5 L381.7 508.0 L382.0 507.3 L382.4 506.5 L382.7 506.5 L383.5 506.9 L384.0 507.2 L385.0 507.4 L385.5 507.8 L385.8 508.5 L386.1 509.0 L386.3 510.0 L386.6 510.5 L386.8 511.5 L386.6 512.5 L386.6 513.5 L386.6 514.5 L386.6 515.5 L386.6 516.5 L387.0 517.3 L387.1 518.0 L387.5 518.8 L387.8 519.5 L388.3 520.0 L388.8 520.5 L389.3 521.0 L389.8 521.5 L390.3 522.0 L390.8 522.5 L391.5 522.9 L392.0 523.2 L393.0 523.4 L393.5 523.7 L394.5 523.9 L395.5 523.9 L396.5 523.9 L397.5 523.9 L398.5 523.9 L399.3 523.5 L400.0 523.4 L400.8 523.0 L401.5 522.7 L402.0 522.2 L402.5 521.7 L403.0 521.4 L403.7 521.0 L404.0 520.3 L404.5 519.7 L404.9 519.0 L405.2 518.5 L405.5 517.8 L405.9 517.0 L405.9 516.0 L405.9 515.0 L405.9 514.0 L405.9 513.0 L405.9 512.0 L405.7 511.0 L405.4 510.5 L405.0 509.7 L404.7 509.0 L404.4 508.5 L404.0 507.8 L403.5 507.3 L403.0 506.8 L402.5 506.2 L402.2 505.5 L401.9 505.0 L401.7 504.0 L401.4 503.5 L401.2 502.5 L401.7 502.0 L402.0 501.3 L402.4 500.5 L402.5 499.8 L402.9 499.0 L403.0 498.3 L403.4 497.5 L403.4 496.5 L403.4 495.5 L403.4 494.5 L403.4 493.5 L403.4 492.5 L403.0 491.7 L402.9 491.0 L402.5 490.2 L402.4 489.5 L402.0 488.7 L401.7 488.0 L401.2 487.5 L400.7 487.0 L400.4 486.5 L400.0 485.8 L399.5 485.3 L399.0 484.8 L398.3 484.5 L397.7 484.0 L397.2 483.5 L396.5 483.1 L396.0 482.8 L395.0 482.6 L394.5 482.3 L393.5 482.1 L393.0 481.8 L392.0 481.6 L391.0 481.6 L390.0 481.6 L389.0 481.6 L388.0 481.6 L387.0 481.8 L386.5 482.1 L385.5 482.3 L385.0 482.6 L384.0 482.8 L383.5 483.1 L382.8 483.5 L382.3 484.0 L381.7 484.5 L381.0 484.8 L380.5 485.3 L380.0 484.8 L379.5 484.3 L379.0 483.8 L378.5 483.3 L378.0 482.8 L377.5 482.3 L377.0 481.8 L376.3 481.5 L375.7 481.0 L375.0 480.6 L374.5 480.3 L373.8 480.0 L373.0 479.6 L372.3 479.5 L371.5 479.1 L370.8 479.0 L370.0 478.6 L369.0 478.6 L368.3 478.5 L367.5 478.1 L367.4 477.5 L367.4 476.5 L367.4 475.5 L367.4 474.5 L367.4 473.5 L367.4 472.5 L367.4 471.5 L367.2 470.5 L366.9 470.0 L366.7 469.0 L366.4 468.5 L366.2 467.5 L366.5 466.8 L367.0 466.2 L367.5 465.7 L368.0 465.4 L369.0 465.4 L369.8 465.0 L370.5 464.9 L371.3 464.5 L372.0 464.2 L372.5 463.7 L373.0 463.4 L373.7 463.0 L374.2 462.5 L374.7 462.0 L375.2 461.5 L375.7 461.0 L376.2 460.5 L376.5 459.8 L377.0 459.2 L377.4 458.5 L377.5 457.8 L377.9 457.0 L378.2 456.5 L378.4 455.5 L378.4 454.5 L378.4 453.5 L378.4 452.5 L378.4 451.5 L378.4 450.5 L378.4 449.5 L378.0 448.7 L377.9 448.0 L377.5 447.2 L377.2 446.5 L376.9 446.0 L376.5 445.3 L376.0 444.7 L375.7 444.0 L375.2 443.5 L374.7 443.0 L374.2 442.5 L373.5 442.1 L373.0 441.8 L372.5 441.3 L371.8 441.0 L371.0 440.6 L370.5 440.3 L369.5 440.1 L369.0 439.8 L368.0 439.6 L367.0 439.6 L366.0 439.6 L365.0 439.6 L364.5 439.3 L364.0 438.8 L363.5 438.3 L363.0 437.8 L362.5 437.3 L362.0 436.8 L361.5 436.3 L361.0 435.8 L360.5 435.3 L360.0 434.7 L359.7 434.0 L359.2 433.5 L358.7 433.0 L358.2 432.5 L357.5 432.1 L357.0 431.8 L356.5 431.3 L355.5 431.1 L355.0 430.8 L354.0 430.6 L353.0 430.6 L352.0 430.6 L351.0 430.6 L350.2 431.0 L349.5 431.1 L348.8 431.5 L348.2 432.0 L347.5 432.3 L347.0 432.8 L346.5 433.3 L346.1 434.0 L345.8 434.5 L345.3 435.0 L345.1 436.0 L344.8 436.5 L344.6 437.5 L344.6 438.5 L344.6 439.5 L344.6 440.5 L345.0 441.3 L345.1 442.0 L345.5 442.7 L346.0 443.3 L346.3 444.0 L346.8 444.5 L347.3 445.0 L347.8 445.5 L348.3 446.0 L348.8 446.5 L349.3 447.0 L349.8 447.5 L350.3 448.0 L350.8 448.5 L351.1 449.0 L351.5 449.7 L352.0 450.2 L352.5 450.8 L352.6 451.5 L352.6 452.5 L352.6 453.5 L352.6 454.5 L352.6 455.5 L352.8 456.5 L353.1 457.0 L353.0 457.7 L352.5 458.3 L352.1 459.0 L351.5 459.1 L350.5 459.1 L349.7 459.5 L349.0 459.6 L348.0 459.8 L347.5 460.1 L346.5 460.3 L346.0 460.6 L345.2 461.0 L344.5 461.3 L344.0 461.8 L343.5 462.1 L342.8 462.5 L342.3 463.0 L341.8 463.5 L341.2 464.0 L340.5 464.1 L339.5 464.1 L338.5 464.1 L337.5 464.1 L337.0 463.8 L336.5 463.3 L336.0 462.8 L335.5 462.3 L335.0 461.8 L334.3 461.5 L333.5 461.1 L333.0 460.8 L332.3 460.5 L331.5 460.1 L330.8 460.0 L330.0 459.6 L329.0 459.6 L328.5 459.3 L327.5 459.1 L326.5 459.1 L325.8 459.0 L325.4 458.5 L325.0 457.8 L324.5 457.2 L324.2 456.5 L323.7 456.0 L323.4 455.5 L323.0 454.8 L322.5 454.2 L322.2 453.5 L321.7 453.0 L321.4 452.5 L321.4 451.5 L321.4 450.5 L321.7 450.0 L321.9 449.0 L321.9 448.0 L321.9 447.0 L321.9 446.0 L321.7 445.0 L322.0 444.2 L322.5 443.7 L323.0 443.2 L323.5 442.7 L323.9 442.0 L324.2 441.5 L324.7 441.0 L325.2 440.5 L325.7 440.0 L326.3 439.5 L327.0 439.4 L328.0 439.4 L329.0 439.4 L330.0 439.4 L330.8 439.0 L331.5 438.9 L332.3 438.5 L333.0 438.4 L333.7 438.0 L334.3 437.5 L335.0 437.2 L335.5 436.7 L336.0 436.2 L336.5 435.7 L337.0 435.2 L337.5 434.7 L338.0 434.2 L338.4 433.5 L338.7 433.0 L339.2 432.5 L339.5 431.8 L339.9 431.0 L340.0 430.3 L340.4 429.5 L340.4 428.5 L340.4 427.5 L340.4 426.5 L340.4 425.5 L340.4 424.5 L340.4 423.5 L340.2 422.5 L339.9 422.0 L339.7 421.0 L339.4 420.5 L339.0 419.7 L338.7 419.0 L338.2 418.5 L337.9 418.0 L337.5 417.3 L337.0 416.8 L336.5 416.3 L336.0 415.8 L335.5 415.3 L334.8 415.0 L334.2 414.5 L333.5 414.1 L333.0 413.8 L332.0 413.6 L331.5 413.3 L330.5 413.1 L329.8 413.0 L329.0 412.6 L328.0 412.6 L327.0 412.6 L326.0 412.6 L325.0 412.6 L324.2 413.0 L323.5 413.1 L322.7 413.5 L322.0 413.6 L321.2 414.0 L320.5 414.3 L320.0 414.8 L319.5 415.1 L318.8 415.5 L318.3 416.0 L317.8 416.5 L317.3 417.0 L316.8 417.5 L316.3 418.0 L316.0 418.7 L315.5 419.3 L315.1 420.0 L314.8 420.5 L314.6 421.5 L314.3 422.0 L314.1 423.0 L314.1 424.0 L313.8 424.5 L313.6 425.5 L313.6 426.5 L313.6 427.5 L314.0 428.3 L314.0 428.7 L313.5 429.3 L313.0 429.8 L312.5 430.3 L312.0 430.8 L311.5 431.3 L311.0 431.8 L310.5 432.3 L310.0 432.8 L309.6 433.5 L309.0 433.6 L308.0 433.6 L307.0 433.6 L306.0 433.6 L305.2 434.0 L304.5 434.1 L303.5 434.3 L303.0 434.6 L302.2 435.0 L301.5 435.3 L301.0 435.6 L300.3 436.0 L299.8 436.5 L299.3 437.0 L298.8 437.5 L298.3 438.0 L297.8 438.5 L297.0 438.8 L296.0 438.6 L295.5 438.3 L294.5 438.1 L293.5 438.1 L292.5 438.1 L291.5 438.1 L290.5 438.1 L289.5 438.1 L288.7 438.5 L288.0 438.8 L287.5 439.1 L286.8 439.5 L286.2 440.0 L285.5 440.3 L285.0 440.8 L284.6 441.5 L284.3 442.0 L283.8 442.5 L283.5 443.2 L283.1 444.0 L282.8 444.5 L282.6 445.5 L282.5 446.2 L282.1 447.0 L282.1 448.0 L282.1 449.0 L282.5 449.8 L282.6 450.5 L282.8 451.5 L283.1 452.0 L283.5 452.8 L283.8 453.5 L284.3 454.0 L284.6 454.5 L285.0 455.2 L285.5 455.7 L286.2 456.0 L286.8 456.5 L287.5 456.9 L288.0 457.2 L288.7 457.5 L289.5 457.9 L290.5 457.9 L291.5 457.9 L292.5 457.9 L293.5 457.9 L294.5 457.9 L295.5 457.7 L296.0 457.4 L297.0 457.2 L297.5 456.9 L298.5 456.7 L299.0 457.2 L299.5 457.7 L300.0 458.2 L300.5 458.7 L301.2 459.0 L302.0 459.4 L302.5 459.7 L303.2 460.0 L304.0 460.4 L304.7 460.5 L305.5 460.9 L306.5 460.9 L307.2 461.0 L307.8 461.5 L308.1 462.0 L308.5 462.7 L309.0 463.3 L309.3 464.0 L309.8 464.5 L310.1 465.0 L310.5 465.7 L311.0 466.3 L311.3 467.0 L311.8 467.5 L312.1 468.0 L312.0 468.7 L311.6 469.5 L311.6 470.5 L311.3 471.0 L311.1 472.0 L311.1 473.0 L311.1 474.0 L311.1 475.0 L311.1 476.0 L311.1 477.0 L311.3 478.0 L310.7 478.5 L310.0 478.6 L309.0 478.6 L308.0 478.8 L307.5 479.1 L306.5 479.3 L306.0 479.6 L305.0 479.8 L304.5 480.1 L303.8 480.5 L303.2 481.0 L302.5 481.3 L302.0 481.8 L301.5 482.1 L300.8 482.5 L300.3 483.0 L299.8 483.5 L299.3 484.0 L298.8 484.5 L298.3 485.0 L297.8 485.5 L297.5 486.2 L297.0 486.8 L296.6 487.5 L296.3 488.0 L295.5 488.1 L294.5 488.1 L294.0 487.8 L293.0 487.6 L292.0 487.6 L291.0 487.8 L290.5 488.1 L289.5 488.1 L288.7 488.5 L288.0 488.8 L287.5 489.1 L286.8 489.5 L286.3 490.0 L285.8 490.5 L285.3 491.0 L284.8 491.5 L284.3 492.0 L284.0 492.7 L283.6 493.5 L283.3 494.0 L283.1 495.0 L283.0 495.7 L282.6 496.5 L282.6 497.5 L282.6 498.5 L283.0 499.3 L283.1 500.0 L283.3 501.0 L283.6 501.5 L284.0 502.3 L284.3 503.0 L284.8 503.5 L285.1 504.0 L285.5 504.7 L286.2 505.0 L286.8 505.5 L287.3 506.0 L288.0 506.4 L288.5 506.7 L289.5 506.9 L290.0 507.2 L291.0 507.4 L292.0 507.4 L293.0 507.4 L294.0 507.4 L295.0 507.2 L295.5 506.9 L296.2 507.0 L296.8 507.5 L297.1 508.0 L297.5 508.7 L298.0 509.2 L298.5 509.8 L298.8 510.5 L299.3 511.0 L299.8 511.5 L300.5 511.9 L301.0 512.2 L301.5 512.7 L302.0 513.2 L302.7 513.5 L303.3 514.0 L304.0 514.4 L304.5 514.7 L305.2 515.0 L306.0 515.4 L306.7 515.5 L307.5 515.9 L308.5 515.9 L309.0 516.2 L310.0 516.4 L311.0 516.4 L312.0 516.4 L312.3 517.0 L312.8 517.5 L313.1 518.0 L313.5 518.8 L313.8 519.5 L314.1 520.0 L314.1 521.0 L313.8 521.5 L313.5 522.2 L313.0 522.8 L312.6 523.5 L312.3 524.0 L312.0 524.6 L311.0 524.6 L310.0 524.6 L309.0 524.6 L308.2 525.0 L307.5 525.1 L306.5 525.3 L306.0 525.6 L305.2 526.0 L304.5 526.3 L304.0 526.6 L303.2 527.0 L302.5 527.3 L302.0 527.8 L301.5 528.3 L301.0 528.6 L300.3 529.0 L299.8 529.5 L299.3 530.0 L298.8 530.5 L298.3 531.0 L298.0 531.7 L297.5 532.3 L297.0 532.8 L296.5 533.3 L295.8 533.0 L295.0 532.6 L294.5 532.3 L293.8 532.0 L293.0 531.6 L292.0 531.6 L291.5 531.3 L290.5 531.1 L289.5 531.1 L288.5 531.1 L287.5 531.1 L286.5 531.3 L286.0 531.6 L285.0 531.6 L284.2 532.0 L283.5 532.3 L283.0 532.6 L282.2 533.0 L281.5 533.3 L281.0 533.8 L280.5 534.3 L280.0 534.6 L279.3 535.0 L279.0 535.7 L278.5 536.3 L278.0 536.8 L277.6 537.5 L277.3 538.0 L276.8 538.5 L276.6 539.5 L276.3 540.0 L276.1 541.0 L275.8 541.5 L275.6 542.5 L275.6 543.5 L275.6 544.5 L275.6 545.5 L275.6 546.5 L275.8 547.5 L276.1 548.0 L276.1 549.0 L276.5 549.8 L276.8 550.5 L277.1 551.0 L277.5 551.7 L278.0 552.3 L278.3 553.0 L278.8 553.5 L279.3 554.0 L279.8 554.5 L280.3 555.0 L281.0 555.4 L281.5 555.7 L282.0 556.2 L282.7 556.5 L283.5 556.9 L284.0 557.2 L285.0 557.4 L285.5 557.7 L286.5 557.9 L287.5 557.9 L288.5 557.9 L289.5 557.9 L290.5 557.9 L291.5 557.9 L292.5 557.7 L293.0 557.4 L294.0 557.2 L294.5 556.9 L295.3 556.5 L296.0 556.2 L296.5 555.7 L297.0 555.4 L298.0 555.3 L298.3 556.0 L298.8 556.5 L299.3 557.0 L299.8 557.5 L300.3 558.0 L301.0 558.4 L301.5 558.7 L302.0 559.2 L302.5 559.7 L303.2 560.0 L304.0 560.4 L304.5 560.7 L305.2 561.0 L306.0 561.4 L306.5 561.7 L307.5 561.9 L308.2 562.0 L309.0 562.4 L310.0 562.4 L311.0 562.4 L312.0 562.4 L312.3 563.0 L312.6 563.5 L313.0 564.2 L313.5 564.8 L313.8 565.5 L314.1 566.0 L314.1 567.0 L313.8 567.5 L313.5 568.2 L313.1 569.0 L312.8 569.5 L312.3 570.0 L312.0 570.6 L311.0 570.6 L310.0 570.6 L309.0 570.8 L308.5 571.1 L307.5 571.1 L306.7 571.5 L306.0 571.6 L305.2 572.0 L304.5 572.3 L304.0 572.6 L303.3 573.0 L302.7 573.5 L302.0 573.8 L301.5 574.3 L301.0 574.8 L300.5 575.1 L299.8 575.5 L299.3 576.0 L298.8 576.5 L298.5 577.2 L298.0 577.8 L297.5 578.3 L297.1 579.0 L296.8 579.5 L296.2 580.0 L295.5 580.1 L294.5 580.1 L293.5 580.1 L292.5 580.1 L291.7 580.5 L291.0 580.6 L290.2 581.0 L289.5 581.3 L289.0 581.6 L288.3 582.0 L287.8 582.5 L287.3 583.0 L286.8 583.5 L286.3 584.0 L286.0 584.7 L285.6 585.5 L285.3 586.0 L285.0 586.7 L284.6 587.5 L284.6 588.5 L284.6 589.5 L284.6 590.5 L284.6 591.5 L284.6 592.5 L285.0 593.3 L285.3 594.0 L285.6 594.5 L286.0 595.3 L286.3 596.0 L286.8 596.5 L287.3 597.0 L287.8 597.5 L288.3 598.0 L289.0 598.4 L289.5 598.7 L290.2 599.0 L291.0 599.4 L291.7 599.5 L292.5 599.9 L293.5 599.9 L294.5 599.9 L295.5 599.9 L296.5 599.7 L297.0 600.2 L297.5 600.8 L297.8 601.5 L298.3 602.0 L298.8 602.5 L299.3 603.0 L299.8 603.5 L300.3 604.0 L300.8 604.5 L301.5 604.9 L302.0 605.2 L302.5 605.7 L303.2 606.0 L303.8 606.5 L304.5 606.9 L305.0 607.2 L306.0 607.4 L306.5 607.7 L307.5 607.9 L307.6 608.5 L307.3 609.0 L307.1 610.0 L307.1 611.0 L307.1 612.0 L307.1 613.0 L307.1 614.0 L307.1 615.0 L307.1 616.0 L307.5 616.8 L307.6 617.5 L307.8 618.5 L308.1 619.0 L308.3 620.0 L308.6 620.5 L309.0 621.3 L309.3 622.0 L309.6 622.5 L310.0 623.2 L310.3 624.0 L309.8 624.5 L309.5 625.2 L309.1 626.0 L309.0 626.7 L308.6 627.5 L308.6 628.5 L308.6 629.5 L308.6 630.5 L308.6 631.5 L308.8 632.5 L309.1 633.0 L309.3 634.0 L309.6 634.5 L310.0 635.2 L310.5 635.7 L311.0 636.3 L311.3 637.0 L312.0 637.4 L312.5 637.7 L313.0 638.2 L313.7 638.5 L314.5 638.9 L315.0 639.2 L316.0 639.4 L317.0 639.4 L318.0 639.4 L319.0 639.4 L320.0 639.4 L321.0 639.4 L321.8 639.0Z M342.0 509.5 L341.0 509.7 L340.0 509.8 L339.0 509.8 L338.0 509.8 L337.0 509.6 L336.5 509.5 L335.5 509.2 L334.9 509.0 L334.0 508.6 L333.5 508.4 L332.8 508.0 L332.1 507.5 L331.5 507.1 L331.0 506.6 L330.5 506.2 L330.0 505.6 L329.5 505.0 L329.1 504.5 L328.8 504.0 L328.5 503.5 L328.0 502.6 L327.8 502.0 L327.5 501.3 L327.3 500.5 L327.1 499.5 L327.0 499.0 L326.9 498.0 L326.9 497.0 L327.0 496.0 L327.0 495.5 L327.2 494.5 L327.5 493.5 L327.7 493.0 L328.0 492.3 L328.4 491.5 L328.7 491.0 L329.0 490.5 L329.5 489.8 L330.0 489.2 L330.5 488.6 L331.0 488.2 L331.5 487.7 L332.0 487.4 L332.5 487.0 L333.3 486.5 L334.0 486.2 L334.5 485.9 L335.5 485.6 L336.0 485.4 L337.0 485.2 L338.0 485.0 L338.6 485.0 L339.5 485.0 L340.0 485.0 L341.0 485.1 L342.0 485.3 L342.8 485.5 L343.5 485.7 L344.2 486.0 L345.0 486.4 L345.5 486.6 L346.1 487.0 L346.8 487.5 L347.4 488.0 L348.0 488.5 L348.4 489.0 L348.9 489.5 L349.3 490.0 L349.6 490.5 L350.0 491.1 L350.5 492.0 L350.7 492.5 L351.0 493.2 L351.2 494.0 L351.5 495.0 L351.6 495.5 L351.7 496.5 L351.7 497.5 L351.7 498.5 L351.5 499.5 L351.4 500.0 L351.2 501.0 L351.0 501.6 L350.6 502.5 L350.4 503.0 L350.0 503.7 L349.5 504.5 L349.1 505.0 L348.7 505.5 L348.3 506.0 L347.8 506.5 L347.2 507.0 L346.5 507.5 L346.0 507.9 L345.5 508.2 L344.9 508.5 L344.0 508.9 L343.5 509.1 L342.5 509.4 L342.0 509.5Z M342.0 557.0 L341.0 557.2 L340.0 557.3 L339.0 557.3 L338.0 557.2 L337.0 557.1 L336.4 557.0 L335.5 556.8 L334.7 556.5 L334.0 556.2 L333.5 556.0 L332.5 555.5 L332.0 555.2 L331.5 554.9 L331.0 554.5 L330.3 554.0 L329.8 553.5 L329.3 553.0 L328.8 552.5 L328.4 552.0 L328.0 551.4 L327.5 550.7 L327.1 550.0 L326.9 549.5 L326.5 548.7 L326.3 548.0 L326.0 547.2 L325.8 546.5 L325.6 545.5 L325.5 544.5 L325.5 543.5 L325.5 542.5 L325.6 541.5 L325.8 540.5 L326.0 539.8 L326.3 539.0 L326.5 538.3 L326.9 537.5 L327.1 537.0 L327.5 536.3 L328.0 535.6 L328.4 535.0 L328.8 534.5 L329.3 534.0 L329.8 533.5 L330.3 533.0 L331.0 532.5 L331.5 532.1 L332.0 531.8 L332.5 531.5 L333.5 531.0 L334.0 530.8 L334.7 530.5 L335.5 530.2 L336.4 530.0 L337.0 529.9 L338.0 529.8 L339.0 529.7 L340.0 529.7 L341.0 529.8 L342.0 530.0 L342.5 530.1 L343.5 530.4 L344.0 530.5 L345.0 530.9 L345.5 531.2 L346.1 531.5 L346.9 532.0 L347.5 532.4 L348.0 532.8 L348.5 533.2 L349.0 533.7 L349.5 534.2 L350.0 534.8 L350.5 535.4 L350.9 536.0 L351.2 536.5 L351.5 537.1 L352.0 538.0 L352.2 538.5 L352.5 539.5 L352.6 540.0 L352.9 541.0 L353.0 541.9 L353.1 542.5 L353.1 543.5 L353.1 544.5 L353.0 545.1 L352.9 546.0 L352.6 547.0 L352.5 547.5 L352.2 548.5 L352.0 549.0 L351.5 549.9 L351.2 550.5 L350.9 551.0 L350.5 551.6 L350.0 552.2 L349.5 552.8 L349.0 553.3 L348.5 553.8 L348.0 554.2 L347.5 554.6 L346.9 555.0 L346.1 555.5 L345.5 555.8 L345.0 556.1 L344.0 556.5 L343.5 556.6 L342.5 556.9 L342.0 557.0Z M340.0 602.0 L339.0 602.0 L338.5 602.0 L337.5 601.9 L336.5 601.7 L335.8 601.5 L335.0 601.3 L334.4 601.0 L333.5 600.6 L333.0 600.3 L332.5 600.0 L331.8 599.5 L331.2 599.0 L330.6 598.5 L330.2 598.0 L329.7 597.5 L329.3 597.0 L329.0 596.5 L328.5 595.7 L328.1 595.0 L327.9 594.5 L327.5 593.5 L327.4 593.0 L327.1 592.0 L327.0 591.3 L326.9 590.5 L326.9 589.5 L326.9 588.5 L327.0 587.9 L327.2 587.0 L327.4 586.0 L327.6 585.5 L328.0 584.5 L328.2 584.0 L328.5 583.5 L329.0 582.7 L329.5 582.0 L329.9 581.5 L330.3 581.0 L330.8 580.5 L331.4 580.0 L332.0 579.6 L332.5 579.2 L333.0 578.9 L333.7 578.5 L334.5 578.1 L335.0 577.9 L336.0 577.6 L336.5 577.5 L337.5 577.3 L338.5 577.2 L339.5 577.2 L340.5 577.2 L341.5 577.4 L342.1 577.5 L343.0 577.7 L343.7 578.0 L344.5 578.3 L345.0 578.6 L345.8 579.0 L346.5 579.5 L347.0 579.9 L347.5 580.3 L348.0 580.7 L348.5 581.3 L349.0 581.8 L349.5 582.5 L349.8 583.0 L350.1 583.5 L350.5 584.2 L350.8 585.0 L351.0 585.5 L351.3 586.5 L351.5 587.3 L351.6 588.0 L351.7 589.0 L351.7 590.0 L351.6 591.0 L351.5 591.9 L351.4 592.5 L351.1 593.5 L350.9 594.0 L350.5 595.0 L350.2 595.5 L349.9 596.0 L349.5 596.7 L349.0 597.4 L348.5 597.9 L348.0 598.5 L347.5 598.9 L347.0 599.3 L346.5 599.7 L346.0 600.1 L345.2 600.5 L344.5 600.9 L344.0 601.1 L343.0 601.5 L342.5 601.6 L341.5 601.8 L340.5 602.0 L340.0 602.0Z" fill="#f89048" fill-rule="evenodd"/>
<path d="M321.4 638.5 L322.0 638.4 L322.5 637.9 L323.4 637.5 L324.0 637.4 L324.5 636.9 L325.0 636.4 L325.5 635.9 L325.9 635.0 L326.4 634.5 L326.5 633.9 L326.9 633.0 L327.4 632.5 L327.4 631.5 L328.0 631.4 L328.9 631.0 L329.5 630.9 L330.5 630.9 L331.4 630.5 L332.0 630.4 L332.9 630.0 L333.5 629.9 L334.0 629.4 L334.9 629.0 L335.5 628.9 L336.0 628.4 L336.5 627.9 L337.4 627.5 L337.9 627.0 L338.4 626.5 L338.9 626.0 L339.5 625.9 L340.0 626.4 L340.5 626.9 L341.0 627.4 L341.5 627.9 L342.1 628.0 L342.6 628.5 L343.5 628.9 L344.0 629.4 L344.6 629.5 L345.5 629.9 L346.1 630.0 L347.0 630.4 L347.6 630.5 L348.5 630.9 L349.5 630.9 L350.1 631.0 L351.0 631.4 L352.0 631.4 L353.0 631.4 L354.0 631.4 L354.9 631.0 L355.1 631.0 L355.5 631.9 L355.6 632.5 L356.1 633.0 L356.5 633.9 L356.6 634.5 L357.1 635.0 L357.6 635.5 L358.1 636.0 L359.0 636.4 L359.5 636.9 L360.1 637.0 L361.0 637.4 L361.5 637.9 L362.5 637.9 L363.5 637.9 L364.5 637.9 L365.5 637.9 L366.5 637.9 L367.4 637.5 L368.0 637.4 L368.5 636.9 L369.4 636.5 L369.9 636.0 L370.5 635.9 L370.9 635.0 L371.4 634.5 L371.9 634.0 L372.4 633.5 L372.5 632.9 L372.9 632.0 L373.0 631.4 L373.4 630.5 L373.4 629.5 L373.4 628.5 L373.4 627.5 L373.4 626.5 L372.9 626.0 L372.9 625.0 L372.4 624.5 L372.0 623.6 L371.5 623.1 L371.0 622.6 L370.5 622.1 L370.0 621.6 L369.5 621.1 L369.4 620.5 L369.5 619.9 L369.9 619.0 L370.4 618.5 L370.4 617.5 L370.5 616.9 L370.9 616.0 L370.9 615.0 L370.9 614.0 L370.9 613.0 L370.9 612.0 L370.9 611.0 L370.9 610.0 L370.9 609.0 L370.4 608.5 L370.4 607.5 L371.0 607.4 L371.9 607.0 L372.5 606.9 L373.4 606.5 L374.0 606.4 L374.5 605.9 L375.4 605.5 L375.9 605.0 L376.5 604.9 L377.0 604.4 L377.5 603.9 L378.0 603.4 L378.5 602.9 L379.0 602.4 L379.5 601.9 L380.0 601.4 L380.5 600.9 L380.9 600.0 L381.4 599.5 L381.9 599.0 L382.0 598.4 L382.4 597.5 L382.9 597.0 L383.1 597.0 L384.0 597.4 L384.6 597.5 L385.5 597.9 L386.5 597.9 L387.5 597.9 L388.5 597.9 L389.0 597.4 L390.0 597.4 L390.5 596.9 L391.4 596.5 L392.0 596.4 L392.5 595.9 L393.0 595.4 L393.5 594.9 L394.0 594.4 L394.4 593.5 L394.9 593.0 L395.4 592.5 L395.4 591.5 L395.9 591.0 L395.9 590.0 L395.9 589.0 L395.9 588.0 L395.9 587.0 L395.9 586.0 L395.4 585.5 L395.4 584.5 L394.9 584.0 L394.4 583.5 L394.0 582.6 L393.5 582.1 L393.0 581.6 L392.5 581.1 L392.0 580.6 L391.4 580.5 L390.5 580.1 L390.0 579.6 L389.0 579.6 L388.5 579.1 L387.5 579.1 L386.5 579.1 L385.5 579.1 L384.6 579.5 L384.0 579.6 L383.1 580.0 L382.5 580.1 L382.0 580.6 L381.5 580.1 L381.4 579.5 L380.9 579.0 L380.4 578.5 L380.0 577.6 L379.5 577.1 L379.0 576.6 L378.5 576.1 L378.0 575.6 L377.5 575.1 L376.9 575.0 L376.4 574.5 L375.9 574.0 L375.0 573.6 L374.5 573.1 L373.9 573.0 L373.0 572.6 L372.5 572.1 L371.5 572.1 L371.0 571.6 L370.0 571.6 L369.4 571.5 L368.5 571.1 L367.5 571.1 L366.5 571.1 L365.9 571.0 L365.5 570.1 L365.4 569.5 L364.9 569.0 L364.4 568.5 L364.0 567.6 L363.9 567.0 L363.4 566.5 L363.9 566.0 L364.0 565.4 L364.5 564.9 L364.9 564.0 L365.4 563.5 L365.5 562.9 L365.9 562.0 L366.5 561.9 L367.5 561.9 L368.5 561.9 L369.5 561.9 L370.0 561.4 L371.0 561.4 L371.9 561.0 L372.5 560.9 L373.0 560.4 L373.9 560.0 L374.5 559.9 L375.0 559.4 L375.9 559.0 L376.4 558.5 L377.0 558.4 L377.5 557.9 L378.0 557.4 L378.5 556.9 L379.0 556.4 L379.5 555.9 L380.0 555.4 L380.4 554.5 L380.9 554.0 L381.4 553.5 L381.5 552.9 L382.1 553.0 L382.6 553.5 L383.5 553.9 L384.0 554.4 L384.5 554.9 L385.1 555.0 L386.0 555.4 L386.5 555.9 L387.5 555.9 L388.0 556.4 L389.0 556.4 L390.0 556.4 L391.0 556.4 L392.0 556.4 L393.0 556.4 L394.0 556.4 L394.5 555.9 L395.5 555.9 L396.0 555.4 L396.9 555.0 L397.5 554.9 L398.0 554.4 L398.5 553.9 L399.4 553.5 L399.9 553.0 L400.4 552.5 L400.9 552.0 L401.4 551.5 L401.5 550.9 L402.0 550.4 L402.4 549.5 L402.9 549.0 L403.0 548.4 L403.4 547.5 L403.4 546.5 L403.9 546.0 L403.9 545.0 L403.9 544.0 L403.9 543.0 L403.9 542.0 L403.9 541.0 L403.4 540.5 L403.4 539.5 L402.9 539.0 L402.9 538.0 L402.4 537.5 L401.9 537.0 L401.5 536.1 L401.0 535.6 L400.5 535.1 L400.4 534.5 L399.5 534.1 L399.0 533.6 L398.5 533.1 L398.0 532.6 L397.4 532.5 L396.5 532.1 L396.0 531.6 L395.4 531.5 L394.5 531.1 L393.5 531.1 L393.0 530.6 L392.0 530.6 L391.0 530.6 L390.0 530.6 L389.0 530.6 L388.5 531.1 L387.5 531.1 L386.6 531.5 L386.0 531.6 L385.5 532.1 L384.6 532.5 L384.0 532.6 L383.5 533.1 L383.0 533.6 L382.5 534.1 L381.5 534.1 L381.4 533.5 L380.9 533.0 L380.4 532.5 L380.0 531.6 L379.5 531.1 L379.0 530.6 L378.5 530.1 L378.0 529.6 L377.5 529.1 L377.0 528.6 L376.4 528.5 L375.9 528.0 L375.0 527.6 L374.5 527.1 L373.9 527.0 L373.0 526.6 L372.5 526.1 L371.9 526.0 L371.0 525.6 L370.0 525.6 L369.5 525.1 L368.5 525.1 L367.5 525.1 L366.5 525.1 L365.9 525.0 L365.5 524.1 L365.4 523.5 L364.9 523.0 L364.5 522.1 L364.0 521.6 L363.9 521.0 L363.4 520.5 L363.9 520.0 L364.0 519.4 L364.4 518.5 L364.9 518.0 L365.4 517.5 L365.5 516.9 L365.9 516.0 L366.5 515.9 L367.5 515.9 L368.5 515.9 L369.4 515.5 L370.0 515.4 L371.0 515.4 L371.5 514.9 L372.5 514.9 L373.0 514.4 L373.9 514.0 L374.5 513.9 L375.0 513.4 L375.9 513.0 L376.4 512.5 L376.9 512.0 L377.5 511.9 L378.0 511.4 L378.5 510.9 L379.0 510.4 L379.5 509.9 L380.0 509.4 L380.4 508.5 L380.9 508.0 L381.4 507.5 L381.5 506.9 L381.9 506.0 L382.4 505.5 L382.6 505.5 L383.1 506.0 L384.0 506.4 L384.5 506.9 L385.5 506.9 L386.0 507.4 L386.1 508.0 L386.6 508.5 L386.6 509.5 L387.1 510.0 L387.1 511.0 L387.6 511.5 L387.1 512.0 L387.1 513.0 L387.1 514.0 L387.1 515.0 L387.1 516.0 L387.5 516.9 L387.6 517.5 L388.0 518.4 L388.1 519.0 L388.6 519.5 L389.1 520.0 L389.6 520.5 L390.1 521.0 L390.6 521.5 L391.1 522.0 L392.0 522.4 L392.5 522.9 L393.5 522.9 L394.0 523.4 L395.0 523.4 L396.0 523.4 L397.0 523.4 L398.0 523.4 L398.9 523.0 L399.5 522.9 L400.4 522.5 L401.0 522.4 L401.5 521.9 L402.0 521.4 L402.5 520.9 L403.4 520.5 L403.5 519.9 L404.0 519.4 L404.4 518.5 L404.9 518.0 L405.0 517.4 L405.4 516.5 L405.4 515.5 L405.4 514.5 L405.4 513.5 L405.4 512.5 L405.4 511.5 L404.9 511.0 L404.5 510.1 L404.4 509.5 L403.9 509.0 L403.5 508.1 L403.0 507.6 L402.5 507.1 L402.0 506.6 L401.9 506.0 L401.4 505.5 L401.4 504.5 L400.9 504.0 L400.9 503.0 L400.4 502.5 L400.9 502.0 L401.4 501.5 L401.5 500.9 L401.9 500.0 L402.0 499.4 L402.4 498.5 L402.5 497.9 L402.9 497.0 L402.9 496.0 L402.9 495.0 L402.9 494.0 L402.9 493.0 L402.5 492.1 L402.4 491.5 L402.0 490.6 L401.9 490.0 L401.5 489.1 L401.4 488.5 L400.9 488.0 L400.4 487.5 L399.9 487.0 L399.5 486.1 L399.0 485.6 L398.5 485.1 L397.9 485.0 L397.4 484.5 L396.9 484.0 L396.0 483.6 L395.5 483.1 L394.5 483.1 L394.0 482.6 L393.0 482.6 L392.5 482.1 L391.5 482.1 L390.5 482.1 L389.5 482.1 L388.5 482.1 L387.5 482.1 L387.0 482.6 L386.0 482.6 L385.5 483.1 L384.5 483.1 L384.0 483.6 L383.1 484.0 L382.6 484.5 L382.1 485.0 L381.5 485.1 L381.0 485.6 L380.5 486.1 L380.0 485.6 L379.5 485.1 L379.0 484.6 L378.5 484.1 L378.0 483.6 L377.5 483.1 L377.0 482.6 L376.5 482.1 L375.9 482.0 L375.4 481.5 L374.5 481.1 L374.0 480.6 L373.4 480.5 L372.5 480.1 L371.9 480.0 L371.0 479.6 L370.4 479.5 L369.5 479.1 L368.5 479.1 L367.9 479.0 L367.0 478.6 L366.4 478.5 L366.5 477.9 L366.9 477.0 L366.9 476.0 L366.9 475.0 L366.9 474.0 L366.9 473.0 L366.9 472.0 L366.9 471.0 L366.4 470.5 L366.4 469.5 L365.9 469.0 L365.5 468.1 L365.4 467.5 L365.9 467.0 L366.0 466.4 L366.5 465.9 L367.0 465.4 L367.5 464.9 L368.5 464.9 L369.4 464.5 L370.0 464.4 L370.9 464.0 L371.5 463.9 L372.0 463.4 L372.5 462.9 L373.4 462.5 L373.9 462.0 L374.4 461.5 L374.9 461.0 L375.4 460.5 L375.9 460.0 L376.0 459.4 L376.5 458.9 L376.9 458.0 L377.0 457.4 L377.4 456.5 L377.9 456.0 L377.9 455.0 L377.9 454.0 L377.9 453.0 L377.9 452.0 L377.9 451.0 L377.9 450.0 L377.5 449.1 L377.4 448.5 L377.0 447.6 L376.9 447.0 L376.4 446.5 L376.0 445.6 L375.5 445.1 L375.4 444.5 L374.9 444.0 L374.4 443.5 L373.9 443.0 L373.0 442.6 L372.5 442.1 L372.0 441.6 L371.4 441.5 L370.5 441.1 L370.0 440.6 L369.0 440.6 L368.5 440.1 L367.5 440.1 L366.5 440.1 L365.5 440.1 L364.5 440.1 L364.0 439.6 L363.5 439.1 L363.0 438.6 L362.5 438.1 L362.0 437.6 L361.5 437.1 L361.0 436.6 L360.5 436.1 L360.0 435.6 L359.5 435.1 L359.4 434.5 L358.9 434.0 L358.4 433.5 L357.9 433.0 L357.0 432.6 L356.5 432.1 L356.0 431.6 L355.0 431.6 L354.5 431.1 L353.5 431.1 L352.5 431.1 L351.5 431.1 L350.6 431.5 L350.0 431.6 L349.1 432.0 L348.6 432.5 L348.0 432.6 L347.5 433.1 L347.0 433.6 L346.6 434.5 L346.1 435.0 L345.6 435.5 L345.6 436.5 L345.1 437.0 L345.1 438.0 L345.1 439.0 L345.1 440.0 L345.5 440.9 L345.6 441.5 L346.0 442.4 L346.5 442.9 L346.6 443.5 L347.1 444.0 L347.6 444.5 L348.1 445.0 L348.6 445.5 L349.1 446.0 L349.6 446.5 L350.1 447.0 L350.6 447.5 L351.1 448.0 L351.6 448.5 L352.0 449.4 L352.5 449.9 L353.0 450.4 L353.1 451.0 L353.1 452.0 L353.1 453.0 L353.1 454.0 L353.1 455.0 L353.1 456.0 L353.6 456.5 L353.6 457.5 L353.5 458.1 L353.0 458.6 L352.6 459.5 L352.0 459.6 L351.0 459.6 L350.1 460.0 L349.5 460.1 L348.5 460.1 L348.0 460.6 L347.0 460.6 L346.5 461.1 L345.6 461.5 L345.0 461.6 L344.5 462.1 L344.0 462.6 L343.1 463.0 L342.6 463.5 L342.1 464.0 L341.6 464.5 L341.0 464.6 L340.0 464.6 L339.0 464.6 L338.0 464.6 L337.0 464.6 L336.5 464.1 L336.0 463.6 L335.5 463.1 L335.0 462.6 L334.5 462.1 L333.9 462.0 L333.0 461.6 L332.5 461.1 L331.9 461.0 L331.0 460.6 L330.4 460.5 L329.5 460.1 L328.5 460.1 L328.0 459.6 L327.0 459.6 L326.0 459.6 L325.4 459.5 L324.9 459.0 L324.5 458.1 L324.0 457.6 L323.9 457.0 L323.4 456.5 L322.9 456.0 L322.5 455.1 L322.0 454.6 L321.9 454.0 L321.4 453.5 L320.9 453.0 L320.5 452.1 L320.5 451.9 L320.9 451.0 L320.9 450.0 L321.4 449.5 L321.4 448.5 L321.4 447.5 L321.4 446.5 L321.4 445.5 L320.9 445.0 L321.0 444.4 L321.5 443.9 L322.0 443.4 L322.5 442.9 L323.0 442.4 L323.4 441.5 L323.9 441.0 L324.4 440.5 L324.9 440.0 L325.4 439.5 L325.9 439.0 L326.5 438.9 L327.5 438.9 L328.5 438.9 L329.5 438.9 L330.4 438.5 L331.0 438.4 L331.9 438.0 L332.5 437.9 L333.4 437.5 L333.9 437.0 L334.5 436.9 L335.0 436.4 L335.5 435.9 L336.0 435.4 L336.5 434.9 L337.0 434.4 L337.5 433.9 L337.9 433.0 L338.4 432.5 L338.9 432.0 L339.0 431.4 L339.4 430.5 L339.5 429.9 L339.9 429.0 L339.9 428.0 L339.9 427.0 L339.9 426.0 L339.9 425.0 L339.9 424.0 L339.9 423.0 L339.4 422.5 L339.4 421.5 L338.9 421.0 L338.5 420.1 L338.4 419.5 L337.9 419.0 L337.4 418.5 L337.0 417.6 L336.5 417.1 L336.0 416.6 L335.5 416.1 L335.0 415.6 L334.4 415.5 L333.9 415.0 L333.0 414.6 L332.5 414.1 L331.5 414.1 L331.0 413.6 L330.0 413.6 L329.4 413.5 L328.5 413.1 L327.5 413.1 L326.5 413.1 L325.5 413.1 L324.6 413.5 L324.0 413.6 L323.1 414.0 L322.5 414.1 L321.6 414.5 L321.0 414.6 L320.5 415.1 L320.0 415.6 L319.1 416.0 L318.6 416.5 L318.1 417.0 L317.6 417.5 L317.1 418.0 L316.6 418.5 L316.5 419.1 L316.0 419.6 L315.6 420.5 L315.1 421.0 L315.1 422.0 L314.6 422.5 L314.6 423.5 L314.6 424.5 L314.1 425.0 L314.1 426.0 L314.1 427.0 L314.5 427.9 L314.6 428.5 L314.5 429.1 L314.0 429.6 L313.5 430.1 L313.0 430.6 L312.5 431.1 L312.0 431.6 L311.5 432.1 L311.0 432.6 L310.5 433.1 L310.1 434.0 L309.5 434.1 L308.5 434.1 L307.5 434.1 L306.5 434.1 L305.6 434.5 L305.0 434.6 L304.0 434.6 L303.5 435.1 L302.6 435.5 L302.0 435.6 L301.5 436.1 L300.6 436.5 L300.1 437.0 L299.6 437.5 L299.1 438.0 L298.6 438.5 L298.1 439.0 L297.6 439.5 L297.0 439.6 L296.5 439.1 L295.5 439.1 L295.0 438.6 L294.0 438.6 L293.0 438.6 L292.0 438.6 L291.0 438.6 L290.0 438.6 L289.1 439.0 L288.5 439.1 L288.0 439.6 L287.1 440.0 L286.6 440.5 L286.0 440.6 L285.5 441.1 L285.1 442.0 L284.6 442.5 L284.1 443.0 L284.0 443.6 L283.6 444.5 L283.1 445.0 L283.1 446.0 L283.0 446.6 L282.6 447.5 L282.6 448.5 L283.0 449.4 L283.1 450.0 L283.1 451.0 L283.6 451.5 L284.0 452.4 L284.1 453.0 L284.6 453.5 L285.1 454.0 L285.5 454.9 L286.0 455.4 L286.6 455.5 L287.1 456.0 L288.0 456.4 L288.5 456.9 L289.1 457.0 L290.0 457.4 L291.0 457.4 L292.0 457.4 L293.0 457.4 L294.0 457.4 L295.0 457.4 L295.5 456.9 L296.5 456.9 L297.0 456.4 L297.9 456.0 L298.5 455.9 L299.0 456.4 L299.5 456.9 L300.0 457.4 L300.5 457.9 L301.0 458.4 L301.6 458.5 L302.5 458.9 L303.0 459.4 L303.6 459.5 L304.5 459.9 L305.1 460.0 L306.0 460.4 L307.0 460.4 L307.6 460.5 L308.1 461.0 L308.6 461.5 L309.0 462.4 L309.5 462.9 L309.6 463.5 L310.1 464.0 L310.6 464.5 L311.0 465.4 L311.5 465.9 L311.6 466.5 L312.1 467.0 L312.6 467.5 L312.6 468.5 L312.5 469.1 L312.1 470.0 L312.1 471.0 L311.6 471.5 L311.6 472.5 L311.6 473.5 L311.6 474.5 L311.6 475.5 L311.6 476.5 L311.6 477.5 L312.1 478.0 L312.0 478.6 L311.1 479.0 L310.5 479.1 L309.5 479.1 L308.5 479.1 L308.0 479.6 L307.0 479.6 L306.5 480.1 L305.5 480.1 L305.0 480.6 L304.1 481.0 L303.6 481.5 L303.0 481.6 L302.5 482.1 L302.0 482.6 L301.1 483.0 L300.6 483.5 L300.1 484.0 L299.6 484.5 L299.1 485.0 L298.6 485.5 L298.1 486.0 L298.0 486.6 L297.5 487.1 L297.1 488.0 L296.6 488.5 L296.5 489.1 L295.9 489.0 L295.0 488.6 L294.0 488.6 L293.5 488.1 L292.5 488.1 L291.5 488.1 L291.0 488.6 L290.0 488.6 L289.1 489.0 L288.5 489.1 L288.0 489.6 L287.1 490.0 L286.6 490.5 L286.1 491.0 L285.6 491.5 L285.1 492.0 L284.6 492.5 L284.5 493.1 L284.1 494.0 L283.6 494.5 L283.6 495.5 L283.5 496.1 L283.1 497.0 L283.1 498.0 L283.5 498.9 L283.6 499.5 L283.6 500.5 L284.1 501.0 L284.5 501.9 L284.6 502.5 L285.1 503.0 L285.6 503.5 L286.0 504.4 L286.6 504.5 L287.1 505.0 L287.6 505.5 L288.5 505.9 L289.0 506.4 L290.0 506.4 L290.5 506.9 L291.5 506.9 L292.5 506.9 L293.5 506.9 L294.5 506.9 L295.0 506.4 L296.0 506.4 L296.5 505.9 L296.6 506.5 L297.1 507.0 L297.6 507.5 L298.0 508.4 L298.5 508.9 L299.0 509.4 L299.1 510.0 L299.6 510.5 L300.1 511.0 L301.0 511.4 L301.5 511.9 L302.0 512.4 L302.5 512.9 L303.1 513.0 L303.6 513.5 L304.5 513.9 L305.0 514.4 L305.6 514.5 L306.5 514.9 L307.1 515.0 L308.0 515.4 L309.0 515.4 L309.5 515.9 L310.5 515.9 L311.5 515.9 L312.5 515.9 L312.6 516.5 L313.1 517.0 L313.6 517.5 L314.0 518.4 L314.1 519.0 L314.6 519.5 L315.0 520.4 L315.0 520.6 L314.6 521.5 L314.1 522.0 L314.0 522.6 L313.5 523.1 L313.1 524.0 L312.6 524.5 L312.5 525.1 L311.5 525.1 L310.5 525.1 L309.5 525.1 L308.6 525.5 L308.0 525.6 L307.0 525.6 L306.5 526.1 L305.6 526.5 L305.0 526.6 L304.5 527.1 L303.6 527.5 L303.0 527.6 L302.5 528.1 L302.0 528.6 L301.5 529.1 L300.6 529.5 L300.1 530.0 L299.6 530.5 L299.1 531.0 L298.6 531.5 L298.5 532.1 L298.0 532.6 L297.5 533.1 L297.1 534.0 L296.5 534.1 L296.0 533.6 L295.4 533.5 L294.5 533.1 L294.0 532.6 L293.4 532.5 L292.5 532.1 L291.5 532.1 L291.0 531.6 L290.0 531.6 L289.0 531.6 L288.0 531.6 L287.0 531.6 L286.5 532.1 L285.5 532.1 L284.6 532.5 L284.0 532.6 L283.5 533.1 L282.6 533.5 L282.0 533.6 L281.5 534.1 L281.0 534.6 L280.5 535.1 L279.6 535.5 L279.5 536.1 L279.0 536.6 L278.5 537.1 L278.1 538.0 L277.6 538.5 L277.1 539.0 L277.1 540.0 L276.6 540.5 L276.6 541.5 L276.1 542.0 L276.1 543.0 L276.1 544.0 L276.1 545.0 L276.1 546.0 L276.1 547.0 L276.6 547.5 L276.6 548.5 L277.0 549.4 L277.1 550.0 L277.6 550.5 L278.0 551.4 L278.5 551.9 L278.6 552.5 L279.1 553.0 L279.6 553.5 L280.1 554.0 L280.6 554.5 L281.5 554.9 L282.0 555.4 L282.5 555.9 L283.1 556.0 L284.0 556.4 L284.5 556.9 L285.5 556.9 L286.0 557.4 L287.0 557.4 L288.0 557.4 L289.0 557.4 L290.0 557.4 L291.0 557.4 L292.0 557.4 L292.5 556.9 L293.5 556.9 L294.0 556.4 L294.9 556.0 L295.5 555.9 L296.0 555.4 L296.5 554.9 L297.4 554.5 L298.0 554.4 L298.5 554.9 L298.6 555.5 L299.1 556.0 L299.6 556.5 L300.1 557.0 L300.6 557.5 L301.5 557.9 L302.0 558.4 L302.5 558.9 L303.0 559.4 L303.6 559.5 L304.5 559.9 L305.0 560.4 L305.6 560.5 L306.5 560.9 L307.0 561.4 L308.0 561.4 L308.6 561.5 L309.5 561.9 L310.5 561.9 L311.5 561.9 L312.5 561.9 L312.6 562.5 L313.1 563.0 L313.5 563.9 L314.0 564.4 L314.1 565.0 L314.6 565.5 L315.0 566.4 L315.0 566.6 L314.6 567.5 L314.1 568.0 L314.0 568.6 L313.6 569.5 L313.1 570.0 L312.6 570.5 L312.5 571.1 L311.5 571.1 L310.5 571.1 L309.5 571.1 L309.0 571.6 L308.0 571.6 L307.1 572.0 L306.5 572.1 L305.6 572.5 L305.0 572.6 L304.5 573.1 L303.6 573.5 L303.1 574.0 L302.5 574.1 L302.0 574.6 L301.5 575.1 L301.0 575.6 L300.1 576.0 L299.6 576.5 L299.1 577.0 L299.0 577.6 L298.5 578.1 L298.0 578.6 L297.6 579.5 L297.1 580.0 L296.6 580.5 L296.5 581.1 L296.0 580.6 L295.0 580.6 L294.0 580.6 L293.0 580.6 L292.1 581.0 L291.5 581.1 L290.6 581.5 L290.0 581.6 L289.5 582.1 L288.6 582.5 L288.1 583.0 L287.6 583.5 L287.1 584.0 L286.6 584.5 L286.5 585.1 L286.1 586.0 L285.6 586.5 L285.5 587.1 L285.1 588.0 L285.1 589.0 L285.1 590.0 L285.1 591.0 L285.1 592.0 L285.5 592.9 L285.6 593.5 L286.1 594.0 L286.5 594.9 L286.6 595.5 L287.1 596.0 L287.6 596.5 L288.1 597.0 L288.6 597.5 L289.5 597.9 L290.0 598.4 L290.6 598.5 L291.5 598.9 L292.1 599.0 L293.0 599.4 L294.0 599.4 L295.0 599.4 L296.0 599.4 L296.5 598.9 L297.1 599.0 L297.5 599.9 L298.0 600.4 L298.1 601.0 L298.6 601.5 L299.1 602.0 L299.6 602.5 L300.1 603.0 L300.6 603.5 L301.1 604.0 L302.0 604.4 L302.5 604.9 L303.0 605.4 L303.6 605.5 L304.1 606.0 L305.0 606.4 L305.5 606.9 L306.5 606.9 L307.0 607.4 L308.0 607.4 L308.1 608.0 L308.1 609.0 L307.6 609.5 L307.6 610.5 L307.6 611.5 L307.6 612.5 L307.6 613.5 L307.6 614.5 L307.6 615.5 L308.0 616.4 L308.1 617.0 L308.1 618.0 L308.6 618.5 L308.6 619.5 L309.1 620.0 L309.5 620.9 L309.6 621.5 L310.1 622.0 L310.5 622.9 L311.0 623.4 L311.1 624.0 L310.6 624.5 L310.1 625.0 L310.0 625.6 L309.6 626.5 L309.5 627.1 L309.1 628.0 L309.1 629.0 L309.1 630.0 L309.1 631.0 L309.1 632.0 L309.6 632.5 L309.6 633.5 L310.1 634.0 L310.5 634.9 L311.0 635.4 L311.5 635.9 L311.6 636.5 L312.5 636.9 L313.0 637.4 L313.5 637.9 L314.1 638.0 L315.0 638.4 L315.5 638.9 L316.5 638.9 L317.5 638.9 L318.5 638.9 L319.5 638.9 L320.5 638.9 L321.4 638.5Z M342.0 510.1 L341.0 510.3 L340.0 510.4 L339.0 510.4 L338.0 510.3 L337.0 510.2 L336.3 510.0 L335.5 509.8 L334.7 509.5 L334.0 509.3 L333.5 509.0 L332.6 508.5 L332.0 508.1 L331.5 507.8 L331.0 507.4 L330.5 506.9 L330.0 506.4 L329.5 505.9 L329.0 505.3 L328.5 504.5 L328.1 504.0 L327.9 503.5 L327.5 502.7 L327.1 502.0 L327.0 501.5 L326.7 500.5 L326.5 499.5 L326.5 499.0 L326.3 498.0 L326.3 497.0 L326.4 496.0 L326.5 495.4 L326.6 494.5 L327.0 493.5 L327.1 493.0 L327.5 492.1 L327.7 491.5 L328.0 491.0 L328.5 490.2 L329.0 489.5 L329.4 489.0 L329.9 488.5 L330.4 488.0 L331.0 487.5 L331.5 487.0 L332.0 486.7 L332.5 486.4 L333.1 486.0 L334.0 485.6 L334.5 485.4 L335.5 485.0 L336.0 484.9 L337.0 484.6 L338.0 484.5 L338.5 484.5 L339.5 484.5 L340.4 484.5 L341.0 484.5 L342.0 484.7 L343.0 485.0 L343.5 485.1 L344.4 485.5 L345.0 485.7 L345.5 486.0 L346.3 486.5 L347.0 487.0 L347.5 487.4 L348.0 487.8 L348.5 488.3 L349.0 488.8 L349.5 489.4 L350.0 490.0 L350.3 490.5 L350.6 491.0 L351.0 491.9 L351.3 492.5 L351.5 493.0 L351.8 494.0 L352.0 494.9 L352.1 495.5 L352.3 496.5 L352.3 497.5 L352.2 498.5 L352.1 499.5 L352.0 500.0 L351.8 501.0 L351.5 501.7 L351.2 502.5 L351.0 503.0 L350.5 503.9 L350.1 504.5 L349.8 505.0 L349.4 505.5 L349.0 506.0 L348.5 506.5 L348.0 507.0 L347.4 507.5 L346.8 508.0 L346.0 508.5 L345.5 508.8 L345.0 509.0 L344.0 509.5 L343.5 509.7 L342.5 510.0 L342.0 510.1Z M342.5 557.5 L341.5 557.8 L340.5 557.9 L339.5 557.9 L338.5 557.9 L337.5 557.8 L336.5 557.6 L336.0 557.5 L335.0 557.3 L334.3 557.0 L333.5 556.7 L333.0 556.5 L332.1 556.0 L331.5 555.6 L331.0 555.3 L330.5 554.9 L330.0 554.5 L329.5 554.0 L329.0 553.5 L328.5 553.0 L328.0 552.4 L327.5 551.8 L327.0 551.0 L326.7 550.5 L326.5 550.0 L326.0 549.0 L325.8 548.5 L325.5 547.6 L325.3 547.0 L325.1 546.0 L325.0 545.1 L324.9 544.5 L324.9 543.5 L324.9 542.5 L325.0 541.9 L325.1 541.0 L325.3 540.0 L325.5 539.4 L325.8 538.5 L326.0 538.0 L326.5 537.0 L326.7 536.5 L327.0 536.0 L327.5 535.2 L328.0 534.6 L328.5 534.0 L329.0 533.5 L329.5 533.0 L330.0 532.5 L330.5 532.1 L331.0 531.7 L331.5 531.4 L332.1 531.0 L333.0 530.5 L333.5 530.3 L334.3 530.0 L335.0 529.7 L336.0 529.5 L336.5 529.4 L337.5 529.2 L338.5 529.1 L339.5 529.1 L340.5 529.1 L341.5 529.2 L342.5 529.5 L343.0 529.6 L344.0 529.9 L344.5 530.1 L345.5 530.5 L346.0 530.7 L346.5 531.0 L347.3 531.5 L348.0 532.0 L348.5 532.4 L349.0 532.9 L349.5 533.3 L350.0 533.9 L350.5 534.5 L350.9 535.0 L351.3 535.5 L351.6 536.0 L352.0 536.7 L352.4 537.5 L352.6 538.0 L353.0 539.0 L353.1 539.5 L353.4 540.5 L353.5 541.2 L353.6 542.0 L353.7 543.0 L353.7 544.0 L353.6 545.0 L353.5 545.8 L353.4 546.5 L353.1 547.5 L353.0 548.0 L352.6 549.0 L352.4 549.5 L352.0 550.3 L351.6 551.0 L351.3 551.5 L350.9 552.0 L350.5 552.5 L350.0 553.1 L349.5 553.7 L349.0 554.1 L348.5 554.6 L348.0 555.0 L347.3 555.5 L346.5 556.0 L346.0 556.3 L345.5 556.5 L344.5 556.9 L344.0 557.1 L343.0 557.4 L342.5 557.5Z M340.0 602.5 L339.0 602.5 L338.2 602.5 L337.5 602.4 L336.5 602.3 L335.6 602.0 L335.0 601.9 L334.2 601.5 L333.5 601.2 L333.0 600.9 L332.3 600.5 L331.6 600.0 L331.0 599.5 L330.5 599.1 L330.0 598.6 L329.5 598.1 L329.0 597.5 L328.6 597.0 L328.3 596.5 L328.0 595.9 L327.5 595.0 L327.3 594.5 L327.0 593.6 L326.8 593.0 L326.5 592.0 L326.5 591.5 L326.4 590.5 L326.3 589.5 L326.4 588.5 L326.5 587.7 L326.6 587.0 L326.8 586.0 L327.0 585.5 L327.4 584.5 L327.6 584.0 L328.0 583.3 L328.5 582.5 L328.8 582.0 L329.2 581.5 L329.6 581.0 L330.1 580.5 L330.6 580.0 L331.2 579.5 L331.9 579.0 L332.5 578.6 L333.0 578.2 L333.5 578.0 L334.5 577.5 L335.0 577.4 L336.0 577.1 L336.5 577.0 L337.5 576.7 L338.5 576.6 L339.5 576.6 L340.5 576.7 L341.5 576.8 L342.3 577.0 L343.0 577.1 L343.9 577.5 L344.5 577.7 L345.1 578.0 L346.0 578.5 L346.5 578.8 L347.0 579.1 L347.5 579.6 L348.0 580.0 L348.5 580.5 L349.0 581.0 L349.5 581.6 L350.0 582.3 L350.5 583.0 L350.8 583.5 L351.0 584.0 L351.4 585.0 L351.6 585.5 L351.9 586.5 L352.0 587.1 L352.2 588.0 L352.3 589.0 L352.3 590.0 L352.2 591.0 L352.0 592.0 L351.9 592.5 L351.7 593.5 L351.5 594.0 L351.1 595.0 L350.9 595.5 L350.5 596.1 L350.0 596.9 L349.6 597.5 L349.2 598.0 L348.7 598.5 L348.2 599.0 L347.7 599.5 L347.0 600.0 L346.5 600.4 L346.0 600.7 L345.5 601.0 L344.5 601.5 L344.0 601.7 L343.0 602.0 L342.5 602.2 L341.5 602.4 L340.5 602.5 L340.0 602.5Z" fill="#f45552" fill-rule="evenodd"/>
</g></g>
<defs><radialGradient id="cball" cx="0.38" cy="0.35" r="0.7"><stop offset="0" stop-color="#e8e8e8"/><stop offset="0.35" stop-color="#9a9a9a"/><stop offset="1" stop-color="#505050"/></radialGradient><radialGradient id="oball" cx="0.38" cy="0.35" r="0.7"><stop offset="0" stop-color="#ffb0a0"/><stop offset="0.3" stop-color="#f01010"/><stop offset="1" stop-color="#8a0000"/></radialGradient><radialGradient id="hball" cx="0.38" cy="0.35" r="0.7"><stop offset="0" stop-color="#ffffff"/><stop offset="0.5" stop-color="#f0f0f0"/><stop offset="1" stop-color="#a0a0a0"/></radialGradient><radialGradient id="sball" cx="0.38" cy="0.35" r="0.7"><stop offset="0" stop-color="#ffffb0"/><stop offset="0.35" stop-color="#e8e020"/><stop offset="1" stop-color="#908800"/></radialGradient></defs>
<line x1="326.2" y1="474.3" x2="352.4" y2="474.3" stroke="#3a3a3a" stroke-width="5.6"/>
<line x1="352.4" y1="474.3" x2="365.6" y2="497.4" stroke="#3a3a3a" stroke-width="5.6"/>
<line x1="365.6" y1="497.4" x2="352.4" y2="520.4" stroke="#3a3a3a" stroke-width="5.6"/>
<line x1="352.4" y1="520.4" x2="326.2" y2="520.4" stroke="#3a3a3a" stroke-width="5.6"/>
<line x1="326.2" y1="520.4" x2="313.0" y2="497.4" stroke="#3a3a3a" stroke-width="5.6"/>
<line x1="313.0" y1="497.4" x2="326.2" y2="474.3" stroke="#3a3a3a" stroke-width="5.6"/>
<line x1="326.2" y1="520.5" x2="352.4" y2="520.5" stroke="#3a3a3a" stroke-width="5.6"/>
<line x1="352.4" y1="520.5" x2="365.6" y2="543.5" stroke="#3a3a3a" stroke-width="5.6"/>
<line x1="365.6" y1="543.5" x2="352.4" y2="566.5" stroke="#3a3a3a" stroke-width="5.6"/>
<line x1="352.4" y1="566.5" x2="326.2" y2="566.5" stroke="#3a3a3a" stroke-width="5.6"/>
<line x1="326.2" y1="566.5" x2="313.0" y2="543.5" stroke="#3a3a3a" stroke-width="5.6"/>
<line x1="313.0" y1="543.5" x2="326.2" y2="520.5" stroke="#3a3a3a" stroke-width="5.6"/>
<line x1="326.2" y1="566.6" x2="352.4" y2="566.6" stroke="#3a3a3a" stroke-width="5.6"/>
<line x1="352.4" y1="566.6" x2="365.6" y2="589.6" stroke="#3a3a3a" stroke-width="5.6"/>
<line x1="365.6" y1="589.6" x2="352.4" y2="612.6" stroke="#3a3a3a" stroke-width="5.6"/>
<line x1="352.4" y1="612.6" x2="326.2" y2="612.6" stroke="#3a3a3a" stroke-width="5.6"/>
<line x1="326.2" y1="612.6" x2="313.0" y2="589.6" stroke="#3a3a3a" stroke-width="5.6"/>
<line x1="313.0" y1="589.6" x2="326.2" y2="566.6" stroke="#3a3a3a" stroke-width="5.6"/>
<line x1="326.2" y1="474.3" x2="308.2" y2="447.3" stroke="#3a3a3a" stroke-width="5.6"/>
<line x1="308.2" y1="447.3" x2="327.2" y2="426.1" stroke="#3a3a3a" stroke-width="5.6"/>
<line x1="308.2" y1="447.3" x2="292.4" y2="448.0" stroke="#3a3a3a" stroke-width="5.6"/>
<line x1="352.4" y1="474.3" x2="365.5" y2="452.6" stroke="#3a3a3a" stroke-width="5.6"/>
<line x1="365.5" y1="452.6" x2="352.8" y2="438.8" stroke="#3a3a3a" stroke-width="5.6"/>
<line x1="365.6" y1="497.4" x2="390.0" y2="495.0" stroke="#3a3a3a" stroke-width="5.6"/>
<line x1="390.0" y1="495.0" x2="396.3" y2="514.2" stroke="#3a3a3a" stroke-width="5.6"/>
<line x1="313.0" y1="497.4" x2="292.6" y2="497.6" stroke="#3a3a3a" stroke-width="5.6"/>
<line x1="313.0" y1="543.5" x2="289.0" y2="544.6" stroke="#3a3a3a" stroke-width="5.6"/>
<line x1="365.6" y1="543.5" x2="391.0" y2="543.6" stroke="#3a3a3a" stroke-width="5.6"/>
<line x1="313.0" y1="589.6" x2="294.3" y2="590.0" stroke="#3a3a3a" stroke-width="5.6"/>
<line x1="365.6" y1="589.6" x2="386.8" y2="588.5" stroke="#3a3a3a" stroke-width="5.6"/>
<line x1="326.2" y1="612.6" x2="318.3" y2="629.8" stroke="#3a3a3a" stroke-width="5.6"/>
<line x1="352.4" y1="612.6" x2="364.2" y2="628.8" stroke="#3a3a3a" stroke-width="5.6"/>
<line x1="326.2" y1="474.3" x2="339.3" y2="474.3" stroke="#808080" stroke-width="4.2"/>
<line x1="326.2" y1="474.3" x2="339.3" y2="474.3" stroke="#d0d0d0" stroke-width="1.6"/>
<line x1="352.4" y1="474.3" x2="339.3" y2="474.3" stroke="#808080" stroke-width="4.2"/>
<line x1="352.4" y1="474.3" x2="339.3" y2="474.3" stroke="#d0d0d0" stroke-width="1.6"/>
<line x1="352.4" y1="474.3" x2="359.0" y2="485.9" stroke="#808080" stroke-width="4.2"/>
<line x1="352.4" y1="474.3" x2="359.0" y2="485.9" stroke="#d0d0d0" stroke-width="1.6"/>
<line x1="365.6" y1="497.4" x2="359.0" y2="485.9" stroke="#808080" stroke-width="4.2"/>
<line x1="365.6" y1="497.4" x2="359.0" y2="485.9" stroke="#d0d0d0" stroke-width="1.6"/>
<line x1="365.6" y1="497.4" x2="359.0" y2="508.9" stroke="#808080" stroke-width="4.2"/>
<line x1="365.6" y1="497.4" x2="359.0" y2="508.9" stroke="#d0d0d0" stroke-width="1.6"/>
<line x1="352.4" y1="520.4" x2="359.0" y2="508.9" stroke="#808080" stroke-width="4.2"/>
<line x1="352.4" y1="520.4" x2="359.0" y2="508.9" stroke="#d0d0d0" stroke-width="1.6"/>
<line x1="352.4" y1="520.4" x2="339.3" y2="520.4" stroke="#808080" stroke-width="4.2"/>
<line x1="352.4" y1="520.4" x2="339.3" y2="520.4" stroke="#d0d0d0" stroke-width="1.6"/>
<line x1="326.2" y1="520.4" x2="339.3" y2="520.4" stroke="#808080" stroke-width="4.2"/>
<line x1="326.2" y1="520.4" x2="339.3" y2="520.4" stroke="#d0d0d0" stroke-width="1.6"/>
<line x1="326.2" y1="520.4" x2="319.6" y2="508.9" stroke="#808080" stroke-width="4.2"/>
<line x1="326.2" y1="520.4" x2="319.6" y2="508.9" stroke="#d0d0d0" stroke-width="1.6"/>
<line x1="313.0" y1="497.4" x2="319.6" y2="508.9" stroke="#808080" stroke-width="4.2"/>
<line x1="313.0" y1="497.4" x2="319.6" y2="508.9" stroke="#d0d0d0" stroke-width="1.6"/>
<line x1="313.0" y1="497.4" x2="319.6" y2="485.9" stroke="#808080" stroke-width="4.2"/>
<line x1="313.0" y1="497.4" x2="319.6" y2="485.9" stroke="#d0d0d0" stroke-width="1.6"/>
<line x1="326.2" y1="474.3" x2="319.6" y2="485.9" stroke="#808080" stroke-width="4.2"/>
<line x1="326.2" y1="474.3" x2="319.6" y2="485.9" stroke="#d0d0d0" stroke-width="1.6"/>
<line x1="326.2" y1="520.5" x2="339.3" y2="520.5" stroke="#808080" stroke-width="4.2"/>
<line x1="326.2" y1="520.5" x2="339.3" y2="520.5" stroke="#d0d0d0" stroke-width="1.6"/>
<line x1="352.4" y1="520.5" x2="339.3" y2="520.5" stroke="#808080" stroke-width="4.2"/>
<line x1="352.4" y1="520.5" x2="339.3" y2="520.5" stroke="#d0d0d0" stroke-width="1.6"/>
<line x1="352.4" y1="520.5" x2="359.0" y2="532.0" stroke="#808080" stroke-width="4.2"/>
<line x1="352.4" y1="520.5" x2="359.0" y2="532.0" stroke="#d0d0d0" stroke-width="1.6"/>
<line x1="365.6" y1="543.5" x2="359.0" y2="532.0" stroke="#808080" stroke-width="4.2"/>
<line x1="365.6" y1="543.5" x2="359.0" y2="532.0" stroke="#d0d0d0" stroke-width="1.6"/>
<line x1="365.6" y1="543.5" x2="359.0" y2="555.0" stroke="#808080" stroke-width="4.2"/>
<line x1="365.6" y1="543.5" x2="359.0" y2="555.0" stroke="#d0d0d0" stroke-width="1.6"/>
<line x1="352.4" y1="566.5" x2="359.0" y2="555.0" stroke="#808080" stroke-width="4.2"/>
<line x1="352.4" y1="566.5" x2="359.0" y2="555.0" stroke="#d0d0d0" stroke-width="1.6"/>
<line x1="352.4" y1="566.5" x2="339.3" y2="566.5" stroke="#808080" stroke-width="4.2"/>
<line x1="352.4" y1="566.5" x2="339.3" y2="566.5" stroke="#d0d0d0" stroke-width="1.6"/>
<line x1="326.2" y1="566.5" x2="339.3" y2="566.5" stroke="#808080" stroke-width="4.2"/>
<line x1="326.2" y1="566.5" x2="339.3" y2="566.5" stroke="#d0d0d0" stroke-width="1.6"/>
<line x1="326.2" y1="566.5" x2="319.6" y2="555.0" stroke="#808080" stroke-width="4.2"/>
<line x1="326.2" y1="566.5" x2="319.6" y2="555.0" stroke="#d0d0d0" stroke-width="1.6"/>
<line x1="313.0" y1="543.5" x2="319.6" y2="555.0" stroke="#808080" stroke-width="4.2"/>
<line x1="313.0" y1="543.5" x2="319.6" y2="555.0" stroke="#d0d0d0" stroke-width="1.6"/>
<line x1="313.0" y1="543.5" x2="319.6" y2="532.0" stroke="#808080" stroke-width="4.2"/>
<line x1="313.0" y1="543.5" x2="319.6" y2="532.0" stroke="#d0d0d0" stroke-width="1.6"/>
<line x1="326.2" y1="520.5" x2="319.6" y2="532.0" stroke="#808080" stroke-width="4.2"/>
<line x1="326.2" y1="520.5" x2="319.6" y2="532.0" stroke="#d0d0d0" stroke-width="1.6"/>
<line x1="326.2" y1="566.6" x2="339.3" y2="566.6" stroke="#808080" stroke-width="4.2"/>
<line x1="326.2" y1="566.6" x2="339.3" y2="566.6" stroke="#d0d0d0" stroke-width="1.6"/>
<line x1="352.4" y1="566.6" x2="339.3" y2="566.6" stroke="#808080" stroke-width="4.2"/>
<line x1="352.4" y1="566.6" x2="339.3" y2="566.6" stroke="#d0d0d0" stroke-width="1.6"/>
<line x1="352.4" y1="566.6" x2="359.0" y2="578.1" stroke="#808080" stroke-width="4.2"/>
<line x1="352.4" y1="566.6" x2="359.0" y2="578.1" stroke="#d0d0d0" stroke-width="1.6"/>
<line x1="365.6" y1="589.6" x2="359.0" y2="578.1" stroke="#808080" stroke-width="4.2"/>
<line x1="365.6" y1="589.6" x2="359.0" y2="578.1" stroke="#d0d0d0" stroke-width="1.6"/>
<line x1="365.6" y1="589.6" x2="359.0" y2="601.1" stroke="#808080" stroke-width="4.2"/>
<line x1="365.6" y1="589.6" x2="359.0" y2="601.1" stroke="#d0d0d0" stroke-width="1.6"/>
<line x1="352.4" y1="612.6" x2="359.0" y2="601.1" stroke="#808080" stroke-width="4.2"/>
<line x1="352.4" y1="612.6" x2="359.0" y2="601.1" stroke="#d0d0d0" stroke-width="1.6"/>
<line x1="352.4" y1="612.6" x2="339.3" y2="612.6" stroke="#808080" stroke-width="4.2"/>
<line x1="352.4" y1="612.6" x2="339.3" y2="612.6" stroke="#d0d0d0" stroke-width="1.6"/>
<line x1="326.2" y1="612.6" x2="339.3" y2="612.6" stroke="#808080" stroke-width="4.2"/>
<line x1="326.2" y1="612.6" x2="339.3" y2="612.6" stroke="#d0d0d0" stroke-width="1.6"/>
<line x1="326.2" y1="612.6" x2="319.6" y2="601.1" stroke="#808080" stroke-width="4.2"/>
<line x1="326.2" y1="612.6" x2="319.6" y2="601.1" stroke="#d0d0d0" stroke-width="1.6"/>
<line x1="313.0" y1="589.6" x2="319.6" y2="601.1" stroke="#808080" stroke-width="4.2"/>
<line x1="313.0" y1="589.6" x2="319.6" y2="601.1" stroke="#d0d0d0" stroke-width="1.6"/>
<line x1="313.0" y1="589.6" x2="319.6" y2="578.1" stroke="#808080" stroke-width="4.2"/>
<line x1="313.0" y1="589.6" x2="319.6" y2="578.1" stroke="#d0d0d0" stroke-width="1.6"/>
<line x1="326.2" y1="566.6" x2="319.6" y2="578.1" stroke="#808080" stroke-width="4.2"/>
<line x1="326.2" y1="566.6" x2="319.6" y2="578.1" stroke="#d0d0d0" stroke-width="1.6"/>
<line x1="326.2" y1="474.3" x2="317.2" y2="460.8" stroke="#808080" stroke-width="4.2"/>
<line x1="326.2" y1="474.3" x2="317.2" y2="460.8" stroke="#d0d0d0" stroke-width="1.6"/>
<line x1="308.2" y1="447.3" x2="317.2" y2="460.8" stroke="#b8b010" stroke-width="4.2"/>
<line x1="308.2" y1="447.3" x2="317.2" y2="460.8" stroke="#f8f070" stroke-width="1.6"/>
<line x1="308.2" y1="447.3" x2="317.7" y2="436.7" stroke="#b8b010" stroke-width="4.2"/>
<line x1="308.2" y1="447.3" x2="317.7" y2="436.7" stroke="#f8f070" stroke-width="1.6"/>
<line x1="327.2" y1="426.1" x2="317.7" y2="436.7" stroke="#c01010" stroke-width="4.2"/>
<line x1="327.2" y1="426.1" x2="317.7" y2="436.7" stroke="#ff6a6a" stroke-width="1.6"/>
<line x1="308.2" y1="447.3" x2="300.3" y2="447.6" stroke="#b8b010" stroke-width="4.2"/>
<line x1="308.2" y1="447.3" x2="300.3" y2="447.6" stroke="#f8f070" stroke-width="1.6"/>
<line x1="292.4" y1="448.0" x2="300.3" y2="447.6" stroke="#c01010" stroke-width="4.2"/>
<line x1="292.4" y1="448.0" x2="300.3" y2="447.6" stroke="#ff6a6a" stroke-width="1.6"/>
<line x1="352.4" y1="474.3" x2="359.0" y2="463.5" stroke="#808080" stroke-width="4.2"/>
<line x1="352.4" y1="474.3" x2="359.0" y2="463.5" stroke="#d0d0d0" stroke-width="1.6"/>
<line x1="365.5" y1="452.6" x2="359.0" y2="463.5" stroke="#c01010" stroke-width="4.2"/>
<line x1="365.5" y1="452.6" x2="359.0" y2="463.5" stroke="#ff6a6a" stroke-width="1.6"/>
<line x1="365.5" y1="452.6" x2="359.1" y2="445.7" stroke="#c01010" stroke-width="4.2"/>
<line x1="365.5" y1="452.6" x2="359.1" y2="445.7" stroke="#ff6a6a" stroke-width="1.6"/>
<line x1="352.8" y1="438.8" x2="359.1" y2="445.7" stroke="#b8b8b8" stroke-width="4.2"/>
<line x1="352.8" y1="438.8" x2="359.1" y2="445.7" stroke="#ffffff" stroke-width="1.6"/>
<line x1="365.6" y1="497.4" x2="377.8" y2="496.2" stroke="#808080" stroke-width="4.2"/>
<line x1="365.6" y1="497.4" x2="377.8" y2="496.2" stroke="#d0d0d0" stroke-width="1.6"/>
<line x1="390.0" y1="495.0" x2="377.8" y2="496.2" stroke="#c01010" stroke-width="4.2"/>
<line x1="390.0" y1="495.0" x2="377.8" y2="496.2" stroke="#ff6a6a" stroke-width="1.6"/>
<line x1="390.0" y1="495.0" x2="393.1" y2="504.6" stroke="#c01010" stroke-width="4.2"/>
<line x1="390.0" y1="495.0" x2="393.1" y2="504.6" stroke="#ff6a6a" stroke-width="1.6"/>
<line x1="396.3" y1="514.2" x2="393.1" y2="504.6" stroke="#b8b8b8" stroke-width="4.2"/>
<line x1="396.3" y1="514.2" x2="393.1" y2="504.6" stroke="#ffffff" stroke-width="1.6"/>
<line x1="313.0" y1="497.4" x2="302.8" y2="497.5" stroke="#808080" stroke-width="4.2"/>
<line x1="313.0" y1="497.4" x2="302.8" y2="497.5" stroke="#d0d0d0" stroke-width="1.6"/>
<line x1="292.6" y1="497.6" x2="302.8" y2="497.5" stroke="#b8b8b8" stroke-width="4.2"/>
<line x1="292.6" y1="497.6" x2="302.8" y2="497.5" stroke="#ffffff" stroke-width="1.6"/>
<line x1="313.0" y1="543.5" x2="301.0" y2="544.0" stroke="#808080" stroke-width="4.2"/>
<line x1="313.0" y1="543.5" x2="301.0" y2="544.0" stroke="#d0d0d0" stroke-width="1.6"/>
<line x1="289.0" y1="544.6" x2="301.0" y2="544.0" stroke="#c01010" stroke-width="4.2"/>
<line x1="289.0" y1="544.6" x2="301.0" y2="544.0" stroke="#ff6a6a" stroke-width="1.6"/>
<line x1="365.6" y1="543.5" x2="378.3" y2="543.5" stroke="#808080" stroke-width="4.2"/>
<line x1="365.6" y1="543.5" x2="378.3" y2="543.5" stroke="#d0d0d0" stroke-width="1.6"/>
<line x1="391.0" y1="543.6" x2="378.3" y2="543.5" stroke="#c01010" stroke-width="4.2"/>
<line x1="391.0" y1="543.6" x2="378.3" y2="543.5" stroke="#ff6a6a" stroke-width="1.6"/>
<line x1="313.0" y1="589.6" x2="303.6" y2="589.8" stroke="#808080" stroke-width="4.2"/>
<line x1="313.0" y1="589.6" x2="303.6" y2="589.8" stroke="#d0d0d0" stroke-width="1.6"/>
<line x1="294.3" y1="590.0" x2="303.6" y2="589.8" stroke="#b8b8b8" stroke-width="4.2"/>
<line x1="294.3" y1="590.0" x2="303.6" y2="589.8" stroke="#ffffff" stroke-width="1.6"/>
<line x1="365.6" y1="589.6" x2="376.2" y2="589.0" stroke="#808080" stroke-width="4.2"/>
<line x1="365.6" y1="589.6" x2="376.2" y2="589.0" stroke="#d0d0d0" stroke-width="1.6"/>
<line x1="386.8" y1="588.5" x2="376.2" y2="589.0" stroke="#b8b8b8" stroke-width="4.2"/>
<line x1="386.8" y1="588.5" x2="376.2" y2="589.0" stroke="#ffffff" stroke-width="1.6"/>
<line x1="326.2" y1="612.6" x2="322.2" y2="621.2" stroke="#808080" stroke-width="4.2"/>
<line x1="326.2" y1="612.6" x2="322.2" y2="621.2" stroke="#d0d0d0" stroke-width="1.6"/>
<line x1="318.3" y1="629.8" x2="322.2" y2="621.2" stroke="#b8b8b8" stroke-width="4.2"/>
<line x1="318.3" y1="629.8" x2="322.2" y2="621.2" stroke="#ffffff" stroke-width="1.6"/>
<line x1="352.4" y1="612.6" x2="358.3" y2="620.7" stroke="#808080" stroke-width="4.2"/>
<line x1="352.4" y1="612.6" x2="358.3" y2="620.7" stroke="#d0d0d0" stroke-width="1.6"/>
<line x1="364.2" y1="628.8" x2="358.3" y2="620.7" stroke="#b8b8b8" stroke-width="4.2"/>
<line x1="364.2" y1="628.8" x2="358.3" y2="620.7" stroke="#ffffff" stroke-width="1.6"/>
<circle cx="326.2" cy="474.3" r="6.9" fill="url(#cball)" stroke="#2a2a2a" stroke-width="0.9"/>
<circle cx="352.4" cy="474.3" r="6.9" fill="url(#cball)" stroke="#2a2a2a" stroke-width="0.9"/>
<circle cx="365.6" cy="497.4" r="6.9" fill="url(#cball)" stroke="#2a2a2a" stroke-width="0.9"/>
<circle cx="352.4" cy="520.4" r="6.9" fill="url(#cball)" stroke="#2a2a2a" stroke-width="0.9"/>
<circle cx="326.2" cy="520.4" r="6.9" fill="url(#cball)" stroke="#2a2a2a" stroke-width="0.9"/>
<circle cx="313.0" cy="497.4" r="6.9" fill="url(#cball)" stroke="#2a2a2a" stroke-width="0.9"/>
<circle cx="365.6" cy="543.5" r="6.9" fill="url(#cball)" stroke="#2a2a2a" stroke-width="0.9"/>
<circle cx="352.4" cy="566.5" r="6.9" fill="url(#cball)" stroke="#2a2a2a" stroke-width="0.9"/>
<circle cx="326.2" cy="566.5" r="6.9" fill="url(#cball)" stroke="#2a2a2a" stroke-width="0.9"/>
<circle cx="313.0" cy="543.5" r="6.9" fill="url(#cball)" stroke="#2a2a2a" stroke-width="0.9"/>
<circle cx="365.6" cy="589.6" r="6.9" fill="url(#cball)" stroke="#2a2a2a" stroke-width="0.9"/>
<circle cx="352.4" cy="612.6" r="6.9" fill="url(#cball)" stroke="#2a2a2a" stroke-width="0.9"/>
<circle cx="326.2" cy="612.6" r="6.9" fill="url(#cball)" stroke="#2a2a2a" stroke-width="0.9"/>
<circle cx="313.0" cy="589.6" r="6.9" fill="url(#cball)" stroke="#2a2a2a" stroke-width="0.9"/>
<circle cx="327.2" cy="426.1" r="7.2" fill="url(#oball)" stroke="#400" stroke-width="0.9"/>
<circle cx="292.4" cy="448.0" r="7.2" fill="url(#oball)" stroke="#400" stroke-width="0.9"/>
<circle cx="365.5" cy="452.6" r="7.2" fill="url(#oball)" stroke="#400" stroke-width="0.9"/>
<circle cx="390.0" cy="495.0" r="7.2" fill="url(#oball)" stroke="#400" stroke-width="0.9"/>
<circle cx="289.0" cy="544.6" r="7.2" fill="url(#oball)" stroke="#400" stroke-width="0.9"/>
<circle cx="391.0" cy="543.6" r="7.2" fill="url(#oball)" stroke="#400" stroke-width="0.9"/>
<circle cx="352.8" cy="438.8" r="7.2" fill="url(#hball)" stroke="#444" stroke-width="0.8"/>
<circle cx="396.3" cy="514.2" r="7.2" fill="url(#hball)" stroke="#444" stroke-width="0.8"/>
<circle cx="292.6" cy="497.6" r="7.2" fill="url(#hball)" stroke="#444" stroke-width="0.8"/>
<circle cx="294.3" cy="590.0" r="7.2" fill="url(#hball)" stroke="#444" stroke-width="0.8"/>
<circle cx="386.8" cy="588.5" r="7.2" fill="url(#hball)" stroke="#444" stroke-width="0.8"/>
<circle cx="318.3" cy="629.8" r="7.2" fill="url(#hball)" stroke="#444" stroke-width="0.8"/>
<circle cx="364.2" cy="628.8" r="7.2" fill="url(#hball)" stroke="#444" stroke-width="0.8"/>
<circle cx="308.2" cy="447.3" r="7.4" fill="url(#sball)" stroke="#440" stroke-width="0.8"/>
<defs><linearGradient id="cbar" x1="0" x2="1"><stop offset="0" stop-color="#f06a5a"/><stop offset="0.3" stop-color="#f0e08a"/><stop offset="0.55" stop-color="#d8f0a0"/><stop offset="0.75" stop-color="#58c888"/><stop offset="1" stop-color="#3070f0"/></linearGradient></defs>
<rect x="371" y="394" width="44" height="3.6" fill="url(#cbar)"/>
<g stroke="#5a86ff" stroke-width="1"><line x1="370.0" y1="387.5" x2="370.0" y2="391.5"/><line x1="379.2" y1="387.5" x2="379.2" y2="391.5"/><line x1="388.4" y1="387.5" x2="388.4" y2="391.5"/><line x1="397.6" y1="387.5" x2="397.6" y2="391.5"/><line x1="406.8" y1="387.5" x2="406.8" y2="391.5"/><line x1="416.0" y1="387.5" x2="416.0" y2="391.5"/></g>
<text x="445.00" y="396.30" font-family="Liberation Serif" font-weight="bold" font-size="28" fill="#000" stroke="#000" stroke-width="0.35" text-anchor="middle" >E</text>
<path d="M505.40 575.20 C506.00 567.47 506.47 559.34 507.20 552.00 C507.86 545.34 508.55 538.94 509.50 533.00 C510.35 527.69 511.16 522.08 512.50 518.00 C513.48 515.00 514.45 512.90 516.00 510.50 C517.70 507.88 520.14 505.26 522.50 503.00 C524.82 500.77 527.44 498.78 530.00 497.00 C532.44 495.30 534.75 493.97 537.50 492.50 C540.67 490.80 544.36 489.09 548.00 487.50 C551.84 485.83 556.18 484.26 560.00 482.75 C563.48 481.37 566.65 480.01 570.00 478.80 C573.32 477.60 576.65 476.50 580.00 475.50 C583.32 474.50 586.66 473.60 590.00 472.80 C593.32 472.00 596.66 471.33 600.00 470.70 C603.33 470.07 606.66 469.48 610.00 469.00 C613.33 468.52 616.33 468.18 620.00 467.80 C624.49 467.34 630.00 466.88 635.00 466.50 C640.00 466.12 643.66 465.86 650.00 465.50 C660.98 464.88 686.30 463.83 695.00 463.40 C698.55 463.22 699.23 462.85 702.50 463.00 C708.80 463.29 722.07 466.82 730.00 467.00 C736.01 467.13 740.78 466.35 745.90 465.40 C750.83 464.49 755.92 463.70 760.20 461.50 C764.44 459.32 769.92 451.47 771.50 452.30 C772.90 453.04 771.00 459.77 770.50 463.80 C769.94 468.29 769.31 473.99 768.20 478.00 C767.34 481.10 766.30 483.38 765.00 486.00 C763.65 488.72 762.17 491.82 760.20 494.00 C758.38 496.02 756.40 497.53 753.80 498.80 C750.58 500.37 745.98 501.20 742.00 502.00 C738.04 502.80 734.91 503.16 730.00 503.60 C722.26 504.30 710.79 503.19 700.00 505.00 C686.81 507.22 670.16 513.61 656.90 517.70 C645.44 521.24 633.60 524.84 625.00 528.00 C619.02 530.20 615.03 533.20 610.00 534.20 C605.29 535.13 600.57 533.83 595.80 534.20 C590.90 534.58 585.81 535.63 581.00 536.50 C576.39 537.34 572.08 538.13 567.50 539.30 C562.65 540.54 557.24 541.99 552.70 543.80 C548.59 545.44 545.10 547.44 541.35 549.50 C537.53 551.60 533.82 553.93 530.00 556.30 C526.04 558.76 521.93 561.02 518.00 564.00 C513.72 567.24 509.60 571.47 505.40 575.20" fill="none" stroke="#2323b0" stroke-width="2" stroke-linejoin="round"/>
<path d="M505.40 575.20 C506.00 567.47 506.47 559.34 507.20 552.00 C507.86 545.34 508.55 538.94 509.50 533.00 C510.35 527.69 511.16 522.08 512.50 518.00 C513.48 515.00 514.45 512.90 516.00 510.50 C517.70 507.88 520.14 505.26 522.50 503.00 C524.82 500.77 527.44 498.78 530.00 497.00 C532.44 495.30 534.77 494.03 537.50 492.50 C540.68 490.71 544.41 489.02 548.00 487.00 C551.90 484.80 556.25 482.32 560.00 479.75 C563.56 477.31 567.47 475.08 570.00 472.00 C572.38 469.11 573.39 465.51 575.00 462.00 C576.73 458.21 578.39 454.18 580.00 450.00 C581.73 445.53 583.31 440.57 585.00 436.00 C586.64 431.58 588.01 426.38 590.00 423.00 C591.49 420.47 593.24 417.18 595.00 417.00 C596.59 416.84 598.47 419.28 600.00 421.00 C601.86 423.09 603.25 426.58 605.00 429.00 C606.60 431.20 607.86 433.16 610.00 435.00 C612.62 437.24 616.57 439.48 620.00 441.00 C623.25 442.43 626.64 443.25 630.00 444.00 C633.31 444.74 636.23 445.03 640.00 445.50 C644.89 446.11 650.14 446.44 656.90 447.20 C667.06 448.34 682.62 449.80 695.00 451.90 C706.96 453.93 718.70 458.00 730.00 459.50 C740.38 460.88 752.72 462.67 760.20 461.00 C765.06 459.92 769.99 453.98 771.50 455.00 C772.77 455.86 770.96 460.68 770.50 464.00 C769.93 468.16 769.31 474.03 768.20 478.00 C767.34 481.09 766.30 483.38 765.00 486.00 C763.65 488.72 762.13 491.71 760.20 494.00 C758.36 496.18 756.45 498.12 753.80 499.50 C750.61 501.16 745.97 501.67 742.00 502.50 C738.03 503.33 734.98 503.85 730.00 504.50 C721.91 505.55 709.15 504.94 698.00 507.50 C684.97 510.50 669.86 519.05 656.90 522.90 C645.72 526.22 633.63 527.83 625.00 530.00 C619.04 531.50 614.74 533.20 610.00 534.20 C605.83 535.08 601.35 534.45 598.10 535.90 C595.31 537.15 593.28 539.21 591.30 541.60 C589.03 544.35 587.25 548.07 585.60 551.80 C583.77 555.93 582.43 560.50 581.00 565.40 C579.37 570.99 578.00 577.54 576.50 583.60 C575.00 589.64 574.11 597.67 572.00 601.70 C570.72 604.13 568.93 606.92 567.50 606.80 C565.88 606.67 564.45 602.25 562.90 599.50 C561.02 596.16 559.31 591.73 557.20 588.10 C555.13 584.54 553.11 580.77 550.40 577.90 C547.79 575.14 544.55 572.68 541.35 571.10 C538.39 569.64 534.79 569.07 532.00 568.50 C529.80 568.05 528.00 567.78 526.00 567.70 C524.00 567.62 522.03 567.65 520.00 568.00 C517.81 568.38 515.55 568.95 513.30 570.00 C510.69 571.22 508.03 573.47 505.40 575.20" fill="none" stroke="#3ee03e" stroke-width="2.3" stroke-linejoin="round"/>
<rect x="500" y="402.5" width="291.20000000000005" height="214.5" fill="none" stroke="#111" stroke-width="1.6"/>
<line x1="505.75" y1="617" x2="505.75" y2="613" stroke="#111" stroke-width="1.3"/>
<line x1="524.75" y1="617" x2="524.75" y2="614.5" stroke="#111" stroke-width="1.3"/>
<line x1="543.75" y1="617" x2="543.75" y2="613" stroke="#111" stroke-width="1.3"/>
<line x1="562.75" y1="617" x2="562.75" y2="614.5" stroke="#111" stroke-width="1.3"/>
<line x1="581.75" y1="617" x2="581.75" y2="613" stroke="#111" stroke-width="1.3"/>
<line x1="600.75" y1="617" x2="600.75" y2="614.5" stroke="#111" stroke-width="1.3"/>
<line x1="619.75" y1="617" x2="619.75" y2="613" stroke="#111" stroke-width="1.3"/>
<line x1="638.75" y1="617" x2="638.75" y2="614.5" stroke="#111" stroke-width="1.3"/>
<line x1="657.75" y1="617" x2="657.75" y2="613" stroke="#111" stroke-width="1.3"/>
<line x1="676.75" y1="617" x2="676.75" y2="614.5" stroke="#111" stroke-width="1.3"/>
<line x1="695.75" y1="617" x2="695.75" y2="613" stroke="#111" stroke-width="1.3"/>
<line x1="714.75" y1="617" x2="714.75" y2="614.5" stroke="#111" stroke-width="1.3"/>
<line x1="733.75" y1="617" x2="733.75" y2="613" stroke="#111" stroke-width="1.3"/>
<line x1="752.75" y1="617" x2="752.75" y2="614.5" stroke="#111" stroke-width="1.3"/>
<line x1="771.75" y1="617" x2="771.75" y2="613" stroke="#111" stroke-width="1.3"/>
<line x1="500" y1="616.75" x2="502.5" y2="616.75" stroke="#111" stroke-width="1.3"/>
<line x1="500" y1="592.95" x2="504" y2="592.95" stroke="#111" stroke-width="1.3"/>
<line x1="500" y1="569.15" x2="502.5" y2="569.15" stroke="#111" stroke-width="1.3"/>
<line x1="500" y1="545.35" x2="504" y2="545.35" stroke="#111" stroke-width="1.3"/>
<line x1="500" y1="521.55" x2="502.5" y2="521.55" stroke="#111" stroke-width="1.3"/>
<line x1="500" y1="497.75" x2="504" y2="497.75" stroke="#111" stroke-width="1.3"/>
<line x1="500" y1="473.95" x2="502.5" y2="473.95" stroke="#111" stroke-width="1.3"/>
<line x1="500" y1="450.15" x2="504" y2="450.15" stroke="#111" stroke-width="1.3"/>
<line x1="500" y1="426.35" x2="502.5" y2="426.35" stroke="#111" stroke-width="1.3"/>
<line x1="500" y1="402.55" x2="504" y2="402.55" stroke="#111" stroke-width="1.3"/>
<text x="505.75" y="635.00" font-family="Liberation Serif" font-weight="bold" font-size="17" fill="#000" stroke="#000" stroke-width="0.35" text-anchor="middle" >0.2</text>
<text x="543.75" y="635.00" font-family="Liberation Serif" font-weight="bold" font-size="17" fill="#000" stroke="#000" stroke-width="0.35" text-anchor="middle" >0.4</text>
<text x="581.75" y="635.00" font-family="Liberation Serif" font-weight="bold" font-size="17" fill="#000" stroke="#000" stroke-width="0.35" text-anchor="middle" >0.6</text>
<text x="619.75" y="635.00" font-family="Liberation Serif" font-weight="bold" font-size="17" fill="#000" stroke="#000" stroke-width="0.35" text-anchor="middle" >0.8</text>
<text x="657.75" y="635.00" font-family="Liberation Serif" font-weight="bold" font-size="17" fill="#000" stroke="#000" stroke-width="0.35" text-anchor="middle" >1.0</text>
<text x="695.75" y="635.00" font-family="Liberation Serif" font-weight="bold" font-size="17" fill="#000" stroke="#000" stroke-width="0.35" text-anchor="middle" >1.2</text>
<text x="733.75" y="635.00" font-family="Liberation Serif" font-weight="bold" font-size="17" fill="#000" stroke="#000" stroke-width="0.35" text-anchor="middle" >1.4</text>
<text x="771.75" y="635.00" font-family="Liberation Serif" font-weight="bold" font-size="17" fill="#000" stroke="#000" stroke-width="0.35" text-anchor="middle" >1.6</text>
<text x="494.00" y="408.35" font-family="Liberation Serif" font-weight="bold" font-size="17" fill="#000" stroke="#000" stroke-width="0.35" text-anchor="end" >0.2</text>
<text x="494.00" y="455.95" font-family="Liberation Serif" font-weight="bold" font-size="17" fill="#000" stroke="#000" stroke-width="0.35" text-anchor="end" >0.1</text>
<text x="494.00" y="503.55" font-family="Liberation Serif" font-weight="bold" font-size="17" fill="#000" stroke="#000" stroke-width="0.35" text-anchor="end" >0.0</text>
<text x="494.00" y="551.15" font-family="Liberation Serif" font-weight="bold" font-size="17" fill="#000" stroke="#000" stroke-width="0.35" text-anchor="end" >-0.1</text>
<text x="494.00" y="598.75" font-family="Liberation Serif" font-weight="bold" font-size="17" fill="#000" stroke="#000" stroke-width="0.35" text-anchor="end" >-0.2</text>
<text x="645.60" y="664.00" font-family="Liberation Serif" font-weight="bold" font-size="23.2" fill="#000" stroke="#000" stroke-width="0.35" text-anchor="middle" >Voltage (V)</text>
<text transform="translate(458,503.7) rotate(-90)" font-family="Liberation Serif" font-weight="bold" font-size="23.3" stroke="#000" stroke-width="0.35" text-anchor="middle">Current (mA)</text>
<line x1="620.7" y1="566.9" x2="660.4" y2="566.9" stroke="#2323b0" stroke-width="2"/>
<line x1="620.7" y1="587.8" x2="660.4" y2="587.8" stroke="#3ee03e" stroke-width="2"/>
<text x="665.10" y="572.50" font-family="Liberation Serif" font-weight="bold" font-size="17.1" fill="#000" stroke="#000" stroke-width="0.35" text-anchor="start" >Without addit</text>
<text x="665.10" y="592.70" font-family="Liberation Serif" font-weight="bold" font-size="17.1" fill="#000" stroke="#000" stroke-width="0.35" text-anchor="start" >With AR</text>
<text x="13.60" y="702.20" font-family="Liberation Serif" font-weight="bold" font-size="28.5" fill="#000" stroke="#000" stroke-width="0.35" text-anchor="middle" >D</text>
<path d="M95.00 742.20 L96.45 742.20 L97.10 747.20 L97.75 742.20 L99.20 742.20 L99.85 747.20 L100.50 742.20 L101.95 742.20 L102.60 747.20 L103.25 742.20 L104.70 742.20 L105.35 747.20 L106.00 742.20 L107.45 742.20 L108.10 747.20 L108.75 742.20 L110.20 742.20 L110.85 747.20 L111.50 742.20 L112.95 742.20 L113.60 747.20 L114.25 742.20 L115.70 742.20 L116.35 747.20 L117.00 742.20 L118.45 742.20 L119.10 747.20 L119.75 742.20 L121.20 742.20 L121.85 747.20 L122.50 742.20 L123.95 742.20 L124.60 747.20 L125.25 742.20 L126.70 742.20 L127.35 747.20 L128.00 742.20 L129.45 742.20 L130.10 747.20 L130.75 742.20 L132.20 742.20 L132.85 747.20 L133.50 742.20 L134.95 742.20 L135.60 747.20 L136.25 742.20 L137.70 742.20 L138.35 747.20 L139.00 742.20 L140.45 742.20 L141.10 747.20 L141.75 742.20 L143.20 742.20 L143.85 747.20 L144.50 742.20 L145.95 742.20 L146.60 747.20 L147.25 742.20 L148.70 742.20 L149.35 747.20 L150.00 742.20 L151.45 742.20 L152.10 747.20 L152.75 742.20 L154.20 742.20 L154.85 747.20 L155.50 742.20 L156.95 742.20 L157.60 747.20 L158.25 742.20 L159.70 742.20 L160.35 747.20 L161.00 742.20 L162.45 742.20 L163.10 747.20 L163.75 742.20 L165.20 742.20 L165.85 747.20 L166.50 742.20 L167.95 742.20 L168.60 747.20 L169.25 742.20 L170.70 742.20 L171.35 747.20 L172.00 742.20 L173.45 742.20 L174.10 747.20 L174.75 742.20 L176.20 742.20 L176.85 747.20 L177.50 742.20 L178.95 742.20 L179.60 747.20 L180.25 742.20 L181.70 742.20 L182.35 747.20 L183.00 742.20 L184.45 742.20 L185.10 747.20 L185.75 742.20 L187.20 742.20 L187.85 747.20 L188.50 742.20 L189.95 742.20 L190.60 747.20 L191.25 742.20 L192.70 742.20 L193.35 747.20 L194.00 742.20 L195.45 742.20 L196.10 747.20 L196.75 742.20 L198.20 742.20 L198.85 747.20 L199.50 742.20 L200.95 742.20 L201.60 747.20 L202.25 742.20 L203.70 742.20 L204.35 747.20 L205.00 742.20 L206.45 742.20 L207.10 747.20 L207.75 742.20 L209.20 742.20 L209.85 747.20 L210.50 742.20 L211.95 742.20 L212.60 747.20 L213.25 742.20 L214.70 742.20 L215.35 747.20 L216.00 742.20 L217.45 742.20 L218.10 747.20 L218.75 742.20 L220.20 742.20 L220.85 747.20 L221.50 742.20 L222.95 742.20 L223.60 747.20 L224.25 742.20 L225.70 742.20 L226.35 747.20 L227.00 742.20 L228.45 742.20 L229.10 747.20 L229.75 742.20 L231.20 742.20 L231.85 747.20 L232.50 742.20 L233.95 742.20 L234.60 747.20 L235.25 742.20 L236.70 742.20 L237.35 747.20 L238.00 742.20 L239.45 742.20 L240.10 747.20 L240.75 742.20 L242.20 742.20 L242.85 747.20 L243.50 742.20 L244.95 742.20 L245.60 747.20 L246.25 742.20 L247.70 742.20 L248.35 747.20 L249.00 742.20 L250.45 742.20 L251.10 747.20 L251.75 742.20 L253.20 742.20 L253.85 747.20 L254.50 742.20 L255.95 742.20 L256.60 747.20 L257.25 742.20 L258.70 742.20 L259.35 747.20 L260.00 742.20 L261.45 742.20 L262.10 747.20 L262.75 742.20 L264.20 742.20 L264.85 747.20 L265.50 742.20 L266.95 742.20 L267.60 747.20 L268.25 742.20 L269.70 742.20 L270.35 747.20 L271.00 742.20 L272.45 742.20 L273.10 747.20 L273.75 742.20 L275.20 742.20 L275.85 747.20 L276.50 742.20 L277.95 742.20 L278.60 747.20 L279.25 742.20 L280.70 742.20 L281.35 747.20 L282.00 742.20 L283.45 742.20 L284.10 747.20 L284.75 742.20 L286.20 742.20 L286.85 747.20 L287.50 742.20 L288.95 742.20 L289.60 747.20 L290.25 742.20 L291.70 742.20 L292.35 747.20 L293.00 742.20 L294.45 742.20 L295.10 747.20 L295.75 742.20 L297.20 742.20 L297.85 747.20 L298.50 742.20 L299.95 742.20 L300.60 747.20 L301.25 742.20 L302.70 742.20 L303.35 747.20 L304.00 742.20 L305.45 742.20 L306.10 747.20 L306.75 742.20 L308.20 742.20 L308.85 747.20 L309.50 742.20 L310.95 742.20 L311.60 747.20 L312.25 742.20 L313.70 742.20 L314.35 747.20 L315.00 742.20 L316.45 742.20 L317.10 747.20 L317.75 742.20 L319.20 742.20 L319.85 747.20 L320.50 742.20 L321.95 742.20 L322.60 747.20 L323.25 742.20 L324.70 742.20 L325.35 747.20 L326.00 742.20 L327.45 742.20 L328.10 747.20 L328.75 742.20 L330.20 742.20 L330.85 747.20 L331.50 742.20 L332.95 742.20 L333.60 747.20 L334.25 742.20 L335.70 742.20 L336.35 747.20 L337.00 742.20 L338.45 742.20 L339.10 747.20 L339.75 742.20 L341.20 742.20 L341.85 747.20 L342.50 742.20 L343.95 742.20 L344.60 747.20 L345.25 742.20 L346.70 742.20 L347.35 747.20 L348.00 742.20 L349.45 742.20 L350.10 747.20 L350.75 742.20 L352.20 742.20 L352.85 747.20 L353.50 742.20 L354.95 742.20 L355.60 747.20 L356.25 742.20 L357.70 742.20 L358.35 747.20 L359.00 742.20 L360.45 742.20 L361.10 747.20 L361.75 742.20 L363.20 742.20 L363.85 747.20 L364.50 742.20 L365.95 742.20 L366.60 747.20 L367.25 742.20 L368.70 742.20 L369.35 747.20 L370.00 742.20 L371.45 742.20 L372.10 747.20 L372.75 742.20 L374.20 742.20 L374.85 747.20 L375.50 742.20 L376.95 742.20 L377.60 747.20 L378.25 742.20 L379.70 742.20 L380.35 747.20 L381.00 742.20 L382.45 742.20 L383.10 747.20 L383.75 742.20 L385.20 742.20 L385.85 747.20 L386.50 742.20 L387.95 742.20 L388.60 747.20 L389.25 742.20 L390.70 742.20 L391.35 747.20 L392.00 742.20 L393.45 742.20 L394.10 747.20 L394.75 742.20 L396.20 742.20 L396.85 747.20 L397.50 742.20 L398.95 742.20 L399.60 747.20 L400.25 742.20 L401.70 742.20 L402.35 747.20 L403.00 742.20 L404.45 742.20 L405.10 747.20 L405.75 742.20 L407.20 742.20 L407.85 747.20 L408.50 742.20 L409.95 742.20 L410.60 747.20 L411.25 742.20 L412.70 742.20 L413.35 747.20 L414.00 742.20 L415.45 742.20 L416.10 747.20 L416.75 742.20 L418.20 742.20 L418.85 747.20 L419.50 742.20 L420.95 742.20 L421.60 747.20 L422.25 742.20 L423.70 742.20 L424.35 747.20 L425.00 742.20 L426.45 742.20 L427.10 747.20 L427.75 742.20 L429.20 742.20 L429.85 747.20 L430.50 742.20 L431.95 742.20 L432.60 747.20 L433.25 742.20 L434.70 742.20 L435.35 747.20 L436.00 742.20 L437.45 742.20 L438.10 747.20 L438.75 742.20 L440.20 742.20 L440.85 747.20 L441.50 742.20 L442.95 742.20 L443.60 747.20 L444.25 742.20 L445.70 742.20 L446.35 747.20 L447.00 742.20 L448.45 742.20 L449.10 747.20 L449.75 742.20 L451.20 742.20 L451.85 747.20 L452.50 742.20 L453.95 742.20 L454.60 747.20 L455.25 742.20 L456.70 742.20 L457.35 747.20 L458.00 742.20 L459.45 742.20 L460.10 747.20 L460.75 742.20 L462.20 742.20 L462.85 747.20 L463.50 742.20 L464.95 742.20 L465.60 747.20 L466.25 742.20 L467.70 742.20 L468.35 747.20 L469.00 742.20 L470.45 742.20 L471.10 747.20 L471.75 742.20 L473.20 742.20 L473.85 747.20 L474.50 742.20 L475.95 742.20 L476.60 747.20 L477.25 742.20 L478.70 742.20 L479.35 747.20 L480.00 742.20 L481.45 742.20 L482.10 747.20 L482.75 742.20 L484.20 742.20 L484.85 747.20 L485.50 742.20 L486.95 742.20 L487.60 747.20 L488.25 742.20 L489.70 742.20 L490.35 747.20 L491.00 742.20 L492.45 742.20 L493.10 747.20 L493.75 742.20 L495.20 742.20 L495.85 747.20 L496.50 742.20 L497.95 742.20 L498.60 747.20 L499.25 742.20 L500.70 742.20 L501.35 747.20 L502.00 742.20 L503.45 742.20 L504.10 747.20 L504.75 742.19 L506.20 742.19 L506.85 747.19 L507.50 742.18 L508.95 742.17 L509.60 747.18 L510.25 742.16 L511.70 742.15 L512.35 747.16 L513.00 742.14 L514.45 742.12 L515.10 747.14 L515.75 742.10 L517.20 742.08 L517.85 747.10 L518.50 742.06 L519.95 742.03 L520.60 747.06 L521.25 742.01 L522.70 741.98 L523.35 747.01 L524.00 741.94 L525.45 741.91 L526.10 746.94 L526.75 741.87 L528.20 741.83 L528.85 746.87 L529.50 741.79 L530.95 741.74 L531.60 746.79 L532.25 741.70 L533.70 741.64 L534.35 746.70 L535.00 741.59 L536.45 741.53 L537.10 746.59 L537.75 741.48 L539.20 741.41 L539.85 746.48 L540.50 741.35 L541.95 741.28 L542.60 746.35 L543.25 741.21 L544.70 741.13 L545.35 746.21 L546.00 741.06 L547.45 740.98 L548.10 746.06 L548.75 740.90 L550.20 740.81 L550.85 745.90 L551.50 740.72 L552.95 740.63 L553.60 745.72 L554.25 740.54 L555.70 740.43 L556.35 745.54 L557.00 740.33 L558.45 740.22 L559.10 745.33 L559.75 740.12 L561.20 740.00 L561.85 745.12 L562.50 739.89 L563.95 739.77 L564.60 744.89 L565.25 739.65 L566.70 739.52 L567.35 744.65 L568.00 739.40 L569.45 739.26 L570.10 744.40 L570.75 739.13 L572.20 738.99 L572.85 744.13 L573.50 738.85 L574.95 738.70 L575.60 743.85 L576.25 738.56 L577.70 738.40 L578.35 743.56 L579.00 738.25 L580.45 738.08 L581.10 743.25 L581.75 737.92 L583.20 737.75 L583.85 742.92 L584.50 737.59 L585.95 737.40 L586.60 742.59 L587.25 737.23 L588.70 737.04 L589.35 742.23 L590.00 736.87 L591.45 736.67 L592.10 741.87 L592.75 736.48 L594.20 736.28 L594.85 741.48 L595.50 736.09 L596.95 735.87 L597.60 741.09 L598.25 735.67 L599.70 735.45 L600.35 740.67 L601.00 735.25 L602.45 735.02 L603.10 740.25 L603.75 734.80 L605.20 734.56 L605.85 739.80 L606.50 734.35 L607.95 734.10 L608.60 739.35 L609.25 733.87 L610.70 733.61 L611.35 738.87 L612.00 733.38 L613.45 733.12 L614.10 738.38 L614.75 732.87 L616.20 732.60 L616.85 737.87 L617.50 732.35 L618.95 732.07 L619.60 737.35 L620.25 731.81 L621.70 731.52 L622.35 736.81 L623.00 731.26 L624.45 730.96 L625.10 736.26 L625.75 730.69 L627.20 730.38 L627.85 735.69 L628.50 730.10 L629.95 729.79 L630.60 735.10 L631.25 729.50 L632.70 729.17 L633.35 734.50 L634.00 728.88 L635.45 728.54 L636.10 733.88 L636.75 728.24 L638.20 727.90 L638.85 733.24 L639.50 727.59 L640.95 727.24 L641.60 732.59 L642.25 726.92 L643.70 726.55 L644.35 731.92 L645.00 726.23 L646.45 725.86 L647.10 731.23 L647.75 725.52 L649.20 725.14 L649.85 730.52 L650.50 724.80 L651.95 724.41 L652.60 729.80 L653.25 724.06 L654.70 723.66 L655.35 729.06 L656.00 723.30 L657.45 722.90 L658.10 728.30 L658.75 722.53 L660.20 722.11 L660.85 727.53 L661.50 721.73 L662.95 721.31 L663.60 726.73 L664.25 720.92 L665.70 720.49 L666.35 725.92 L665.00 720.70 L665.00 808.30 L666.35 802.94 L665.70 808.64 L664.25 807.94 L663.60 801.63 L662.95 807.32 L661.50 806.63 L660.85 800.36 L660.20 806.02 L658.75 805.36 L658.10 799.11 L657.45 804.76 L656.00 804.11 L655.35 797.90 L654.70 803.54 L653.25 802.90 L652.60 796.73 L651.95 802.34 L650.50 801.73 L649.85 795.58 L649.20 801.18 L647.75 800.58 L647.10 794.47 L646.45 800.05 L645.00 799.47 L644.35 793.38 L643.70 798.95 L642.25 798.38 L641.60 792.33 L640.95 797.88 L639.50 797.33 L638.85 791.31 L638.20 796.85 L636.75 796.31 L636.10 790.32 L635.45 795.84 L634.00 795.32 L633.35 789.36 L632.70 794.86 L631.25 794.36 L630.60 788.43 L629.95 793.91 L628.50 793.43 L627.85 787.53 L627.20 793.00 L625.75 792.53 L625.10 786.65 L624.45 792.11 L623.00 791.65 L622.35 785.81 L621.70 791.25 L620.25 790.81 L619.60 784.99 L618.95 790.42 L617.50 789.99 L616.85 784.21 L616.20 789.62 L614.75 789.21 L614.10 783.45 L613.45 788.84 L612.00 788.45 L611.35 782.72 L610.70 788.10 L609.25 787.72 L608.60 782.01 L607.95 787.38 L606.50 787.01 L605.85 781.33 L605.20 786.69 L603.75 786.33 L603.10 780.68 L602.45 786.02 L601.00 785.68 L600.35 780.06 L599.70 785.38 L598.25 785.06 L597.60 779.46 L596.95 784.77 L595.50 784.46 L594.85 778.88 L594.20 784.18 L592.75 783.88 L592.10 778.33 L591.45 783.62 L590.00 783.33 L589.35 777.81 L588.70 783.08 L587.25 782.81 L586.60 777.31 L585.95 782.57 L584.50 782.31 L583.85 776.83 L583.20 782.08 L581.75 781.83 L581.10 776.38 L580.45 781.61 L579.00 781.38 L578.35 775.95 L577.70 781.17 L576.25 780.95 L575.60 775.54 L574.95 780.75 L573.50 780.54 L572.85 775.15 L572.20 780.35 L570.75 780.15 L570.10 774.79 L569.45 779.98 L568.00 779.79 L567.35 774.45 L566.70 779.62 L565.25 779.45 L564.60 774.13 L563.95 779.29 L562.50 779.13 L561.85 773.83 L561.20 778.98 L559.75 778.83 L559.10 773.54 L558.45 778.69 L557.00 778.54 L556.35 773.28 L555.70 778.42 L554.25 778.28 L553.60 773.04 L552.95 778.17 L551.50 778.04 L550.85 772.82 L550.20 777.93 L548.75 777.82 L548.10 772.61 L547.45 777.72 L546.00 777.61 L545.35 772.43 L544.70 777.52 L543.25 777.43 L542.60 772.26 L541.95 777.34 L540.50 777.26 L539.85 772.10 L539.20 777.18 L537.75 777.10 L537.10 771.96 L536.45 777.03 L535.00 776.96 L534.35 771.84 L533.70 776.90 L532.25 776.84 L531.60 771.73 L530.95 776.79 L529.50 776.73 L528.85 771.64 L528.20 776.69 L526.75 776.64 L526.10 771.56 L525.45 776.60 L524.00 776.56 L523.35 771.49 L522.70 776.52 L521.25 776.49 L520.60 771.43 L519.95 776.46 L518.50 776.43 L517.85 771.39 L517.20 776.41 L515.75 776.39 L515.10 771.36 L514.45 776.37 L513.00 776.36 L512.35 771.33 L511.70 776.34 L510.25 776.33 L509.60 771.31 L508.95 776.32 L507.50 776.31 L506.85 771.30 L506.20 776.31 L504.75 776.30 L504.10 771.30 L503.45 776.30 L502.00 776.30 L501.35 771.30 L500.70 776.30 L499.25 776.30 L498.60 771.30 L497.95 776.30 L496.50 776.30 L495.85 771.30 L495.20 776.30 L493.75 776.30 L493.10 771.30 L492.45 776.30 L491.00 776.30 L490.35 771.30 L489.70 776.30 L488.25 776.30 L487.60 771.30 L486.95 776.30 L485.50 776.30 L484.85 771.30 L484.20 776.30 L482.75 776.30 L482.10 771.30 L481.45 776.30 L480.00 776.30 L479.35 771.30 L478.70 776.30 L477.25 776.30 L476.60 771.30 L475.95 776.30 L474.50 776.30 L473.85 771.30 L473.20 776.30 L471.75 776.30 L471.10 771.30 L470.45 776.30 L469.00 776.30 L468.35 771.30 L467.70 776.30 L466.25 776.30 L465.60 771.30 L464.95 776.30 L463.50 776.30 L462.85 771.30 L462.20 776.30 L460.75 776.30 L460.10 771.30 L459.45 776.30 L458.00 776.30 L457.35 771.30 L456.70 776.30 L455.25 776.30 L454.60 771.30 L453.95 776.30 L452.50 776.30 L451.85 771.30 L451.20 776.30 L449.75 776.30 L449.10 771.30 L448.45 776.30 L447.00 776.30 L446.35 771.30 L445.70 776.30 L444.25 776.30 L443.60 771.30 L442.95 776.30 L441.50 776.30 L440.85 771.30 L440.20 776.30 L438.75 776.30 L438.10 771.30 L437.45 776.30 L436.00 776.30 L435.35 771.30 L434.70 776.30 L433.25 776.30 L432.60 771.30 L431.95 776.30 L430.50 776.30 L429.85 771.30 L429.20 776.30 L427.75 776.30 L427.10 771.30 L426.45 776.30 L425.00 776.30 L424.35 771.30 L423.70 776.30 L422.25 776.30 L421.60 771.30 L420.95 776.30 L419.50 776.30 L418.85 771.30 L418.20 776.30 L416.75 776.30 L416.10 771.30 L415.45 776.30 L414.00 776.30 L413.35 771.30 L412.70 776.30 L411.25 776.30 L410.60 771.30 L409.95 776.30 L408.50 776.30 L407.85 771.30 L407.20 776.30 L405.75 776.30 L405.10 771.30 L404.45 776.30 L403.00 776.30 L402.35 771.30 L401.70 776.30 L400.25 776.30 L399.60 771.30 L398.95 776.30 L397.50 776.30 L396.85 771.30 L396.20 776.30 L394.75 776.30 L394.10 771.30 L393.45 776.30 L392.00 776.30 L391.35 771.30 L390.70 776.30 L389.25 776.30 L388.60 771.30 L387.95 776.30 L386.50 776.30 L385.85 771.30 L385.20 776.30 L383.75 776.30 L383.10 771.30 L382.45 776.30 L381.00 776.30 L380.35 771.30 L379.70 776.30 L378.25 776.30 L377.60 771.30 L376.95 776.30 L375.50 776.30 L374.85 771.30 L374.20 776.30 L372.75 776.30 L372.10 771.30 L371.45 776.30 L370.00 776.30 L369.35 771.30 L368.70 776.30 L367.25 776.30 L366.60 771.30 L365.95 776.30 L364.50 776.30 L363.85 771.30 L363.20 776.30 L361.75 776.30 L361.10 771.30 L360.45 776.30 L359.00 776.30 L358.35 771.30 L357.70 776.30 L356.25 776.30 L355.60 771.30 L354.95 776.30 L353.50 776.30 L352.85 771.30 L352.20 776.30 L350.75 776.30 L350.10 771.30 L349.45 776.30 L348.00 776.30 L347.35 771.30 L346.70 776.30 L345.25 776.30 L344.60 771.30 L343.95 776.30 L342.50 776.30 L341.85 771.30 L341.20 776.30 L339.75 776.30 L339.10 771.30 L338.45 776.30 L337.00 776.30 L336.35 771.30 L335.70 776.30 L334.25 776.30 L333.60 771.30 L332.95 776.30 L331.50 776.30 L330.85 771.30 L330.20 776.30 L328.75 776.30 L328.10 771.30 L327.45 776.30 L326.00 776.30 L325.35 771.30 L324.70 776.30 L323.25 776.30 L322.60 771.30 L321.95 776.30 L320.50 776.30 L319.85 771.30 L319.20 776.30 L317.75 776.30 L317.10 771.30 L316.45 776.30 L315.00 776.30 L314.35 771.30 L313.70 776.30 L312.25 776.30 L311.60 771.30 L310.95 776.30 L309.50 776.30 L308.85 771.30 L308.20 776.30 L306.75 776.30 L306.10 771.30 L305.45 776.30 L304.00 776.30 L303.35 771.30 L302.70 776.30 L301.25 776.30 L300.60 771.30 L299.95 776.30 L298.50 776.30 L297.85 771.30 L297.20 776.30 L295.75 776.30 L295.10 771.30 L294.45 776.30 L293.00 776.30 L292.35 771.30 L291.70 776.30 L290.25 776.30 L289.60 771.30 L288.95 776.30 L287.50 776.30 L286.85 771.30 L286.20 776.30 L284.75 776.30 L284.10 771.30 L283.45 776.30 L282.00 776.30 L281.35 771.30 L280.70 776.30 L279.25 776.30 L278.60 771.30 L277.95 776.30 L276.50 776.30 L275.85 771.30 L275.20 776.30 L273.75 776.30 L273.10 771.30 L272.45 776.30 L271.00 776.30 L270.35 771.30 L269.70 776.30 L268.25 776.30 L267.60 771.30 L266.95 776.30 L265.50 776.30 L264.85 771.30 L264.20 776.30 L262.75 776.30 L262.10 771.30 L261.45 776.30 L260.00 776.30 L259.35 771.30 L258.70 776.30 L257.25 776.30 L256.60 771.30 L255.95 776.30 L254.50 776.30 L253.85 771.30 L253.20 776.30 L251.75 776.30 L251.10 771.30 L250.45 776.30 L249.00 776.30 L248.35 771.30 L247.70 776.30 L246.25 776.30 L245.60 771.30 L244.95 776.30 L243.50 776.30 L242.85 771.30 L242.20 776.30 L240.75 776.30 L240.10 771.30 L239.45 776.30 L238.00 776.30 L237.35 771.30 L236.70 776.30 L235.25 776.30 L234.60 771.30 L233.95 776.30 L232.50 776.30 L231.85 771.30 L231.20 776.30 L229.75 776.30 L229.10 771.30 L228.45 776.30 L227.00 776.30 L226.35 771.30 L225.70 776.30 L224.25 776.30 L223.60 771.30 L222.95 776.30 L221.50 776.30 L220.85 771.30 L220.20 776.30 L218.75 776.30 L218.10 771.30 L217.45 776.30 L216.00 776.30 L215.35 771.30 L214.70 776.30 L213.25 776.30 L212.60 771.30 L211.95 776.30 L210.50 776.30 L209.85 771.30 L209.20 776.30 L207.75 776.30 L207.10 771.30 L206.45 776.30 L205.00 776.30 L204.35 771.30 L203.70 776.30 L202.25 776.30 L201.60 771.30 L200.95 776.30 L199.50 776.30 L198.85 771.30 L198.20 776.30 L196.75 776.30 L196.10 771.30 L195.45 776.30 L194.00 776.30 L193.35 771.30 L192.70 776.30 L191.25 776.30 L190.60 771.30 L189.95 776.30 L188.50 776.30 L187.85 771.30 L187.20 776.30 L185.75 776.30 L185.10 771.30 L184.45 776.30 L183.00 776.30 L182.35 771.30 L181.70 776.30 L180.25 776.30 L179.60 771.30 L178.95 776.30 L177.50 776.30 L176.85 771.30 L176.20 776.30 L174.75 776.30 L174.10 771.30 L173.45 776.30 L172.00 776.30 L171.35 771.30 L170.70 776.30 L169.25 776.30 L168.60 771.30 L167.95 776.30 L166.50 776.30 L165.85 771.30 L165.20 776.30 L163.75 776.30 L163.10 771.30 L162.45 776.30 L161.00 776.30 L160.35 771.30 L159.70 776.30 L158.25 776.30 L157.60 771.30 L156.95 776.30 L155.50 776.30 L154.85 771.30 L154.20 776.30 L152.75 776.30 L152.10 771.30 L151.45 776.30 L150.00 776.30 L149.35 771.30 L148.70 776.30 L147.25 776.30 L146.60 771.30 L145.95 776.30 L144.50 776.30 L143.85 771.30 L143.20 776.30 L141.75 776.30 L141.10 771.30 L140.45 776.30 L139.00 776.30 L138.35 771.30 L137.70 776.30 L136.25 776.30 L135.60 771.30 L134.95 776.30 L133.50 776.30 L132.85 771.30 L132.20 776.30 L130.75 776.30 L130.10 771.30 L129.45 776.30 L128.00 776.30 L127.35 771.30 L126.70 776.30 L125.25 776.30 L124.60 771.30 L123.95 776.30 L122.50 776.30 L121.85 771.30 L121.20 776.30 L119.75 776.30 L119.10 771.30 L118.45 776.30 L117.00 776.30 L116.35 771.30 L115.70 776.30 L114.25 776.30 L113.60 771.30 L112.95 776.30 L111.50 776.30 L110.85 771.30 L110.20 776.30 L108.75 776.30 L108.10 771.30 L107.45 776.30 L106.00 776.30 L105.35 771.30 L104.70 776.30 L103.25 776.30 L102.60 771.30 L101.95 776.30 L100.50 776.30 L99.85 771.30 L99.20 776.30 L97.75 776.30 L97.10 771.30 L96.45 776.30 L95.00 776.30Z" fill="#0af00e"/>
<line x1="664.5" y1="720.7" x2="664.5" y2="808.3" stroke="#0af00e" stroke-width="1.5"/>
<line x1="665" y1="758.6" x2="768.5" y2="758.6" stroke="#0af00e" stroke-width="5.5"/>
<path d="M97.00 742.20 L98.45 742.20 L99.10 747.70 L99.75 742.20 L101.20 742.20 L101.85 747.70 L102.50 742.20 L103.95 742.20 L104.60 747.70 L105.25 742.20 L106.70 742.20 L107.35 747.70 L108.00 742.20 L109.45 742.20 L110.10 747.70 L110.75 742.20 L112.20 742.20 L112.85 747.70 L113.50 742.20 L114.95 742.20 L115.60 747.70 L116.25 742.20 L117.70 742.20 L118.35 747.70 L119.00 742.20 L120.45 742.20 L121.10 747.70 L121.75 742.20 L123.20 742.20 L123.85 747.70 L124.50 742.20 L125.95 742.20 L126.60 747.70 L127.25 742.20 L128.70 742.20 L129.35 747.70 L130.00 742.20 L131.45 742.20 L132.10 747.70 L132.75 742.20 L134.20 742.20 L134.85 747.70 L135.50 742.20 L136.95 742.20 L137.60 747.70 L138.25 742.20 L139.70 742.20 L140.35 747.70 L141.00 742.20 L142.45 742.20 L143.10 747.70 L143.75 742.20 L145.20 742.20 L145.85 747.70 L146.50 742.20 L147.95 742.20 L148.60 747.70 L149.25 742.20 L150.70 742.20 L151.35 747.70 L152.00 742.20 L153.45 742.20 L154.10 747.70 L154.75 742.20 L156.20 742.20 L156.85 747.70 L157.50 742.20 L158.95 742.20 L159.60 747.70 L160.25 742.20 L161.70 742.20 L162.35 747.70 L163.00 742.20 L164.45 742.20 L165.10 747.70 L165.75 742.20 L167.20 742.20 L167.85 747.70 L168.50 742.20 L169.95 742.20 L170.60 747.70 L171.25 742.20 L172.70 742.20 L173.35 747.70 L174.00 742.20 L175.45 742.20 L176.10 747.70 L176.75 742.20 L178.20 742.20 L178.85 747.70 L179.50 742.20 L180.95 742.20 L181.60 747.70 L182.25 742.20 L183.70 742.20 L184.35 747.70 L185.00 742.20 L186.45 742.20 L187.10 747.70 L187.75 742.20 L189.20 742.20 L189.85 747.70 L190.50 742.20 L191.95 742.20 L192.60 747.70 L193.25 742.20 L194.70 742.20 L195.35 747.70 L196.00 742.20 L197.45 742.20 L198.10 747.70 L198.75 742.20 L200.20 742.20 L200.85 747.70 L201.50 742.20 L202.95 742.20 L203.60 747.70 L204.25 742.20 L205.70 742.20 L206.35 747.70 L207.00 742.20 L208.45 742.20 L209.10 747.70 L209.75 742.20 L211.20 745.01 L211.85 747.70 L212.50 745.57 L213.95 746.18 L214.60 751.07 L215.25 746.74 L216.70 747.36 L217.35 752.24 L218.00 747.91 L219.45 748.53 L220.10 753.41 L220.75 749.08 L222.20 749.70 L222.85 754.58 L223.50 750.25 L224.95 750.87 L225.60 755.75 L226.25 751.42 L227.70 752.50 L228.35 756.53 L229.00 752.50 L230.45 752.50 L231.10 756.70 L231.75 752.50 L233.20 752.50 L233.85 756.70 L234.50 752.50 L235.95 752.50 L236.60 756.70 L237.25 752.46 L238.70 751.29 L239.35 756.68 L240.00 747.39 L241.45 748.15 L242.10 752.89 L242.75 751.73 L244.20 752.48 L244.85 756.28 L245.50 752.50 L246.95 752.50 L247.60 756.70 L248.25 752.50 L249.70 752.50 L250.35 756.70 L251.00 752.50 L252.45 752.50 L253.10 756.70 L253.75 752.50 L255.20 752.49 L255.85 756.70 L256.50 752.41 L257.95 751.96 L258.60 756.64 L259.25 750.61 L260.70 747.38 L261.35 755.54 L262.00 743.67 L263.45 741.50 L264.10 749.17 L264.75 743.06 L266.20 747.10 L266.85 748.56 L267.50 750.19 L268.95 751.90 L269.60 755.69 L270.25 752.37 L271.70 752.48 L272.35 756.71 L273.00 752.50 L274.45 752.50 L275.10 756.70 L275.75 752.50 L277.20 752.50 L277.85 756.70 L278.50 752.50 L279.95 752.50 L280.60 756.70 L281.25 752.50 L282.70 752.50 L283.35 756.70 L284.00 752.50 L285.45 752.41 L286.10 756.70 L286.75 751.94 L288.20 750.80 L288.85 756.31 L289.50 750.62 L290.95 751.73 L291.60 755.38 L292.25 752.36 L293.70 752.49 L294.35 756.60 L295.00 752.50 L296.45 752.50 L297.10 756.70 L297.75 752.47 L299.20 752.32 L299.85 756.68 L300.50 751.82 L301.95 750.40 L302.60 756.30 L303.25 748.19 L304.70 745.53 L305.35 753.69 L306.00 744.50 L307.45 745.76 L308.10 750.00 L308.75 748.19 L310.20 750.60 L310.85 753.69 L311.50 751.82 L312.95 752.34 L313.60 756.69 L314.25 752.47 L315.70 752.50 L316.35 756.71 L316.00 752.50 L316.00 766.51 L316.35 762.37 L315.70 766.52 L314.25 766.61 L313.60 763.17 L312.95 766.94 L311.50 768.03 L310.85 767.23 L310.20 769.97 L308.75 772.73 L308.10 768.37 L307.45 774.37 L306.00 773.87 L305.35 763.54 L304.70 771.69 L303.25 769.04 L302.60 762.27 L301.95 767.50 L300.50 766.75 L299.85 762.30 L299.20 766.56 L297.75 766.51 L297.10 762.30 L296.45 766.50 L295.00 766.50 L294.35 762.26 L293.70 766.50 L292.25 766.50 L291.60 761.74 L290.95 766.50 L289.50 766.50 L288.85 762.13 L288.20 766.50 L286.75 766.50 L286.10 762.30 L285.45 766.50 L284.00 766.50 L283.35 762.30 L282.70 766.50 L281.25 766.50 L280.60 762.30 L279.95 766.50 L278.50 766.50 L277.85 762.30 L277.20 766.50 L275.75 766.50 L275.10 762.30 L274.45 766.50 L273.00 766.51 L272.35 762.48 L271.70 766.55 L270.25 766.82 L269.60 764.32 L268.95 767.66 L267.50 769.82 L266.85 768.95 L266.20 772.53 L264.75 774.45 L264.10 765.35 L263.45 773.68 L262.00 770.85 L261.35 762.11 L260.70 768.45 L259.25 767.04 L258.60 762.28 L257.95 766.62 L256.50 766.52 L255.85 762.30 L255.20 766.50 L253.75 766.50 L253.10 762.30 L252.45 766.50 L251.00 766.50 L250.35 762.30 L249.70 766.50 L248.25 766.50 L247.60 762.30 L246.95 766.50 L245.50 766.50 L244.85 762.34 L244.20 766.51 L242.75 766.88 L242.10 763.56 L241.45 768.68 L240.00 769.06 L239.35 762.30 L238.70 767.10 L237.25 766.52 L236.60 762.30 L235.95 766.50 L234.50 766.50 L233.85 762.30 L233.20 766.50 L231.75 766.50 L231.10 762.30 L230.45 766.50 L229.00 766.50 L228.35 763.34 L227.70 766.50 L226.25 768.45 L225.60 764.28 L224.95 769.08 L223.50 769.78 L222.85 765.61 L222.20 770.41 L220.75 771.11 L220.10 766.94 L219.45 771.74 L218.00 772.44 L217.35 768.26 L216.70 773.06 L215.25 773.76 L214.60 769.59 L213.95 774.39 L212.50 775.09 L211.85 770.80 L211.20 775.72 L209.75 776.30 L209.10 770.80 L208.45 776.30 L207.00 776.30 L206.35 770.80 L205.70 776.30 L204.25 776.30 L203.60 770.80 L202.95 776.30 L201.50 776.30 L200.85 770.80 L200.20 776.30 L198.75 776.30 L198.10 770.80 L197.45 776.30 L196.00 776.30 L195.35 770.80 L194.70 776.30 L193.25 776.30 L192.60 770.80 L191.95 776.30 L190.50 776.30 L189.85 770.80 L189.20 776.30 L187.75 776.30 L187.10 770.80 L186.45 776.30 L185.00 776.30 L184.35 770.80 L183.70 776.30 L182.25 776.30 L181.60 770.80 L180.95 776.30 L179.50 776.30 L178.85 770.80 L178.20 776.30 L176.75 776.30 L176.10 770.80 L175.45 776.30 L174.00 776.30 L173.35 770.80 L172.70 776.30 L171.25 776.30 L170.60 770.80 L169.95 776.30 L168.50 776.30 L167.85 770.80 L167.20 776.30 L165.75 776.30 L165.10 770.80 L164.45 776.30 L163.00 776.30 L162.35 770.80 L161.70 776.30 L160.25 776.30 L159.60 770.80 L158.95 776.30 L157.50 776.30 L156.85 770.80 L156.20 776.30 L154.75 776.30 L154.10 770.80 L153.45 776.30 L152.00 776.30 L151.35 770.80 L150.70 776.30 L149.25 776.30 L148.60 770.80 L147.95 776.30 L146.50 776.30 L145.85 770.80 L145.20 776.30 L143.75 776.30 L143.10 770.80 L142.45 776.30 L141.00 776.30 L140.35 770.80 L139.70 776.30 L138.25 776.30 L137.60 770.80 L136.95 776.30 L135.50 776.30 L134.85 770.80 L134.20 776.30 L132.75 776.30 L132.10 770.80 L131.45 776.30 L130.00 776.30 L129.35 770.80 L128.70 776.30 L127.25 776.30 L126.60 770.80 L125.95 776.30 L124.50 776.30 L123.85 770.80 L123.20 776.30 L121.75 776.30 L121.10 770.80 L120.45 776.30 L119.00 776.30 L118.35 770.80 L117.70 776.30 L116.25 776.30 L115.60 770.80 L114.95 776.30 L113.50 776.30 L112.85 770.80 L112.20 776.30 L110.75 776.30 L110.10 770.80 L109.45 776.30 L108.00 776.30 L107.35 770.80 L106.70 776.30 L105.25 776.30 L104.60 770.80 L103.95 776.30 L102.50 776.30 L101.85 770.80 L101.20 776.30 L99.75 776.30 L99.10 770.80 L98.45 776.30 L97.00 776.30Z" fill="#0000ee"/>
<path d="M95.2 758 L95.2 715 L96.6 715 L96.6 758Z" fill="#0000ee"/>
<rect x="94.7" y="695.8" width="688.9" height="125.20000000000005" fill="none" stroke="#111" stroke-width="1.8"/>
<line x1="95.00" y1="821" x2="95.00" y2="815" stroke="#111" stroke-width="1.5"/>
<line x1="163.70" y1="821" x2="163.70" y2="817" stroke="#111" stroke-width="1.5"/>
<line x1="232.40" y1="821" x2="232.40" y2="815" stroke="#111" stroke-width="1.5"/>
<line x1="301.10" y1="821" x2="301.10" y2="817" stroke="#111" stroke-width="1.5"/>
<line x1="369.80" y1="821" x2="369.80" y2="815" stroke="#111" stroke-width="1.5"/>
<line x1="438.50" y1="821" x2="438.50" y2="817" stroke="#111" stroke-width="1.5"/>
<line x1="507.20" y1="821" x2="507.20" y2="815" stroke="#111" stroke-width="1.5"/>
<line x1="575.90" y1="821" x2="575.90" y2="817" stroke="#111" stroke-width="1.5"/>
<line x1="644.60" y1="821" x2="644.60" y2="815" stroke="#111" stroke-width="1.5"/>
<line x1="713.30" y1="821" x2="713.30" y2="817" stroke="#111" stroke-width="1.5"/>
<line x1="94.7" y1="821.20" x2="100.7" y2="821.20" stroke="#111" stroke-width="1.5"/>
<line x1="94.7" y1="789.85" x2="99.7" y2="789.85" stroke="#111" stroke-width="1.5"/>
<line x1="94.7" y1="758.50" x2="100.7" y2="758.50" stroke="#111" stroke-width="1.5"/>
<line x1="94.7" y1="727.15" x2="99.7" y2="727.15" stroke="#111" stroke-width="1.5"/>
<line x1="94.7" y1="695.80" x2="100.7" y2="695.80" stroke="#111" stroke-width="1.5"/>
<text x="93.00" y="846.20" font-family="Liberation Serif" font-weight="bold" font-size="17.8" fill="#000" stroke="#000" stroke-width="0.35" text-anchor="middle" >0</text>
<text x="232.40" y="846.20" font-family="Liberation Serif" font-weight="bold" font-size="17.8" fill="#000" stroke="#000" stroke-width="0.35" text-anchor="middle" >50</text>
<text x="369.80" y="846.20" font-family="Liberation Serif" font-weight="bold" font-size="17.8" fill="#000" stroke="#000" stroke-width="0.35" text-anchor="middle" >100</text>
<text x="507.20" y="846.20" font-family="Liberation Serif" font-weight="bold" font-size="17.8" fill="#000" stroke="#000" stroke-width="0.35" text-anchor="middle" >150</text>
<text x="644.60" y="846.20" font-family="Liberation Serif" font-weight="bold" font-size="17.8" fill="#000" stroke="#000" stroke-width="0.35" text-anchor="middle" >200</text>
<text x="782.00" y="846.20" font-family="Liberation Serif" font-weight="bold" font-size="17.8" fill="#000" stroke="#000" stroke-width="0.35" text-anchor="middle" >250</text>
<text x="85.50" y="701.80" font-family="Liberation Serif" font-weight="bold" font-size="18" fill="#000" stroke="#000" stroke-width="0.35" text-anchor="end" >0.2</text>
<text x="85.50" y="764.50" font-family="Liberation Serif" font-weight="bold" font-size="18" fill="#000" stroke="#000" stroke-width="0.35" text-anchor="end" >0.0</text>
<text x="85.50" y="827.20" font-family="Liberation Serif" font-weight="bold" font-size="18" fill="#000" stroke="#000" stroke-width="0.35" text-anchor="end" >−0.2</text>
<text x="439.70" y="866.30" font-family="Liberation Serif" font-weight="bold" font-size="23.5" fill="#000" stroke="#000" stroke-width="0.35" text-anchor="middle" >Time (h)</text>
<text transform="translate(47,758.3) rotate(-90)" font-family="Liberation Serif" font-weight="bold" font-size="24.3" stroke="#000" stroke-width="0.35" text-anchor="middle">Voltage (V)</text>
<line x1="214.2" y1="716.2" x2="248.8" y2="716.2" stroke="#0606ee" stroke-width="3.6"/>
<line x1="462.5" y1="716.2" x2="498" y2="716.2" stroke="#12ee12" stroke-width="3.6"/>
<text x="259.20" y="723.00" font-family="Liberation Serif" font-weight="bold" font-size="23.8" fill="#000" stroke="#000" stroke-width="0.35" text-anchor="start" >Without addit</text>
<text x="508.00" y="724.00" font-family="Liberation Serif" font-weight="bold" font-size="23.8" fill="#000" stroke="#000" stroke-width="0.35" text-anchor="start" >With AR</text>
</svg></body></html>
